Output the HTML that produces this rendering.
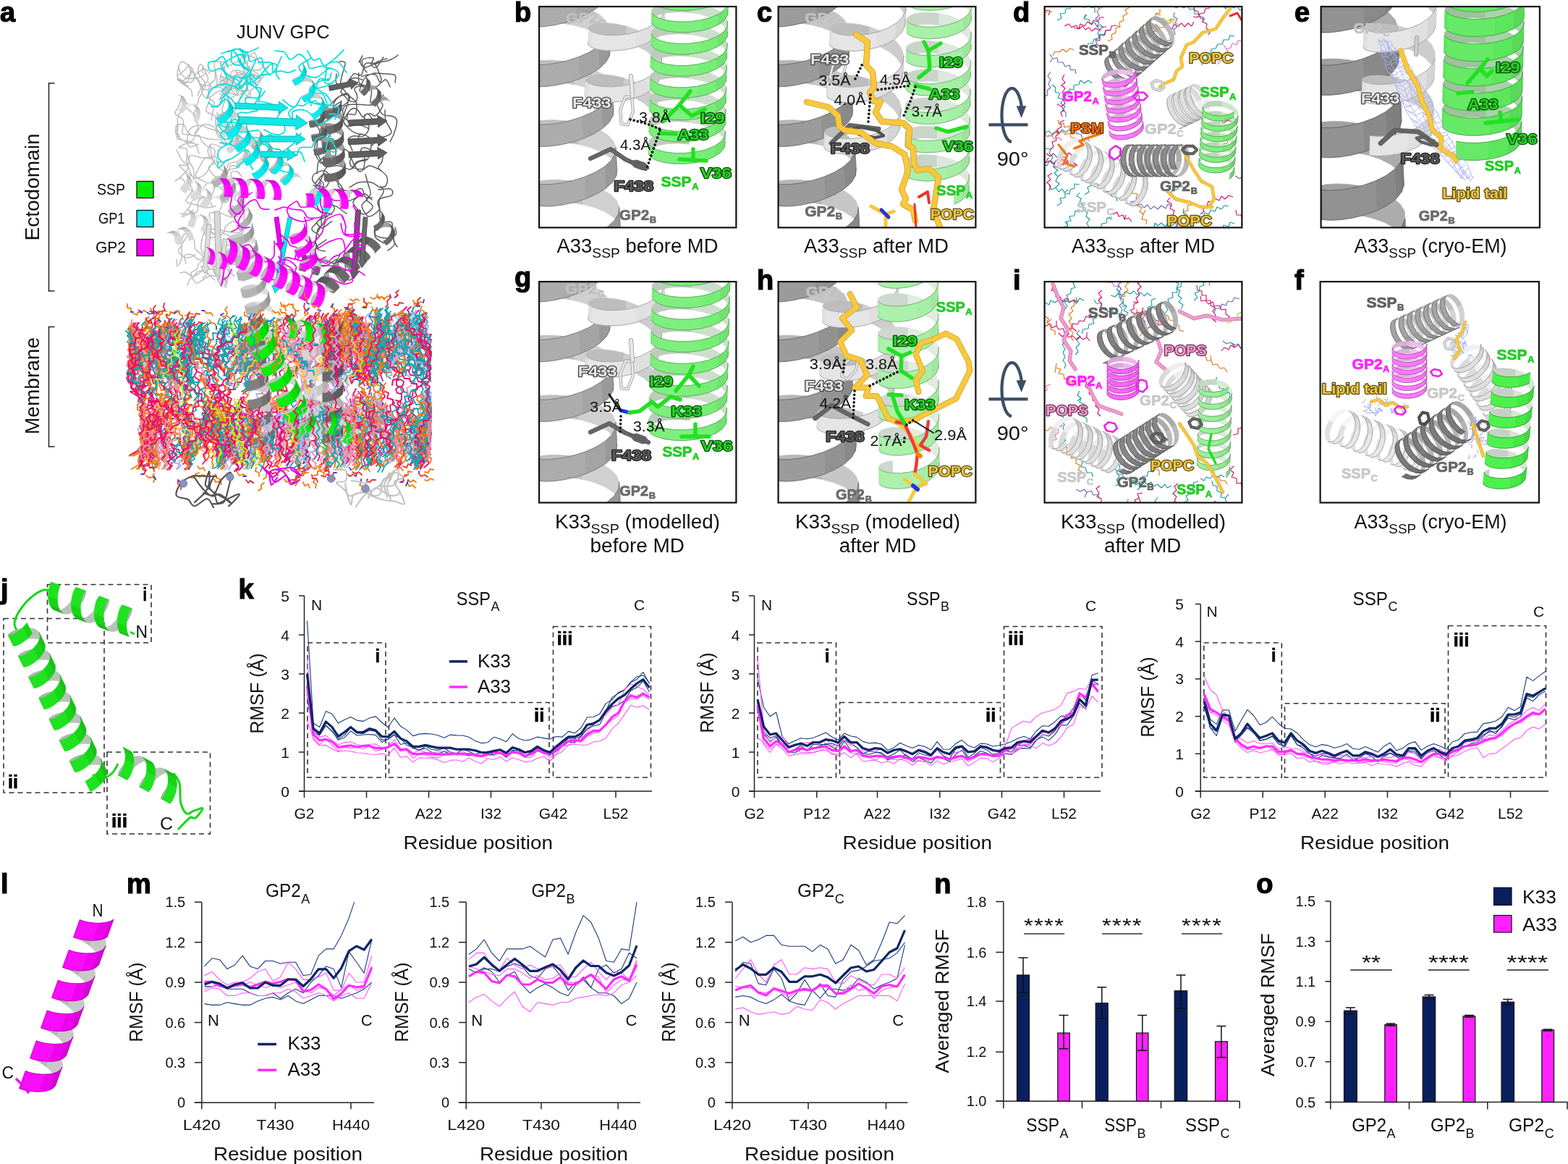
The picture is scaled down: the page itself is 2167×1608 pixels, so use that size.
<!DOCTYPE html>
<html><head><meta charset="utf-8"><title>JUNV GPC figure</title>
<style>html,body{margin:0;padding:0;background:#fff;overflow:hidden}svg{display:block}</style>
</head><body>
<svg width="2167" height="1608" viewBox="0 0 2167 1608" font-family='"Liberation Sans", Arial, sans-serif' fill="#111">
<rect x="0" y="0" width="2167" height="1608" fill="#fff"/>
<defs><clipPath id="cb"><rect x="745" y="9" width="272.5" height="305.5"/></clipPath><clipPath id="cg"><rect x="745" y="389" width="272.5" height="305.5"/></clipPath><clipPath id="cc"><rect x="1075.5" y="9" width="273" height="305.5"/></clipPath><clipPath id="ch"><rect x="1075.5" y="389" width="273" height="305.5"/></clipPath><clipPath id="cd"><rect x="1443.5" y="9" width="273" height="305.5"/></clipPath><clipPath id="ci"><rect x="1443.5" y="389" width="273" height="305.5"/></clipPath><clipPath id="ce"><rect x="1825.5" y="9" width="302.5" height="305.5"/></clipPath><clipPath id="cf"><rect x="1824.5" y="389" width="302.5" height="305.5"/></clipPath></defs>
<text x="327" y="53" font-size="25" textLength="128.5" lengthAdjust="spacingAndGlyphs">JUNV GPC</text>
<line x1="67.5" y1="114.5" x2="67.5" y2="402.5" stroke="#222" stroke-width="1.5"/>
<line x1="66.8" y1="115" x2="75.5" y2="115" stroke="#222" stroke-width="1.5"/>
<line x1="66.8" y1="402" x2="75.5" y2="402" stroke="#222" stroke-width="1.5"/>
<line x1="67.5" y1="451" x2="67.5" y2="617.5" stroke="#222" stroke-width="1.5"/>
<line x1="66.8" y1="451.5" x2="75.5" y2="451.5" stroke="#222" stroke-width="1.5"/>
<line x1="66.8" y1="617" x2="75.5" y2="617" stroke="#222" stroke-width="1.5"/>
<text transform="translate(54 258.5) rotate(-90)" font-size="27" text-anchor="middle" textLength="148" lengthAdjust="spacingAndGlyphs">Ectodomain</text>
<text transform="translate(54 533) rotate(-90)" font-size="27" text-anchor="middle" textLength="134" lengthAdjust="spacingAndGlyphs">Membrane</text>
<text x="134" y="269" font-size="22.5" textLength="39" lengthAdjust="spacingAndGlyphs">SSP</text>
<rect x="189" y="250.5" width="23" height="23" fill="#00ee00" stroke="#111" stroke-width="1.3"/>
<text x="136" y="309" font-size="22.5" textLength="36.5" lengthAdjust="spacingAndGlyphs">GP1</text>
<rect x="189" y="290.5" width="23" height="23" fill="#00f0f0" stroke="#111" stroke-width="1.3"/>
<text x="132" y="349" font-size="22.5" textLength="42" lengthAdjust="spacingAndGlyphs">GP2</text>
<rect x="189" y="330.5" width="23" height="23" fill="#ff00ff" stroke="#111" stroke-width="1.3"/>
<path d="M273 132c1-1 1-4 4-8 2-4 9-10 10-13 2-4-1-6-2-9-1-3-4-9-5-9-1 0 0 7 0 8M333 282c-1-1-8-5-9-8 0-2 7-5 6-6-1-1-8-2-11 0-2 1-2 8-4 10-2 2-8 2-9 2M298 285c-2 0-9 2-14 2-4-1-8-2-12-4-5-1-14-2-15-5-1-4 8-11 9-15 0-4-4-7-3-10 0-2 4-3 5-7 1-3 0-9-1-13-1-4-5-7-6-11-1-3-1-7-2-8M291 137c-1 2-7 12-6 16 1 4 10 4 12 7 2 4 0 12 2 16 1 5 4 6 6 10 3 4 7 11 10 13 2 1 5-1 8-4 2-3 7-10 6-14-2-3-11-7-13-8M272 266c-2-1-8-3-11-5-2-2-3-5-4-7-2-3-4-7-7-8-2 0-8 4-8 4 0-1 5-2 8-6 3-3 10-9 10-13 1-4-5-5-8-9-3-4-7-13-8-15M321 355c-3 0-11-2-15-2-4 0-8 0-10 2-2 2 0 7 0 10-1 2-2 6-4 7-3 1-7-1-10 0-3 1-4 3-7 6-4 2-10 5-12 7-3 3-3 7-4 9M324 382c-1-2-10-8-11-12 0-4 7-8 10-11 3-3 9-5 9-8 1-3-2-9-6-11-4-2-15-1-18-1M284 119c-1 2-5 5-5 8 0 3 4 9 7 9 4 0 10-7 14-9 4-2 6-1 9-3 2-2 5-8 6-10M277 123c1-1 6-5 6-9-1-4-8-9-9-13-1-4 1-12 3-12 1-1 7 8 7 11-1 3-5 6-9 7-5 1-13 2-17 1-5-1-7-5-8-7-2-3-3-7-4-9M323 247c2 1 13 3 13 4 0 1-7 4-11 3-4-2-12-8-13-13-1-4 2-12 5-15 3-3 12-1 15-3 3-3 5-9 6-12 1-4 0-7 0-8M245 172c-1 3-4 9-2 13 2 4 10 9 14 11 4 1 8-1 10-3 2-2 1-5 4-9 2-4 7-11 11-12 4-2 9 1 13 3 4 3 7 11 11 11 4 1 9-8 13-7 4 0 9 9 11 11M314 235c3-1 16-3 17-4 1-1-10-3-12-2-3 2-2 8-4 9-2 1-5-1-8-3-3-2-7-4-9-8-3-3-5-9-6-13-1-4-1-11-1-13M332 134c-1 3-3 12-6 17-2 4-6 9-9 9-3 0-9-3-10-7-1-4 4-12 4-16-1-4-6-7-7-8M270 160c-2-1-8-10-13-10-4 0-9 6-11 10-2 4 0 10 0 15 0 5-3 13-1 16 1 3 5 1 9 3 4 1 12 2 16 5 3 3 4 11 5 13M316 132c0 2-1 9 0 13 1 5 5 8 6 12 2 4 5 10 6 15 0 5-3 9-2 13 2 5 10 10 10 13-1 3-10 6-13 5-3-1-5-7-7-11-2-3-2-8-3-12-1-5-3-12-3-15M285 252c-2-1-12-5-14-8-2-3 1-6 3-10 2-4 6-13 9-15 3-3 7 2 10 0 2-1 5-8 4-11 0-3-7-5-8-6M249 295c2 0 10 1 14 0 4 0 9-1 10-4 2-2-1-9 1-12 1-3 4-6 6-6 3-1 6 2 9 4 2 2 4 7 5 9M310 396c0-2 4-8 2-11-1-2-9-3-13-3-3-1-4-2-8-1-3 1-9 5-13 7-3 1-5 5-7 3-3-2-8-11-7-14 0-3 6-2 8-5 1-2 2-6 2-8M317 170c-1 2-3 12-5 13-3 2-8-1-12-2-4-1-9-3-13-4-3-2-6-4-10-4-5 0-12 2-15 6-3 4-3 13-3 17 0 4 2 6 4 7 3 0 9-3 11-4M300 155c0 2 1 6 1 11 0 5-2 13-2 17 1 4 4 5 6 8 1 2 2 7 5 9 2 1 8-2 9-3M247 148c-1 2-6 6-5 9 1 3 10 5 11 9 2 5-2 15-1 18 1 3 4 1 8 2 4 1 13 2 17 3 5 1 6 2 11 3 4 0 12 1 14 1M304 290c1-1 4-7 3-10-1-3-3-7-7-8-4-1-12 2-16 1-4-1-8-2-8-6 1-3 8-12 11-14 3-2 4 0 8 1 4 2 10 7 14 9 4 2 7 3 8 3M306 204c-2-1-11-6-14-5-3 1-4 6-5 9 0 3 1 5 3 8 1 2 7 6 7 8 0 3-9 4-9 8 1 3 7 11 11 13 3 2 8 0 9 0M274 111c2 2 5 12 9 13 4 1 13-2 16-6 2-3 1-9 0-14 0-4-2-7-2-10-1-3-2-8 1-9 3-1 14 1 16 1M257 364c0-1-3-9-2-11 2-2 6-2 10-1 3 1 8 8 12 7 4 0 6-11 10-12 4-2 10 1 13 5 4 3 4 12 8 14 3 2 8-1 13-1 5 0 14 2 16 0 2-3-3-14-3-16M328 299c-2 0-4 1-9 1-4-1-11-5-16-6-5-1-11-1-13 1-2 1 0 5 0 8-1 3-3 7-2 10 1 4 6 9 7 11M249 377c1 0 5-2 8-1 3 1 6 6 9 6 3 0 5-6 8-7 3-1 6-2 10 0 4 2 10 10 13 12M289 205c-1-2-8-7-10-10-3-3-1-6-4-8-2-1-7 1-10 0-3-2-6-6-8-8-1-3-1-7-4-7-2-1-9 0-10 3 0 3 4 12 5 14M270 247c-2-2-11-8-15-11-3-3-8-6-7-8 0-1 10 2 12 0 3-2-1-12 3-13 3-2 12 3 17 3 6 1 14-3 17-2 4 0 0 7 3 8 3 1 13-2 16-2M267 198c-1 0-6-1-9 0-3 1-11 5-11 6 0 1 9-1 11 2 2 3-1 10 0 15 0 5 2 10 4 15 2 4 3 8 6 10 3 1 8-1 11-2 3-2 6-4 8-8 3-4 7-13 9-15M261 89c-1 1-4 7-7 9-3 3-9 6-9 8 0 2 6 6 9 5 4-1 9-12 12-11 4 1 6 12 10 15 3 3 9 4 12 3 4-1 7-7 9-8M334 362c-1-3-5-13-5-17 0-4 3-4 4-8 0-3-1-9 0-12 0-4 6-7 4-10-1-3-10-9-14-9-4-1-8 4-11 7-2 3-1 7-4 10-4 3-14 5-17 6M267 290c-1 1-4 5-7 6-3 2-9 4-8 3 0-2 7-9 10-13 2-4 2-8 5-10 3-2 9-2 12-3 4 0 8 2 11 0 2-2 5-8 6-12 1-4-3-9-2-12 1-3 7-5 8-6M244 358c0 1 0 10 1 10 1 0 5-7 6-11 1-5 0-10 0-15 0-5 0-13 2-16 1-3 5-4 8-3 3 1 6 6 7 9 2 4 0 8 2 12 3 4 11 9 12 12 1 3-5 6-6 7M283 324c0-1-1-7 2-8 4-1 13 1 18 2 5 0 7 2 12 2 5 1 12 2 16 1 4-1 5-5 6-7 1-3 0-5 0-9 0-5 2-13 0-17-3-3-13-4-16-3-3 0-1 7-2 9M297 97c0 2 1 10 0 13-1 3-5 2-6 6-2 4-4 14-3 18 1 4 7 4 8 7 1 2 0 3-1 8 0 4-3 14-3 17M269 184c1-2 5-5 5-9-1-4-6-12-6-17 0-4 5-8 3-10-1-3-8-3-12-5-3-2-5-10-7-10-2 1-4 12-5 14M264 96c0 2-3 9-2 12 2 2 9-1 11 1 3 1 2 5 3 8 1 3 4 6 4 9 0 3-3 6-5 9-1 3-1 8-3 10-2 2-6 1-9 0-4-1-11-5-13-6M328 237c1 1 6 7 6 7 0 0-4-7-7-7-2-1-7 0-8 2-1 3 4 9 2 12-2 3-12 6-15 8M312 397c1-2 2-10 3-14 0-5 3-8 2-12 0-5-6-10-5-15 1-4 9-10 12-13 2-4 4-6 4-8 0-2-3-4-6-6-4-2-13-7-15-8M296 323c-2-1-9-5-12-4-3 2-4 7-5 12-1 5-2 13 0 17 2 4 8 4 10 6 1 3-2 4-3 8 0 4 1 13 0 17-1 3-5 4-6 5M245 105c0-2 0-6 1-9 1-3 2-10 5-11 3 0 12 6 15 10 2 4 3 12 2 15-1 3-6 4-10 4-4 0-13-5-13-4 0 1 12 7 15 9M321 119c2-1 9-2 12-4 2-3 3-12 5-11 1 1 4 12 3 17-2 4-7 9-11 10-5 1-11-2-15-4-5-1-6-5-10-6-3-1-9 1-11 0-3-1-5-6-6-7M261 321c-1 2-4 8-6 11-2 3-4 5-5 8-2 3-5 6-3 8 1 3 8 8 11 8 4 1 10-3 12-4M337 389c0-2 0-9-1-14 0-5 2-13-1-16-3-4-11-5-15-5-5 0-9 2-13 5-4 3-10 7-11 11-2 3 1 8 2 10M266 133c-1-1 0-6-2-9-1-2-5-3-8-6-4-2-11-8-11-9 0-1 8 7 11 6 3-1 7-10 8-15 0-4-6-12-5-11 1 0 6 12 10 13 4 1 9-6 12-7 4 0 7 5 9 6" fill="none" stroke="#bdbdbd" stroke-width="1.5" stroke-linecap="round" stroke-linejoin="round"/>
<path d="M305 106c2 1 13 3 15 5 2 3-1 6-2 9-2 4-6 12-7 13-1 0 2-9 1-12-1-3-8-4-8-7 0-3 10-7 10-10 1-3-6-5-8-8-1-3-2-10-2-10 1 0 5 7 5 9M336 74c0 2 2 5 3 9 2 4 3 10 5 14 1 4 7 6 6 9-1 3-9 6-12 8-3 3-1 6-5 7-4 2-13 1-17 2-4 1-9 4-7 3 1-1 11-6 14-7M325 98c2 2 7 7 8 10 0 4-2 10-5 11-2 2-9-1-12 0-3 1-2 4-4 7-2 3-9 10-9 11-1 1 5-2 7-5 2-3 6-8 6-11 0-4-5-8-6-9M334 135c1-3 6-10 7-15 0-5 0-13-3-16-4-2-13 0-18 2-4 1-7 7-11 9-3 1-9 1-8 2 1 1 10 1 14 4 5 2 11 11 13 11 1-1-4-12-5-14M331 110c1-2 7-5 8-9 0-4-7-12-7-16 0-4 2-8 6-8 3-1 11 1 15 4 5 3 10 8 10 11 0 3-6 6-10 5-4 0-10-6-13-9-3-3-2-8-5-10-2-2-9-3-11-4M324 105c0 2-1 9 1 13 2 4 11 10 12 10 1 0-6-7-8-10-3-2-4-6-7-6-3 0-9 4-11 5M306 101c0 1-3 7-2 9 2 2 9 4 11 2 3-2 3-12 6-14 4-2 12 0 15 1 3 1 4 6 4 7M304 113c3-1 13-7 17-5 4 2 3 13 7 16 4 3 13 0 16 1 3 2 3 9 1 9-2 0-11-8-13-9M358 89c-1-2-4-15-6-16-3-1-8 7-9 10-2 4-1 9 1 12 2 3 8 3 11 6 2 2 6 8 6 8-1 1-8-5-10-7M317 124c0 2-4 11-3 12 2 1 11-3 14-6 3-3 2-10 5-12 3-3 11 0 15-1 5-1 8-4 11-6 2-2 6-6 6-7-1-1-7 3-8 4M340 137c1-2 4-9 7-12 3-4 9-7 11-10 2-3 3-6 2-8-1-2-6-1-9-3-3-2-6-4-10-8-4-3-9-10-13-11-3-1-6 4-9 5-3 1-7-2-8 0-1 2 0 9 0 11M307 95c1 1 3 5 7 7 3 2 11 5 15 5 3 0 2-5 6-6 3 0 11 3 15 4 4 0 9-1 8 0-1 1-9 6-13 5-5-1-10-10-15-10-4 0-7 10-11 11-4 1-11-5-13-6" fill="none" stroke="#bdbdbd" stroke-width="1.5" stroke-linecap="round" stroke-linejoin="round"/>
<path d="M249.6 262l-.3-.8 .2-1.4 1-1.9 1.5-2.1 2.1-2.2 2.6-2 5.5 4.2-2.5 2-2.1 2.2-1.6 2.1-.9 1.9-.3 1.4 .3 .8zM263.6 272.7l-.3-.9 .2-1.4 1-1.8 1.5-2.2 2.1-2.1 5.6 4.2-2.1 2.1-1.6 2.2-.9 1.8-.3 1.4 .3 .8zM277.6 283.3l-.3-.8 .2-1.4 1-1.9 1.5-2.1 2.1-2.2 2.6-2 5.5 4.2-2.5 2-2.1 2.2-1.6 2.1-.9 1.9-.3 1.4 .3 .8z" fill="#dadada" stroke="#dadada" stroke-width="0.7" stroke-linejoin="round"/>
<path d="M256.7 251.6l2.8-1.6 2.9-1.1 2.8-.5 2.6 .3 2.1 1.1 5.5 4.2-2.1-1.1-2.6-.3-2.8 .5-2.9 1.1-2.8 1.6zM268.1 264.3l2.6-2 2.8-1.7 2.9-1.1 2.8-.4 2.6 .3 2.1 1.1 5.5 4.2-2.1-1.1-2.6-.3-2.8 .4-2.9 1.1-2.8 1.7-2.5 2zM284.7 272.9l2.8-1.6 2.9-1.1 2.8-.4 2.6 .3 2.1 1.1 5.5 4.1-2.1-1-2.6-.3-2.8 .4-2.9 1.1-2.8 1.6z" fill="#eeeeee" stroke="#eeeeee" stroke-width="0.7" stroke-linejoin="round"/>
<path d="M255.9 239.2l1.6 1.7 5.5 4.2-1.6-1.8zM269.9 249.8l1.6 1.8 5.5 4.2-1.6-1.8zM283.9 260.5l1.6 1.8 5.5 4.2-1.6-1.8z" fill="#a5a5a5" stroke="#a5a5a5" stroke-width="0.7" stroke-linejoin="round"/>
<path d="M257.5 240.9l1 2.4 .3 2.8 5.5 4.2-.3-2.8-1-2.4zM271.5 251.6l1 2.4 .3 2.8 5.5 4.2-.3-2.8-1-2.4zM285.5 262.3l1 2.3 .3 2.9 5.5 4.2-.3-2.9-1-2.3z" fill="#b9b9b9" stroke="#b9b9b9" stroke-width="0.7" stroke-linejoin="round"/>
<path d="M258.8 246.1l-.3 3.1-.8 3.2 5.5 4.2 .8-3.2 .3-3.1zM250.4 262.1l-.8-.1 5.5 4.2 .9 .1zM272.8 256.8l-.3 3.1-.8 3.1 5.5 4.2 .8-3.1 .3-3.1zM264.4 272.8l-.8-.1 5.5 4.1 .9 .1zM286.8 267.5l-.3 3.1-.8 3.1 5.5 4.2 .8-3.1 .3-3.1zM278.4 283.4l-.8-.1 5.5 4.2 .9 .1z" fill="#cdcdcd" stroke="#cdcdcd" stroke-width="0.7" stroke-linejoin="round"/>
<path d="M257.7 252.4l-1.3 3-1.5 2.6-1.6 2-1.6 1.4-1.3 .7 5.6 4.2 1.2-.7 1.6-1.4 1.6-2 1.6-2.6 1.2-3zM271.7 263l-1.3 3-1.5 2.6-1.6 2.1-1.6 1.4-1.3 .7 5.6 4.1 1.2-.6 1.6-1.4 1.6-2.1 1.6-2.6 1.2-3zM285.7 273.7l-1.3 3-1.5 2.6-1.6 2.1-1.6 1.4-1.3 .6 5.6 4.2 1.2-.6 1.6-1.4 1.6-2.1 1.6-2.6 1.2-3z" fill="#d9d9d9" stroke="#d9d9d9" stroke-width="0.7" stroke-linejoin="round"/>
<path d="M260.1 311.6l-.3-.6 0-1.3 .5-1.8 1-2.2 1.4-2.3 1.9-2.4 6.4 2.5-1.8 2.4-1.4 2.4-1 2.1-.5 1.9 0 1.2 .3 .6zM278.1 318.6l-.3-.6 0-1.3 .5-1.8 1-2.2 1.4-2.3 1.9-2.4 6.4 2.5-1.8 2.4-1.4 2.4-1 2.1-.5 1.9 0 1.2 .3 .6z" fill="#dadada" stroke="#dadada" stroke-width="0.7" stroke-linejoin="round"/>
<path d="M264.6 301l2.2-2 2.4-1.7 2.5-1 2.4-.3 2.3 .4 6.5 2.5-2.3-.4-2.5 .3-2.5 1-2.4 1.7-2.2 2zM282.6 308l2.2-2 2.4-1.7 2.5-1 2.4-.3 2.3 .4 6.5 2.5-2.3-.4-2.5 .3-2.5 1-2.4 1.7-2.2 2z" fill="#eeeeee" stroke="#eeeeee" stroke-width="0.7" stroke-linejoin="round"/>
<path d="M258.4 289.4l2 1.2 6.4 2.5-1.9-1.2zM276.4 296.4l2 1.2 6.4 2.5-1.9-1.2z" fill="#a5a5a5" stroke="#a5a5a5" stroke-width="0.7" stroke-linejoin="round"/>
<path d="M260.4 290.6l1.6 1.9 1.1 2.5 6.5 2.5-1.2-2.5-1.6-1.9zM278.4 297.6l1.6 1.9 1.1 2.5 6.5 2.5-1.2-2.5-1.6-1.9z" fill="#b9b9b9" stroke="#b9b9b9" stroke-width="0.7" stroke-linejoin="round"/>
<path d="M263.1 295l.7 2.8 .2 3 6.4 2.5-.2-3-.6-2.8zM260.8 311.4l-.7 .2 6.5 2.5 .6-.2zM281.1 302l.7 2.8 .2 3 6.4 2.5-.2-3-.6-2.8zM278.8 318.4l-.7 .2 6.5 2.5 .6-.2z" fill="#cdcdcd" stroke="#cdcdcd" stroke-width="0.7" stroke-linejoin="round"/>
<path d="M264 300.8l-.2 3-.6 2.7-.7 2.3-.9 1.6-.8 1 6.4 2.5 .9-1 .8-1.6 .8-2.3 .5-2.7 .2-3zM282 307.8l-.2 3-.6 2.7-.7 2.3-.9 1.6-.8 1 6.4 2.5 .9-1 .8-1.6 .8-2.3 .5-2.7 .2-3z" fill="#d9d9d9" stroke="#d9d9d9" stroke-width="0.7" stroke-linejoin="round"/>
<path d="M300.3 187.5l.1-.6 .9-.9 1.7-1.3 2.3-1.2 2.8-1.2 3.2-1 4 5.9-3.1 .9-2.9 1.2-2.3 1.3-1.6 1.2-.9 1-.2 .6zM312.9 205.8l.2-.6 .9-.9 1.6-1.2 2.4-1.3 2.8-1.2 4 5.9-2.8 1.2-2.3 1.3-1.7 1.2-.9 .9-.1 .6zM325.6 224.1l.1-.5 1-1 1.6-1.2 2.3-1.3 2.8-1.2 3.2-.9 4.1 5.9-3.2 .9-2.8 1.2-2.3 1.3-1.7 1.2-.9 1-.2 .5z" fill="#dadada" stroke="#dadada" stroke-width="0.7" stroke-linejoin="round"/>
<path d="M311.3 181.3l3.2-.5 3.2-.1 2.9 .6 2.4 1.1 1.7 1.7 4 5.9-1.7-1.7-2.4-1.2-2.8-.5-3.2 0-3.3 .6zM320.8 200.6l3.1-1 3.3-.5 3.2 0 2.8 .5 2.4 1.1 1.8 1.8 4 5.9-1.7-1.8-2.4-1.1-2.9-.6-3.1 .1-3.3 .5-3.2 1zM336.6 218l3.3-.6 3.1 0 2.9 .5 2.4 1.2 1.7 1.7 4.1 5.9-1.8-1.7-2.3-1.2-2.9-.5-3.2 0-3.2 .6z" fill="#eeeeee" stroke="#eeeeee" stroke-width="0.7" stroke-linejoin="round"/>
<path d="M312 165.8l1 2.2 4.1 5.9-1-2.2zM324.7 184.1l1 2.3 4 5.9-1-2.3zM337.4 202.5l1 2.2 4 5.9-1-2.2z" fill="#a5a5a5" stroke="#a5a5a5" stroke-width="0.7" stroke-linejoin="round"/>
<path d="M313 168l.3 2.7-.6 2.8 4.1 5.9 .5-2.9-.2-2.6zM325.7 186.4l.2 2.6-.5 2.9 4.1 5.9 .5-2.9-.3-2.6zM338.4 204.7l.2 2.6-.5 2.9 4 5.9 .5-2.9-.2-2.6z" fill="#b9b9b9" stroke="#b9b9b9" stroke-width="0.7" stroke-linejoin="round"/>
<path d="M312.7 173.5l-1.1 3-1.7 2.9 4.1 5.8 1.7-2.8 1.1-3zM300.8 187.5l-.5 0 4 5.9 .6 0zM325.4 191.9l-1.1 2.9-1.7 2.9 4 5.9 1.7-2.9 1.2-2.9zM313.5 205.9l-.6-.1 4.1 5.9 .6 .1zM338.1 210.2l-1.2 3-1.6 2.8 4 5.9 1.7-2.9 1.1-2.9zM326.2 224.2l-.6-.1 4 5.9 .6 .1z" fill="#cdcdcd" stroke="#cdcdcd" stroke-width="0.7" stroke-linejoin="round"/>
<path d="M309.9 179.4l-2 2.6-2.1 2.2-2 1.7-1.7 1.1-1.3 .5 4.1 5.9 1.2-.5 1.7-1.1 2.1-1.7 2.1-2.2 2-2.7zM322.6 197.7l-2 2.6-2.1 2.2-2.1 1.7-1.7 1.2-1.2 .5 4.1 5.9 1.2-.6 1.7-1.1 2-1.7 2.1-2.2 2-2.6zM335.3 216l-2 2.6-2.2 2.3-2 1.7-1.7 1.1-1.2 .5 4 5.9 1.3-.5 1.7-1.2 2-1.7 2.1-2.2 2-2.6z" fill="#d9d9d9" stroke="#d9d9d9" stroke-width="0.7" stroke-linejoin="round"/>
<path d="M245.5 337.9l-.8-.1-1-.9-.9-1.7-.9-2.2-.7-2.7-.3-2.9 6.6-2.4 .3 3 .6 2.6 .9 2.3 1 1.6 .9 .9 .8 .1z" fill="#dadada" stroke="#dadada" stroke-width="0.7" stroke-linejoin="round"/>
<path d="M240.9 327.4l.2-2.9 .5-2.8 1.1-2.3 1.4-1.8 1.9-1.1 6.5-2.4-1.8 1.1-1.5 1.8-1.1 2.3-.5 2.8-.1 2.9z" fill="#eeeeee" stroke="#eeeeee" stroke-width="0.7" stroke-linejoin="round"/>
<path d="M231.3 321.8l2.2-.4 6.5-2.3-2.2 .3zM246 316.5l2.1-.4 6.5-2.4-2.1 .4z" fill="#a5a5a5" stroke="#a5a5a5" stroke-width="0.7" stroke-linejoin="round"/>
<path d="M233.5 321.4l2.2 .5 2.4 1.1 6.5-2.4-2.3-1.1-2.3-.4zM248.1 316.1l2.3 .4 2.3 1.2 6.5-2.4-2.3-1.1-2.3-.5z" fill="#b9b9b9" stroke="#b9b9b9" stroke-width="0.7" stroke-linejoin="round"/>
<path d="M238.1 323l2.2 1.8 1.9 2.1 6.6-2.3-2-2.2-2.2-1.8zM246 337.3l-.5 .6 6.5-2.4 .5-.6zM252.7 317.7l2.2 1.7 2 2.2 6.5-2.4-2-2.1-2.2-1.8zM260.7 332l-.5 .6 6.5-2.4 .5-.6z" fill="#cdcdcd" stroke="#cdcdcd" stroke-width="0.7" stroke-linejoin="round"/>
<path d="M242.2 326.9l1.7 2.5 1.2 2.4 .8 2.3 .3 1.9-.2 1.3 6.5-2.4 .2-1.3-.3-1.9-.8-2.2-1.2-2.5-1.6-2.4zM256.9 321.6l1.6 2.4 1.3 2.5 .7 2.3 .3 1.9-.1 1.3 6.5-2.4 .1-1.3-.3-1.9-.7-2.3-1.2-2.4-1.7-2.5z" fill="#d9d9d9" stroke="#d9d9d9" stroke-width="0.7" stroke-linejoin="round"/>
<path d="M247.5 152.5l0-.4 .6-1 1-1.3 1.5-1.6 2-1.6 2.3-1.5 5.1 3.3-2.3 1.6-2 1.6-1.5 1.6-1.1 1.3-.5 .9-.1 .4z" fill="#dadada" stroke="#dadada" stroke-width="0.7" stroke-linejoin="round"/>
<path d="M254.9 145.1l2.6-1.3 2.7-.8 2.6-.2 2.5 .4 2.2 1 5 3.3-2.2-1-2.4-.3-2.7 .2-2.6 .8-2.6 1.2z" fill="#eeeeee" stroke="#eeeeee" stroke-width="0.7" stroke-linejoin="round"/>
<path d="M247.5 130.8l1.7 1.6 5.1 3.4-1.8-1.6zM267.5 144.2l1.7 1.6 5.1 3.3-1.8-1.6z" fill="#a5a5a5" stroke="#a5a5a5" stroke-width="0.7" stroke-linejoin="round"/>
<path d="M249.2 132.4l1.3 2.2 .8 2.5 5 3.4-.7-2.6-1.3-2.1zM269.2 145.8l1.3 2.1 .8 2.6 5 3.3-.7-2.5-1.3-2.2z" fill="#b9b9b9" stroke="#b9b9b9" stroke-width="0.7" stroke-linejoin="round"/>
<path d="M251.3 137.1l.3 2.8-.2 2.9 5.1 3.3 .1-2.8-.3-2.8zM247.8 152.3l-.3 .2 5 3.3 .4-.2zM271.3 150.5l.3 2.7-.2 2.9 5.1 3.4 .1-2.9-.3-2.8zM267.8 165.6l-.3 .2 5 3.4 .4-.2z" fill="#cdcdcd" stroke="#cdcdcd" stroke-width="0.7" stroke-linejoin="round"/>
<path d="M251.4 142.8l-.5 2.7-.7 2.4-.9 2.1-.8 1.4-.7 .9 5.1 3.3 .6-.8 .9-1.5 .8-2 .8-2.4 .5-2.8zM271.4 156.1l-.5 2.7-.7 2.5-.9 2-.8 1.5-.7 .8 5.1 3.4 .6-.9 .9-1.4 .8-2.1 .8-2.4 .5-2.7z" fill="#d9d9d9" stroke="#d9d9d9" stroke-width="0.7" stroke-linejoin="round"/>
<path d="M296 292.1 L298.6 372.3 L294.3 372.5 L303 385 L310.9 371.9 L306.6 372.1 L304 291.9Z" fill="#d8d8d8" stroke="#999" stroke-width="0.8" stroke-linejoin="round"/>
<path d="M286 309.7 L280.9 368.2 L277.6 367.9 L283 378 L290.1 369 L286.8 368.7 L292 310.3Z" fill="#dedede" stroke="#999" stroke-width="0.8" stroke-linejoin="round"/>
<path d="M308 329.7 L302.9 385.2 L299.7 384.9 L305 395 L312.1 386 L308.9 385.7 L314 330.3Z" fill="#dedede" stroke="#999" stroke-width="0.8" stroke-linejoin="round"/>
<path d="M316 328.7l.5-1.3 1.8-1.4 3.1-1.4 4.2-1.2 4.9-.7 5.2-.1 2.5 10.5-5.2 .1-4.9 .7-4.2 1.1-3.1 1.4-1.8 1.5-.5 1.3zM321.6 352.3l.5-1.3 1.8-1.4 3.1-1.4 4.2-1.2 4.9-.7 2.5 10.5-4.9 .7-4.2 1.1-3.1 1.4-1.8 1.5-.5 1.3zM327.2 375.9l.5-1.3 1.8-1.4 3.1-1.4 4.2-1.2 4.9-.7 5.2-.1 2.5 10.5-5.2 .1-4.9 .7-4.2 1.1-3.1 1.4-1.8 1.5-.5 1.3zM332.8 399.5l.5-1.3 1.8-1.4 3.1-1.4 4.2-1.2 4.9-.7 5.2-.1 2.5 10.5-5.2 .1-4.9 .7-4.2 1.1-3.1 1.4-1.8 1.5-.5 1.3zM338.4 423.1l.5-1.3 1.8-1.4 3.1-1.4 4.2-1.2 4.9-.7 2.5 10.5-4.9 .7-4.2 1.1-3.1 1.4-1.8 1.5-.5 1.3z" fill="#cccccc" stroke="#cccccc" stroke-width="0.7" stroke-linejoin="round"/>
<path d="M335.7 322.6l5.2 .6 4.8 1.3 3.9 2 2.8 2.6 1.5 3.1 2.5 10.5-1.5-3.2-2.8-2.6-4-2-4.7-1.3-5.2-.5zM336.1 346.3l5.2-.1 5.2 .6 4.8 1.3 3.9 2 2.8 2.6 1.5 3.1 2.5 10.5-1.5-3.2-2.8-2.6-4-2-4.7-1.3-5.2-.5-5.2 .1zM346.9 369.8l5.2 .6 4.8 1.3 3.9 2 2.8 2.6 1.5 3.1 2.5 10.5-1.5-3.2-2.8-2.6-4-2-4.7-1.3-5.2-.5zM352.5 393.4l5.2 .6 4.8 1.3 3.9 2 2.8 2.6 1.5 3.1 2.5 10.5-1.5-3.2-2.8-2.6-4-2-4.7-1.3-5.2-.5zM352.9 417.1l5.2-.1 5.2 .6 4.8 1.3 3.9 2 2.8 2.6 1.5 3.1 2.5 10.5-1.5-3.2-2.8-2.6-4-2-4.7-1.3-5.2-.5-5.2 .1z" fill="#dedede" stroke="#dedede" stroke-width="0.7" stroke-linejoin="round"/>
<path d="M348.3 308.6l0 3.5 2.5 10.4 0-3.4zM353.9 332.2l0 3.5 2.5 10.4 0-3.4zM359.5 355.8l0 3.5 2.5 10.4 0-3.4zM365.1 379.4l0 3.5 2.5 10.4 0-3.4zM370.7 403l0 3.5 2.5 10.4 0-3.4z" fill="#898989" stroke="#898989" stroke-width="0.7" stroke-linejoin="round"/>
<path d="M348.3 312.1l-1.3 3.6-2.6 3.5 2.5 10.5 2.6-3.6 1.3-3.6zM353.9 335.7l-1.3 3.6-2.6 3.5 2.5 10.5 2.6-3.6 1.3-3.6zM359.5 359.3l-1.3 3.6-2.6 3.5 2.5 10.5 2.6-3.6 1.3-3.6zM365.1 382.9l-1.3 3.6-2.6 3.5 2.5 10.5 2.6-3.6 1.3-3.6zM370.7 406.5l-1.3 3.6-2.6 3.5 2.5 10.5 2.6-3.6 1.3-3.6z" fill="#989898" stroke="#989898" stroke-width="0.7" stroke-linejoin="round"/>
<path d="M344.4 319.2l-3.6 3.3-4.4 2.9 2.5 10.4 4.3-2.9 3.7-3.2zM317 329.7l-1-1 2.5 10.5 1 .9zM350 342.8l-3.6 3.3-4.4 2.9 2.5 10.4 4.3-2.9 3.7-3.2zM322.6 353.3l-1-1 2.5 10.5 1 .9zM355.6 366.4l-3.6 3.3-4.4 2.9 2.5 10.4 4.3-2.9 3.7-3.2zM328.2 376.9l-1-1 2.5 10.5 1 .9zM361.2 390l-3.6 3.3-4.4 2.9 2.5 10.4 4.3-2.9 3.7-3.2zM333.8 400.5l-1-1 2.5 10.5 1 .9zM366.8 413.6l-3.6 3.3-4.4 2.9 2.5 10.4 4.3-2.9 3.7-3.2zM339.4 424.1l-1-1 2.5 10.5 1 .9z" fill="#a8a8a8" stroke="#a8a8a8" stroke-width="0.7" stroke-linejoin="round"/>
<path d="M336.4 325.4l-4.8 2.2-4.6 1.6-4.3 .8-3.4 .2-2.3-.5 2.5 10.4 2.3 .5 3.4-.1 4.2-.9 4.7-1.6 4.8-2.2zM342 349l-4.8 2.2-4.6 1.6-4.3 .8-3.4 .2-2.3-.5 2.5 10.4 2.3 .5 3.4-.1 4.2-.9 4.7-1.6 4.8-2.2zM347.6 372.6l-4.8 2.2-4.6 1.6-4.3 .8-3.4 .2-2.3-.5 2.5 10.4 2.3 .5 3.4-.1 4.2-.9 4.7-1.6 4.8-2.2zM353.2 396.2l-4.8 2.2-4.6 1.6-4.3 .8-3.4 .2-2.3-.5 2.5 10.4 2.3 .5 3.4-.1 4.2-.9 4.7-1.6 4.8-2.2zM358.8 419.8l-4.8 2.2-4.6 1.6-4.3 .8-3.4 .2-2.3-.5 2.5 10.4 2.3 .5 3.4-.1 4.2-.9 4.7-1.6 4.8-2.2z" fill="#b4b4b4" stroke="#b4b4b4" stroke-width="0.7" stroke-linejoin="round"/>
<path d="M292.2 250.6l.2-.8 1.1-1.2 2-1.4 2.7-1.4 3.4-1.2 3.7-1 4.5 7.8-3.8 .9-3.3 1.3-2.8 1.4-2 1.4-1.1 1.1-.2 .8zM303.6 270.6l.2-.8 1.1-1.2 2-1.4 2.8-1.4 3.3-1.2 3.8-1 4.4 7.8-3.7 .9-3.4 1.3-2.8 1.4-2 1.4-1.1 1.1-.1 .8zM315.1 290.6l.1-.8 1.1-1.2 2-1.4 2.8-1.4 3.4-1.2 4.4 7.7-3.4 1.3-2.7 1.4-2 1.4-1.1 1.1-.2 .8z" fill="#cccccc" stroke="#cccccc" stroke-width="0.7" stroke-linejoin="round"/>
<path d="M305.3 243.6l3.9-.4 3.7 .1 3.2 .8 2.6 1.5 1.8 2.1 4.4 7.7-1.8-2.1-2.6-1.4-3.2-.8-3.7-.2-3.8 .5zM316.8 263.6l3.8-.4 3.7 .1 3.2 .8 2.6 1.5 1.8 2.1 4.5 7.7-1.8-2.1-2.6-1.4-3.3-.8-3.7-.2-3.8 .5zM324.5 284.6l3.7-1 3.8-.4 3.7 .1 3.3 .8 2.6 1.5 1.8 2.1 4.4 7.7-1.8-2.1-2.6-1.4-3.3-.8-3.6-.2-3.9 .5-3.7 .9z" fill="#dedede" stroke="#dedede" stroke-width="0.7" stroke-linejoin="round"/>
<path d="M309.1 227.7l.9 2.6 4.4 7.7-.9-2.6zM320.5 247.7l.9 2.6 4.4 7.7-.9-2.6zM331.9 267.7l.9 2.6 4.4 7.7-.8-2.6zM343.4 287.7l.8 2.6 4.5 7.7-.9-2.6z" fill="#898989" stroke="#898989" stroke-width="0.7" stroke-linejoin="round"/>
<path d="M310 230.3l-.1 3-1 3.2 4.5 7.7 .9-3.2 .1-3zM321.4 250.3l-.1 3-.9 3.2 4.4 7.7 .9-3.2 .1-3zM332.8 270.3l-.1 3-.9 3.2 4.4 7.7 1-3.2 0-3zM344.2 290.3l0 3-1 3.2 4.4 7.7 1-3.2 .1-3z" fill="#989898" stroke="#989898" stroke-width="0.7" stroke-linejoin="round"/>
<path d="M308.9 236.5l-1.7 3.2-2.3 3.1 4.4 7.7 2.3-3 1.8-3.3zM293 250.8l-.8-.2 4.4 7.7 .8 .3zM320.4 256.5l-1.8 3.2-2.3 3.1 4.4 7.7 2.4-3 1.7-3.3zM304.4 270.8l-.8-.2 4.5 7.7 .7 .3zM331.8 276.5l-1.8 3.2-2.3 3.1 4.4 7.7 2.4-3 1.7-3.3zM315.8 290.8l-.7-.2 4.4 7.7 .8 .3zM343.2 296.5l-1.7 3.2-2.4 3.1 4.5 7.7 2.3-3 1.7-3.3zM327.3 310.8l-.8-.2 4.4 7.7 .8 .3z" fill="#a8a8a8" stroke="#a8a8a8" stroke-width="0.7" stroke-linejoin="round"/>
<path d="M304.9 242.8l-2.7 2.7-2.8 2.3-2.7 1.7-2.2 1-1.5 .3 4.4 7.8 1.6-.4 2.2-1 2.6-1.7 2.8-2.2 2.7-2.8zM316.3 262.8l-2.7 2.7-2.8 2.3-2.6 1.7-2.2 1-1.6 .3 4.4 7.8 1.6-.4 2.2-1 2.6-1.7 2.8-2.2 2.7-2.8zM327.7 282.8l-2.7 2.7-2.8 2.3-2.6 1.7-2.2 1-1.6 .3 4.5 7.8 1.5-.4 2.2-1 2.7-1.7 2.8-2.2 2.6-2.8zM339.1 302.8l-2.6 2.7-2.8 2.3-2.7 1.7-2.2 1-1.5 .3 4.4 7.8 1.6-.4 2.2-1 2.6-1.7 2.8-2.2 2.7-2.8z" fill="#b4b4b4" stroke="#b4b4b4" stroke-width="0.7" stroke-linejoin="round"/>
<path d="M346.8 201.4l.1-.7 .8-1 1.5-1.4 2.2-1.5 2.7-1.4 3.1-1.1 4.8 6.4-3.1 1.2-2.7 1.4-2.2 1.4-1.5 1.4-.8 1.1-.1 .6zM358.8 217.4l.1-.7 .8-1 1.5-1.4 2.2-1.5 2.7-1.4 4.8 6.5-2.7 1.4-2.2 1.4-1.5 1.4-.8 1.1-.1 .6z" fill="#cccccc" stroke="#cccccc" stroke-width="0.7" stroke-linejoin="round"/>
<path d="M357.2 194.3l3.2-.8 3.1-.2 2.8 .3 2.4 1 1.7 1.6 4.8 6.4-1.7-1.6-2.4-.9-2.8-.4-3.1 .3-3.2 .7zM366.1 211.4l3.1-1.1 3.2-.8 3.1-.2 2.8 .3 2.4 1 1.7 1.6 4.8 6.4-1.7-1.6-2.4-.9-2.8-.4-3.1 .3-3.2 .7-3.1 1.2z" fill="#dedede" stroke="#dedede" stroke-width="0.7" stroke-linejoin="round"/>
<path d="M358.4 180.2l1 2.1 4.8 6.4-1-2.1zM370.4 196.2l1 2.1 4.8 6.4-1-2.1zM382.4 212.2l1 2.1 4.8 6.4-1-2.1z" fill="#898989" stroke="#898989" stroke-width="0.7" stroke-linejoin="round"/>
<path d="M359.4 182.3l.3 2.5-.5 2.8 4.9 6.5 .4-2.8-.3-2.6zM371.4 198.3l.3 2.5-.5 2.8 4.9 6.5 .4-2.8-.3-2.6zM383.4 214.3l.3 2.5-.5 2.8 4.9 6.5 .4-2.8-.3-2.6z" fill="#989898" stroke="#989898" stroke-width="0.7" stroke-linejoin="round"/>
<path d="M359.2 187.6l-1.1 3-1.6 2.8 4.8 6.4 1.7-2.8 1.1-2.9zM347.4 201.5l-.6-.1 4.8 6.4 .7 .1zM371.2 203.6l-1.1 3-1.6 2.8 4.8 6.4 1.7-2.8 1.1-2.9zM359.4 217.5l-.6-.1 4.8 6.4 .7 .1zM383.2 219.6l-1.1 3-1.6 2.8 4.8 6.4 1.7-2.8 1.1-2.9zM371.4 233.5l-.6-.1 4.8 6.4 .7 .1z" fill="#a8a8a8" stroke="#a8a8a8" stroke-width="0.7" stroke-linejoin="round"/>
<path d="M356.5 193.4l-2 2.6-2 2.2-2.1 1.7-1.7 1.1-1.3 .5 4.9 6.4 1.2-.4 1.8-1.2 2-1.7 2.1-2.2 1.9-2.6zM368.5 209.4l-2 2.6-2 2.2-2.1 1.7-1.7 1.1-1.3 .5 4.9 6.4 1.2-.4 1.8-1.2 2-1.7 2.1-2.2 1.9-2.6zM380.5 225.4l-2 2.6-2 2.2-2.1 1.7-1.7 1.1-1.3 .5 4.9 6.4 1.2-.4 1.8-1.2 2-1.7 2.1-2.2 1.9-2.6z" fill="#b4b4b4" stroke="#b4b4b4" stroke-width="0.7" stroke-linejoin="round"/>
<path d="M501 268c-2 1-12 7-13 11-1 3 5 8 7 11 3 3 5 7 8 6 4 0 12-7 12-10 1-4-8-8-9-10 0-3 6-4 6-8 1-3-2-9-3-13-2-5-3-12-4-14M530 131c-2 2-8 10-13 13-4 2-8 1-12 1-4 0-7-1-12-1-5 0-14 0-17 3-3 3-3 10-1 14 2 4 10 9 15 11 5 1 12-2 14-3M445 360c2 1 7 1 11 2 3 2 9 2 11 5 3 3 1 9 4 13 2 3 9 7 12 7 3 0 6-5 6-8 0-2-4-6-8-6-4-1-13 2-15 2M546 314c0 1 3 8 1 10-2 3-9 5-14 5-4 0-12-2-14-4-2-3 0-10 3-13 3-2 11-4 15-3 4 1 6 6 8 10 1 4-2 10-1 13 1 4 4 7 5 9M507 100c-1-1-4-5-5-8-1-3-3-8-1-10 3-2 13-3 15-2 2 1-4 7-3 9 0 2 5 6 7 4 3-2 8-11 10-14M524 139c1 1 5 3 5 7-1 3-7 13-10 14-3 2-5-4-8-3-3 0-8 1-8 4 0 3 7 11 7 15 0 5-4 10-8 12-3 2-10-1-14 0-3 1-7 2-7 5 0 3 5 12 6 15M455 177c-1 2-10 10-10 14 0 4 11 7 12 11 0 4-5 10-8 14-2 3-7 4-9 8-2 5-1 13-2 16M527 85c-2 1-10 4-14 5-4 2-7 4-10 3-2-1-5-4-5-7-1-3 3-9 3-9 0 0-4 7-5 9M550 76c-2 2-9 6-14 8-6 1-12 2-18 3-5 1-10-1-13 1-3 3-3 13-6 16-2 2-6-4-10-2-3 2-7 11-11 13-4 2-11 3-13 0-2-2 0-11 0-13M443 180c-1 2-4 9-4 14-1 5-1 11-1 15 1 4 2 7 4 10 2 4 4 10 8 11 4 2 12-2 18-1 5 0 12 6 16 5 4-1 5-8 9-10 4-3 11-3 14-4M434 261c2-2 7-8 9-12 3-5 4-11 6-15 2-3 4-4 6-7 3-4 8-10 9-14 1-4 0-7-3-10-2-3-10-6-12-9-1-3 3-7 2-9-1-3-7-6-8-7M470 242c-1 1-5 8-8 7-4-1-8-12-13-13-4-1-11 2-14 4-3 2-4 6-3 9 1 3 5 6 8 8 3 1 8 3 11 1 3-3 6-13 7-16M465 358c-3 2-10 7-14 9-4 1-10 1-13-1-3-3-2-9-2-13 0-4-1-8 1-12 3-3 12-8 14-10M483 259c2-1 8-6 13-7 5-1 12-1 17 0 5 1 9 6 12 7 4 0 8-1 9-4 2-3 2-9 0-12-2-4-10-8-11-11-1-3 4-5 5-9 1-4 2-13 2-15M449 347c-2-1-9 0-11-4-2-3-2-12-1-17 1-5 5-10 7-14 1-5-1-11 1-13 1-2 7 0 8 0M497 126c0-1 1-5 2-8 2-4 3-9 7-12 3-3 7-4 12-5 5 0 11 1 16 1 5 1 10 0 12 2 2 2 0 8 0 10M514 201c2-2 7-8 10-10 4-2 8-2 10-3 3-2 7-2 7-6 0-3-6-10-8-15-1-5-1-12-1-15M501 110c-2 0-9-4-13-2-4 1-9 7-12 10-2 4-5 6-5 9 1 4 10 8 10 12 1 5-3 10-4 14-1 5-4 9-3 13 2 5 7 11 11 14 4 4 11 5 14 6M531 336c-2-1-10-5-12-8-2-4-2-10-1-13 2-3 4-6 8-7 4-1 12-3 15-1 3 3 1 10 1 15 1 5 4 12 3 16-2 4-8 7-9 8M510 178c-2-1-8-5-13-5-5-1-14 2-17 1-4-1-5-3-5-7 1-4 6-12 9-15 3-3 6-3 9-1 3 1 6 10 9 11 2 1 3-6 6-5 3 1 7 9 10 11 3 1 8 0 9 0M448 150c1-1 5-3 8-5 3-2 6-7 10-10 3-2 10-6 13-6 3 0 5 5 4 8-1 3-6 7-9 9-4 2-7 3-11 4-3 1-7 3-9 4M440 344c-1-2-4-7-4-11 1-3 6-5 5-8-1-2-10-5-10-8-1-3 4-6 7-10 4-4 10-10 12-12M431 344c1-2 3-5 5-10 1-4 2-13 3-17 2-4 5-4 7-7 2-4 6-11 5-14 0-3-5 0-8-3-2-3-7-12-8-16 0-4 3-4 5-8 2-4 7-10 7-14 1-3-5-6-6-8M481 116c3 0 10 0 16 1 5 1 12 4 16 4 5 0 9-2 11-4 2-3 3-5 3-8-1-4-3-8-4-11-1-4-6-8-4-11 2-3 13-5 16-6M472 140c-1 1-7 3-9 6-2 4-2 9-4 13-3 5-11 8-11 12-1 4 9 8 9 11 1 4-5 10-6 12M436 171c1 2 6 8 6 11 1 4-1 5-3 8-1 4-4 9-4 13-1 4-1 6 0 9 2 4 6 11 8 13 3 1 7-3 8-3M508 275c-1 2-8 5-8 9 0 4 6 14 9 15 4 1 13-6 15-9 2-3-3-7-2-11 1-4 8-11 8-14 1-4-3-6-4-8M433 256c2 1 9 0 13 3 3 2 5 6 6 10 0 4-4 9-2 12 2 3 10 2 15 4 4 3 12 9 14 10M511 125c-2-1-9-6-13-6-4 0-8 2-8 4-1 2 3 5 3 7 1 3 1 8-1 10-1 1-7 1-9-1-2-1 0-8-3-8-3-1-11 1-14 5-4 3-6 10-6 14-1 3 3 5 4 7M525 303c0-2 0-9 0-13 0-5-3-12 0-15 3-3 14-3 16-5 3-3 2-7-1-9-3-1-14 1-17 1M514 273c-1 0-7 2-9-1-3-2-2-10-5-11-3-2-7 2-11 2-4 0-9 1-13 0-3-1-6-3-8-5-1-3-1-8 0-12 1-4 5-11 6-13M481 198c2-1 10-3 13-5 3-3 1-8 4-8 3 0 11 3 13 6 3 3 2 7 2 11-1 5-2 14-5 18-2 3-9 1-13 4-4 2-6 7-8 9M539 196c1-2 3-6 5-10 1-4 4-10 4-14 1-4 1-8-3-10-3-3-12-1-16-4-5-3-6-11-8-13-3-3-8 0-9-4-1-3 3-13 1-18-3-4-13-5-16-8-3-4-1-11-1-14M526 235c-3-1-11-6-15-6-5 0-10 8-13 8-4 0-5-4-7-7-3-4-5-10-6-14-2-3-2-6-5-8-4-3-12-2-15-4-4-3-2-10-5-12-4-2-12 3-16 2-4-1-6-6-8-7M501 362c1-2 4-9 4-13-1-3-3-7-7-7-3-1-11 3-14 6-4 3-5 8-7 12-1 5 2 13 0 16-2 3-7 5-10 4-3-1-7-7-7-11 0-3 4-7 6-10 2-3 3-6 4-7M469 85c1 0 7-1 8 2 1 3-3 11-4 16-1 5-3 9-2 13 1 5 5 9 8 13 4 5 11 8 13 12 2 5 1 14-1 17-1 2-8-2-10 0-2 2-2 8 0 10 1 3 6 4 7 5M436 253c2-2 7-11 11-12 4-1 11 3 15 7 5 3 10 9 12 13 2 3-1 6 0 8 1 3 3 8 6 9 4 0 12-5 16-7 4-1 7-4 9-3 3 1 7 7 9 8M459 306c-1 0-5 3-7 5-2 1-5 4-7 4-3-1-8-6-7-8 1-3 10-6 13-8 4-2 6-3 8-5 2-2 4-4 3-7-1-3-6-11-8-13M503 216c-2 0-7-5-10-4-3 1-8 6-9 9-1 4 0 8 3 10 3 2 12 4 15 2 2-2 2-11 2-15-1-3-6-3-6-5-1-3 1-9 5-9 3-1 13 5 15 6M539 120c-1-2-3-9-6-10-2-1-5 5-7 4-3-1-4-8-6-10-3-2-6-2-9-1-4 0-10 2-11 3" fill="none" stroke="#5c5c5c" stroke-width="1.5" stroke-linecap="round" stroke-linejoin="round"/>
<path d="M442.4 151.5l.5-1 1.7-.9 2.8-.6 3.6-.2 4.1 .2 4.3 .7 .7 10.7-4.3-.8-4.2-.2-3.5 .3-2.8 .6-1.7 .9-.6 1zM443.7 173.2l.6-.9 1.7-.9 2.7-.6 3.6-.3 4.1 .2 4.4 .8 .6 10.7-4.3-.8-4.1-.2-3.6 .3-2.8 .6-1.7 .9-.5 .9zM445 195l.6-.9 1.7-.9 2.8-.6 3.6-.3 4.1 .2 4.3 .7 .6 10.7-4.3-.7-4.1-.2-3.6 .3-2.7 .6-1.8 .9-.5 .9zM446.4 216.8l.5-1 1.7-.8 2.8-.6 3.6-.3 4.1 .2 4.3 .7 .7 10.7-4.3-.7-4.2-.2-3.5 .2-2.8 .7-1.7 .8-.6 1z" fill="#959595" stroke="#959595" stroke-width="0.7" stroke-linejoin="round"/>
<path d="M459.4 149.7l4.2 1.3 3.7 1.8 3 2.2 1.9 2.7 .8 2.8 .6 10.7-.8-2.8-1.9-2.7-2.9-2.2-3.7-1.8-4.2-1.3zM460.8 171.5l4.1 1.2 3.8 1.8 2.9 2.3 1.9 2.6 .8 2.9 .7 10.7-.8-2.9-2-2.6-2.9-2.3-3.7-1.8-4.2-1.2zM462.1 193.2l4.2 1.3 3.7 1.8 2.9 2.3 2 2.6 .7 2.9 .7 10.7-.8-2.9-1.9-2.6-3-2.3-3.7-1.8-4.2-1.3zM463.4 215l4.2 1.3 3.7 1.8 3 2.3 1.9 2.6 .8 2.8 .6 10.7-.8-2.8-1.9-2.6-2.9-2.3-3.7-1.8-4.2-1.3z" fill="#a0a0a0" stroke="#a0a0a0" stroke-width="0.7" stroke-linejoin="round"/>
<path d="M471.6 138.7l-.4 3 .7 10.7 .4-3zM473 160.5l-.5 2.9 .7 10.7 .4-2.9zM474.3 182.3l-.4 2.9 .6 10.7 .5-2.9zM475.6 204.1l-.4 2.9 .7 10.7 .4-2.9zM477 225.8l-.5 3 .7 10.7 .4-3z" fill="#4f4f4f" stroke="#4f4f4f" stroke-width="0.7" stroke-linejoin="round"/>
<path d="M471.2 141.7l-1.6 2.8-2.6 2.6 .6 10.7 2.7-2.6 1.6-2.8zM472.5 163.4l-1.6 2.9-2.6 2.6 .7 10.7 2.6-2.6 1.6-2.9zM473.9 185.2l-1.6 2.9-2.7 2.6 .7 10.7 2.6-2.6 1.6-2.9zM475.2 207l-1.6 2.8-2.6 2.6 .6 10.7 2.7-2.6 1.6-2.8zM476.5 228.8l-1.6 2.8-2.6 2.6 .7 10.7 2.6-2.6 1.6-2.8z" fill="#565656" stroke="#565656" stroke-width="0.7" stroke-linejoin="round"/>
<path d="M467 147.1l-3.5 2.3-4 1.7 .7 10.7 4-1.7 3.4-2.3zM443 152.3l-.6-.8 .6 10.7 .7 .8zM468.3 168.9l-3.5 2.2-4 1.8 .7 10.7 4-1.8 3.5-2.2zM444.4 174.1l-.7-.9 .7 10.7 .6 .9zM469.6 190.7l-3.4 2.2-4 1.8 .6 10.7 4-1.8 3.5-2.2zM445.7 195.9l-.7-.9 .7 10.7 .7 .9zM471 212.4l-3.5 2.3-4 1.8 .7 10.7 4-1.8 3.4-2.3zM447 217.7l-.6-.9 .6 10.7 .7 .9zM472.3 234.2l-3.5 2.3-4 1.8 .7 10.6 4-1.7 3.5-2.3zM448.4 239.4l-.7-.8 .7 10.7 .6 .8z" fill="#5c5c5c" stroke="#5c5c5c" stroke-width="0.7" stroke-linejoin="round"/>
<path d="M459.5 151.1l-4.2 1.3-4 .7-3.6 .2-2.9-.3-1.8-.7 .7 10.7 1.8 .7 2.8 .3 3.6-.2 4.1-.7 4.2-1.3zM460.8 172.9l-4.2 1.3-4 .7-3.6 .1-2.8-.2-1.8-.7 .6 10.7 1.8 .6 2.9 .3 3.5-.1 4.1-.7 4.2-1.3zM462.2 194.7l-4.2 1.2-4.1 .7-3.6 .2-2.8-.3-1.8-.6 .7 10.7 1.8 .6 2.8 .3 3.6-.2 4-.7 4.2-1.2zM463.5 216.5l-4.2 1.2-4 .7-3.6 .2-2.9-.3-1.8-.6 .7 10.7 1.8 .6 2.8 .3 3.6-.2 4.1-.7 4.2-1.2zM464.8 238.3l-4.2 1.2-4 .7-3.6 .2-2.8-.3-1.8-.7 .6 10.7 1.8 .7 2.9 .3 3.5-.2 4.1-.7 4.2-1.3z" fill="#696969" stroke="#696969" stroke-width="0.7" stroke-linejoin="round"/>
<path d="M427.1 167.6l.4-.6 1.2-.6 2-.5 2.6-.3 3.1-.1 3.2 .4 1.4 7.9-3.3-.3-3 0-2.6 .3-2 .5-1.2 .6-.4 .6zM430.5 186.9l.3-.6 1.2-.6 2-.5 2.7-.3 3 0 1.4 7.9-3.1 0-2.6 .3-2 .6-1.2 .6-.4 .5zM433.8 206.2l.4-.5 1.2-.6 2-.6 2.6-.3 3 0 3.3 .4 1.3 7.9-3.2-.4-3 0-2.7 .4-2 .5-1.2 .6-.3 .6z" fill="#959595" stroke="#959595" stroke-width="0.7" stroke-linejoin="round"/>
<path d="M439.6 165.9l3.2 .7 2.9 1.2 2.3 1.6 1.7 1.9 .8 2.2 1.4 7.9-.9-2.2-1.6-1.9-2.4-1.6-2.9-1.1-3.1-.8zM439.7 184.9l3.2 .3 3.2 .8 2.9 1.2 2.3 1.5 1.7 2 .8 2.1 1.4 8-.8-2.2-1.7-1.9-2.3-1.6-2.9-1.2-3.2-.8-3.2-.3zM446.3 204.6l3.1 .7 2.9 1.2 2.4 1.6 1.6 1.9 .9 2.2 1.3 7.9-.8-2.2-1.7-1.9-2.3-1.6-2.9-1.2-3.2-.7z" fill="#a0a0a0" stroke="#a0a0a0" stroke-width="0.7" stroke-linejoin="round"/>
<path d="M447.2 154.2l-.1 2.3 1.4 7.9 0-2.3zM450.5 173.5l-.1 2.3 1.4 8 .1-2.4zM453.8 192.8l0 2.4 1.3 7.9 .1-2.3z" fill="#4f4f4f" stroke="#4f4f4f" stroke-width="0.7" stroke-linejoin="round"/>
<path d="M447.1 156.5l-.9 2.4-1.7 2.2 1.4 8 1.7-2.3 .9-2.4zM450.4 175.8l-.9 2.4-1.7 2.3 1.4 7.9 1.7-2.3 .9-2.3zM453.8 195.2l-.9 2.3-1.7 2.3 1.3 7.9 1.7-2.3 .9-2.3z" fill="#565656" stroke="#565656" stroke-width="0.7" stroke-linejoin="round"/>
<path d="M444.5 161.1l-2.3 2.1-2.8 1.8 1.4 7.9 2.8-1.8 2.3-2zM427.7 168l-.6-.4 1.4 7.9 .5 .4zM447.8 180.5l-2.3 2-2.7 1.8 1.3 7.9 2.8-1.7 2.3-2.1zM431 187.3l-.5-.4 1.3 7.9 .6 .4zM451.2 199.8l-2.3 2.1-2.8 1.8 1.4 7.9 2.7-1.8 2.3-2.1zM434.3 206.7l-.5-.5 1.4 8 .5 .4z" fill="#5c5c5c" stroke="#5c5c5c" stroke-width="0.7" stroke-linejoin="round"/>
<path d="M439.4 165l-2.9 1.4-2.9 1-2.5 .6-2.1 .2-1.3-.2 1.3 7.9 1.4 .2 2-.2 2.6-.6 2.9-1 2.9-1.4zM442.8 184.3l-3 1.4-2.8 1-2.6 .6-2.1 .2-1.3-.2 1.4 7.9 1.3 .2 2.1-.2 2.5-.5 2.9-1 2.9-1.5zM446.1 203.7l-2.9 1.4-2.9 1-2.6 .5-2 .2-1.4-.1 1.4 7.9 1.3 .1 2.1-.1 2.6-.6 2.8-1 3-1.4z" fill="#696969" stroke="#696969" stroke-width="0.7" stroke-linejoin="round"/>
<path d="M498 127.1l0-.6 .6-1 1.2-1.4 1.8-1.6 2.4-1.5 2.6-1.4 4.9 4.9-2.6 1.4-2.4 1.5-1.8 1.6-1.2 1.4-.6 1 0 .6zM513 142.1l0-.6 .6-1 1.2-1.4 1.8-1.6 2.4-1.5 2.6-1.4 4.9 4.9-2.6 1.4-2.4 1.5-1.8 1.6-1.2 1.4-.6 1 0 .6z" fill="#959595" stroke="#959595" stroke-width="0.7" stroke-linejoin="round"/>
<path d="M506.6 119.6l2.9-.9 3-.5 2.7 .1 2.5 .8 1.9 1.4 4.9 4.9-1.9-1.4-2.5-.8-2.7-.1-3 .5-2.9 .9zM521.6 134.6l2.9-.9 3-.5 2.7 .1 2.5 .8 1.9 1.4 4.9 4.9-1.9-1.4-2.5-.8-2.7-.1-3 .5-2.9 .9z" fill="#a0a0a0" stroke="#a0a0a0" stroke-width="0.7" stroke-linejoin="round"/>
<path d="M504.6 105.5l1.4 1.9 4.9 4.9-1.4-1.9zM519.6 120.5l1.4 1.9 4.9 4.9-1.4-1.9z" fill="#4f4f4f" stroke="#4f4f4f" stroke-width="0.7" stroke-linejoin="round"/>
<path d="M506 107.4l.8 2.5 .1 2.7 4.9 4.9-.1-2.7-.8-2.5zM521 122.4l.8 2.5 .1 2.7 4.9 4.9-.1-2.7-.8-2.5z" fill="#565656" stroke="#565656" stroke-width="0.7" stroke-linejoin="round"/>
<path d="M506.9 112.6l-.5 3-.9 2.9 4.9 4.9 .9-2.9 .5-3zM498.6 127.1l-.6 0 4.9 4.9 .6 0zM521.9 127.6l-.5 3-.9 2.9 4.9 4.9 .9-2.9 .5-3zM513.6 142.1l-.6 0 4.9 4.9 .6 0z" fill="#5c5c5c" stroke="#5c5c5c" stroke-width="0.7" stroke-linejoin="round"/>
<path d="M505.5 118.5l-1.4 2.6-1.5 2.4-1.6 1.8-1.4 1.2-1 .6 4.9 4.9 1-.6 1.4-1.2 1.6-1.8 1.5-2.4 1.4-2.6zM520.5 133.5l-1.4 2.6-1.5 2.4-1.6 1.8-1.4 1.2-1 .6 4.9 4.9 1-.6 1.4-1.2 1.6-1.8 1.5-2.4 1.4-2.6z" fill="#696969" stroke="#696969" stroke-width="0.7" stroke-linejoin="round"/>
<path d="M482.2 174 L522.4 171.7 L522.7 176 L535 167 L521.8 159.4 L522 163.7 L481.8 166Z" fill="#5e5e5e" stroke="#444" stroke-width="0.8" stroke-linejoin="round"/>
<path d="M482.2 200 L522.4 197.7 L522.7 202 L535 193 L521.8 185.4 L522 189.7 L481.8 192Z" fill="#5e5e5e" stroke="#444" stroke-width="0.8" stroke-linejoin="round"/>
<path d="M482.2 218 L522.4 215.7 L522.7 220 L535 211 L521.8 203.4 L522 207.7 L481.8 210Z" fill="#5e5e5e" stroke="#444" stroke-width="0.8" stroke-linejoin="round"/>
<path d="M455.7 125.4 L484.7 119.6 L485.4 123.3 L495 114 L482.6 109.1 L483.3 112.8 L454.3 118.6Z" fill="#5e5e5e" stroke="#444" stroke-width="0.8" stroke-linejoin="round"/>
<path d="M461 404.9l-1 .2-1.7-.7-2.1-1.5-2.4-2.4-2.4-3-2.1-3.5 7.7-7.5 2.1 3.5 2.4 3 2.4 2.4 2.1 1.6 1.7 .6 1-.2zM475.2 391.1l-1 .2-1.7-.7-2.1-1.5-2.4-2.4-2.4-3-2.1-3.5 7.7-7.4 2.1 3.4 2.4 3.1 2.4 2.3 2.1 1.6 1.7 .7 1-.2zM489.4 377.3l-1 .2-1.7-.6-2.1-1.6-2.4-2.4-2.4-3-2.1-3.5 7.7-7.4 2.1 3.5 2.4 3 2.4 2.3 2.1 1.6 1.7 .7 1-.2zM503.7 363.6l-1.1 .2-1.6-.7-2.2-1.6-2.4-2.3-2.3-3.1-2.2-3.4 7.7-7.5 2.2 3.5 2.3 3 2.4 2.4 2.2 1.5 1.6 .7 1.1-.2z" fill="#959595" stroke="#959595" stroke-width="0.7" stroke-linejoin="round"/>
<path d="M449.3 394l-1.7-3.7-1-3.7-.2-3.5 .7-2.9 1.5-2.3 7.7-7.5-1.5 2.3-.7 3 .2 3.4 1 3.7 1.7 3.7zM463.5 380.2l-1.7-3.7-.9-3.7-.2-3.5 .6-2.9 1.6-2.3 7.7-7.4-1.6 2.2-.6 3 .2 3.4 .9 3.7 1.7 3.8zM477.7 366.4l-1.6-3.7-1-3.7-.2-3.4 .7-3 1.5-2.3 7.7-7.4-1.6 2.3-.6 2.9 .2 3.4 1 3.8 1.6 3.7zM491.9 352.7l-1.6-3.8-1-3.7-.2-3.4 .7-3 1.5-2.2 7.7-7.5-1.5 2.3-.7 2.9 .2 3.5 1 3.7 1.6 3.7z" fill="#a0a0a0" stroke="#a0a0a0" stroke-width="0.7" stroke-linejoin="round"/>
<path d="M434.4 391.7l2.3-1.5 7.7-7.4-2.3 1.4zM448.6 377.9l2.3-1.5 7.7-7.4-2.3 1.4zM462.9 364.1l2.3-1.4 7.7-7.5-2.3 1.5zM477.1 350.3l2.3-1.4 7.7-7.5-2.3 1.5zM491.3 336.6l2.3-1.5 7.7-7.4-2.3 1.4z" fill="#4f4f4f" stroke="#4f4f4f" stroke-width="0.7" stroke-linejoin="round"/>
<path d="M436.7 390.2l3-.6 3.4 .4 7.7-7.5-3.4-.3-3 .6zM450.9 376.4l3-.5 3.5 .3 7.7-7.5-3.5-.3-3 .6zM465.2 362.7l2.9-.6 3.5 .3 7.7-7.5-3.5-.3-2.9 .6zM479.4 348.9l3-.6 3.4 .3 7.7-7.4-3.4-.3-3 .5zM493.6 335.1l3-.6 3.4 .3 7.7-7.4-3.4-.3-3 .6z" fill="#565656" stroke="#565656" stroke-width="0.7" stroke-linejoin="round"/>
<path d="M443.1 390l3.7 1.1 3.7 1.7 7.7-7.4-3.7-1.8-3.7-1.1zM461.2 403.9l-.2 1 7.7-7.5 .2-1zM457.4 376.2l3.6 1.1 3.7 1.7 7.7-7.4-3.7-1.8-3.6-1.1zM475.5 390.1l-.3 1 7.7-7.4 .3-1.1zM471.6 362.4l3.7 1.1 3.6 1.8 7.7-7.5-3.7-1.8-3.6-1.1zM489.7 376.3l-.3 1 7.7-7.4 .3-1zM485.8 348.6l3.7 1.1 3.6 1.8 7.7-7.5-3.6-1.7-3.7-1.1zM503.9 362.5l-.2 1.1 7.7-7.5 .2-1zM500 334.8l3.7 1.1 3.7 1.8 7.7-7.4-3.7-1.8-3.7-1.1zM518.1 348.8l-.2 1 7.7-7.5 .2-1z" fill="#5c5c5c" stroke="#5c5c5c" stroke-width="0.7" stroke-linejoin="round"/>
<path d="M450.5 392.8l3.4 2.3 2.9 2.4 2.3 2.5 1.5 2.2 .6 1.7 7.7-7.5-.6-1.7-1.5-2.2-2.3-2.4-2.9-2.5-3.4-2.2zM464.7 379l3.4 2.3 3 2.5 2.2 2.4 1.5 2.2 .7 1.7 7.7-7.5-.7-1.7-1.5-2.1-2.2-2.5-3-2.5-3.4-2.2zM478.9 365.3l3.4 2.2 3 2.5 2.3 2.4 1.5 2.2 .6 1.7 7.7-7.4-.6-1.7-1.5-2.2-2.3-2.5-3-2.4-3.4-2.3zM493.1 351.5l3.5 2.2 2.9 2.5 2.3 2.5 1.5 2.1 .6 1.7 7.7-7.4-.6-1.7-1.5-2.2-2.3-2.5-2.9-2.4-3.5-2.3zM507.4 337.7l3.4 2.3 2.9 2.4 2.3 2.5 1.5 2.2 .6 1.7 7.7-7.5-.6-1.7-1.5-2.2-2.3-2.4-2.9-2.5-3.4-2.2z" fill="#696969" stroke="#696969" stroke-width="0.7" stroke-linejoin="round"/>
<path d="M491.5 289.8 L486.2 373.6 L482.4 373.4 L489 385 L497 374.3 L493.2 374 L498.5 290.2Z" fill="#5e5e5e" stroke="#444" stroke-width="0.8" stroke-linejoin="round"/>
<path d="M502 299.8 L497.7 360.2 L494.5 360 L500 370 L506.9 360.9 L503.7 360.6 L508 300.2Z" fill="#6a6a6a" stroke="#444" stroke-width="0.8" stroke-linejoin="round"/>
<path d="M413.6 372.9l-.5-.6-.2-1.5 .3-2.3 .8-2.8 1.3-3 1.7-3.1 7.7 2.3-1.7 3-1.3 3.1-.8 2.7-.3 2.3 .2 1.5 .5 .6zM431.1 377.9l-.5-.6-.2-1.5 .3-2.3 .8-2.8 1.3-3 1.7-3.1 7.7 2.3-1.7 3-1.3 3.1-.8 2.7-.3 2.3 .2 1.5 .5 .6z" fill="#959595" stroke="#959595" stroke-width="0.7" stroke-linejoin="round"/>
<path d="M417 359.6l2.1-2.8 2.4-2.3 2.5-1.6 2.5-.7 2.4 .2 7.8 2.2-2.4-.2-2.6 .7-2.5 1.6-2.4 2.4-2.1 2.8zM434.5 364.6l2.1-2.8 2.4-2.3 2.5-1.6 2.5-.7 2.4 .2 7.8 2.2-2.4-.2-2.6 .7-2.5 1.6-2.4 2.4-2.1 2.8z" fill="#a0a0a0" stroke="#a0a0a0" stroke-width="0.7" stroke-linejoin="round"/>
<path d="M411.4 347.4l2.2 1.1 7.7 2.2-2.1-1.1zM428.9 352.4l2.2 1.1 7.7 2.2-2.1-1.1z" fill="#4f4f4f" stroke="#4f4f4f" stroke-width="0.7" stroke-linejoin="round"/>
<path d="M413.6 348.5l1.7 1.9 1.3 2.7 7.7 2.3-1.3-2.7-1.7-2zM431.1 353.5l1.7 1.9 1.3 2.7 7.7 2.3-1.3-2.7-1.7-2z" fill="#565656" stroke="#565656" stroke-width="0.7" stroke-linejoin="round"/>
<path d="M416.6 353.1l.8 3.3 .3 3.5 7.7 2.2-.3-3.5-.8-3.2zM414.4 372.7l-.8 .2 7.7 2.2 .8-.2zM434.1 358.1l.8 3.3 .3 3.5 7.7 2.2-.3-3.5-.8-3.2zM431.9 377.7l-.8 .2 7.7 2.2 .8-.2z" fill="#5c5c5c" stroke="#5c5c5c" stroke-width="0.7" stroke-linejoin="round"/>
<path d="M417.7 359.9l-.1 3.5-.5 3.2-.8 2.8-1 2.1-.9 1.2 7.7 2.2 1-1.2 .9-2.1 .8-2.8 .5-3.2 .1-3.5zM435.2 364.9l-.1 3.5-.5 3.2-.8 2.8-1 2.1-.9 1.2 7.7 2.2 1-1.2 .9-2.1 .8-2.8 .5-3.2 .1-3.5z" fill="#696969" stroke="#696969" stroke-width="0.7" stroke-linejoin="round"/>
<path d="M516.4 312.7l.2-.5 .9-.8 1.5-1.1 2.2-1 2.6-1 3-.6 3.9 5.7-3 .7-2.7 .9-2.1 1.1-1.6 1-.9 .8-.1 .5z" fill="#959595" stroke="#959595" stroke-width="0.7" stroke-linejoin="round"/>
<path d="M526.8 307.7l3.1-.3 3 .2 2.8 .8 2.3 1.3 1.7 1.9 3.9 5.7-1.7-1.8-2.4-1.4-2.7-.7-3-.2-3.1 .2z" fill="#a0a0a0" stroke="#a0a0a0" stroke-width="0.7" stroke-linejoin="round"/>
<path d="M526.4 291.6l1 2.3 3.9 5.7-1.1-2.3zM539.7 311.6l1.1 2.3 3.8 5.7-1-2.3z" fill="#4f4f4f" stroke="#4f4f4f" stroke-width="0.7" stroke-linejoin="round"/>
<path d="M527.4 293.9l.4 2.6-.4 2.9 3.9 5.7 .3-2.8-.3-2.7zM540.8 313.9l.3 2.6-.3 2.9 3.8 5.7 .4-2.8-.4-2.7z" fill="#565656" stroke="#565656" stroke-width="0.7" stroke-linejoin="round"/>
<path d="M527.4 299.4l-.9 2.8-1.5 2.8 3.9 5.8 1.4-2.8 1-2.9zM516.9 312.7l-.5 0 3.9 5.7 .5 .1zM540.8 319.4l-1 2.8-1.4 2.8 3.8 5.8 1.5-2.8 .9-2.9zM530.3 332.7l-.5 0 3.8 5.7 .5 .1z" fill="#5c5c5c" stroke="#5c5c5c" stroke-width="0.7" stroke-linejoin="round"/>
<path d="M525 305l-1.7 2.5-1.9 2.1-1.8 1.6-1.6 1-1.1 .5 3.9 5.8 1.1-.5 1.5-1.1 1.8-1.6 1.9-2.1 1.8-2.4zM538.4 325l-1.8 2.5-1.9 2.1-1.8 1.6-1.5 1-1.1 .5 3.8 5.8 1.1-.5 1.6-1.1 1.8-1.6 1.9-2.1 1.7-2.4z" fill="#696969" stroke="#696969" stroke-width="0.7" stroke-linejoin="round"/>
<path d="M429 81c-2 1-6 3-9 5-2 2-8 4-7 7 0 3 4 8 9 10 4 3 11 4 15 4 4-1 5-3 8-5 3-2 8-7 10-8M315 109c-2-2-5-12-9-14-4-2-12 5-15 3-3-1-4-9-3-11 1-3 7-1 10-3 3-1 8-7 10-6 3 2 6 13 7 15M313 120c-1 1-7 4-6 7 1 3 10 7 13 10 3 3 4 8 7 7 3-1 6-11 9-15 2-3 6-3 6-6 1-4-3-12-3-16 0-4 4-6 4-9-1-2-5-2-7-5-3-3-6-9-7-11M338 83c-1-1-2-8-5-8-4 0-10 4-14 6-5 3-11 6-12 10 0 4 5 10 9 14 4 3 12 4 14 7 3 4 0 11-1 13M288 142c2 1 9 7 12 6 4-1 5-9 8-13 3-4 8-7 11-12 3-5 3-14 5-17 2-2 6 2 9 2 3 0 6-4 10-2 4 2 10 10 12 12M437 139c-2 0-6 2-9 2-3-1-7-8-11-7-3 1-6 12-9 13-3 2-7-1-10-3-2-2-6-5-7-6M346 113c0-3 1-12 0-15-1-4-4-2-7-5-3-2-6-7-8-11-3-4-5-11-9-12-4-2-13 4-16 4M425 70c1 2 5 11 8 13 2 2 6-3 9-2 2 2 4 10 7 12 2 2 6 0 10 2 3 1 10 4 9 8 0 3-7 10-11 13-5 3-10 4-14 5-5 2-12 2-14 2M292 148c2-1 7-1 10-2 4-2 6-9 10-9 3 1 6 10 11 12 4 2 13 2 16-1 3-2-2-10 1-13 3-2 13 2 17 0 5-1 7-7 9-9M408 97c-1 0-6 3-9 3-3 1-6-1-10-2-4 0-10 3-12 1-2-2 2-10-1-12-3-2-15-1-18-1M475 69c-2 2-7 7-11 11-4 3-10 8-14 10-4 2-6 1-10 2-4 1-10 4-12 2-3-1-1-7-4-10-2-3-7-9-11-9-4 0-8 8-12 7-3 0-5-8-8-10-3-2-10-1-13-2M389 78c-1 3-5 12-7 16-3 4-3 7-7 8-4 2-11 0-15 2-4 2-6 7-9 9-3 2-6 1-10 2-4 2-10 6-12 7M357 141c0-2 3-7 2-11 0-3-4-7-7-10-4-3-9-8-12-8-3 1-4 9-6 10-3 1-7-1-11-2-3-1-7-4-12-4-5 0-12 3-17 6-4 3-7 11-8 13M316 72c2-1 9-5 12-4 4 0 7 4 9 8 1 3 2 11-1 13-2 2-12 1-14-1-3-2-3-8-2-12 0-3 0-7 3-8 3-1 11 1 14 3 3 2 2 7 2 9M452 143c-1-2-3-11-6-13-4-2-14-2-17 1-3 2 1 15 1 15 0 1-2-8-2-12 0-5-1-9 1-13 3-3 10-7 14-9 4-2 10-2 11-3M373 104c-1-1-6-6-8-10-2-4-1-12-4-14-4-1-12 6-15 5-3-1-2-8-4-11-3-3-11-7-11-7 0 0 6 6 11 5 4 0 12-5 15-6M349 147c1-1 4-4 6-8 2-4 6-13 6-16-1-3-5-1-8-3-4-2-10-3-11-7-1-3 2-10 5-15 2-5 6-13 7-16M386 109c-1-1-4-4-4-7-1-3 2-10 0-12-1-3-6-2-8-1-3 2-6 6-9 9-3 3-7 10-10 11-3 1-5-5-8-5-3 0-7 2-11 5-3 3-9 9-11 11M460 115c-2 0-9 2-11-1-1-3 2-12 2-16 1-5-1-8 1-9 3-2 11-5 15-3 5 2 10 12 12 14M458 101c-1 2-1 8-4 10-3 1-9-4-12-2-3 2-5 10-4 13 2 4 8 5 12 8 3 3 8 10 8 13 0 2-4 3-8 3-3-1-10-4-13-4" fill="none" stroke="#10dede" stroke-width="1.8" stroke-linecap="round" stroke-linejoin="round"/>
<path d="M456 188c1 1 2 5 4 9 1 3 7 11 5 12-1 2-12 0-14-2-2-3 2-10 3-14 0-3-1-7-1-9M327 231c2-2 9-8 13-11 4-3 7-5 10-8 3-4 5-10 9-13 4-3 10-5 13-7 4-1 8-1 10-2M341 173c0 3 1 14 3 17 2 3 7-1 10 0 3 0 5 3 8 3 3-1 7-6 10-7 3 0 7 3 8 3M309 169c3 0 13-2 17 1 3 3 1 12 3 16 2 4 10 6 10 10 1 3-5 9-8 10-2 1-5-4-9-5-4-2-12-2-15-3M338 177c-2-2-8-11-12-12-3-2-6 3-8 4-2 2-3 6-5 7-3 0-11-5-12-4 0 0 4 6 7 9 4 2 12 2 14 5 1 3-1 10-4 12-3 2-11-1-14-1M366 196c2 2 8 7 11 9 4 2 7 0 10 2 2 1 2 5 6 6 3 2 12 3 16 2 4-2 2-9 6-11 3-2 12 1 16-1 3-1 2-7 5-10 2-2 9-4 11-5M463 165c1-3 7-12 5-16-2-3-12-3-17-4-5-1-8-1-12-1-4-1-9-3-12-3-3 1-5 4-8 5-3 1-5-2-9 0-3 2-11 6-11 10-1 4 6 10 9 12 3 2 6-1 8-2M421 223c-1-2-3-11-6-13-3-2-9 0-14 1-4 1-8 4-11 7-2 2-3 5-3 8 0 3-1 8 2 10 3 2 13 2 15 2M348 188c1 2 3 5 7 8 3 2 10 2 14 6 4 3 6 13 9 14 4 1 9-4 14-7 4-3 10-7 14-11 4-4 8-11 10-14M317 175c-2 2-11 7-12 10-1 2 2 6 5 7 2 1 6 0 10-1 3-2 8-5 8-8 1-3-5-6-6-9-2-3-4-7-2-10 1-3 7-7 11-8 3-2 6 0 10 0 4-1 12-3 15-3M359 140c3 1 12 2 17 4 4 2 12 4 13 7 1 4-7 11-7 14 1 3 8 3 10 6 1 2 3 8 1 11-2 3-7 5-11 4-5 0-14-5-17-7M405 166c0-2-3-9 0-12 2-2 10-3 15-2 4 1 10 6 13 9 4 3 3 10 7 11 3 0 9-4 14-6 4-3 10-7 10-8 0-2-8 0-9 0M307 224c-1-1-5-4-6-7 0-3 0-7 2-10 3-4 12-7 15-10 3-3 2-6 4-8 2-3 4-5 7-6 4-1 8-1 13-1 5-1 13-2 15-2M301 223c0 2-1 9 1 9 2 0 7-7 10-10 3-2 5-1 8-3 4-2 11-8 15-10 4-2 7-3 9 0 2 2 1 12 1 16 1 4 4 8 4 9" fill="none" stroke="#10dede" stroke-width="1.8" stroke-linecap="round" stroke-linejoin="round"/>
<path d="M298.7 163l0-1 1.1-1.4 2-1.6 2.9-1.8 3.5-1.6 3.9-1.3 5.3 8.3-3.9 1.3-3.5 1.6-2.9 1.7-2 1.7-1.1 1.4 0 .9zM310.9 182.1l.1-1 1-1.4 2.1-1.6 2.8-1.8 3.5-1.6 3.9-1.3 5.3 8.3-3.9 1.3-3.5 1.6-2.8 1.7-2.1 1.7-1 1.4-.1 .9zM323.1 201.2l.1-.9 1.1-1.4 2-1.7 2.8-1.8 3.5-1.6 4-1.3 5.3 8.3-4 1.3-3.5 1.6-2.8 1.8-2 1.6-1.1 1.4-.1 1zM335.3 220.3l.1-.9 1.1-1.4 2-1.7 2.9-1.8 3.5-1.6 3.9-1.3 5.3 8.3-3.9 1.3-3.5 1.6-2.9 1.8-2 1.6-1.1 1.4-.1 1z" fill="#bdbdbd" stroke="#bdbdbd" stroke-width="0.7" stroke-linejoin="round"/>
<path d="M312.1 154.3l4.1-.8 3.9-.1 3.5 .6 2.8 1.4 2 2 5.3 8.3-2-2.1-2.9-1.3-3.4-.6-3.9 .1-4.1 .8zM324.3 173.4l4.1-.8 3.9-.1 3.5 .6 2.8 1.4 2 2 5.3 8.3-2-2-2.8-1.4-3.5-.6-3.9 .1-4.1 .8zM336.6 192.5l4-.7 3.9-.2 3.5 .6 2.8 1.4 2 2.1 5.3 8.2-2-2-2.8-1.4-3.5-.6-3.9 .1-4 .8zM348.8 211.6l4-.7 3.9-.2 3.5 .7 2.8 1.3 2 2.1 5.3 8.2-2-2-2.8-1.4-3.5-.6-3.9 .1-4 .8z" fill="#cdcdcd" stroke="#cdcdcd" stroke-width="0.7" stroke-linejoin="round"/>
<path d="M316.1 138.3l1.1 2.7 5.3 8.3-1.1-2.7zM328.4 157.4l1 2.7 5.3 8.3-1-2.7zM340.6 176.5l1 2.7 5.3 8.3-1-2.7zM352.8 195.7l1 2.6 5.3 8.3-1-2.7zM365 214.8l1.1 2.6 5.3 8.3-1.1-2.7z" fill="#0bb1b3" stroke="#0bb1b3" stroke-width="0.7" stroke-linejoin="round"/>
<path d="M317.2 141l0 3.1-.9 3.4 5.3 8.3 .9-3.4 0-3.1zM329.4 160.1l0 3.1-.9 3.5 5.3 8.2 .9-3.4 0-3.1zM341.6 179.2l.1 3.1-.9 3.5 5.2 8.2 1-3.4-.1-3.1zM353.8 198.3l.1 3.2-.9 3.4 5.3 8.2 .9-3.4-.1-3.1zM366.1 217.4l0 3.2-.9 3.4 5.3 8.3 .9-3.5 0-3.1z" fill="#07c7ca" stroke="#07c7ca" stroke-width="0.7" stroke-linejoin="round"/>
<path d="M316.3 147.5l-1.7 3.5-2.4 3.4 5.3 8.3 2.4-3.4 1.7-3.5zM299.5 163.3l-.8-.3 5.3 8.2 .8 .4zM328.5 166.7l-1.7 3.4-2.4 3.4 5.3 8.3 2.4-3.4 1.7-3.5zM311.8 182.4l-.9-.3 5.3 8.2 .9 .4zM340.8 185.8l-1.8 3.5-2.4 3.3 5.3 8.3 2.4-3.4 1.7-3.5zM324 201.5l-.9-.3 5.3 8.3 .9 .3zM353 204.9l-1.8 3.5-2.4 3.3 5.3 8.3 2.4-3.4 1.8-3.5zM336.2 220.6l-.9-.3 5.3 8.3 .9 .3zM365.2 224l-1.7 3.5-2.4 3.3 5.3 8.3 2.3-3.3 1.8-3.5zM348.4 239.7l-.8-.3 5.3 8.3 .8 .3z" fill="#02dde0" stroke="#02dde0" stroke-width="0.7" stroke-linejoin="round"/>
<path d="M312.2 154.4l-2.8 3-3 2.5-2.8 1.9-2.3 1.1-1.8 .4 5.3 8.3 1.8-.4 2.3-1.2 2.8-1.8 3-2.5 2.8-3zM324.4 173.5l-2.8 3-2.9 2.5-2.8 1.9-2.4 1.1-1.7 .4 5.3 8.3 1.7-.4 2.4-1.2 2.7-1.8 3-2.5 2.8-3zM336.6 192.6l-2.8 3-2.9 2.5-2.8 1.9-2.4 1.1-1.7 .4 5.3 8.3 1.7-.4 2.4-1.1 2.8-1.9 2.9-2.5 2.8-3zM348.8 211.7l-2.8 3-2.9 2.5-2.8 1.9-2.4 1.1-1.7 .4 5.3 8.3 1.7-.4 2.4-1.1 2.8-1.9 2.9-2.5 2.8-3zM361.1 230.8l-2.8 3-3 2.5-2.8 1.9-2.3 1.1-1.8 .4 5.3 8.3 1.7-.4 2.4-1.1 2.8-1.9 2.9-2.5 2.9-3z" fill="#0fe9ec" stroke="#0fe9ec" stroke-width="0.7" stroke-linejoin="round"/>
<path d="M404 111l.2-.7 1.1-1 1.9-1.1 2.6-1.2 3.3-.9 3.5-.6 3.8 6.8-3.6 .6-3.2 1-2.6 1.1-2 1.2-1 .9-.2 .7zM416.8 134.2l.2-.7 1.1-1 1.9-1.1 2.6-1.2 3.3-.9 3.7 6.8-3.2 1-2.6 1.1-2 1.2-1 .9-.2 .7z" fill="#bdbdbd" stroke="#bdbdbd" stroke-width="0.7" stroke-linejoin="round"/>
<path d="M416.6 105.5l3.7-.1 3.6 .5 3.1 1.1 2.6 1.7 1.8 2.3 3.8 6.8-1.8-2.3-2.6-1.7-3.2-1.1-3.5-.5-3.7 .1zM425.9 129.3l3.5-.6 3.7-.1 3.6 .5 3.1 1.1 2.6 1.7 1.8 2.3 3.8 6.8-1.8-2.3-2.6-1.7-3.2-1.1-3.5-.5-3.7 .1-3.6 .6z" fill="#cdcdcd" stroke="#cdcdcd" stroke-width="0.7" stroke-linejoin="round"/>
<path d="M418.6 87.8l1 2.8 3.8 6.8-1-2.8zM431.4 111l1 2.8 3.8 6.8-1-2.8zM444.2 134.2l1 2.8 3.8 6.8-1-2.8z" fill="#0bb1b3" stroke="#0bb1b3" stroke-width="0.7" stroke-linejoin="round"/>
<path d="M419.6 90.6l.1 3.1-.8 3.2 3.8 6.8 .8-3.2-.1-3.1zM432.4 113.8l.1 3.1-.8 3.2 3.8 6.8 .8-3.2-.1-3.1zM445.2 137l.1 3.1-.8 3.2 3.8 6.8 .8-3.2-.1-3.1z" fill="#07c7ca" stroke="#07c7ca" stroke-width="0.7" stroke-linejoin="round"/>
<path d="M418.9 96.9l-1.5 3.3-2 3 3.8 6.9 2-3.1 1.5-3.3zM404.7 111.2l-.7-.2 3.8 6.8 .6 .2zM431.7 120.1l-1.5 3.3-2 3 3.8 6.9 2-3.1 1.5-3.3zM417.5 134.4l-.7-.2 3.8 6.8 .6 .2zM444.5 143.3l-1.5 3.3-2 3 3.8 6.9 2-3.1 1.5-3.3zM430.3 157.6l-.7-.2 3.8 6.8 .6 .2z" fill="#02dde0" stroke="#02dde0" stroke-width="0.7" stroke-linejoin="round"/>
<path d="M415.4 103.2l-2.4 2.7-2.5 2.3-2.4 1.6-2 1-1.4 .4 3.7 6.8 1.4-.4 2-1 2.4-1.6 2.5-2.2 2.5-2.7zM428.2 126.4l-2.4 2.7-2.5 2.3-2.4 1.6-2 1-1.4 .4 3.7 6.8 1.4-.4 2-1 2.4-1.6 2.5-2.2 2.5-2.7zM441 149.6l-2.4 2.7-2.5 2.3-2.4 1.6-2 1-1.4 .4 3.7 6.8 1.4-.4 2-1 2.4-1.6 2.5-2.2 2.5-2.7z" fill="#0fe9ec" stroke="#0fe9ec" stroke-width="0.7" stroke-linejoin="round"/>
<path d="M373.6 234.8l-.2-.8 .6-1.5 1.4-1.8 2.1-1.9 2.7-1.9 3.2-1.7 5.3 5.7-3.2 1.7-2.7 1.9-2.1 1.9-1.4 1.8-.6 1.5 .2 .8zM387.6 249.8l-.2-.8 .6-1.5 1.4-1.8 2.1-1.9 2.7-1.9 3.2-1.7 5.3 5.7-3.2 1.7-2.7 1.9-2.1 1.9-1.4 1.8-.6 1.5 .2 .8z" fill="#bdbdbd" stroke="#bdbdbd" stroke-width="0.7" stroke-linejoin="round"/>
<path d="M383.4 225.2l3.3-1.2 3.4-.6 3.1 .1 2.8 .9 2.1 1.6 5.3 5.7-2.1-1.6-2.7-.9-3.2-.1-3.4 .6-3.3 1.2zM397.4 240.2l3.3-1.2 3.4-.6 3.1 .1 2.8 .9 2.1 1.6 5.3 5.7-2.1-1.6-2.7-.9-3.2-.1-3.4 .6-3.3 1.2z" fill="#cdcdcd" stroke="#cdcdcd" stroke-width="0.7" stroke-linejoin="round"/>
<path d="M384.1 211l1.4 2.2 5.4 5.7-1.5-2.2zM398.1 226l1.4 2.2 5.4 5.7-1.5-2.2z" fill="#0bb1b3" stroke="#0bb1b3" stroke-width="0.7" stroke-linejoin="round"/>
<path d="M385.5 213.2l.7 2.8-.1 3.1 5.3 5.7 .1-3.1-.6-2.8zM399.5 228.2l.7 2.8-.1 3.1 5.3 5.7 .1-3.1-.6-2.8z" fill="#07c7ca" stroke="#07c7ca" stroke-width="0.7" stroke-linejoin="round"/>
<path d="M386.1 219.1l-.8 3.4-1.5 3.2 5.3 5.7 1.5-3.2 .8-3.4zM374.4 235.1l-.8-.3 5.3 5.7 .9 .3zM400.1 234.1l-.8 3.4-1.5 3.2 5.3 5.7 1.5-3.2 .8-3.4zM388.4 250.1l-.8-.3 5.3 5.7 .9 .3z" fill="#02dde0" stroke="#02dde0" stroke-width="0.7" stroke-linejoin="round"/>
<path d="M383.8 225.7l-1.8 3-2.1 2.6-2.1 2-1.9 1.2-1.5 .6 5.4 5.7 1.4-.6 1.9-1.2 2.1-2 2.1-2.6 1.8-3zM397.8 240.7l-1.8 3-2.1 2.6-2.1 2-1.9 1.2-1.5 .6 5.4 5.7 1.4-.6 1.9-1.2 2.1-2 2.1-2.6 1.8-3z" fill="#0fe9ec" stroke="#0fe9ec" stroke-width="0.7" stroke-linejoin="round"/>
<path d="M324.8 150 L385 152.5 L384.9 156.8 L398 149 L385.6 140.2 L385.4 144.5 L325.2 142Z" fill="#12e6e6" stroke="#0aa" stroke-width="0.8" stroke-linejoin="round"/>
<path d="M329.8 171 L408.8 174.3 L408.6 179.7 L425 170 L409.5 158.9 L409.2 164.3 L330.2 161Z" fill="#12e6e6" stroke="#0aa" stroke-width="0.8" stroke-linejoin="round"/>
<path d="M360 196 L409.2 196 L409.2 200.3 L422 192 L409.2 183.7 L409.2 188 L360 188Z" fill="#12e6e6" stroke="#0aa" stroke-width="0.8" stroke-linejoin="round"/>
<path d="M359.9 217 L397.1 217.7 L397 222.1 L410 214 L397.4 205.4 L397.3 209.7 L360.1 209Z" fill="#12e6e6" stroke="#0aa" stroke-width="0.8" stroke-linejoin="round"/>
<path d="M398.1 299.4 L378.9 395 L375.8 394.4 L380 405 L388 396.8 L384.8 396.2 L403.9 300.6Z" fill="#12e6e6" stroke="#0aa" stroke-width="0.8" stroke-linejoin="round"/>
<path d="M430.1 279.9l-.4-.8 .2-1.5 .8-1.9 1.3-2.3 1.9-2.3 2.4-2.2 6.6 4.2-2.4 2.2-1.9 2.3-1.4 2.3-.7 1.9-.2 1.5 .4 .7z" fill="#bdbdbd" stroke="#bdbdbd" stroke-width="0.7" stroke-linejoin="round"/>
<path d="M436.3 268.9l2.6-1.9 2.8-1.3 2.8-.7 2.6 .1 2.2 .9 6.6 4.1-2.3-.8-2.5-.1-2.8 .6-2.8 1.4-2.6 1.9z" fill="#cdcdcd" stroke="#cdcdcd" stroke-width="0.7" stroke-linejoin="round"/>
<path d="M434.6 256.6l1.8 1.7 6.5 4.1-1.7-1.6zM449.3 266l1.7 1.6 6.6 4.2-1.7-1.7z" fill="#0bb1b3" stroke="#0bb1b3" stroke-width="0.7" stroke-linejoin="round"/>
<path d="M436.4 258.3l1.1 2.2 .6 2.8 6.6 4.2-.6-2.8-1.2-2.3zM451 267.6l1.2 2.3 .6 2.8 6.5 4.2-.5-2.8-1.2-2.3z" fill="#07c7ca" stroke="#07c7ca" stroke-width="0.7" stroke-linejoin="round"/>
<path d="M438.1 263.3l0 3.1-.6 3.2 6.6 4.2 .5-3.2 .1-3.1zM431 279.9l-.9 0 6.6 4.1 .9 .1zM452.8 272.7l-.1 3.1-.6 3.2 6.6 4.1 .6-3.1 0-3.1zM445.7 289.2l-.9 0 6.6 4.2 .9 0z" fill="#02dde0" stroke="#02dde0" stroke-width="0.7" stroke-linejoin="round"/>
<path d="M437.5 269.6l-1 3.1-1.4 2.7-1.4 2.2-1.4 1.5-1.3 .8 6.6 4.2 1.2-.8 1.5-1.5 1.4-2.2 1.3-2.7 1.1-3.1zM452.1 279l-1 3-1.3 2.8-1.4 2.1-1.5 1.6-1.2 .7 6.6 4.2 1.2-.8 1.4-1.5 1.5-2.2 1.3-2.7 1-3.1z" fill="#0fe9ec" stroke="#0fe9ec" stroke-width="0.7" stroke-linejoin="round"/>
<path d="M443 252c0 2-3 7-1 11 2 3 9 7 12 9 3 2 4 4 8 5 3 0 9 0 12-1 4-1 8-4 9-5M319 252c1 2 2 11 2 15 0 4-1 5-1 9-1 3-3 9-1 12 2 3 7 9 11 8 3-1 6-10 10-13 4-4 9-8 13-7 3 1 5 10 8 12 4 2 9 1 11 1M333 254c1 2 6 5 5 8 0 4-9 11-9 15 0 5 8 9 8 14 0 4-6 9-7 13-2 4 1 8 0 10-2 3-8 5-10 6M379 333c0 1 1 4 0 8 0 4 1 11-1 14-3 4-10 8-14 6-4-1-8-9-11-13-4-4-6-9-9-10-3-1-7 2-10 3-4 0-8-1-9-1M443 275c0 1 0 5 0 8 1 3 3 7 3 9 0 3 0 6-3 8-3 1-12 2-17 1-4-2-4-8-8-10-3-2-10-1-14-2-4-1-8-3-12-3-4 1-10 4-12 4M438 374c1-1 1-6 5-7 3-1 10 0 14 0 5 0 9 1 13 2 4 2 8 4 12 5 5 1 10 0 14 1 3 1 6 4 8 5M385 341c1 2 4 7 4 11 0 4-2 9-2 13 0 5 1 9 1 12 0 3-1 7-4 9-3 1-11 0-13 0M432 377c-1 2-2 6-4 9-2 3-6 9-9 10-3 1-6-5-10-6-4 0-11 4-12 4 0-1 7-3 8-7 1-4 1-11-1-15-3-4-11-6-14-9-3-3-4-8-5-9M439 356c2 2 8 8 12 8 3-1 7-7 10-9 3-2 6-2 8-3 2-2 4-3 7-6 3-3 7-9 10-13 4-4 11-7 11-10 1-3-5-4-6-6-1-3-1-8-1-9M471 309c1 2 1 12 5 15 3 3 12 3 15 2 3-2 3-7 3-10 0-3-1-5-1-8 0-3 2-6 2-10-1-4-6-12-7-14M390 383c-1-2-9-10-10-14 0-4 3-6 6-8 2-2 7-3 11-2 4 1 10 6 12 9 2 3-2 5-1 9 0 4 4 12 4 14M495 358c-2 0-9 0-12-1-3 0-7-1-8-3-1-2 3-6 2-10-1-4-1-13-5-14-3-2-12 2-17 4-5 2-10 6-14 8-4 1-6 2-8 4-1 2 1 8-2 9-4 1-14-1-17-2M439 375c-2-1-10-4-12-9-1-4 4-14 2-17-2-3-8-3-11-2-3 2-4 10-7 11-4 2-13-4-16-2-3 1 0 7-3 9-3 2-12 3-14 4M384 321c2 2 10 8 13 11 3 2 2 5 4 7 3 2 8 1 10 4 1 4-4 11-3 14 2 3 6 3 10 3 3 0 8-2 12-3 4 0 9 2 12 1 3 0 6-2 8-3M421 300c0 2 3 9 3 14 0 5-4 11-3 15 2 3 6 8 10 7 4-1 10-9 13-13 3-4 3-10 4-13 2-4 2-6 5-8 4-2 13-6 17-6 3 1 4 7 5 8M345 314c-2 0-8 2-11 0-3-2-10-10-10-14 1-4 9-6 11-10 2-5 0-12 2-16 3-4 9-6 11-8M432 303c-2 0-10 3-15 3-5-1-12-3-16-6-3-3-5-9-4-12 2-4 10-9 13-10 3 0 2 7 6 8 3 1 12-1 17 0 4 1 6 5 10 6 4 2 13 3 15 4M491 338c2 0 14 0 14 2-1 1-13 4-16 9-2 4 0 12 0 17-1 4-4 6-4 10 0 4 4 10 2 13-2 2-9 4-14 3-5-1-13-7-16-8M473 298c1 2 4 10 5 15 0 4-2 8-1 10 1 2 4 1 8 1 4 0 16-2 17-1 1 1-8 5-10 8-2 3-2 7-1 9 1 2 6 3 8 4M320 372c-1 2-3 8-5 10-2 2-5 3-7 5-1 2-2 9-2 8 0-2 2-12 3-17 1-5 0-10 2-13 2-4 7-4 9-5" fill="none" stroke="#f000f0" stroke-width="1.7" stroke-linecap="round" stroke-linejoin="round"/>
<path d="M309.1 271.2l-.6-.3-.5-1.3-.1-2.2 .2-3 .7-3.4 1.1-3.6 9.8 .6-1.1 3.6-.7 3.4-.2 3 .1 2.2 .5 1.4 .6 .3zM331.9 272.7l-.6-.3-.4-1.4-.2-2.2 .2-2.9 .7-3.5 1.2-3.6 9.8 .6-1.2 3.6-.6 3.5-.3 2.9 .2 2.3 .4 1.3 .6 .3zM354.8 274.1l-.6-.3-.5-1.3-.1-2.3 .2-2.9 .7-3.4 1.1-3.7 9.8 .6-1.1 3.7-.7 3.4-.2 3 .1 2.2 .5 1.3 .6 .3zM377.6 275.5l-.6-.3-.4-1.3 9.8 .6 .4 1.3 .6 .3z" fill="#bdbdbd" stroke="#bdbdbd" stroke-width="0.7" stroke-linejoin="round"/>
<path d="M309.9 257.4l1.6-3.5 2.1-3.2 2.4-2.4 2.6-1.7 2.7-.6 9.8 .6-2.7 .7-2.6 1.6-2.4 2.4-2.1 3.2-1.6 3.5zM332.8 258.8l1.6-3.5 2-3.1 2.4-2.5 2.6-1.6 2.7-.6 9.8 .6-2.7 .6-2.6 1.6-2.4 2.5-2 3.1-1.6 3.5zM355.6 260.2l1.6-3.5 2.1-3.1 2.4-2.5 2.6-1.6 2.7-.6 9.8 .6-2.7 .6-2.6 1.6-2.4 2.5-2 3.1-1.7 3.5z" fill="#cdcdcd" stroke="#cdcdcd" stroke-width="0.7" stroke-linejoin="round"/>
<path d="M303.6 246.5l2.2 2.3 9.8 .7-2.2-2.4zM324 246.5l2.5 1.4 2.2 2.4 9.8 .6-2.2-2.4-2.5-1.4zM346.8 247.9l2.5 1.4 2.3 2.4 9.8 .6-2.3-2.3-2.5-1.5zM369.7 249.3l2.5 1.5 2.2 2.3 9.8 .6-2.2-2.3-2.5-1.5z" fill="#da07da" stroke="#da07da" stroke-width="0.7" stroke-linejoin="round"/>
<path d="M305.8 248.8l1.9 3.1 1.4 3.6 9.8 .6-1.4-3.6-1.9-3zM309.7 270.5l-.6 .7 9.8 .7 .6-.8zM328.7 250.3l1.8 3.1 1.4 3.5 9.9 .6-1.4-3.5-1.9-3.1zM332.5 271.9l-.6 .8 9.8 .6 .7-.8zM351.6 251.7l1.8 3.1 1.4 3.5 9.8 .7-1.4-3.6-1.8-3.1zM355.4 273.4l-.6 .7 9.8 .6 .6-.7zM374.4 253.1l1.9 3.1 1.4 3.6 9.8 .6-1.4-3.6-1.9-3.1zM378.3 274.8l-.7 .7 9.8 .6 .7-.7z" fill="#f302f3" stroke="#f302f3" stroke-width="0.7" stroke-linejoin="round"/>
<path d="M309.1 255.5l.9 3.7 .5 3.7 0 3.3-.3 2.6-.5 1.7 9.8 .6 .5-1.7 .3-2.6 0-3.3-.5-3.6-.9-3.8zM331.9 256.9l1 3.8 .4 3.6 .1 3.3-.3 2.6-.6 1.7 9.9 .6 .5-1.7 .3-2.6-.1-3.3-.4-3.6-.9-3.8zM354.8 258.3l.9 3.8 .5 3.7 0 3.2-.3 2.6-.5 1.8 9.8 .6 .5-1.8 .3-2.6 0-3.2-.5-3.7-.9-3.7zM377.7 259.8l.9 3.7 .5 3.7 0 3.2-.3 2.6-.5 1.8 9.8 .6 .5-1.7 .3-2.6 0-3.3-.5-3.7-.9-3.7z" fill="#ff0fff" stroke="#ff0fff" stroke-width="0.7" stroke-linejoin="round"/>
<path d="M321.3 246l2.7 .5 9.8 .6-2.7-.5zM344.1 247.5l2.7 .4 9.8 .6-2.7-.4zM367 248.9l2.7 .4 9.8 .6-2.7-.4z" fill="#c20bc2" stroke="#c20bc2" stroke-width="0.7" stroke-linejoin="round"/>
<path d="M423.4 285.1l-.5-.8-.3-1.7 0-2.6 .5-3.2 .8-3.6 9.8 .6-.8 3.5-.5 3.2 0 2.6 .3 1.8 .6 .7zM446.8 286.4l-.5-.8-.4-1.7 .1-2.6 .4-3.2 .9-3.5 9.8 .5-.9 3.6-.4 3.2-.1 2.6 .4 1.7 .5 .8zM470.1 287.7l-.5-.7-.3-1.8 0-2.6 .4-3.2 .9-3.5 9.8 .5-.9 3.6-.4 3.2 0 2.6 .3 1.7 .5 .8z" fill="#bdbdbd" stroke="#bdbdbd" stroke-width="0.7" stroke-linejoin="round"/>
<path d="M423.9 273.2l1.4-3.6 1.8-3.4 2.2-2.9 2.5-2.1 2.7-1.2 2.8-.1 9.8 .5-2.8 .2-2.7 1.2-2.5 2.1-2.2 2.9-1.8 3.4-1.4 3.6zM447.3 274.6l1.3-3.7 1.9-3.4 2.2-2.8 2.5-2.1 2.7-1.2 2.7-.2 9.8 .6-2.7 .1-2.7 1.2-2.5 2.1-2.2 2.9-1.9 3.4-1.3 3.6zM470.6 275.9l1.4-3.6 1.8-3.4 2.2-2.9 2.5-2.1 2.7-1.2 2.7-.2 9.8 .6-2.7 .2-2.7 1.1-2.5 2.2-2.2 2.8-1.8 3.4-1.4 3.6z" fill="#cdcdcd" stroke="#cdcdcd" stroke-width="0.7" stroke-linejoin="round"/>
<path d="M422.8 267.3l1.2 3.7 9.8 .6-1.2-3.7zM424.1 284.8l-.7 .3 9.9 .5 .6-.2zM442.3 262.6l2.1 2.7 1.7 3.4 1.3 3.6 9.8 .6-1.3-3.7-1.6-3.3-2.1-2.7zM447.4 286.1l-.6 .3 9.8 .6 .6-.3zM465.7 264l2.1 2.7 1.7 3.3 1.2 3.7 9.8 .5-1.2-3.6-1.7-3.4-2.1-2.7zM470.7 287.5l-.6 .2 9.8 .6 .6-.3zM489 265.3l2.1 2.7 1.7 3.3 9.8 .6-1.7-3.3-2.1-2.7z" fill="#f302f3" stroke="#f302f3" stroke-width="0.7" stroke-linejoin="round"/>
<path d="M424 271l.8 3.8 .3 3.5-.1 3-.4 2.2-.5 1.3 9.8 .6 .5-1.3 .4-2.3 .1-3-.3-3.5-.8-3.7zM447.4 272.3l.7 3.8 .3 3.5-.1 3-.3 2.2-.6 1.3 9.8 .6 .6-1.3 .3-2.3 .1-2.9-.3-3.6-.7-3.7zM470.7 273.7l.8 3.7 .3 3.5-.1 3-.4 2.3-.6 1.3 9.8 .5 .6-1.3 .4-2.2 .1-3-.3-3.5-.8-3.8z" fill="#ff0fff" stroke="#ff0fff" stroke-width="0.7" stroke-linejoin="round"/>
<path d="M437.3 259.9l2.6 .9 9.8 .5-2.6-.9zM460.6 261.2l2.6 .9 9.9 .6-2.7-.9zM483.9 262.5l2.7 .9 9.8 .6-2.7-.9z" fill="#c20bc2" stroke="#c20bc2" stroke-width="0.7" stroke-linejoin="round"/>
<path d="M439.9 260.8l2.4 1.8 9.9 .6-2.5-1.9zM463.2 262.1l2.5 1.9 9.8 .5-2.4-1.8zM486.6 263.4l2.4 1.9 9.8 .6-2.4-1.9z" fill="#da07da" stroke="#da07da" stroke-width="0.7" stroke-linejoin="round"/>
<path d="M399.8 327.4l.2-.9 1.2-1.1 2.1-1.2 2.9-1.2 3.4-.9 3.8-.6 3.7 9.2-3.8 .5-3.5 .9-2.9 1.2-2.1 1.2-1.2 1.2-.2 .9zM407.1 345.8l.2-.9 1.2-1.2 2.1-1.2 2.9-1.2 3.5-.9 3.6 9.1-3.4 1-2.9 1.1-2.1 1.3-1.2 1.1-.2 .9zM414.4 364.1l.2-.9 1.2-1.1 2.2-1.3 2.9-1.1 3.4-.9 3.8-.6 3.6 9.1-3.7 .6-3.5 .9-2.9 1.2-2.1 1.2-1.2 1.1-.2 .9z" fill="#bdbdbd" stroke="#bdbdbd" stroke-width="0.7" stroke-linejoin="round"/>
<path d="M413.4 321.5l3.8 0 3.6 .5 3 1.1 2.3 1.7 1.5 2.1 3.6 9.2-1.4-2.2-2.3-1.7-3.1-1.1-3.5-.5-3.8 .1zM417 340.4l3.7-.5 3.8-.1 3.6 .5 3.1 1.1 2.3 1.7 1.4 2.2 3.7 9.1-1.5-2.2-2.3-1.6-3-1.1-3.6-.6-3.8 .1-3.8 .5zM428.1 358.2l3.8 0 3.5 .5 3.1 1.1 2.3 1.6 1.4 2.2 3.7 9.1-1.4-2.1-2.4-1.7-3-1.1-3.6-.5-3.8 0z" fill="#cdcdcd" stroke="#cdcdcd" stroke-width="0.7" stroke-linejoin="round"/>
<path d="M420.2 308.6l.5 2.6 3.7 9.1-.5-2.6zM427.6 326.9l.4 2.6 3.7 9.1-.5-2.5zM434.9 345.3l.5 2.5 3.6 9.2-.4-2.6z" fill="#c20bc2" stroke="#c20bc2" stroke-width="0.7" stroke-linejoin="round"/>
<path d="M420.7 311.2l-.5 2.8-1.5 2.9 3.7 9.1 1.4-2.9 .6-2.8zM428 329.5l-.5 2.8-1.4 2.9 3.6 9.1 1.5-2.9 .5-2.8zM435.4 347.8l-.6 2.8-1.4 2.9 3.6 9.2 1.5-2.9 .5-2.8z" fill="#da07da" stroke="#da07da" stroke-width="0.7" stroke-linejoin="round"/>
<path d="M418.7 316.9l-2.2 2.8-2.8 2.6 3.7 9.1 2.7-2.6 2.3-2.8zM400.5 327.9l-.7-.5 3.6 9.2 .8 .5zM426.1 335.2l-2.3 2.8-2.8 2.6 3.7 9.1 2.8-2.5 2.2-2.9zM407.9 346.3l-.8-.5 3.7 9.1 .7 .5zM433.4 353.5l-2.2 2.9-2.8 2.6 3.6 9.1 2.8-2.6 2.2-2.8zM415.2 364.6l-.8-.5 3.7 9.1 .8 .5z" fill="#f302f3" stroke="#f302f3" stroke-width="0.7" stroke-linejoin="round"/>
<path d="M413.7 322.3l-3.1 2.2-3.1 1.7-2.9 1.2-2.4 .5-1.7 0 3.7 9.2 1.6 0 2.4-.6 2.9-1.2 3.2-1.7 3.1-2.2zM421 340.6l-3.1 2.2-3.1 1.8-2.9 1.1-2.4 .6-1.6 0 3.6 9.1 1.7 0 2.4-.6 2.9-1.1 3.1-1.7 3.1-2.3zM428.4 359l-3.1 2.2-3.2 1.7-2.9 1.1-2.3 .6-1.7 0 3.7 9.1 1.6 0 2.4-.5 2.9-1.2 3.1-1.7 3.1-2.2z" fill="#ff0fff" stroke="#ff0fff" stroke-width="0.7" stroke-linejoin="round"/>
<path d="M309.2 360.3l-.7-1 0-1.9 .8-2.8 1.4-3.3 2.1-3.5 2.7-3.5 9.6 4.8-2.7 3.4-2.1 3.5-1.4 3.3-.8 2.8 0 2 .7 1zM326.4 368.8l-.6-1 0-1.9 .7-2.8 1.4-3.3 2.2-3.5 2.6-3.5 9.6 4.8-2.6 3.4-2.1 3.5-1.5 3.3-.7 2.8 0 2 .7 1zM343.7 377.3l-.7-1 0-1.9 .8-2.8 1.4-3.3 2.1-3.5 2.7-3.5 9.6 4.8-2.7 3.4-2.1 3.5-1.4 3.3-.8 2.8 0 2 .7 1zM360.9 385.8l-.6-1 0-1.9 .7-2.8 1.4-3.3 2.2-3.5 2.6-3.5 9.6 4.8-2.6 3.4-2.1 3.5-1.5 3.3-.7 2.8 0 2 .7 1zM378.2 394.3l-.7-1 0-1.9 .8-2.8 1.4-3.3 2.1-3.5 2.7-3.5 9.6 4.8-2.7 3.4-2.1 3.5-1.4 3.3-.8 2.8 0 2 .7 1zM395.4 402.8l-.6-1 0-1.9 .7-2.8 1.4-3.3 2.2-3.5 9.6 4.7-2.1 3.5-1.5 3.3-.7 2.8 0 2 .7 1zM412.7 411.3l-.7-1 0-1.9 .8-2.8 1.4-3.3 2.1-3.5 2.7-3.5 9.6 4.8-2.7 3.4-2.1 3.5-1.4 3.3-.8 2.8 0 2 .7 1zM429.9 419.8l-.6-1 0-1.9 .7-2.8 1.4-3.3 2.2-3.5 9.6 4.7-2.1 3.5-1.5 3.3-.7 2.8 0 2 .7 1z" fill="#bdbdbd" stroke="#bdbdbd" stroke-width="0.7" stroke-linejoin="round"/>
<path d="M315.5 344.3l3.1-3 3.3-2.4 3.3-1.5 3.1-.4 2.8 .7 9.6 4.7-2.8-.7-3.1 .5-3.3 1.4-3.3 2.4-3.1 3.1zM332.7 352.8l3.1-3 3.3-2.4 3.3-1.5 3.2-.4 2.7 .7 9.6 4.7-2.7-.7-3.2 .5-3.3 1.4-3.3 2.4-3.1 3.1zM350 361.3l3.1-3 3.3-2.4 3.3-1.5 3.1-.4 2.8 .7 9.6 4.7-2.8-.7-3.1 .5-3.3 1.4-3.3 2.4-3.1 3.1zM367.2 369.8l3.1-3 3.3-2.4 3.3-1.5 3.2-.4 2.7 .7 9.6 4.7-2.7-.7-3.2 .5-3.3 1.4-3.3 2.4-3.1 3.1zM384.5 378.3l3.1-3 3.3-2.4 3.3-1.5 3.1-.4 2.8 .7 9.6 4.7-2.8-.7-3.1 .5-3.3 1.4-3.3 2.4-3.1 3.1zM399.1 390.3l2.6-3.5 3.1-3 3.3-2.4 3.3-1.5 3.2-.4 2.7 .7 9.6 4.7-2.7-.7-3.2 .5-3.3 1.4-3.3 2.4-3.1 3.1-2.6 3.4zM419 395.3l3.1-3 3.3-2.4 3.3-1.5 3.1-.4 2.8 .7 9.6 4.7-2.8-.7-3.1 .5-3.3 1.4-3.3 2.4-3.1 3.1zM433.6 407.3l2.6-3.5 3.1-3 3.3-2.4 3.3-1.5 3.2-.4 2.7 .7 9.6 4.7-2.7-.7-3.2 .5-3.3 1.4-3.3 2.4-3.1 3.1-2.6 3.4z" fill="#cdcdcd" stroke="#cdcdcd" stroke-width="0.7" stroke-linejoin="round"/>
<path d="M313.8 329.2l2.2 1.7 9.7 4.8-2.3-1.8zM331.1 337.7l2.2 1.7 9.6 4.8-2.2-1.8zM348.3 346.2l2.2 1.7 9.7 4.8-2.3-1.8zM365.6 354.7l2.2 1.7 9.6 4.8-2.2-1.8zM382.8 363.2l2.2 1.7 9.7 4.8-2.3-1.8zM400.1 371.7l2.2 1.7 9.6 4.8-2.2-1.8zM417.3 380.2l2.2 1.7 9.7 4.8-2.3-1.8zM434.6 388.7l2.2 1.7 9.6 4.8-2.2-1.8z" fill="#c20bc2" stroke="#c20bc2" stroke-width="0.7" stroke-linejoin="round"/>
<path d="M316 330.9l1.6 2.8 .9 3.5 9.6 4.8-.9-3.6-1.5-2.7zM333.3 339.4l1.6 2.8 .8 3.5 9.6 4.8-.8-3.6-1.6-2.7zM350.5 347.9l1.6 2.8 .9 3.5 9.6 4.8-.9-3.6-1.5-2.7zM367.8 356.4l1.6 2.8 .8 3.5 9.6 4.8-.8-3.6-1.6-2.7zM385 364.9l1.6 2.8 .9 3.5 9.6 4.8-.9-3.6-1.5-2.7zM402.3 373.4l1.6 2.8 .8 3.5 9.6 4.8-.8-3.6-1.6-2.7zM419.5 381.9l1.6 2.8 .9 3.5 9.6 4.8-.9-3.6-1.5-2.7zM436.8 390.4l1.6 2.8 .8 3.5 9.6 4.8-.8-3.6-1.6-2.7z" fill="#da07da" stroke="#da07da" stroke-width="0.7" stroke-linejoin="round"/>
<path d="M318.5 337.2l.1 4.1-.5 4.3 9.6 4.7 .5-4.3-.1-4zM310.4 360.2l-1.2 .1 9.6 4.8 1.2-.1zM335.7 345.7l.1 4.1-.5 4.3 9.6 4.7 .6-4.3-.2-4zM327.6 368.7l-1.2 .1 9.7 4.8 1.1-.1zM353 354.2l.1 4.1-.5 4.3 9.6 4.7 .5-4.3-.1-4zM344.9 377.2l-1.2 .1 9.6 4.8 1.2-.1zM370.2 362.7l.1 4.1-.5 4.3 9.6 4.7 .6-4.3-.2-4zM362.1 385.7l-1.2 .1 9.7 4.8 1.1-.1zM387.5 371.2l.1 4.1-.5 4.3 9.6 4.7 .5-4.3-.1-4zM379.4 394.2l-1.2 .1 9.6 4.8 1.2-.1zM404.7 379.7l.1 4.1-.5 4.3 9.6 4.7 .6-4.3-.2-4zM396.6 402.7l-1.2 .1 9.7 4.8 1.1-.1zM422 388.2l.1 4.1-.5 4.3 9.6 4.7 .5-4.3-.1-4zM413.9 411.2l-1.2 .1 9.6 4.8 1.2-.1zM439.2 396.7l.1 4.1-.5 4.3 9.6 4.7 .6-4.3-.2-4zM431.1 419.7l-1.2 .1 9.7 4.8 1.1-.1z" fill="#f302f3" stroke="#f302f3" stroke-width="0.7" stroke-linejoin="round"/>
<path d="M318.1 345.6l-1.2 4.2-1.5 3.8-1.7 3.2-1.8 2.2-1.5 1.2 9.6 4.8 1.6-1.2 1.7-2.3 1.7-3.1 1.6-3.8 1.1-4.3zM335.3 354.1l-1.1 4.2-1.5 3.8-1.7 3.2-1.8 2.2-1.6 1.2 9.6 4.8 1.6-1.2 1.8-2.3 1.7-3.1 1.5-3.8 1.1-4.3zM352.6 362.6l-1.2 4.2-1.5 3.8-1.7 3.2-1.8 2.2-1.5 1.2 9.6 4.8 1.6-1.2 1.7-2.3 1.7-3.1 1.6-3.8 1.1-4.3zM369.8 371.1l-1.1 4.2-1.5 3.8-1.7 3.2-1.8 2.2-1.6 1.2 9.6 4.8 1.6-1.2 1.8-2.3 1.7-3.1 1.5-3.8 1.1-4.3zM387.1 379.6l-1.2 4.2-1.5 3.8-1.7 3.2-1.8 2.2-1.5 1.2 9.6 4.8 1.6-1.2 1.7-2.3 1.7-3.1 1.6-3.8 1.1-4.3zM404.3 388.1l-1.1 4.2-1.5 3.8-1.7 3.2-1.8 2.2-1.6 1.2 9.6 4.8 1.6-1.2 1.8-2.3 1.7-3.1 1.5-3.8 1.1-4.3zM421.6 396.6l-1.2 4.2-1.5 3.8-1.7 3.2-1.8 2.2-1.5 1.2 9.6 4.8 1.6-1.2 1.7-2.3 1.7-3.1 1.6-3.8 1.1-4.3zM438.8 405.1l-1.1 4.2-1.5 3.8-1.7 3.2-1.8 2.2-1.6 1.2 9.6 4.8 1.6-1.2 1.8-2.3 1.7-3.1 1.5-3.8 1.1-4.3z" fill="#ff0fff" stroke="#ff0fff" stroke-width="0.7" stroke-linejoin="round"/>
<path d="M379 300.4 L383.8 335.9 L380.5 336.3 L388 345 L392.9 334.7 L389.7 335.1 L385 299.6Z" fill="#ee00ee" stroke="#a0a" stroke-width="0.8" stroke-linejoin="round"/>
<path d="M286.4 363.3l-.4-.6 0-1.2 .4-1.9 1-2.2 1.4-2.4 1.8-2.3 6.4 2.6-1.8 2.3-1.4 2.4-.9 2.2-.5 1.8 0 1.3 .4 .6z" fill="#bdbdbd" stroke="#bdbdbd" stroke-width="0.7" stroke-linejoin="round"/>
<path d="M290.6 352.7l2.1-2.1 2.4-1.6 2.4-1 2.4-.4 2.3 .5 6.4 2.6-2.2-.5-2.4 .3-2.5 1.1-2.3 1.6-2.2 2.1z" fill="#cdcdcd" stroke="#cdcdcd" stroke-width="0.7" stroke-linejoin="round"/>
<path d="M285.5 341.4l1.9 1.2 6.4 2.6-1.9-1.2zM302.2 348.1l1.9 1.2 6.4 2.6-1.9-1.2z" fill="#c20bc2" stroke="#c20bc2" stroke-width="0.7" stroke-linejoin="round"/>
<path d="M287.4 342.6l1.5 1.9 1.1 2.4 6.4 2.6-1-2.4-1.6-1.9zM304.1 349.3l1.5 1.9 1.1 2.4 6.4 2.6-1.1-2.4-1.5-1.9z" fill="#da07da" stroke="#da07da" stroke-width="0.7" stroke-linejoin="round"/>
<path d="M290 346.9l.6 2.9 .1 2.9 6.4 2.6-.1-3-.6-2.8zM287.1 363.2l-.7 .1 6.4 2.6 .7-.2zM306.7 353.6l.5 2.8 .2 3 6.4 2.6-.1-3-.6-2.8zM303.8 369.8l-.7 .2 6.4 2.6 .7-.2z" fill="#f302f3" stroke="#f302f3" stroke-width="0.7" stroke-linejoin="round"/>
<path d="M290.7 352.7l-.3 3-.6 2.7-.9 2.2-.9 1.7-.9 .9 6.4 2.5 .9-.9 1-1.6 .8-2.2 .6-2.7 .3-3zM307.4 359.4l-.3 3-.7 2.6-.8 2.3-.9 1.6-.9 .9 6.4 2.6 .9-.9 .9-1.6 .9-2.3 .6-2.7 .3-2.9z" fill="#ff0fff" stroke="#ff0fff" stroke-width="0.7" stroke-linejoin="round"/>
<path d="M508 642l7-6-6-4 2-7-5-5 6-5-4-4 4-6-5-6 0-8-6-2 0-7-8-4 3-8-6-2 0-9-3-6 5-3-4-5 4-8M512 642l6-4-3-7 5-4-1-6 6-2 3-7 7-3 0-7 7-2 1-9 5-4-1-8 7-5-5-6 3-6-3-5 6-5 0-7M349 458l-6 6 1 8-5 6 5 6-5 5 1 6-6 0-1 7-8-1-2 7-8 2 3 9-6 4M351 458l-4 5 5 6-5 4 2 7-1 6 4 7-1 7 4 6-3 8 5 7-2 7M347 643l5-4-5-6 5-5 0-7 6-1 2-7 7 2 1-8 8-1-1-8 7-5-3-7 5-4-4-7 6-2 1-8 7-1 1-8 8-1M416 450l-4 8 7 5-4 6 5 7-2 7 3 6-6 2 3 8-3 7 6 6-2 6 5 4-4 7 7 5-5 5 5 6-3 6 3 7-5 8M476 631l6-6-3-8 7-4-4-6 5-7-3-7 6-5-3-9 7-4-6-7 3-6-6-3-1-8M571 635l4-8-4-7 5-5-5-8 6-5-2-7 8-2 0-6 6-3 1-8 6 0 0-8 0-1-3-7 0 0 0-6 2-2-2-8 1-3M566 635l3-8-8-4 3-8-7-2 4-7-5-6 5-6-2-8 4-6-4-5 4-7-2-6 7-5-4-7 6-3 1-9M199 462l-4 4 4 6-1 6 5 5-1 8 6 1 2 8 9 1 2 9 6-1 1 8 9 1 3 8 7 1 2 6 7 1-1 9 8 4M264 440l-5 6 5 4-2 7 7 3 0 7 7 3 0 9 6 1 1 8 7 2 0 6 6 2 2 7 8 3 3 6M259 440l-6 7 4 7-3 8 4 4-4 7 4 8-4 8 3 7-6 5 2 8-6 4 5 5M251 632l3-6-3-8 4-7-2-6 5-6-6-5 3-6-5-6 5-6-6-4 1-8-7-2 1-7-8-4 2-6-5-5 5-6-5-6 4-7M257 632l4-5-5-6 9-3 0-8 8-1 1-7 6-1 2-6 6-1 1-7 8-1-1-7 6 1 2-8 7-2 1-7M562 424l-6 6 2 6-4 7 2 7-8 0 0 8-6 4 1 7-6 4 1 6-6 5 1 6-6 5 2 8-8 2M568 424l-5 4 4 6-5 5 3 7-6 3-1 7-8 1 0 8-8 0 0 6-8 2-2 7-6-1M209 463l-5 5 2 9-4 8 6 5-3 5 3 7-6 3 4 5-6 6 3 6-5 4 2 6-7 1-1 7-7 0 7 9-1 6M275 453l-7 4 0 8-5 4 4 6-4 5 3 6-6 4 5 5-1 7 7 2 1 9 7 3-2 7 7 3 2 7 8 0 3 6M279 453l-5 6 6 6-2 6 7 3-3 7 7 4 0 6 7 0 1 7 7-1-1 8 7 5 0 8 7 3-2 8 6 1M222 460l-5 6 5 6-6 6 3 9-6 2-2 7-5 4 5 7-6 5 3 6-3 6 4 7-4 8 6 6-2 7 5 4-2 7M224 460l-3 6 5 5-3 6 7 4-1 8 8 2-1 6 8 1-1 8 8-1 0 9 8 1 1 8 5 5-5 6M313 637l5-6-5-4 5-6-1-7 4-5-2-8 8-3 0-8 8-2-2-7 8-3-1-7 8 1M313 637l4-6-5-5 7-6 0-7 6-1 1-6 9-1 1-9 8 2 2-8 8-2-1-7M474 433l-7 6 5 5-3 7 6 1 0 8 8-1 3 6 7 1-3 7 5 7-3 6 6 4-2 8 6 5-4 6 4 4-5 6 7 6-6 6M467 433l-6 3 1 8-7 1 0 7-7 1-2 7-7 1-1 7-7 1-3 7-7 1 1 7-7 1 1 8-7 1 0 6M466 428l-5 5 5 5-7 6 6 5-6 6 5 6-5 6 5 6-6 4 2 7-5 5 5 3-2 8 7 4M565 444l-4 5 6 6-3 8 6 1-2 6 3 6-6 4 5 6-6 5 3 5-4 7 5 4-3 6M347 447l-5 7 4 6-6 2-2 9-7 0-1 6-6 1-1 8-7 0-1 6-7 0 1 8-7 5 4 6M346 447l-3 7 3 7-6 2 2 8-8 4 1 6-9 2 1 6-8 4-3 7-6 4M354 449l-3 7 4 7-4 7 4 7-5 3 1 8-9 1-1 8-8 2 1 6-6 3-2 8-8 0-1 7-7 2-4 8-6-1-4 8-6 1M351 449l-3 6 6 5 0 9 6 4-4 6 4 8-6 3 4 6-6 4 3 5-6 5 2 6-5 4-1 6-5 4 3 8-7 6M227 646l2-6-6-6 5-6-4-6 2-7-5-4 4-6-1-6 7-3-2-7 8-3-1-7 8-2 2-8 8-4 3-6 8 0M226 646l3-6-3-7 4-7-3-7 5-6-1-8 7-5-4-5 4-5-7-6 0-7-7-5 0-7-7 0 0-7-8-3M448 448l-4 6 5 6-4 6 7 5-4 5 5 6-6 7 5 7-4 7 7 2 1 8 6-1 0 7 7 4-4 5 2 7M441 448l-3 7 3 5-8 4 3 8-6 3-1 7-8 3 4 7-6 5-1 8-8 0-1 7-8 1-1 9M451 446l-3 8 4 7-4 7 6 2-4 7 6 5-1 7 6 7-1 6 3 5-3 7 2 8-3 8 4 6-2 6 6 5-5 5 2 8M455 446l-7 6 6 7-5 7 5 7-3 5 6 4-2 6 7 2-3 8 7 4-3 6 4 6-6 7 7 5-1 7 8 0 1 7M322 628l4-8-6-4 4-5-4-5 3-6-4-6 5-6-5-5 4-5-6-5 2-8-7-5-1-8-6-3 0-9-7-1-2-8-8 0-3-8M329 628l4-6-7-4 6-6-4-6 6-6-3-5 4-4-2-8 5-4-4-7 7-1 2-6 8-1 4-7 8-1 1-6M475 448l-3 6 7 6-5 6 5 6-2 8 8 3 3 6 6 1 1 8 6 1-1 8 7 3-3 9 5 5-2 6 5 7-2 8M474 448l-4 7 4 6-4 5 6 5 0 9 6 0 3 6 7 1 0 8 6 3-1 8 6 4-1 7 4 5-5 4 3 7M573 643l3-8-4-5 5-6-5-5 4-9-6-3 4-7-8-4 4-8-6-4 6-4-5-6 5-4M576 643l2-6-7-3 0-6-6-4-1-7-6-4 5-6-4-6 2-6-7-3-1-7-8 0 1-7M215 440l-2 7 2 5-4 8 8 2-3 7 6 6-5 5 4 5-2 6 7 4-1 8 6 3 0 7 6 0 3 8M220 440l-5 6 0 7-7 5 2 6-5 5 2 6-4 5 2 7-7 1-2 7-6-1-2 6-7 0-3 6 1 1M253 629l7-6-3-5 8-3 0-6 7-1-1-9 6-3-2-8 5-4 1-8 8-2 2-8 6-4 3-8 8-1 2-7 7-1 1-7 7 0M256 629l5-6-5-6 6-5-2-6 6-5-6-5 3-7-5-3 2-8-4-6 1-6-4-6 3-8-7-2 0-8-8-4 1-9M292 633l4-5-2-6 7-3 2-6 8 0 2-7 7-1 1-8 6-1 4-8 7 1 2-7 6-1 2-6 8 0 2-7M303 642l4-4 0-7 5-5-2-6 1-7-4-6 2-6-5-5 4-6-5-4-1-9-6-2 3-9-4-5 4-8-7-3 4-8-4-6 6-5M307 642l4-5-5-5 5-6-3-5 1-6-5-5 1-7-8-1-3-6-7-2-2-7-7 1-2-9-7 0-2-7-9-2M524 437l-5 6 4 5-6 4 0 6-5 3 0 8-9-1 0 7-9-2-1 6-8 2-2 7-8 0 1 8-6 3 6 7-4 6 2 5M474 626l4-7-9-3 0-6-6-2-2-8-8-1-2-7-8 0 0-8-8-4 4-7-5-5 2-8-7-5 3-5-6-4 2-7M551 645l4-5-2-7 5-3 0-8 5-3 0-7 7 0 1-8 6 0 2-9 7-1 0-7 6-1 0-6 2 0M546 645l7-5-5-7 1-7-9-1 2-6-6-2 4-8-2-7 6-2 0-9 8 1 0-7 6-3M372 647l4-7-5-4 5-6-8-4 1-7-5-5 0-7-7-2-2-8-6-1-2-6-6 1 1-9-5-4 2-7-7-3 4-6-8-4M366 647l5-5-3-8 5-5-3-6 4-6-3-6 5-4-6-5 2-8-5-5 1-7-3-6 6-3 1-8 8-2-2-6 6-2M569 640l6-6-3-7 5-3-2-8 6-2 0-7 9-1 1-6 3 2 1-7-1-2-2-7 3-3-2-6 0-3 1-6 1 1 0-8-1-3M523 630l4-5-6-5 1-7-7-6 4-5-7-4 5-5-1-8 6-2 0-6 6-3-3-6 5-3-2-6M526 630l5-6-2-7 7-5-2-8 4-6-6-7 4-7-7-6 4-5-5-4 4-7M185 446l-5 6 3 7-5 4 2 6 1 6 5 3 0 6 7 5 1 7 7 0 1 8 8-1 0 7 8 3 0 8 8 2M192 446l-5 7 6 7-5 4 2 7-3 6 6 5-6 3 1 8-5 4 5 3-4 7 4 4-5 6 5 5M399 635l5-7-5-5 6-6-2-6 5-2 2-7 7 0 0-7 6-4-3-8 7-5-5-4 3-7-6-4 3-5-6-5 3-5-6-6 4-5M396 635l2-6-4-5 4-7-3-7 6-4-1-9 7-1-3-6 8-3-4-8 6-4-4-6 6-4-5-5 4-6-3-5M213 464l-6 5 5 7-5 3 2 9-5 4 4 4-6 4 5 6-4 8 4 6-9 3 2 7-4 4M302 458l-2 8 6 3 0 6 6-1 2 8 8 1-2 6 7 3-3 7 7 4-1 7 6 4-3 8M410 454l-7 4-1 9-7-2-2 6-7 1 0 7-8 1-3 5-6-1-4 8-7 2-3 6-8-1-2 6-7 1M404 454l-4 5 4 8-6 4-1 7-8 2-4 8-7 2 0 7-8 4 1 6-7 2 0 9-7 4 2 8M212 461l-5 7 4 4-3 8 3 5-4 8 5 6-7 4 0 7-7 4 1 7-6 1 2 8-6 4-1 6-8 1 13 8 2 6 7 4M214 461l-5 5 4 8-3 6 7 5-1 8 5 6-7 4 5 5-3 9 6 2-2 8 8 2-2 8 9 1 3 7 7 0 1 7 8-1M310 631l4-7-7-4 5-5-2-7 6-1-2-8 6-2-2-8 6-3-2-6 7-2-2-8 6-6M311 631l3-8-8-2 0-7-4-7 2-8-7-2 0-9-6 1 2-6-8-3 3-6-8-4M185 452l-5 5 7 4-2 7 6 4-4 5 4 4-2 6 4 4-3 8 6 3-4 6 8 4-1 7M191 452l-4 5 6 6-8 5 4 7-7 5 5 6-5 7 4 6-5 5 6 6M385 641l2-8-7-3 3-7-6-3-2-7-8-4-4-7-8-4 2-8-7-4 4-6-6-4 0-6-8-3 1-7-6-3-2-8M380 641l4-5-4-8 5-7-3-6 7-5-7-6 2-7-6-5 5-5-2-8 5-3-4-7 5-5-4-5M228 443l-1 9 7 4-1 9 7 2-1 8 7 0 4 7 7-1 2 7 8 3-1 7 7 4-4 5 3 6-4 7 7 5-2 8 4 6-5 6M216 457l-7 3 2 9-8 4 1 8-8 4 0 7-5 4 0 8-6 1-2 7-6 0 6 4-3 9 6 2M219 457l-2 6 3 5-2 7 7 0 0 8 5 6-3 6 8 3-3 6 7 1 1 8 7-2M204 465l-4 8 4 4-3 5 6 5-5 3 5 7-3 6 7 5-7 6 4 5-5 7 2 6-8 3M198 465l-6 4 4 8-6 3 4 5-7 3 3 8-7 5 2 6-8 5 3 6-5 4 3 7M237 640l5-3-4-7 1-7-7-1-3-8-6-2 3-7-6-6 2-6-6-4 3-8-5-2 3-8-6-3 0-9-6-6 4-7-6-6 6-4M529 445l-4 7 7 4-2 9 8 4-4 5 5 6-1 8 8 4-5 7 5 4-4 7 6 4-4 7M524 445l-4 4 3 5-5 2 5 6-2 6 6 5-1 8 6 2-2 8 7 3 0 9 7 2M241 441l-4 6 7 5-1 8 5 2-1 7 7 3-3 6 3 6-4 7 6 6-6 6 6 7-6 5 5 6-4 7 6 5-4 7 4 5-2 6M234 441l-3 8 8 2 2 6 7 2-1 8 6 0 1 8 7 0 1 8 8-1 2 6 7 0 3 6 6 1 1 6 7 3M495 440l-6 4 0 6-6 1-2 7-8-1 0 6-8 1-1 6-8 0 1 8-5 3 0 8-6 0-2 5M488 440l-4 6 7 3-1 9 7 2 0 7 7 2-2 9 7 4-3 7 5 7-3 5 3 6-6 2M432 437l-3 7 6 5-5 4 2 7-6 6 4 6-6 4-2 5-7 0-1 8-7 2 0 7-7 3M435 437l-5 7 5 4-2 8 3 6-6 3 0 9-6 1 2 7-8 2-3 6-7 2-1 8-7 0M365 639l4-7-3-5 7-2 0-8 8-3 1-8 6-1-1-8 6-2-1-9 6-6-3-7 3-8-5-4M360 639l3-6-4-8 2-7-6-4 4-8-3-8 4-4 0-7 8 1-1-7 5-3-2-8M580 646l5-5-2-6 7-6-5-5 8-3-4-8 6-2-1-8 1-1 0-8-2 0 0-7 2 1-2-8 2 0-2-7 2 1M586 646l7-6-4-8 6-4-2-6 1-4-3-6 4-2 0-8 1-2-1-6 0 1 0-7-1-4-2-8 3-1-2-6 3-3M186 448l-5 7 4 6-5 5 4 5-4 7 4 7-3 7 4 8-6 5 2 6-5 4 7 6-3 8 9 2-2 7 8 0 1 6 8-1M498 446l-5 8 8 2-3 7 6 2 2 8 8 3-4 6 2 7-6 3 1 7-6 2 4 6-4 5 5 6-5 5M493 446l-3 6 6 6-6 6 3 8-4 4 3 8-7 4 2 6-4 4 1 8-8 2-2 8-7 0-3 8M319 636l5-5-6-6 4-6-2-8 4-6-5-6 1-6-6-6 6-5-3-7 7 0 0-8 6-2 0-9 6 0 1-8M371 456l-5 4 3 7-6 5 3 7-6 6 3 8-7 2 2 9-7 1 1 8-8 0-2 7-6 0-3 8-8 0-2 8M366 456l-4 6 7 5-6 6 6 5-4 8 5 6-6 6 6 4 0 6 8 1-1 6 5 5-2 6 6 4M579 641l3-7-4-6 7-5-2-7 8-3-3-6 7-1 1-7-1-1-2-7 1-3-3-7 4-2-1-8 1-3-2-7M573 641l5-6-5-7 4-6-5-6 3-7-4-8 7-2-4-6 5-4-6-6 2-7-5-5 2-7M260 648l3-7-8-2 1-7-7-4-2-7-8-1-3-6-8-1-1-8-5-4 1-7-6-4 5-5-4-4 3-9-3-5M204 459l-4 6 5 6-5 4 3 6-7 5-2 6-7-1 1 8-7 2-1 8-1 7 6 5-2 8 8 1-3 6 6 1 1 8 7 4-3 6M198 459l-5 4 4 6-6 5 4 7-3 8 7 4-6 6 2 7-6 2 2 8-7 3 4 5-8 4 1 7 0 1 6 5 8 6 5 3M327 651l3-6-6-6 5-6 1-8 7 0 0-9 5-3-1-7 8-1 0-8 7-2 2-5 8 0 1-6 8 0 3-7 8-3 2-6M324 651l6-6-4-7 6-3-5-6 1-8-4-5 1-6-8-3 0-8-7-4-3-7-6 1-2-6-5-2 5-7-3-6 5-7M379 444l-4 5 4 6-6 2 4 6-6 7 1 8-6 3 3 8-8 2 0 8-5 5 5 7-4 5 6 5M320 641l5-5-1-6 7-3 2-9 8-2-2-8 6-7 0-7 8-1 2-6 7 0 4-7 6-3 3-7 8-1-1-8M322 641l5-8-7-5 2-5-6-6 1-6-6-2 5-6-5-5 6-4-5-5 5-5-3-7 2-8M255 648l6-4-5-6 5-6 0-6 8-1-1-6 8-2 2-8 8 0 3-6 7 1 2-5 6-1 1-8 7-4-3-7 5-4-2-7 4-5M261 648l4-7-6-5 1-6-6-4 1-7-6-5 0-9-7 0-1-8-7 1 1-7-7-6 4-6-7-6-1-7-5-4 3-6-6-6M244 446l-4 7 7 2 0 8 7-2 1 9 8 1 2 6 7-1 3 8 6 3-1 6 7 3 0 7 8 0-1 8 5 4-4 6 5 6M250 446l-5 5 3 7-5 5 5 4-1 6 9 3 0 8 7-1 0 6 6 0 1 7 6 0 2 6 7 0 3 8M419 629l7-5-4-5 6-3 0-7 9 0 0-9 5-5-1-8 5-4-2-6 8-3-4-6 7-3-4-7 2-6-3-6 5-7M414 629l4-7-6-2 3-8-7-4-2-8-8-1 1-8-7 1-1-7-7-4 4-7-6-4 1-9-8-2-3-8M204 644l4-7-4-5 5-5-7-3 3-5-2-7 4-5-5-6 5-4-4-6 7-5 1-8 8-2 0-8M201 644l5-6-4-6 2-8-4-5 6-5-5-5 2-5-7-4 0-6-3-5 4-4M301 629l4-7-6-5 1-8-6-2-1-6-8-1-1-7-7-1-4-7-6 0-3-7-9 2-1-6-7-1 0-8M305 629l4-5-5-7 6-5-2-7 5-7-2-6 4-5-4-7 6-6-5-5 5-4-7-4M303 630l5-5-2-6 7-2-2-6 7-1 2-6 7-2-2-8 7-4 0-9 7 0 2-8 8 2 3-7 8-3 1-7 7-2-4-6 6-7M586 445l-4 6 6 3 1 8 7 0-3 7 3 0-2 7 1-1-1 8-1 2-3 6 5 3-1 9 1 1-2 7 2 6-5 4 5 5M586 445l-7 6 2 6-3 4 4 8-7 3 0 9-5 3-1 7-6 3 3 7-6 4-1 9-7 1-2 8-7 2-1 7M441 433l-5 5 0 6-7 3 5 7-6 5 1 8-8 4 5 6-6 5 1 9-6 4 3 8-5 4-2 7-9 0-3 6-7 1-1 6M447 433l-3 6 2 6-5 4 4 6-5 6 4 4-6 5 8 5 1 9 5 2-1 7 7 3 0 7 7-1 1 8 7 3M584 625l3-5-6-2 2-7-8-2 1-8-6-2-3-6-7 0-2-8-6-3 2-6-6-7 2-6-7-4 0-7-8-2 2-7-6-3M580 625l5-7-6-3-2-6-7-2 4-8-7-2 3-6-7-5 2-8-4-6 5-6 0-6 5-3-3-6 8-4-3-8 6-5M252 463l-5 5 3 6-6 3 1 7-5 4 1 7-9 1-1 7-7 1-3 7-6 0-1 7-8 2-3 7-7 0M487 637l4-4-5-5 2-6-4-7 3-6-3-5 5-4-3-6 5-6 0-8 7 1 1-7 8 0-1-8M390 448l-6 6 1 8-7 0-4 7-7 0-3 6-8-2-2 6-8 1-2 8-8-1 0 9-8 0-1 8-8-1M394 448l-3 5 4 8-5 5 2 8-5 5 6 6-3 5 4 6-5 5 4 7-7 6 2 7M528 441l-4 6 5 5-4 5 6 5 1 9 7 1-2 8 6 6-2 8 7 2 0 6 7 1 1 9 8-1 3 7 8 1 3 8 9 2 2 7M535 441l-4 5 6 5 1 6 6 1 3 6 7 3-1 9 8 2 1 7 7 0 1 8 7-1 1 6 8 1 3 6 6 1M516 636l3-7-6-5 3-6-7-6 4-5-4-7 6-5-2-8 4-7-8-4 3-7-6-5 1-7-8-4 5-7-5-5M452 444l-4 6 3 5-6 5 1 7-7 2 0 8-7 1-2 9-5 3-1 8-6 2-2 8-9-2 2 7-8 0-3 7-9 0-3 8M455 444l-3 5 5 7-2 8 5 3-2 8 8 0-1 7 6 3 1 7 6 1 1 8 8 1 0 9 7 2-2 6 7 2M506 447l-6 5 6 5-3 5 8 4-3 7 5 5-1 6 7 4-2 9 8 0 1 7 7-2 1 7 9-1 3 5 7 1M512 447l-4 6 2 6-7 3 1 8-7 3 2 7-5 5 3 5-7 3 5 6-4 7 6 6-3 7 5 5M496 633l5-8-5-6 5-7-4-7 7-4-1-8 7-5 1-7 8-3-1-6 8-3-2-6 6-5-4-4 6-6-4-8 3-5-6-6M305 640l4-6-3-6 6-4-3-8 7-2 1-9 8 2 0-9 6-2-3-5 5-4-6-8 6-4-4-8 5-6-4-7 5-5M310 640l6-6-3-7 6-6-2-8 7-2 1-8 8 0 1-6 8-2 3-7 8-1 2-7 8-3 0-7 6-1 2-7 7-1M236 450l-6 7 2 7-6 4 1 7-6 3 3 8-8 3 3 6-5 6 6 4-3 5 6 5-4 6 6 4-2 7 5 4M240 450l-5 4 1 7-5 6 2 6-8 1 0 8-7 1 0 7-7 3 0 7-7 1-1 7-7 2M223 451l-4 6 3 6-1 9 7 5 3 7 7 1 1 9 8 3-4 7 5 4-1 6 5 2 0 7M222 451l-1 7 7 3 2 7 8 0 2 7 7 0-2 7 9 1-2 7 5 3-4 8 4 7M539 434l-5 6 5 7-7 4 3 5-6 7 4 6-2 6 4 4-4 8 2 5-6 4-1 7-5 4 5 8M489 450l-2 8 7 5-5 4 5 6-8 4 4 8-5 3 2 9-8 1 1 8-8 1-1 7-8-1 0 6-8 2 1 6-7 2 2 6-8 2M483 450l-4 5 2 6-4 6 6 3 2 8 9-2 2 8 7 0-2 8 7 0-1 7 6 2 1 6 7 3-4 7 5 4 0 7M579 429l-6 5 4 7-4 8 5 5-3 8 8 3-4 7 4 7-6 6 7 5-4 4 2 7-6 6 0 7-6 0M430 436l-3 7 6 4-3 8 8 3 1 7 8 2 3 5 8 0 0 9 8 0-2 7 9-1 1 8 9 1 1 8 7 0 2 8 8 1M429 436l-6 6 0 6-7 3 0 8-6 4 3 5-4 6 4 5-1 7 6 1 0 9 7 3-3 8 5 5-2 7 5 7-2 7 5 5M210 629l4-8-5-5 4-6-7-7 2-7-5-3 1-8-6 1 2-8-7-3 7-5-3-7 7-1 2-9 9 1M419 640l3-7-5-5 2-7-4-6 6-5 0-7 6-6-2-7 8-4-3-8 3-8-4-4 5-6-3-6 5-5M420 640l4-7-7-3 1-6-6-6 2-7-4-5 5-5-1-9 4-5-2-7 6-3 1-6 6 0M253 641l7-5-4-5 4-4-1-9 6-5-4-7 4-6-3-8 6-6-6-5-1-7-6-5 5-7M258 641l5-5 1-7 7 0 1-8 6-2-2-8 8-4 1-8 8-3 0-7 7-5 1-7 6-2M429 437l-6 6 4 6-3 5 1 9-7 3 1 6-4 5 4 5-4 6 2 6-6 6 4 7-8 4-1 8-8 2 3 5-7 5 3 9-8 0M480 447l-4 6 2 7-8 2-2 6-7 0-4 6-8-1 2 6-7 4 2 7-6 3 2 8-5 5 6 5-4 8M482 447l-4 5 7 5-2 8 6 6-3 7 5 5-1 7 7 5 0 7 7 4 3 6 6 2-3 7 6 5-3 5M513 643l7-5-4-5 5-6-5-2 0-7-6 1-1-8-7-4 1-8-6-1 1-7-8-1-1-7-8-2M507 643l7-4 0-8 7-6-3-6 5-5-6-6 4-5-6-8 6-5 1-8 5-4 0-7 6-3 2-8M561 441l-4 5 2 7-4 6 5 5-2 7 7 1-2 9 8 3-2 7 7-1 0 7 8-1 2 8 8 4M567 441l-3 6 2 8-6 3-2 6-8 0-3 8-7-2-2 8-9 1 0 8-6 1M180 629l14-5 2-6 8-4 0-8 7-2 3-8 8-2 2-8 9-1 3-7 6 0 2-9 6 0 1-8 6-2-1-7 8-4M179 629l12-7 5-7 6-4-5-7 2-6-4-6 3-8-4-4 4-4-2-6 6-3 3-7 8 0 2-7 8 0 1-8 6 1M577 640l5-4 0-9 8-2-2-6 5-5-4-4 2-7-8-2-1-7-7-3-1-8-9 0-2-8-6-3 1-7-6-3 2-7-7-2M579 640l7-4-3-5 2-7-4-7 6-7-5-5 4-7-7-6 6-5-1-8 8-1-2-8 6-1 0-6-3-3-2-8 2-5-3-5M402 436l-6 5 5 5-4 5 5 7-8 4 0 8-6-1-1 8-8-2-2 6-8 0-4 8-7 1-1 8-8 2-1 8-8-1M398 436l-6 6 0 7-6 2 2 7-6 5 0 9-8 1 1 8-7 2-1 6-6 2 0 7-7 6 4 6-5 4M181 449l-4 6 7 6-5 5 5 7-6 4 3 8-3 6 5 5 0 7 9 1 3 8 8 1-1 8 8 1 2 8M185 449l-2 7 5 7-3 5 5 4-6 7 8 4-2 8 4 5-4 7 6 3-3 6 7 3-1 6M537 447l-4 5 4 6-6 3 0 6-8 4 5 5-5 6 3 6-2 7 5 7-5 6 5 5-3 5 3 8M537 447l-4 4 0 9-5 5 4 8-8 3 1 8-8 4 2 6-5 5 3 6-5 5 3 6-7 1-3 8M581 648l4-7-2-6 7-3 1-9 4-2-1-6 0 0 1-7-1-4-3-8 2-5-4-6 6-5 1-6-3-3-4-7 6-4M576 648l6-6-5-7 4-7-3-6 5-7-3-8 5-4 2-7 7-4-5-6 4-3-3-8 5-5-3-7 1-4-4-5M393 547l-5 2-4-4 0-5 6-2 4 3-1 6M393 558l-5 1-4-5 2-5 6-1 3 5-2 5M311 540l-5 2-4-4 1-5 5-2 4 4-1 5M309 550l-5 2-4-4 1-5 5-2 4 4-1 5M312 558l-4 4-5-2-2-5 5-4 5 2 1 5M309 570l-5 2-4-4 1-5 5-2 4 4-1 5M580 498l-6 1-3-5 2-5 6 0 3 4-2 5M586 508l-5 1-4-4 1-5 6-2 4 4-2 6M583 517l-5 2-4-4 1-5 5-2 5 4-2 5M555 467l-3 4-6 0-2-5 3-4 5 0 3 5M559 478l-5 4-5-2-1-5 4-4 5 2 2 5M559 488l-4 4-5-2-1-5 4-4 5 2 1 5M557 532l-5 3-4-3 0-6 5-2 5 3-1 5M558 540l-4 4-5-1-2-5 4-4 5 1 2 5M499 557l-5 2-5-3 1-5 4-2 5 3 0 5M493 566l-4 3-6-2 0-5 4-3 5 2 1 5M495 577l-5 3-4-3 0-6 4-2 5 2 0 6" fill="none" stroke="#e8106e" stroke-width="1.9" stroke-linejoin="round" stroke-linecap="round"/>
<path d="M397 453l-5 7 5 5 0 6 7 4-1 6 8 3 1 8 7 4 1 7 7 2 1 6 7 1 2 8 8 0 3 8 6 3 1 8 6-1 2 6M467 448l-5 6 6 3-1 7 5 3 0 9 4 4-1 7 8 4-1 6 7 3-4 6 5 4-4 8M462 448l-3 6 6 6-5 6 0 7-7 1 2 6-8 1-2 8-9 0 0 9-7 4-1 8M484 634l2-5-6-4 4-6-4-8 4-7-6-7 2-7-4-6 2-7-7-3 3-9-6-3 1-9-5-3 4-6-6-4 5-4-7-5 3-7M478 634l5-6-4-7 4-8-4-5 6-6-2-8 3-7-8-5 5-5-3-5 5-7-6-4 3-6-4-6 4-5-4-7 4-6-5-5 5-5M567 633l3-5-7-1-1-6-8 0-1-8-8 0-3-6-6 0-1-8-7-2-1-8-5-4 5-6-4-7 4-8-4-7 4-6-5-6 2-8M560 633l6-6-3-8 3-6-2-6 7-1 0-9 7-2 2-9 8-1 2-7 3-1-1-6 2-5-4-5 4-6-3-6 5-6-4-6M354 434l-6 4 3 6-7 4 0 6-9 2 2 8-7 6 3 6-5 6 3 8-3 5 5 7-3 7M347 434l-2 6 4 6-4 6 7 4 0 7 9 1-4 6 3 5-6 5 3 8M363 453l-5 8 4 7-9 2 4 5-6 3 4 6-6 2 1 8-7 4 2 8-6 4 4 5-3 6 6 6-2 6 2 7-4 5M369 453l-3 6 7 5-2 8 6 3-5 7 3 5-5 6 4 6-6 4 4 6-6 4 3 6-3 6 6 5-4 8M571 627l5-5 0-8 5-7-4-5 3-7-6-3 4-5-3-7 6-2 0-6 8 0-3-8 8-4-2-6 4-6-5-7 3-5M566 627l3-6-4-6 5-6 0-7 7-5-5-7 7-3-1-9 4-5-1-7 7-3-2-7 4-7-6-5 5-6M481 639l4-5-1-7 5-4 0-7 7 0 0-7 6-2-1-7 7 1-1-9 8-2 3-5 7-1 4-8 6-1 1-8M353 452l-5 5 6 5-1 8 4 6-3 7 4 5-4 5 4 6-6 6 1 7-6 1 5 6-5 5 2 7M350 452l-5 6 7 5-5 5 4 7-6 3 2 8-8 0-2 9-6 0-1 9-9 2 0 8-6 2M488 426l-2 7 7 2-2 7 5 3-3 7 6 3-1 6 7 5-2 6 5 5-4 6 5 4-3 5M488 426l-3 6 5 7-4 6 5 5 0 8 7 3 1 7 9 1-2 9 7 1 1 7 8 1 1 7M244 648l4-7-9-2 1-8-7-3 0-7-8 0-2-8-8-2 0-9-7 1 1-8-6-4 2-8-7 0M245 648l5-4-3-7 8-4-2-7 6-3-3-9 4-5-3-5 7-4-4-6 7-5M316 448l-7 4 3 7-4 5 5 5-4 5 0 7-6 3 0 9-8 1 2 7-6 3 4 7-7 4 6 5-5 6 2 8M182 451l-4 6 8 4 1 6 7 3-1 8 7 3 2 7 8 2-1 8 6 6 0 9 7 0 1 7 9 0 1 9 7 0M181 451l0 5 7 5-3 7 3 5-3 7 6 6-2 7 7 2 2 9 7-1 4 6 8 4-3 6M433 438l-4 6 5 7-5 4 4 7-6 5 3 7-8 5 3 6-5 5 5 8-2 8 4 7-5 3 3 6-5 5 1 8-6 3 2 6M417 450l-3 6 5 6-4 5 1 6-3 6 6 2-4 8 4 5-1 9 7 1-1 7 6 2 0 8 7 3-3 8 6 5-2 7 7 4-3 6M357 626l5-5-5-7 3-7-4-5 4-6-5-6 2-8-7-4 5-5-5-5 4-7-4-7 7-3-3-7 9 0-1-7M351 626l3-8-3-6 6-5 0-7 7-2 2-8 6 0 1-6 7-2 2-7 6-2 1-7 6-1 1-8M351 640l4-6-7-5 5-7-6-4 0-9-7 0 1-8-8 1 1-6-8-4-1-7-7-1 0-7-9 0-1-8-8 0-3-7M345 640l6-4-5-7 5-5-1-8 7-1 2-6 8-1 2-7 6-2-1-6 9 1 2-6 6-3 2-6 9 0 2-8M479 646l5-6-5-8 6-5-3-8 6-2 1-8 7-3 0-7 6 0 3-7 8 1 3-6 7 0 0-6 8 0 1-8M476 646l2-6-6-5 2-6-7-4 1-6-8-2-2-6-6-1 0-7-9-3 0-6-6 0 1-7-8-2M217 640l3-8-8-2 4-8-6-5 0-8-8 1-1-7-8-1-2-9 1-2 6-3-1-7 5-4-4-7 3-6-8-3M215 640l6-4-5-4 6-7-5-4 6-5-4-8 5-7-8-5 5-4-4-6 3-8-6-4 2-6-8-4M534 445l-4 6 5 4-4 7 2 6-5 5 4 5-2 8 6 4-1 8 6-1 2 6 6 0 4 7 9 1-1 6 6 4-1 6 8 0M530 445l-6 4 2 7-7 1 0 8-7 5 5 7-7 3-1 7-7 1-2 6-6 2 2 7-8 3 1 8-6 4M482 428l-4 7 4 6-8 4 4 8-6 5 3 5-6 4 2 8-6 3 7 5-6 4 2 7-8 2 4 7-7 2 4 5-6 6M487 428l-6 5 4 7-5 5 1 6-6 4 6 7-4 6 4 6-5 6 4 5-5 5 1 6-7 5 2 6-7 5M368 626l6-6-4-7 8-2 0-6 6-2-3-8 7-6-3-9 7-4-4-6 5-7-2-7 7-3-1-6 8-1-2-7 5-5-4-6M367 626l5-7-7-5 2-6-6-3 1-7-7-5 3-8-7 0-3-6-6 0 1-8-7-1-2-6-7-2-2-6M429 449l-3 6 5 5-2 6 4 7-1 8 6 1 3 7 8 1 2 7 7 0 3 7 9 1-1 7 7 4-1 8 5 7M427 449l-5 7 3 8-5 7 6 7-5 5 3 8-5 6 6 6-4 5 5 5-6 6 4 5-7 5 3 6-7 2 3 8M313 455l-3 6 2 6-4 7 6 4-4 8 6 3 0 7 5 4-2 6 6 6-3 7 3 5-8 5 5 5M315 455l-3 7 7 5-1 8 6 3 1 8 8 0 1 7 7-1 3 8 8 1 1 7 7 1 0 8" fill="none" stroke="#aeb2ec" stroke-width="1.9" stroke-linejoin="round" stroke-linecap="round"/>
<path d="M477 446l-3 7 7 5-5 7 9 2-2 7 6 3-5 7 2 6-5 5 2 5-6 4 2 7-7 2 0 7-7 3 4 7-6 5M259 439l-4 5 4 7-6 5-2 9-7 2 2 7-8-1-2 6-8-1-4 8-9 0 1 9-6 2 2 6-7 5 0 6-6 7 3 8M252 439l-4 6 5 6-6 3-1 7-5 3 2 6-4 5 5 5 0 7 6 4-1 8 6 6-2 8 5 3 1 7 8 0 1 6M541 630l6-5-5-5 2-8-5-7 5-4-2-7 6-5-2-8 8-3-2-7 7-3-2-6 6-2M360 651l3-6-6-4 3-7-7-2 0-7-7-4 1-8-5-3 3-6-4-5 3-5-6-5 2-8-5-4M481 430l-5 5 4 8-6 5-2 8-8-1-2 7-6 0-2 8-6 3-1 8-5 5 4 5-3 7 7 3 0 7 7 0 3 8 8 0M487 430l-3 6 6 4 0 8 8 0 3 7 8 0 0 7 6 3-2 6 5 7-4 5 4 7-5 6 5 5-7 6 3 6-5 4 6 7M489 429l-4 6 5 5-2 9 4 5 2 6 7 3 2 7 6 1 4 7 6 1-2 8 8 2-1 8 7 5-4 8 7 2 0 7 6 4M483 429l-5 6 1 6-7 4 1 8-5 4 5 6-5 6 1 9-5 4-1 7-7 3 2 6-2 6 7 4-2 6 7 3-2 7 7-1M265 447l-5 6 4 7-7 4 3 8-5 5 7 5-5 5 3 6-3 8 5 6-3 7 5 3-4 7 4 7-7 5 1 7M265 447l-5 5 3 8-3 6 0 6-7 4 4 6-3 6 6 5-2 8 4 6-2 8 5 6-1 7M239 458l-7 3 1 7-7 3-3 6-6 1-3 5-7-1-3 7-8-2-2 8-7 2-2 6-8-1 1 7-3 7 7 3 0 8M235 458l-2 8 3 8-2 8 6 5-5 7 1 9-5 6 5 6-7 4 4 7-6 6 4 6-1 8 8 4 1 7M207 631l5-3-6-5 4-6-7-3 2-7-7-5 5-7-6-6 4-6-6-7 3-8-3-6 2-5-5-2 7-5M488 427l-2 6 6 3-3 6 5 7-5 6 7 5-5 6 5 6-4 6 8 4-4 8 2 7-5 7 4 7-8 4M314 447l-8 4 4 5-5 5 6 4-3 9 5 6-5 4 3 6-4 6 6 5-2 6 5 3-4 7 4 7-4 5 6 4M576 436l-6 4 1 6-6 3-2 7-7 1-3 8-7-1-4 8-8-2-2 8-6 1-1 8-9-1-3 6-7 1-1 7-8-1M577 436l-5 3 0 7-8 0 0 7-9 2 0 6-7 2 2 6-6 5 4 7-3 6 4 7-3 7 6 6 0 8M557 437l-7 5 2 7-8 3 2 7-8 2 0 9-9-1 0 8-7 2-2 6-6 0-1 8-7 0-4 8-7 0-1 8-9-1-2 6-6 1M560 437l-3 6 3 6-7 4 5 7-5 7 7 5-2 7 7 3 1 7 7 2-1 7 7 1 2 9 6 1-3 7 6 1-4 6M265 630l5-7-6-5 3-7-7-4 1-8-4-4 6-6-4-5 6-5-1-9 7-3-2-9 6-4-2-8M264 630l6-6-1-7 8-1-1-7 7 0 1-9 7 1-1-9 7-3 5-7 7-3 1-8 6 0 3-6M455 442l-6 5 1 7-6 3 2 8-7 3-1 8-7-1 0 7-7 2 1 6-7 3 1 6-7 3 2 7-5 6 2 7M457 442l-4 6 3 6-5 5 1 8-7 1 2 7-8 3-1 7-8 2-1 8-8 4 0 7-9 1-3 7-8 0M265 441l-3 5 2 6-5 6 1 8-7 2 1 8-7 2 1 8-7 3 3 7-5 7 4 7-8 2-1 8-8-2M263 441l-5 5 5 7-4 6 5 7-2 7 5 4 0 7 5 6-4 8 4 6-7 5 0 8-6 6 3 8-5 4M501 439l-5 5 5 5-5 4-1 6-8 1-3 7-8 0-3 8-6-1 1 8-6 3-2 5-8 1-2 6-6 2 2 7-6 5 6 6-1 7M565 433l-5 5 4 6-4 6 7 6-2 6 6 2 1 7 7 1-3 8 5 3-1 9 6 0 1 7 7 1 0 7 2 2-3 7 2 5 0 6M561 433l-2 7 7 1 1 7 7 0 2 7 7 0 4 7 7 2-2 8 2 3-3 5 3 9-3 5 4 5-5 4 0 8-5 5 0 6M263 458l-4 5 5 6-6 6 4 6-4 7 3 5-7 6 3 6-6 6 5 6-3 8 3 8-3 5 4 8-4 5 3 8-6 2 0 9-6 0M256 458l-3 7 6 6-4 8 7 2-3 8 5 4-6 6 4 5-5 4 6 4-3 7 7 2-2 8 6 3-3 8 5 7-5 6M407 646l6-4-4-8 4-5-3-8 4-5-3-7 5-4-4-8 5-5-5-5 1-6-6-2 2-5M413 646l3-6-4-4 4-6-4-4 7-5-4-8 4-6-7-4 0-6-6-4M537 424l-3 5 4 6-6 5 1 6-8 2 4 7-4 5 5 5-5 5 1 7-5 2 0 7-7 5 3 6-5 7 2 7-5 4 4 5-2 5M537 424l-5 4 3 6-4 6 4 8-6 2 1 7-5 6 2 6-4 6 3 8-7 2 2 6-4 6 3 4-3 8 4 7-5 4 2 8M291 446l-5 4 3 7-7 2 2 8-9 1-1 8-7-2-2 8-7 0 1 7-9 1-3 6-7 0-3 7-7 0M287 446l-4 6 5 6-7 4-1 9-9-1 1 7-7 1-2 8-7 0-2 8-8 2 2 8-5 3M333 438l-4 5 4 5-4 6 0 8-7 2-1 7-9 1-3 7-6 3-3 6-8 1 0 6-5 5 1 7M327 438l-4 8 4 7-7 3 4 7-5 7 3 7-6 3 3 8-7 2 4 8-4 7 7 6-6 6M361 638l5-5-4-7 6-4-4-6 6-5 0-6 8-3-2-8 8-1 3-7 8-2 3-6 6-2 2-9M365 638l5-7-6-5 1-8-8-1-2-7-7-2 0-6-6-5 3-7-3-7 5-4-4-5 3-6-4-5M282 451l-4 5 5 6-5 5 3 6-5 6-1 6-7 0 0 7-7 2-2 8-6-1-3 6-8-2M276 451l-4 8 5 7-2 6 4 7-7 4 2 6-7 5 0 8-5 7 0 6-5 5M569 433l-4 6 4 5-1 6 6 5-5 5 6 5-2 8 7 4-4 8 6 2-3 7 6 3 2 8M566 433l-5 4 3 7-7 4 3 7-3 4 2 7-3 6 5 4-5 6 5 6-3 5 4 5M460 440l-7 6 4 6-6 7 2 6-8 2 3 8-7 5 1 9-7 5 2 9-5 5 1 6-5 5 4 5-4 4 4 6M521 425l-3 6 4 6-4 8 2 8-3 8 4 7-6 5-1 9-7 2-2 9-9 1-1 8-6 3 4 8-6 4M575 626l4-5-4-5 6-5-2-8 6-3-1-8 6-6-5-5 6-5-6-6 4-6-3-9 9-4-4-7 2-6-5-3 2-8-8 0M578 626l7-5-4-6 7-5 1-6 6-2-2-8 3 0-2-6 1 0 1-8-2-1 2-7-1-2-2-8 0-2M314 443l-2 8 9 3 2 6 9 2-2 6 7 2 0 6 7-1 0 7 8 1 1 8 7 0 2 9 6 2 1 6 8 2M311 443l-5 6 6 6-4 7 2 6-7 4 4 7-7 2 2 6-7 6 3 7-3 6 7 6-1 7 7 6M441 436l-2 6 4 7-6 6 4 6-2 6 7 3-1 8 5 5-2 6 6 3-6 7 4 8-5 5 8 3 0 7 5 4M442 436l-5 6 7 5-4 9 7 1 1 9 7 3-2 6 7 4 0 9 8 4 0 8 7 4-3 6 6 7M573 647l5-5-6-6 5-3 1-7 7-4 1-6 8-1 1-8-1-1 1-8 0-3 0-8-2-3-2-7 4-3M573 647l5-5-2-7 7-3-2-8 7-3-1-9 5-3-3-7 7-3-3-9 1-2-1-6 3-5-3-6 1-5M498 439l-7 5 5 4-5 4 6 4-1 7 6 0 2 7 8 1 3 8 8 3 0 8 6 5 0 8 8-1 1 7 8 1M499 439l-6 4 2 6-8 4 3 6-7 6 5 4-3 8 8 0 1 9 5 3-1 8 6 5-4 8M334 453l-3 7 5 4-3 6 7 5-3 7 6 6-6 5 3 6-7 4 3 6-5 6 4 5-8 5 3 6-5 6M524 434l-5 6 6 4-4 7 2 7-5 4 3 7-8 3 5 5-6 6 6 6 0 8 7 1 3 7 9 1 0 7M528 434l-4 7 8 3-2 7 8 0 1 6 7 0-2 8 8 3 2 9 8 2 2 6 8 1M261 646l5-5-4-5 3-6-8-2 1-7-5-5 6-3-4-7 3-5-6-5 5-6-6-2 0-8-6-2 2-7-4-7 4-5-7-6 6-6M309 640l3-6-2-7 6-5-4-7 7-5-3-8 4-5-7-4 1-7-5-6 4-5-7-6 4-6-4-6M303 640l4-7-5-4 3-7-4-6 5-7-5-4 0-6-7-4 4-7-5-5 2-9M300 643l6-4-3-6 6-5-3-6 2-7-6-5-1-8-7 0-2-6-8 0-3-7-9 1-1-6-9 0-2-6-7 1 0-8M367 447l-6 6 3 7-5 8 5 5-2 8 5 5-1 6 6 3-1 6 6 6-3 6 8 2 0 7M370 447l-4 6 4 7-3 8 6 2 0 7 6 5-2 7 4 5-3 7 5 5-4 6 3 6M576 639l7-6-5-6 5-6-6-4 0-9-6-2 5-7-4-6 5-5-4-9 6-6-2-8 7-2-4-8 6-5-4-6 3-7-4-5M578 639l4-6-5-7 4-6-4-6 5-6-2-6 8-3 0-9 7 0-1-7 1-1 0-6 0-4-3-9 4 0-3-7 2 0-1-6M572 424l-3 6 6 4-3 6 5 5-3 6 5 6-4 6 5 7-6 6 6 4-1 7 6 5-3 5 5 5-2 6M420 646l5-4-2-8 5-6-5-5 3-7-7-6 7-5-3-7 7-3 0-7 8-3-3-7 8-3-3-8 6-6-5-5 5-7-5-6 2-7M419 646l6-5-5-6 5-5-4-5 3-6-6-2 3-6-7-3 0-7-6-5 2-7-7-6 6-4-6-7 5-2-4-5 5-6M280 447l-3 8 3 7-8 2-2 6-9 2 2 6-8 3 2 7-4 6 3 6-5 7 6 6 0 7 6 4-2 8 6 5-5 5 3 7M278 447l-4 6 7 4-4 6 5 4-1 6 6 2 0 7 7 4-6 7 5 5-3 6 3 6-7 5 3 8-6 5 0 8-8 3 0 9M574 629l4-5-6-3 1-9-7-5 0-7-7 0 0-7-8 0-2-6-7 0-1-6-8 1-4-7-7 2-2-6-6-2 4-7M451 646l5-6-4-7 7-4-4-8 5-5-1-7 6-6 0-8 6-5-3-8 8-5-3-7 8-2 2-7 6 1 3-8 8 2 0-8M456 646l4-6-8-2 1-9-7-3 2-7-7-4 5-6-7-6 3-7-5-6 7-5-3-8 7-5 0-8 9-1 2-7 8 1M238 440l-5 4 3 6-6 2-2 8-6-1-3 7-6 2 3 6-4 4 4 7-5 3 6 7-6 4 6 5-6 7 5 7-5 4 5 4-4 4M236 440l-2 7 5 7-4 5 2 6-6 4 6 6-2 6 7 4-2 8 7 2-1 6 6 4-1 8 8 1 1 8 7 0 0 6 9 0M505 646l4-7-3-5 3-6-4-6 6-5-2-7 4-4-2-6 6-4-1-8 7 1 1-7 8 0 3-6 9 2-2-9 6-3-2-6M508 646l4-8-5-5 1-6-7-4 1-7-8-1 2-7-7-2-2-7-7-1-1-9-7 0-1-9-8 0-3-8-6 1M505 449l-3 7 5 7-2 7 4 6-5 7 4 6-5 5 2 7-7 5-2 8-7 0-1 7-9 0-2 6M528 652l3-7-6-3 0-7-8 0 1-7-7-1 0-8-7-1 2-7-5-3 2-9-6-5 4-7-8-4 0-8-8 0-3-7-6-3M522 652l4-6-5-7 5-8-3-5 5-6-5-4-1-8-6-1 0-6-7-4 4-5-5-8 6-4-4-8 7-5M508 641l5-7-6-3 1-6-8-1-1-7-5-2-2-8-8-1 1-6-7-4-1-6-7 1-1-9-5-3M509 641l4-4-4-7 7-2-2-6 7-4-4-7 5-5-2-7 8-3-4-8 4-4-7-5 7-5-3-8M322 436l-5 7 4 5-5 6 1 7-8 1-3 7-7 0 0 6-4 5 6 5-1 6 9 0-2 8 7 1M325 436l-7 4 1 8-7 0-2 7-6-1-1 7-9-1 1 9-7 1 0 7-6 5M557 435l-4 5 1 7-5 6 0 7-8 2 4 7-4 5 6 4-2 7 7 2 0 9 7 1 3 7 8-1 4 7 9 2-1 8M560 435l-3 7 6 7-1 8 7 4-5 7 5 7-4 7 8 3-3 6 6 5-2 9 5 5-6 6 2 6-5 5 6 5M536 637l4-6-1-7 8-4-2-8 7-3-3-7 8-4-6-7 7-5-3-8 6-5-4-8 5-3-2-6 7-2M541 637l5-5-5-5 5-3 1-9 6-1 0-6 7-3-2-6 7-2 2-8 7-2 1-8 6-2 3-7M304 440l-3 7 7 3-3 7 5 4-2 8 5 2 4 8 6 2 1 8 7 0 0 8 7 1 2 7 6 3M494 441l-3 8 2 6-5 4 1 8-6 3-1 7-7 2-3 6-8 1-1 9-8 2 1 8-8 1 1 7M496 441l-4 8 6 3-1 7 9 0-1 9 7 1 3 7 6 2 3 7 7 0 2 8 6 2 3 7 6 1M459 445l-7 5 4 8-7 2-2 8-6 3 2 8-6 3-1 6-7 2 3 7-5 7 3 7-4 7M455 445l-2 9 7 4-4 8 5 6-2 7 6 4-3 7 7 4-1 9 7 3M492 649l4-6-5-5 5-6-3-7 7-4-6-4 4-6-5-5 5-6-4-4 4-6-4-6 4-5-1-7 6-4-1-7 5-4-5-4M497 649l4-6-2-7 2-8-7-3 5-7-2-8 6-3-2-9 7-5-4-5 5-3-3-6 6-7-5-4 3-5-3-7 7-4-1-9M526 645l2-8-7-4 4-6-6-3-3-7-8-1-1-7-7-1-2-8-7-4-1-9-7-1-3-5-7-2M495 634l4-6-5-7 6-5-3-7 8-4 0-7 8-3-1-7 7-4-3-6 4-6-5-6 1-8-3-6 5-5M493 634l5-5-3-6 5-4-4-5 5-5-5-6 4-5-3-8 5-4-4-8 8-2 0-8 6-4 0-8M268 440l-4 6 6 6-5 8 5 6-4 7 6 4-4 6 8 4-1 7 5 4 1 9 7 3-3 8 8 1 2 8 7 5M485 442l-5 8 6 3 3 8 7 0 2 8 5 1 0 8 7 0 2 7 6 0 0 8 8 2 1 8 8-2 1 9 5 4M590 433l-3 5 4 7-4 5 3 6-5 3 5 7-5 3 3 6-3 6 4 6-6 7 1 8-7 1M585 433l-6 4 5 7-5 5 2 7-5 5 6 5-6 3 2 8-8 1-1 7M228 643l3-6-4-4 5-6-4-5 4-7-5-6 3-7-6-6 5-6-4-7 6-4-6-7 1-7-4-5 6-4-2-6 7-1-1-7M514 429l-4 8 5 7-2 7 5 6-4 7 5 5-2 6 8 3 0 6 7 0 3 8 8 0 3 7 7 2 3 6 6 4-2 8M569 637l4-7-6-5 1-8-7-3-2-7-6-5 4-5-5-4-1-8-8 1 0-7-7 1-1-6-6-1-2-7-6-4-1-7M562 637l6-5 0-9 8-2-2-6 7-4-4-5 5-5-4-6 3-7-2-7 8-3-5-6 5-6-3-7 2-7-7-5M579 441l-5 5 5 4-5 7 3 6-5 3 6 5-3 5 7 1-2 7 5 7-6 5 4 6-5 6 4 5-2 6M584 441l-4 5 4 5-7 3 1 7-5 6 3 7-5 4 4 6-6 5 2 6-7 5 7 6-1 8 4 4M279 446l-6 6 4 7-6 4 3 8-7 1 2 7-7 5-2 7-7-1-2 7-8 0-2 7-7 1 0 6M283 446l-6 4 3 5-6 5 5 4-3 6 5 6-3 7 6 3-5 8 8 3 2 9 8 0M581 430l-3 7 3 7-4 6 4 6-4 7 7 5-2 9 7 2 1 6 6 1-1 8-1 3-2 7 4 4-6 5 1 9-9 2 4 8M211 647l5-4-6-5 1-6-6 0-1-7-7 1-2-8-4 2 6-4 0-6 7-4-2-8 6-3 2-8M214 647l5-6-5-6 1-6-5-6 2-7-3-6 7-5-3-7 6-5-1-8 7-3-3-7 3-6-6-5M435 445l-3 7 4 4-5 4 1 9-6 3 3 6-7 4 5 6-5 7 2 7-5 6 4 6-4 7 5 6-2 7 4 7-1 8 7 1M387 441l-6 6 2 7-6 4 5 5-1 7 9 0 3 8 8 4 1 7 9 1 2 7 6-1 2 8 5 3-1 8 7 4-4 8 6 5M206 443l-3 8 7 4 0 8 8 0 2 7 6 1 0 8 7 3-2 7 6 6-2 7 6 4-4 6 8 2 0 8 6-1 3 5M202 443l-6 6 2 6-7 0-3 7-6 2 0 6-6 2 5 6-4 5 6 6-3 5 6 3-3 9 4 5-5 5 1 6-5 4M312 439l-5 3 1 7-4 6 5 5-3 8 5 6-4 8 6 6-8 2 3 7-7 5-1 6-7-2-3 7-7-1-2 6M468 441l-2 7 6 5-3 6 6 5-6 3 4 7-5 2-1 7-7 3 5 6-6 3 2 7-6 3-1 8M589 637l3-6-3-7 3-7-5-6 3-7-5-6 5-6-4-7 5-3-4-5 4-8-7-3-2-8-7 1-4-8-6-3-3-6-6-1-3-6M588 637l2-6-6-6 3-6-3-5 5-7-3-6 7-5-1-7 2-5-3-9 3-5-5-4 3-8-5-6 4-4-4-7 7-4M339 631l3-7-8-3 3-5-5-6 0-7-8-2-3-8-7 1-2-8-8-1-2-8-8-3 1-8-7 0-3-7-5-3-1-7M335 631l3-6-7-5 2-8-7-4 3-6-7-3 3-6-8-3 4-8-4-7 7-3 0-9 6 1-1-7M526 426l-5 6 6 5-4 6 5 5-5 6 6 5-5 7 6 5-6 8 3 7-7 3-2 7-6 0-2 7M529 426l-5 5 3 6-6 4 3 6-8 2 4 6-4 4-1 8-8 3 1 8-6 6 4 5-6 4 0 7M495 438l-5 5 6 4 1 7 6 1 0 9 8-1 3 7 7 2 2 7 9-1 0 8 7 0-1 9M558 625l4-7-8-4 0-8-9 1-3-7-7-4-2-8-5-3 0-8-7-1-3-8-7 0-3-7-8-3 2-6M552 625l4-5-5-4 0-7-6-6 7-5-5-6 4-7-8-3 1-7-5-1-2-6-8-1-2-8M482 477l-5 2-5-4 1-5 5-2 5 3-1 6M481 484l-3 4-5 0-3-5 3-4 6 0 2 5M545 459l-4 2-5-3 0-5 5-3 5 3-1 6M543 469l-5 2-5-3 1-5 5-3 4 3 0 6M548 480l-6 1-3-5 2-5 6 0 3 4-2 5M546 490l-6 1-3-4 1-6 6-1 3 5-1 5M247 612l-4 4-5-2-1-6 4-3 6 2 0 5M253 622l-3 4-6-2-1-5 3-4 6 1 1 6M245 632l-4 4-5-2-2-5 4-4 6 2 1 5" fill="none" stroke="#18a5ad" stroke-width="1.9" stroke-linejoin="round" stroke-linecap="round"/>
<path d="M353 643l7-5-4-8 8-4-2-6 5-4-5-5 2-9-8-3 0-8-7-2 0-8-8 0-3-5-8-1-1-8-8 1-2-6-9-2-2-8M441 440l-7 5 4 7-6 1-1 8-8 4 2 8-8 4 3 6-7 2 3 8-6 4 4 6-6 3-1 8-8 3 1 7M447 440l-6 4 5 8-5 6 6 6-6 5 5 6-3 8 5 4 0 9 7 4-2 7 8 4 0 8 5 3 0 6M443 626l4-5-5-6 0-7-8-1 0-8-8-1-2-7-6-3 0-7-8-3-3-7-9 1-3-8-8-1-4-8-8-3M447 626l4-5-3-5 6-2-2-6 7-2 0-7 7 0 0-8 7 0-2-6 5-4 0-8 6-5M372 449l-4 7 4 6-6 5 4 7-5 5 2 7-6 2 2 9-8 2 1 6-5 4 4 5-6 5 4 7-5 4 0 9M370 449l-4 8 7 4-4 7 7 5-4 6 1 7-7 1-1 8-8-2-1 8-7 1-4 8-7 2 1 6-6 3M387 644l3-7-5-4 6-4 0-7 6-5-5-6 5-7-2-7 6-5-3-7 1-6-5-8 5-5-4-8 5-5-3-6 2-6M382 644l4-6-4-5 6-4-1-8 7 1 1-8 8-3-3-7 5-4-2-7 3-7-2-7 6-3-1-7 6-2-4-8 2-7M266 631l4-6-1-8 7-1 2-8 8-2-1-8 5-5 0-8 7-2 2-8 9 0 3-7 7 1 0-7 7-4-1-7M270 631l4-6-4-7 2-7-7-1-1-8-8-1-2-8-9 0-2-8-8-1 1-8-5-4 3-7-7-3 3-8-7-1M398 629l5-4-3-8 6-1 0-8 7 0 2-6 8 0 2-6 9-2 1-7 8-1 0-8 8-4 0-8 7 2 2-8M400 629l5-4-6-7 7-4-1-8 3-5-7-4 3-8-6-4 3-7-8-4 1-6-9-1-3-8-8 2-1-9-8 0M418 633l5-4-3-7 5-5-5-6 6-3-5-7 4-5-2-8 8-2-3-5 7-6-3-8 2-7-8-4 3-6-5-5 1-7-6-4M414 633l4-5-4-3 5-5-4-6 6-3 0-6 8-1-1-9 7-1-3-6 5-5-3-8 6-2-5-6 5-7-1-6 6-4M298 641l4-6-6-4 0-6-6 0 0-8-7 0-2-7-8-1 0-6-8 0 0-7-7-3 3-8-5-6M299 641l6-6-5-4 4-5-5-7 4-8-3-6 7-6-3-7 6-4-2-8 6-2-1-8 8 0M470 649l5-7-2-8 8-5-3-6 6-4-4-5 7-6-2-8 5-2-2-6 5-6-3-8 7-5-1-8 3-6-4-6 4-5M464 649l6-4-2-8 7-3-1-8 7-3 0-9 8-2-3-6 6-5-1-7 5-4-4-6 8-4-2-9 4-6-6-6 5-6M420 439l-6 4 0 9-7 2 2 7-6 4-1 7-8 5 2 6-6 6 3 6-2 6 5 4-2 7" fill="none" stroke="#ffcc33" stroke-width="1.9" stroke-linejoin="round" stroke-linecap="round"/>
<path d="M462 646l2-8-5-7 6-6-3-8 5-7-5-7 6-4-4-8 6-5-3-7 7 0 1-8 8 1-1-7 8 1 0-6 7-1M204 453l-6 6 3 6-4 7 7 4-1 7 7 1 1 8 8 1-1 7 4 4-3 7 3 8-4 6 3 6M210 453l-3 6 4 8-3 7 5 4-4 7 7 5-1 8 6 6-6 4 4 6-5 5M263 456l-5 4 5 6-6 6 7 5-2 6 7 3 2 8 8 1 0 7 6 2 3 9 8-2-1 9 7 5-3 5 2 8M265 456l-4 5 6 6-3 7 4 8-6 6 0 8-5 5-1 8-7-1-2 7-7 2 1 8-8-1M190 464l-4 5 3 5-3 6 6 2 0 9 8-1-1 6 7 6-4 8 5 4-1 6 7 1 1 9 6 2 3 7 6 0-1 8 7 1M497 437l-5 4 6 5-2 6 7 5-4 5 6 5-1 6 6 2 4 7 7 2-2 7 7 3-2 9 6 2M228 463l-3 8 4 7-4 7 5 6 0 7 6 5-4 7 7 3 0 8 7 4-4 6 6 4-6 6 2 8-5 3 1 8-4 6 3 7-7 4M480 442l-5 6 5 4-3 6 4 5-2 6 4 6-6 5 0 9-6 2-2 7-9 2-2 7-8 1-2 9-8-1 0 7-6 2M487 442l-7 5 2 6-7 5 2 7-6 3 0 9-9 3-1 6-8 3 3 5-6 4 4 5-3 7 8 3-1 7M446 649l6-7-5-5 5-5-4-6 7-4-2-7 5-4-2-7 5-6-5-6 4-5-4-5 5-4-2-6 4-5-4-4M449 649l4-8-6-6 7-6-2-7 6-3 0-6 7-2 1-8 9-1 2-8 8 0-1-7 9 1M368 635l6-3-5-7 4-8-7-4 2-6-9 0 0-6-7-3 2-6-5-5 4-6-7-4 4-6-7-4M540 636l4-6-6-3 1-7-4-5 4-6-6-5 3-7-7-4 3-6-5-4 3-7-5-6 3-5-3-5 3-6-1-9 5-3-4-6 5-7M537 636l5-6-6-3 3-7-6-6 3-5-7-5 1-6-6-3 2-5-5-3 0-6-6-4 0-6-6-4 3-9-7-3 3-7-6-5-2-7M495 646l3-6-4-5 7-5-5-6 3-8-8-4 5-8-5-4 4-7-6-3 1-6-5-5 2-8-6-4-2-8M491 646l6-6-5-8 4-7-3-5 4-8-2-5 7-4-5-6 7-4-1-7 5-6-3-9 8-4M284 449l-3 6 7 3-2 7 6 5-4 8 6 1 0 9 5 3 0 8 6 3 2 7 8-1 1 8 8 2 0 7M554 430l-4 5 5 6-7 5 4 7-2 7 6 2 0 7 7 0 0 8 7 3 3 6 7 1 2 6 9-1M557 430l-4 5 7 5-2 6 6 4-1 7 5 3 1 8 8 3 0 9 9 0 2 6 6-1 0 8 2-1M539 627l3-5-4-6 4-5 0-6 7-2 1-8 8 0 0-6 7-2 4-7 8 0 2-8 8 0 3-8 5 0 1-7-2 0M537 627l5-6-5-7 3-7-5-4-1-8-8-3-1-7-6-3 3-7-6-3-1-7-6-2-1-6-9 0 0-7-7-3M189 648l4-5 1-4 6-2-3-7 5-6-5-6 5-6-6-5 5-5-6-5 7-6-6-5 3-9-6-2 6-4-3-9 5-5M191 648l6-6-5-6 7-4-1-6 6-5-4-7 5-5-5-6 4-7-4-7 2-6-4-6 3-5-3-7 8-1M264 626l4-4-3-6 7-4-3-8 8-4 0-7 5-6-1-6 7-6-3-8 7-3-1-9 5-7-6-4 3-7-9-1-1-8-6-2 0-7M268 626l5-6-4-7 4-7-4-7 4-6-5-3 0-6-7-5 3-6-5-5 3-8-6-5 7-5-5-7 6-4-2-9M214 646l4-7-5-5 4-5-3-7 4-8-8-4 4-4-6-5 7-6-5-4 7-6-2-8 7-1-1-9 5-6-2-7 5-6-6-5M216 646l5-7-4-8 3-6-5-3 0-8-7-5 3-9-5-4 1-7-7-4 3-6-8-4 3-6-8-3 0-7 4-3 8-5 0-7M553 633l4-4-5-4 4-5-2-6 3-8-7-2 2-6-5-6 3-6-7-4-1-9-7-2 0-6-9-3 0-7-9 0-3-7-8 2-1-8M229 446l-5 4 4 6-7 3 3 8-9 1 0 9-6 5 0 8-6-1 1 6-8 2-1 7-8 2-2 7-4-1 7 4-3 8 6 4M229 446l-4 5 8 3-1 6 7-1 0 8 8-1-1 7 8 0 1 7 7-1 2 8 6 5-3 9 7-1-1 9M202 635l5-6-4-5 6-5-7-5 3-5-4-6 4-4-2-7 5-4-4-6 4-7-2-6 7-1 3-7 7 0 1-6 6-1M204 635l3-8-7-5 2-8-5-6 4-6-5-5 5-7-7-5 4-6-6-6 3-6-1-5 5-3-1-7 7-2M208 446l-7 4 0 7-7-1 2 9-8 1-1 6-9-1 1 7-2 6 4 3-5 6 5 4 0 6 8 1 1 7 8 0 2 8M203 446l-2 6 6 3-4 7 8 2 1 6 7 2-4 7 6 5-3 6 3 6-5 7 7 3 1 8 6-1M555 641l6-6-1-9 7-1 2-6 9-1 2-6 6-3-3-7 8-3-1-6 3-2 2-7-1-2 1-6-1-3 2-7M549 641l4-6-7-3-2-9-7-1-3-6-7 0-2-7-8-3 0-8-6-1 0-7-7-1 2-6M591 437l-6 5 0 7-7 1-1 8-9 0-3 6-7-1-1 6-6 1-1 7-7 5 1 6-8 3-2 9-8 2-1 6-8 2M361 637l4-5-4-5 5-3-6-6 5-5-4-5 4-5-5-8 3-7-4-7 5-5-4-5 5-7-6-7M362 637l6-5-7-5 4-6-8-2-3-8-7-2 0-8-7-4 4-7-6-5 0-7-8-1M191 635l4-7-1-1 7-5 0-7 8-1 0-9 9-2-3-7 7-5-4-5 5-4-5-7 6-4-4-5 5-7M198 635l4-7-6-3 4-5-5-4 6-4 0-6 7-5 1-9 7 1 1-8 7-3 2-7 8-2M184 630l8-4 0-6 5-6-4-7 7-6-5-7 7-5-1-7 7-1 1-7 6 0 2-7 7-1 1-6 9-1 0-6M179 630l14-6 1-7 6-4-6-6 5-3-2-6 7-4 0-6 7-4 1-8 8-3-1-8 7-1 0-9 9 1 0-6M562 435l-3 7 3 6-5 7 2 7-6 3-3 6-9 1-2 6-7 3-1 9-9-1-1 7-8 1-1 7-9 2M588 639l4-5-7-3-1-6-7-1-1-7-7-3 1-6-8-1 2-7-6-2 1-8-5-5 0-7-5-5M595 639l1-6-7-5 3-9-6-4 0-6-7-3 2-6-6-4 3-8-8-4 3-6-6-5 1-7-7-2M189 463l-6 4 3 6-2 8 6 3-1 9 7 2-3 7 7 5-1 8 6 4-2 7 5 3 0 7 7 0 2 9 5 2-2 6 6 6M185 463l-4 6 4 8-4 6 3 6-5 6 7 5-3 5 8 5 1 8 8 2-2 7 7 1 3 7 9 1-1 8 7 1 1 8M307 648l4-4-4-6 3-6-7-5 3-5-7-5 2-5-5-4 5-6-3-7 6-6-4-5 6-7-6-7 3-5-5-5 6-7-6-4M305 648l4-5-6-7 4-5-4-6 7-5-2-8 4-5-3-7 5-6-4-5 5-5-3-5 5-4-4-6 6-7-4-5M187 449l-4 5 7 5-2 8 8 4-2 8 6 2 3 8 9 0 3 8 8-1 3 8 6 1 3 7 7 2 1 7M182 449l0 5 6 3 0 9 7 2 0 8 8 1 1 8 8-1 1 6 6 1 3 8 8 3 1 7 6 1M226 447l-3 6 5 6-4 6 3 9-5 5 5 6-4 6 4 6-4 7 7 4-3 8 9 0-3 7 8 1M503 630l5-4-5-5 3-8-9-3-3-7-7-1-1-7-7 1-2-7-7-1-1-7-8-4 0-8-6-3-3-7-7 0M337 643l5-5-6-4 4-7-5-3 4-5-6-6 5-6-1-9 9 1 1-6 8-4-1-6 6-2M344 643l6-7-7-4 0-7-7-3 3-6-5-4 4-7-6-5 6-4-3-8 7-2 1-8M514 642l3-8-5-7 4-4-3-8 6-6-2-8 5-4-5-6 4-6-7-4 3-7-6-5 1-8-5-5 4-8-7-2-1-9-7-3 1-8M515 642l4-6-5-6 5-3-2-7 4-6-8-5 4-6-4-7 2-6-6-5 7-5-2-6 7-1 1-8 9-2 2-6M410 626l5-5-5-5 5-5-6-6 6-4-2-8 9 1 2-6 8-2-1-9 7-4-1-8 9-3-1-8 8-3 0-9M406 626l4-5-4-7 3-6-3-4 2-6-7-6 3-8-7-4 1-8-7-3 3-7-5-4 5-7-4-7 2-8M320 641l4-7-6-6 5-4-4-6 2-8-6-4 2-8-7-5 5-6-7-3-1-7-7-3 2-7-9-3 1-6-6-2 0-8-5-4M325 641l4-4-5-8 4-5-3-7 5-7-6-3 2-6-6-4 0-7-7-2 0-7-8-2-3-6-7 1-1-6-8 0-3-6-6 0M298 630l3-8-6-5 0-7-7-3 1-7-7-5 3-6-5-7 5-3-1-9 4-7-4-6 4-6-6-6 3-9-4-7 1-7-6-3M414 573l-2 4-6 0-3-5 3-4 6 0 2 5M405 583l-3 5-6-1-2-5 3-4 6 0 2 5M407 593l-3 5-6-1-2-5 4-5 5 1 2 5M438 558l-3 4-6-1-2-5 4-4 5 1 2 5M435 571l-6 1-3-4 2-6 6 0 3 4-2 5M439 577l-3 5-5-1-3-5 4-4 5 0 2 5M440 588l-3 4-6-1-2-5 4-4 5 1 2 5M586 591l-4 3-5-2-1-6 5-3 5 2 0 6M592 602l-5 2-4-3 1-6 5-2 4 4-1 5M519 529l-4 3-6-2-1-5 5-3 5 1 1 6M526 539l-4 3-5-2-1-6 5-3 5 3 0 5M526 550l-5 2-4-3 0-5 5-3 5 4-1 5M522 561l-6 1-4-4 2-5 5-1 4 3-1 6M585 555l-5 1-4-4 2-5 5-2 4 4-2 6M590 563l-4 3-5-2-1-5 4-4 5 2 1 6M388 554l-5 4-5-2-1-5 4-4 5 2 2 5M381 564l-4 4-5-1-2-5 4-5 5 1 2 6M500 487l-6 1-3-4 2-5 5-1 4 4-2 5M506 494l-3 4-6-1-1-5 3-4 6 1 1 5M501 506l-6 2-4-3 1-6 5-2 5 4-1 5M500 515l-4 3-5-1-2-6 4-4 6 2 1 6M547 605l-6 0-3-5 3-5 5 0 3 5-2 5M554 613l-4 3-5-3 0-6 5-2 4 2 0 6M558 620l-3 5-6 0-2-5 3-5 5 0 3 5M555 635l-6 0-3-4 2-5 6-1 3 5-2 5M559 499l-6 2-4-4 1-5 6-2 4 3-1 6M558 509l-5 1-4-4 2-5 5-1 4 4-2 5M556 519l-5 2-4-4 1-5 5-2 4 3-1 6" fill="none" stroke="#f07a12" stroke-width="1.9" stroke-linejoin="round" stroke-linecap="round"/>
<path d="M360 632l5-5-2-6 8-1-3-7 7-6-2-7 8-3 0-9 7-1 2-8 6 0 3-7 8 2-1-9 7-4-4-6M364 632l3-8-3-7 3-5-5-4 5-5-1-8 8-4-6-6 7-4-4-7 4-8-8-3 1-7-6-5 4-5-5-4M377 638l5-4-1-9 7-3-3-6 7-1-1-8 6-5-3-6 4-4-3-7 2-6-6-4 5-6-3-6 6-4-4-6 5-5-3-6M404 451l-3 7 4 6-6 6 2 6-4 5 3 8-5 5 5 5-3 8 7 1 0 6 5 4-5 5 4 8-2 7 8 3M403 451l-4 4 2 7-7 4 0 6-8 2 4 8-4 6 5 3-5 8 8 5-5 4 4 6 0 7 4 4-6 5M591 634l3-6-1-7 2-4-1-7-1-6-3-6 3-6-2-8 4-4-2-6 2-5-5-6 2-6-7-2 2-6-7-1M589 634l5-6-4-8 5-6-3-8 3-4-2-6 2-1 1-7-3 0 1-8 0 1 1-7 1 0-3-5 2 0M548 637l5-5-6-6 3-7-4-5 4-6-5-4 5-6-3-5 5-4-4-5 2-7-8-1-1-7-7 1-3-8-7 0-2-7-8 0-1-8M543 637l4-4-3-6 6-4-2-8 7-5-2-6 6-4-5-5 2-6-4-5 5-6-3-7 4-6-5-6 8-3-2-7 5-6-2-7 6-3M507 447l-4 7 7 3-3 7 7 6-1 8 6 0 2 7 8 2 2 7 6 1 1 8 7 1 3 9M510 447l-5 6 5 6-6 4 3 8-6 4 1 6-4 6 3 5-2 6 5 3 0 8 9-1 2 8M430 444l-5 5 2 7-4 7 4 7-3 7 7 3-3 7 5 5-6 3 4 5-3 7 6 5-1 6 2 6-5 4M428 444l-5 4 4 5-4 5 5 7-1 6 5 7-5 7 7 3 0 6 5 7-4 4 2 8-6 5 3 7M461 638l6-4-7-5 5-7-6-5 4-7-5-3 4-7-5-7 7-5-4-7 3-6-4-3 1-7-6-1 2-8-8-4-3-8-8-1M457 638l6-7-5-6 3-6-5-5 1-6-6-5 5-8-6-6 2-6-6-6 1-8-7-5 1-6-8-2 1-6-5-7 5-6-2-6M380 633l5-4-4-5 6-4-1-7 6-2 2-8 6 0 1-6 8-1 1-8 8 0 0-6 7-5 1-6 7-5-3-8 6-6M380 633l6-5-4-7 6-7-5-7 3-8-7-2 1-7-6-2 2-8-5-6 4-6-4-5 8-3-2-7 7 1M451 434l-4 6 1 6-8 1 2 8-8 3 1 8-6 4 2 7-6 3-3 6-7 2 3 7-5 6 5 5-2 8 6 2 0 7M440 648l5-5-2-8 5-7-8-3-1-8-8-3-2-6-9-1-1-6-9-1-2-7-6-4 5-7-4-5 5-7-5-4M434 648l3-8-6-4 5-5-5-6 6-4-5-4 5-7-1-8 8-3-1-6 9-3-2-7 5-3M409 449l-4 5 4 7-4 6 5 5-4 5 2 6-4 7 5 5-1 7 5 6-3 7 6 3 1 9 7 4M482 643l3-5-5-3 5-7-4-7 4-5-5-7 4-4-3-7 4-6-5-3 2-7-5-5 5-6-5-7 1-7-7-1M487 643l3-5-6-4 3-8-5-5 0-8-8-4 1-7-6-5-2-8-6-3 2-6-3-8 7-2-4-7 5-7-6-3M554 627l3-7-6-3-1-7-7 0-2-7-9-1-1-6-8-1 1-7-8-1 0-6-7-1-3-6-5-3-1-6-6 1-3-8M548 627l3-6-4-8 1-6-6-4 0-9-8 0-2-8-8 0-1-7-6-2 2-8-7 0-1-8-7-4 2-9-8-2M473 432l-6 4 2 8-6 6 4 8-4 6 5 6-2 7 6 0 3 6 7-1 2 7 8 0-2 7 6 3 0 7 6 7-2 6M468 432l-4 7 4 6-7 3-1 6-7-1-3 5-6 1 0 9-6 0-2 6-9-1-1 7-8 3-2 6M244 441l-6 7 2 6-6 2 3 7-6 1 0 7-4 4 4 7-4 7 8 4-3 6 7 4-3 8 2 6-6 5 3 7-5 6M249 441l-3 8 4 7-2 8 8 3-3 9 6 3-2 8 8 2 0 9 7 3-1 8 8-1 1 7 5 5-2 6 6 6M470 442l-2 8 6 5-2 7 7 0 1 7 8 1 3 8 7 3-4 7 5 5-5 7 6 6-4 6 6 3M474 442l-5 7 7 6-3 7 6 2-2 6 6 4-1 7 6 3-1 8 7 1-1 8 6 5M210 639l4-4-1-7 6-5-3-8 6-5-6-3 1-7-6-4-1-6-7-4 2-8-7-6 2-7-3-3 7-4M215 639l6-5-3-8 5-4-4-6 0-7-8-3-1-8-6 0-1-7-8-1 0-6 0-3 6-5-4-5M182 442l-1 6 6 4-2 7 3 5-5 4 2 9-3 5 2 6-8 4 4 6-5 7 5 4-1 6M408 460l-4 5-5-1-2-5 3-5 6 1 2 5M414 472l-4 3-5-2-1-6 5-3 5 3 0 5M411 482l-5 3-4-3 0-5 4-3 5 3 0 5M414 493l-5 2-4-4 1-5 5-2 5 4-2 5M579 616l-5 2-4-4 1-6 5-1 4 3-1 6M580 625l-5 3-4-4 0-5 5-2 5 3-1 5M336 484l-4 4-5-1-2-6 4-4 5 2 2 5M346 496l-5 2-4-4 1-5 5-2 4 4-1 5M338 507l-6 1-3-5 2-5 6 0 3 4-2 5M344 517l-6 1-3-5 2-5 6 0 3 4-2 5M452 538l-4 3-5-2-1-6 5-3 5 2 0 6M455 548l-4 3-5-3 0-5 4-3 5 3 0 5M448 559l-5 2-4-3 0-6 5-2 5 3-1 6M450 569l-6 2-4-4 1-5 5-2 5 4-1 5" fill="none" stroke="#f08aa8" stroke-width="1.9" stroke-linejoin="round" stroke-linecap="round"/>
<path d="M283 631l3-7-4-7 3-7-4-6 7-6-3-6 5-6-2-6 3-6-2-5 4-6-6-7 3-7M281 631l4-6-8-4-2-7-8-4 5-5-2-7 6-7-5-5 2-8-8-4 1-6M224 648l7-6-4-5 6-7-6-6 4-4-6-4 4-5-1-8 5-5-4-6 4-6-4-6 1-9-8-3-2-8-7 0M219 648l3-8-4-6 6-4-1-7 8-4-1-7 7-1-3-9 8-3-4-7 8-4-3-8 4-7-5-4 3-9-5-4M187 447l-4 5 7 3-1 8 6 3-3 9 7 4-1 6 4 7-4 6 5 5-4 6 4 6-3 7M183 447l-5 4 5 4-6 4 3 7-3 5 6 5-2 7 5 4-2 6 5 5M192 631l4-7-3-6 6-3-3-8 7-5-4-6 5-5-5-7 7-2-1-9 6-2 1-7 8 1-3-8 8-2-1-8 7-4M192 631l3-7-3-5 5-6-3-5 5-3 1-9 6-1-1-7 7-2 0-8 9 1 1-9 5-3-1-7 6-2M193 454l-5 6 4 7-3 7 5 4-1 6 8 2 1 7 7 0 3 6 9 0 1 9 7 2 2 8 8 2-2 6 8 4-1 8M193 454l-5 6 4 8-6 4 3 5-4 6 8 3-1 6 7 4-3 6 2 7-6 4 1 8-5 5 4 6-4 6 6 6" fill="none" stroke="#f7a07c" stroke-width="1.9" stroke-linejoin="round" stroke-linecap="round"/>
<path d="M299 631l6-6-5-4 3-5-6-5 6-6-4-8 7-2 2-7 8-1-1-7 7-4 1-9 6-4-2-7M301 631l6-5-4-6 2-8-4-7 3-7-5-7 8-4-3-7 8-4-5-6 6-5M338 648l4-7-7-4 2-8-7-2 3-6-6-5 2-7-7-3 2-8-9-1 3-9-7-4 0-7-7 0-2-6-7-2-1-7-8-2-3-8M342 648l7-6-3-7 7 1-1-7 7-3-4-5 1-7-4-8 2-7-7-3-1-6-7 1-1-8-7-2-1-8-7 1-4-8M318 445l-3 5 7 3 1 7 7 4 2 9 8 4-6 6 6 7-3 6 3 6-1 6 6 5-2 5M324 445l-4 5 3 6-2 8 7 2-3 5 5 8-5 4 3 5-6 6 5 4-4 6 5 4" fill="none" stroke="#c2ee22" stroke-width="1.9" stroke-linejoin="round" stroke-linecap="round"/>
<path d="M329.9 448.4l.6-.4 1.9-.3 2.9-.3 3.9 0 4.4 .3 4.7 .6 1.5 13.2-4.6-.7-4.5-.2-3.8 0-3 .3-1.9 .3-.6 .3zM333 474.5l.6-.3 1.8-.4 3-.2 3.9 0 4.4 .2 1.5 13.2-4.4-.3-3.8 .1-3 .2-1.9 .4-.6 .3zM336 500.7l.6-.4 1.9-.3 3-.3 3.8 0 4.5 .3 1.5 13.1-4.4-.2-3.9 0-2.9 .3-1.9 .3-.6 .3zM339.1 526.8l.6-.3 1.9-.3 3-.3 3.8 0 4.4 .2 1.6 13.2-4.4-.3-3.9 .1-3 .2-1.8 .4-.6 .3zM342.2 553l.6-.3 1.9-.4 2.9-.2 3.9-.1 4.4 .3 1.6 13.2-4.5-.3-3.8 0-3 .3-1.9 .3-.6 .3zM345.3 579.1l.6-.3 1.8-.3 3-.3 3.9 0 4.4 .2 1.5 13.2-4.4-.3-3.8 .1-3 .2-1.9 .4-.6 .3z" fill="#b8b8b8" stroke="#b8b8b8" stroke-width="0.7" stroke-linejoin="round"/>
<path d="M348.3 448.3l4.5 1.1 4 1.5 3.3 2 2.1 2.3 1 2.5 1.5 13.2-.9-2.6-2.2-2.3-3.2-1.9-4.1-1.5-4.5-1.1zM346.7 473.8l4.6 .7 4.6 1.1 4 1.5 3.2 1.9 2.2 2.3 1 2.6 1.5 13.1-.9-2.5-2.2-2.3-3.2-1.9-4.1-1.6-4.5-1-4.7-.7zM349.8 500l4.6 .6 4.6 1.1 4 1.5 3.2 2 2.2 2.3 .9 2.5 1.6 13.2-1-2.6-2.1-2.3-3.3-1.9-4-1.5-4.5-1.1-4.7-.7zM352.8 526.1l4.7 .7 4.5 1.1 4.1 1.5 3.2 1.9 2.2 2.3 .9 2.6 1.6 13.1-1-2.5-2.2-2.3-3.2-1.9-4-1.6-4.5-1-4.7-.7zM355.9 552.3l4.7 .6 4.5 1.1 4 1.5 3.3 2 2.1 2.3 1 2.5 1.5 13.2-.9-2.6-2.2-2.2-3.2-2-4-1.5-4.6-1.1-4.6-.6zM359 578.4l4.7 .7 4.5 1.1 4 1.5 3.3 1.9 2.1 2.3 1 2.6 1.5 13.1-.9-2.5-2.2-2.3-3.2-1.9-4.1-1.5-4.5-1.1-4.7-.7z" fill="#c8c8c8" stroke="#c8c8c8" stroke-width="0.7" stroke-linejoin="round"/>
<path d="M360.1 431.5l-.3 2.7 1.5 13.2 .4-2.7zM363.2 457.7l-.3 2.7 1.5 13.2 .3-2.7zM366.3 483.9l-.4 2.6 1.6 13.2 .3-2.7zM369.3 510l-.3 2.7 1.6 13.2 .3-2.7zM372.4 536.2l-.3 2.7 1.5 13.1 .4-2.7zM375.5 562.3l-.3 2.7 1.5 13.2 .3-2.7zM378.6 588.5l-.4 2.7 1.6 13.1 .3-2.7z" fill="#616161" stroke="#616161" stroke-width="0.7" stroke-linejoin="round"/>
<path d="M359.8 434.2l-1.6 2.8-2.7 2.6 1.6 13.2 2.6-2.7 1.6-2.7zM362.9 460.4l-1.6 2.7-2.7 2.7 1.5 13.1 2.7-2.6 1.6-2.7zM365.9 486.5l-1.6 2.8-2.6 2.6 1.5 13.2 2.7-2.7 1.6-2.7zM369 512.7l-1.6 2.7-2.7 2.7 1.6 13.1 2.7-2.6 1.6-2.7zM372.1 538.9l-1.6 2.7-2.7 2.6 1.6 13.2 2.7-2.6 1.5-2.8zM375.2 565l-1.6 2.7-2.7 2.7 1.5 13.1 2.7-2.6 1.6-2.7zM378.2 591.2l-1.5 2.7-2.7 2.6 1.5 13.2 2.7-2.6 1.6-2.8z" fill="#6a6a6a" stroke="#6a6a6a" stroke-width="0.7" stroke-linejoin="round"/>
<path d="M355.5 439.6l-3.6 2.4-4.1 2.1 1.5 13.2 4.2-2.1 3.6-2.4zM330.5 448.5l-.6-.1 1.5 13.1 .7 .2zM358.6 465.8l-3.6 2.4-4.1 2.1 1.5 13.2 4.2-2.2 3.5-2.4zM333.6 474.7l-.6-.2 1.5 13.2 .7 .2zM361.7 491.9l-3.6 2.4-4.2 2.1 1.6 13.2 4.1-2.1 3.6-2.4zM336.7 500.8l-.7-.1 1.6 13.1 .6 .2zM364.7 518.1l-3.5 2.4-4.2 2.1 1.6 13.2 4.1-2.1 3.6-2.5zM339.8 527l-.7-.2 1.6 13.2 .6 .2zM367.8 544.2l-3.6 2.4-4.1 2.1 1.5 13.2 4.2-2.1 3.6-2.4zM342.9 553.1l-.7-.1 1.5 13.1 .7 .2zM370.9 570.4l-3.6 2.4-4.1 2.1 1.5 13.2 4.2-2.1 3.5-2.5zM345.9 579.3l-.6-.2 1.5 13.2 .7 .2zM374 596.5l-3.6 2.4-4.2 2.1 1.6 13.2 4.1-2.1 3.6-2.4zM349 605.5l-.7-.2 1.6 13.2 .7 .1z" fill="#747474" stroke="#747474" stroke-width="0.7" stroke-linejoin="round"/>
<path d="M347.8 444.1l-4.4 1.7-4.3 1.3-3.7 .9-3 .4-1.9 .1 1.6 13.2 1.9-.1 2.9-.4 3.8-.9 4.2-1.3 4.4-1.7zM350.9 470.3l-4.4 1.7-4.3 1.3-3.7 .8-3 .5-1.9 .1 1.6 13.2 1.9-.1 2.9-.5 3.8-.8 4.2-1.3 4.4-1.7zM353.9 496.4l-4.4 1.8-4.2 1.2-3.8 .9-2.9 .4-1.9 .1 1.5 13.2 1.9-.1 3-.4 3.8-.9 4.2-1.3 4.4-1.7zM357 522.6l-4.4 1.7-4.2 1.3-3.8 .9-2.9 .4-1.9 .1 1.5 13.2 1.9-.1 3-.5 3.7-.8 4.3-1.3 4.4-1.7zM360.1 548.7l-4.4 1.8-4.2 1.3-3.8 .8-3 .4-1.8 .1 1.5 13.2 1.9-.1 2.9-.4 3.8-.9 4.3-1.3 4.3-1.7zM363.2 574.9l-4.4 1.7-4.3 1.3-3.7 .9-3 .4-1.9 .1 1.6 13.2 1.9-.1 2.9-.5 3.8-.8 4.2-1.3 4.4-1.7zM366.2 601l-4.3 1.8-4.3 1.3-3.7 .8-3 .5-1.9 .1 1.6 13.1 1.9-.1 2.9-.4 3.8-.9 4.2-1.3 4.4-1.7z" fill="#808080" stroke="#808080" stroke-width="0.7" stroke-linejoin="round"/>
<path d="M415.4 457.6l.6-.1 1.8-.2 2.8 0 3.6 .3 4.2 .6 4.3 .9 .8 13.3-4.3-1-4.1-.6-3.7-.2-2.8 0-1.7 .1-.6 .2zM417.1 484.3l.6-.2 1.8-.1 2.8 0 3.6 .3 4.1 .5 .9 13.3-4.2-.6-3.6-.3-2.8 0-1.8 .2-.6 .2zM418.8 511l.6-.2 1.7-.1 2.9 0 3.6 .2 4.1 .6 4.3 .9 .9 13.3-4.4-1-4.1-.5-3.6-.3-2.8 0-1.8 .1-.6 .2zM420.4 537.6l.6-.1 1.8-.2 2.8 0 3.6 .3 4.2 .6 4.3 .9 .8 13.3-4.3-1-4.1-.6-3.7-.2-2.8 0-1.7 .1-.6 .2zM422.1 564.3l.6-.2 1.8-.1 2.8 0 3.6 .3 4.1 .5 4.4 1 .8 13.2-4.3-.9-4.2-.6-3.6-.3-2.8 0-1.8 .2-.6 .2zM423.8 591l.6-.2 1.7-.1 2.9 0 3.6 .2 4.1 .6 .8 13.2-4.1-.5-3.6-.3-2.8 0-1.8 .1-.6 .2z" fill="#d7d7d7" stroke="#d7d7d7" stroke-width="0.7" stroke-linejoin="round"/>
<path d="M432.7 459.1l4.2 1.4 3.7 1.7 2.9 2 2 2.4 .7 2.5 .9 13.3-.8-2.6-1.9-2.3-3-2.1-3.7-1.7-4.2-1.3zM430 484.8l4.4 1 4.2 1.3 3.7 1.7 2.9 2.1 1.9 2.4 .8 2.5 .8 13.2-.7-2.5-2-2.3-2.9-2.1-3.7-1.7-4.2-1.4-4.3-.9zM436 512.4l4.2 1.4 3.7 1.7 3 2.1 1.9 2.3 .8 2.5 .8 13.3-.8-2.5-1.9-2.4-2.9-2.1-3.7-1.7-4.2-1.3zM437.7 539.1l4.2 1.4 3.7 1.7 2.9 2 2 2.4 .7 2.5 .9 13.3-.8-2.6-1.9-2.3-3-2.1-3.7-1.7-4.2-1.3zM439.4 565.8l4.2 1.3 3.7 1.7 2.9 2.1 1.9 2.4 .8 2.5 .8 13.2-.7-2.5-2-2.3-2.9-2.1-3.7-1.7-4.2-1.4zM436.7 591.5l4.3 .9 4.2 1.4 3.7 1.7 3 2.1 1.9 2.3 .8 2.5 .8 13.3-.8-2.5-1.9-2.4-2.9-2.1-3.7-1.7-4.2-1.3-4.4-1z" fill="#ebebeb" stroke="#ebebeb" stroke-width="0.7" stroke-linejoin="round"/>
<path d="M444.6 442.4l-.5 2.6 .8 13.3 .5-2.6zM446.2 469.1l-.4 2.6 .8 13.2 .5-2.5zM447.9 495.8l-.5 2.6 .9 13.2 .4-2.6zM449.6 522.4l-.5 2.6 .8 13.3 .5-2.6zM451.2 549.1l-.4 2.6 .8 13.2 .5-2.5zM452.9 575.8l-.5 2.6 .9 13.2 .4-2.6z" fill="#a2a2a2" stroke="#a2a2a2" stroke-width="0.7" stroke-linejoin="round"/>
<path d="M444.1 445l-1.6 2.6-2.7 2.4 .9 13.3 2.6-2.5 1.6-2.5zM445.8 471.7l-1.6 2.6-2.7 2.4 .8 13.2 2.7-2.4 1.6-2.6zM447.4 498.4l-1.6 2.5-2.6 2.5 .8 13.2 2.7-2.4 1.6-2.6zM449.1 525l-1.6 2.6-2.7 2.4 .9 13.3 2.6-2.5 1.6-2.5zM450.8 551.7l-1.6 2.6-2.7 2.4 .8 13.2 2.7-2.4 1.6-2.6zM452.4 578.4l-1.6 2.5-2.6 2.5 .8 13.2 2.7-2.4 1.6-2.6z" fill="#b5b5b5" stroke="#b5b5b5" stroke-width="0.7" stroke-linejoin="round"/>
<path d="M439.8 450l-3.4 2.2-4 1.9 .8 13.2 4-1.9 3.5-2.1zM416.1 457.7l-.7-.1 .9 13.3 .6 .1zM441.5 476.7l-3.5 2.2-3.9 1.8 .8 13.3 4-1.9 3.4-2.2zM417.7 484.4l-.6-.1 .8 13.3 .7 .1zM443.2 503.4l-3.5 2.1-4 1.9 .9 13.2 3.9-1.8 3.5-2.2zM419.4 511.1l-.6-.1 .8 13.2 .6 .1zM444.8 530l-3.4 2.2-4 1.9 .8 13.2 4-1.9 3.5-2.1zM421.1 537.7l-.7-.1 .9 13.3 .6 .1zM446.5 556.7l-3.5 2.2-3.9 1.8 .8 13.3 4-1.9 3.4-2.2zM422.7 564.4l-.6-.1 .8 13.3 .7 .1zM448.2 583.4l-3.5 2.1-4 1.9 .9 13.2 3.9-1.8 3.5-2.2zM424.4 591.1l-.6-.1 .8 13.2 .6 .1z" fill="#c9c9c9" stroke="#c9c9c9" stroke-width="0.7" stroke-linejoin="round"/>
<path d="M432.4 454.1l-4.2 1.4-4 1.1-3.6 .7-2.8 .4-1.7 0 .8 13.3 1.8-.1 2.7-.4 3.6-.6 4-1.1 4.2-1.5zM434.1 480.7l-4.2 1.5-4.1 1.1-3.5 .7-2.8 .3-1.8 .1 .9 13.3 1.7-.1 2.8-.4 3.6-.7 4-1.1 4.2-1.4zM435.7 507.4l-4.2 1.5-4 1-3.6 .7-2.7 .4-1.8 .1 .8 13.2 1.8-.1 2.8-.3 3.5-.7 4.1-1.1 4.2-1.5zM437.4 534.1l-4.2 1.4-4 1.1-3.6 .7-2.8 .4-1.7 0 .8 13.3 1.8-.1 2.7-.4 3.6-.6 4-1.1 4.2-1.5zM439.1 560.7l-4.2 1.5-4.1 1.1-3.5 .7-2.8 .3-1.8 .1 .9 13.3 1.7-.1 2.8-.4 3.6-.7 4-1.1 4.2-1.4zM440.7 587.4l-4.2 1.5-4 1-3.6 .7-2.7 .4-1.8 .1 .8 13.2 1.8-.1 2.8-.3 3.5-.7 4.1-1.1 4.2-1.5z" fill="#d5d5d5" stroke="#d5d5d5" stroke-width="0.7" stroke-linejoin="round"/>
<path d="M446 458l.6 0 1.6 .2 2.6 .3 3.4 .6 3.8 .9 4 1.3 0 12.3-4-1.3-3.8-.9-3.4-.6-2.6-.3-1.6-.1-.6-.1zM446 486.3l.6 .1 1.6 .1 2.6 .3 3.4 .6 3.8 .9 0 12.4-3.8-1-3.4-.6-2.6-.3-1.6-.1-.6 0zM446 514.7l.6 0 1.6 .1 2.6 .4 3.4 .6 3.8 .9 4 1.3 0 12.3-4-1.3-3.8-.9-3.4-.6-2.6-.4-1.6-.1-.6 0zM446 543l.6 0 1.6 .2 2.6 .3 3.4 .6 3.8 .9 4 1.3 0 12.3-4-1.3-3.8-.9-3.4-.6-2.6-.3-1.6-.1-.6-.1zM446 571.3l.6 .1 1.6 .1 2.6 .3 3.4 .6 3.8 .9 4 1.3 0 12.4-4-1.3-3.8-1-3.4-.6-2.6-.3-1.6-.1-.6 0zM446 599.7l.6 0 1.6 .1 2.6 .4 3.4 .6 3.8 .9 0 12.3-3.8-.9-3.4-.6-2.6-.4-1.6-.1-.6 0z" fill="#a7a7a7" stroke="#a7a7a7" stroke-width="0.7" stroke-linejoin="round"/>
<path d="M462 461.3l3.8 1.6 3.4 2 2.6 2.3 1.6 2.4 .6 2.6 0 12.3-.6-2.6-1.6-2.4-2.6-2.3-3.4-1.9-3.8-1.7zM458 488.3l4 1.3 3.8 1.7 3.4 2 2.6 2.2 1.6 2.5 .6 2.5 0 12.3-.6-2.5-1.6-2.5-2.6-2.2-3.4-2-3.8-1.6-4-1.3zM462 518l3.8 1.6 3.4 2 2.6 2.2 1.6 2.5 .6 2.5 0 12.4-.6-2.6-1.6-2.4-2.6-2.3-3.4-2-3.8-1.6zM462 546.3l3.8 1.6 3.4 2 2.6 2.3 1.6 2.4 .6 2.6 0 12.3-.6-2.6-1.6-2.4-2.6-2.3-3.4-1.9-3.8-1.7zM462 574.6l3.8 1.7 3.4 2 2.6 2.2 1.6 2.5 .6 2.5 0 12.3-.6-2.5-1.6-2.5-2.6-2.2-3.4-2-3.8-1.6zM458 601.7l4 1.3 3.8 1.6 3.4 2 2.6 2.2 1.6 2.5 .6 2.5 0 12.4-.6-2.6-1.6-2.4-2.6-2.3-3.4-2-3.8-1.6-4-1.3z" fill="#b4b4b4" stroke="#b4b4b4" stroke-width="0.7" stroke-linejoin="round"/>
<path d="M474 443.8l-.6 2.6 0 12.3 .6-2.5zM474 472.2l-.6 2.5 0 12.3 .6-2.5zM474 500.5l-.6 2.6 0 12.3 .6-2.6zM474 528.8l-.6 2.6 0 12.3 .6-2.5zM474 557.2l-.6 2.5 0 12.3 .6-2.5zM474 585.5l-.6 2.6 0 12.3 .6-2.6z" fill="#4f4f4f" stroke="#4f4f4f" stroke-width="0.7" stroke-linejoin="round"/>
<path d="M473.4 446.4l-1.6 2.4-2.6 2.3 0 12.3 2.6-2.2 1.6-2.5zM473.4 474.7l-1.6 2.5-2.6 2.2 0 12.3 2.6-2.2 1.6-2.5zM473.4 503.1l-1.6 2.4-2.6 2.3 0 12.3 2.6-2.3 1.6-2.4zM473.4 531.4l-1.6 2.4-2.6 2.3 0 12.3 2.6-2.2 1.6-2.5zM473.4 559.7l-1.6 2.5-2.6 2.2 0 12.3 2.6-2.2 1.6-2.5zM473.4 588.1l-1.6 2.4-2.6 2.3 0 12.3 2.6-2.3 1.6-2.4z" fill="#565656" stroke="#565656" stroke-width="0.7" stroke-linejoin="round"/>
<path d="M469.2 451.1l-3.4 2-3.8 1.6 0 12.3 3.8-1.6 3.4-2zM446.6 458l-.6 0 0 12.3 .6 0zM469.2 479.4l-3.4 2-3.8 1.6 0 12.4 3.8-1.7 3.4-2zM446.6 486.3l-.6 0 0 12.4 .6-.1zM469.2 507.8l-3.4 1.9-3.8 1.7 0 12.3 3.8-1.6 3.4-2zM446.6 514.6l-.6 .1 0 12.3 .6 0zM469.2 536.1l-3.4 2-3.8 1.6 0 12.3 3.8-1.6 3.4-2zM446.6 543l-.6 0 0 12.3 .6 0zM469.2 564.4l-3.4 2-3.8 1.6 0 12.4 3.8-1.7 3.4-2zM446.6 571.3l-.6 0 0 12.4 .6-.1zM469.2 592.8l-3.4 1.9-3.8 1.7 0 12.3 3.8-1.6 3.4-2zM446.6 599.6l-.6 .1 0 12.3 .6 0z" fill="#5c5c5c" stroke="#5c5c5c" stroke-width="0.7" stroke-linejoin="round"/>
<path d="M462 454.7l-4 1.3-3.8 .9-3.4 .6-2.6 .4-1.6 .1 0 12.3 1.6-.1 2.6-.4 3.4-.6 3.8-.9 4-1.3zM462 483l-4 1.3-3.8 1-3.4 .6-2.6 .3-1.6 .1 0 12.3 1.6-.1 2.6-.3 3.4-.6 3.8-.9 4-1.3zM462 511.4l-4 1.3-3.8 .9-3.4 .6-2.6 .3-1.6 .1 0 12.4 1.6-.2 2.6-.3 3.4-.6 3.8-.9 4-1.3zM462 539.7l-4 1.3-3.8 .9-3.4 .6-2.6 .4-1.6 .1 0 12.3 1.6-.1 2.6-.4 3.4-.6 3.8-.9 4-1.3zM462 568l-4 1.3-3.8 1-3.4 .6-2.6 .3-1.6 .1 0 12.3 1.6-.1 2.6-.3 3.4-.6 3.8-.9 4-1.3zM462 596.4l-4 1.3-3.8 .9-3.4 .6-2.6 .3-1.6 .1 0 12.4 1.6-.2 2.6-.3 3.4-.6 3.8-.9 4-1.3z" fill="#696969" stroke="#696969" stroke-width="0.7" stroke-linejoin="round"/>
<path d="M337 648l6-5-3-5 5-4 0-9 7-2-2-7 7-1 1-7 6-2 1-6 6-4-2-7 7-4-2-8 8 1 3-7 9 2 1-6M343 648l3-5-5-3-2-7-8-2 3-7-5-7 3-8-3-5 1-8-3-5 6-3 0-7 8-1 2-7 7-2M396 643l5-6-5-4 3-8-8-3 2-6-4-6 3-5-4-6 7-4-3-5 4-8-3-8 4-4-1-9 6-5 0-7 7-2M395 643l5-6-4-7 9-3-1-7 6-1 2-7 9-2 2-8 6-3 1-6 8-2-1-7 7-1 2-7 7-2 2-6M576 429l-4 6 2 6-3 7 6 3 0 8 8 2-2 7 7 4 0 6 4 5-1 6 0 1-2 7 2 3M575 429l-6 7 1 8-6 5 2 7-7 0 1 8-5 3 1 9-6 2 1 6-6 4 5 4-4 5M520 637l5-6-5-7 3-7-6-3 3-5-5-5 2-7-6-3 1-8-7-4 1-8-7-2 3-8M533 640l4-5-4-6 6-6-4-5 3-7-8-3-3-9-7 0-2-6-6 0-4-7-7 2-4-8-8-2 1-8-7-1-3-5-7 1 1-8M539 640l3-7-5-7 4-8-5-4 4-5-7-4 2-7-5-7 7-5-5-5 4-6-5-3 2-7-7-3 1-7-6-1-2-7M229 631l3-7-4-8 4-5-5-5 6-6-3-8 6-2-1-8 7-3-2-8 5-6-5-7 8-3 1-7 6-7-3-8 9-1M477 434l-2 6 5 7-6 5 4 8-7 2 3 8-6 3 1 8-8 3 4 8-6 3 4 6-4 8 3 5-5 6 7 5-3 7 3 7-6 4M481 434l-4 4 5 7-6 4 3 5-4 6 4 7-4 5 4 7-4 8 5 4-4 5 2 8-3 5 5 3-2 7 8 0 0 8M423 647l4-4-4-6 6-5-2-7 8-2-2-8 8-3 0-8 7-4 3-6 7-1 2-6 7-1-1-7 9-2M422 647l2-8-5-4 3-6-5-7 5-5-6-7 2-6-7-4-3-7-8 0 0-7-6-2 0-6-5-4M416 636l7-7-3-8 6-2-3-5 6-6-5-4 6-6-4-6 5-6-4-5 6-3-2-6 8-4-5-7 4-7-6-2 1-8M415 636l6-6-4-7 5-6-4-6 6-5-2-8 6-4 0-6 6-3 1-7 6-1 2-7 8-1 0-8M316 649l4-7-2-9 6-2-3-8 7-2 1-7 6 1-1-8 6 0 2-7 8 0 2-7 7 1 0-6 6-7-2-6 3-7M310 649l5-4-3-6 5-7-5-6 3-7-6-6 4-4 0-7 6-1 2-7 8-2 3-8 9 1 0-6 7-3 0-6M546 432l-6 6 4 5-5 4 5 5-2 6 7 3 1 8 9 3-2 7 8 3 1 7 7 4 1 7 9 1 2 6 6 3 0 6 3 2M551 432l-5 5 5 5-5 6 5 7-5 6 7 6-3 6 7 5-5 5 4 7-7 2-2 6-6 2 3 6-6 5 4 7-8 3M592 439l-6 3 5 7-7 5 1 8-6 1-1 7-6 0-1 8-9 0 2 8-8-1-4 7-8 3 0 7-6 3M590 439l-5 6 7 5-2 9 3 4-3 6 5 7-3 6 4 6-4 5 2 6-4 5 5 6" fill="none" stroke="#aeb2ec" stroke-width="1.9" stroke-linejoin="round" stroke-linecap="round"/>
<path d="M185 449l-6 4 5 6-3 6 5 3-2 7 4 8-4 6 6 4-1 6 7 2 1 8 6 3-2 9 7 4-3 7 7 5M183 449l-4 6 5 8-5 5 5 8-4 5 8 4-5 6 2 6-5 3 1 6-2 6 7 5-2 8 6 5-1 8M533 440l-4 7 6 6-4 5 4 8-8 3 2 6-6 3 3 6-7 5 4 7-3 8 6 6-6 7M539 440l-5 4 5 7-7 4 2 7-9 0-3 7-7-1 0 8-6 2-2 8-7 3M284 636l5-5-1-8 5-3 2-7 7-1-3-8 8-3-5-7 4-8-5-4 5-5-3-8 8-4-1-7 7-4-4-6 3-8-6-5 6-7M286 636l3-7-3-5 1-7-6-5 0-9-6-3-3-8-8 0-1-8-7-1 0-7-9-2-4-7-6-1 1-8-6-4 4-6M468 438l-5 4 4 5-6 5 1 8-7 2 1 6-2 9 2 7-6 5 4 5-7 3-1 8-7 1M462 438l-6 7 4 5-4 6 4 6-6 6 6 5-2 7 7 1 1 8 8-2 1 9 6 0-1 6M182 648l10-6-1-6 8-2-1-8 8-3-3-9 6-5-4-6 3-7-5-3 5-5-4-6 4-7-6-5M351 627l2-6-5-6 2-9-7-5 5-5-5-7 5-6-5-6 2-8-5-4 3-6-6-6 6-7-7-5 6-7M257 649l5-6-5-5 5-5-1-6 9-1 2-8 8 1 2-7 8-2-3-6 7-2 2-8 8-1-1-7 7-5-3-5 2-7-7-6M256 649l5-7-3-6 6-3 1-7 7 1 3-8 8-1 2-8 8-1 2-7 6-4-3-5 1-9-6-7 5-5-5-4 4-8-5-6M484 429l-5 7 5 8-3 6 7 4 0 8 8 0-3 8 7 0-1 6 9 4 2 6 6 4-1 7 4 5-3 7 7 2M478 429l-3 5 3 7-3 6 3 7-6 5 5 5-1 6 7 3 1 7 7 1 0 6 7 3-2 8 8 2-1 6M256 638l5-6-6-3 4-7-6-4 1-6-7-4 3-8-8-2 1-6-8-3 2-8-5-6 4-5-5-4 2-7M251 638l3-5-4-5 7-6-2-9 6-2-2-8 7-3 0-8 6 1 3-9 8 1 0-7 7-3 0-7M209 640l2-7-7-2 2-8-6-3 0-6-6-2 7-4-2-8 9-3 0-7 7 0 4-8 7 1 2-7 8 2 1-8 6-2M215 640l5-5-5-4 1-7-7 0-1-7-7 1 0-8-6-1-2-8 3 1 7-3-4-7 7-4-2-6M206 629l5-6-2-7 6-3 0-6 9-1 1-7 7 1-1-8 6 0 0-6 8-3-1-7 7-2 2-8 6 1 2-6 9-1 1-9M209 629l5-5-5-5 0-8-7 0-2-7-4 0 5-4 1-6 7-1 1-7 8-2 2-5 7-2 2-5 6-1 2-6 8-4 0-8M503 446l-7 4 0 8-5 2 2 7-2 6 6 4-5 6 5 7 0 7 7 0 2 7 6-1 4 8 7 0 1 7M510 446l-3 7 7 4-5 5 1 7-5 5 6 6-3 8 6 2 1 9 7 1 2 7 6-1 1 9 7 0M485 428l-2 6 7 2-1 9 7-1 2 8 8 1 2 9 6 3-1 7 7 5-2 8 8 2 2 7 6-1M484 428l-6 6 3 6-5 4 2 8-6 4 1 8-7 4 6 4-3 8 6 1 3 8M338 446l-3 6 8 3-5 5 3 9-5 4 1 8-5 4 2 5-6 3 0 7-6 0 2 7-6 4 3 6-2 7M292 561l-5 3-5-3 0-5 5-3 5 3 0 5M294 570l-4 4-5-2-2-5 5-4 5 2 1 5M294 580l-4 4-5-1-2-6 4-4 5 1 2 6M290 593l-5 1-4-4 2-5 5-2 4 4-2 6M509 502l-3 5-6 0-2-5 3-5 5 0 3 5M501 514l-4 4-5-3-1-5 5-3 5 2 0 5M510 524l-5 3-5-2-1-5 5-3 5 2 1 5" fill="none" stroke="#f07a12" stroke-width="1.9" stroke-linejoin="round" stroke-linecap="round"/>
<path d="M181 455l-2 8 4 5 0 7 6 5-3 7 7 4-2 8 6 5-4 6 5 7-7 4 1 8-8 0M550 444l-6 6 5 7-5 5 2 7-6 3-3 6-7-1 1 8-7 3 1 8-5 5 2 7-6 5 6 5-3 8 7 3 0 9M223 461l-5 6 2 6-7 2 0 7-6 2-1 6-7 1 1 8-5 3-3 7-6 0-4 6-3 0 6 5 1 7 8 3-1 8M218 461l-3 5 4 4-1 8 7 4-3 7 5 5 0 7 7 2 1 7 6 5-3 7 6 0 2 8 9 0 3 8M261 637l5-6-5-7 6-5-3-8 7-2 1-6 7-5-2-7 5-7-4-5 6-2-5-5 7-3-4-7 4-5-6-4 4-7-5-7M264 637l5-3-3-7 5-4 1-8 7-3-4-7 8-4-2-6 5-8-6-5 6-6-1-9 8-4-1-6 6-2-1-9 6-5M341 647l2-8-5-2-2-5-8 0 1-7-7-2-1-9-5-3-1-6-7-1-1-7-7 0 0-7-7 0 0-6-7-6 4-5M347 647l4-7-5-4 6-7-7-5 2-7-7-5 3-6-6-6 1-6-8 0-1-7-8-1 0-6-9-2 1-6M580 436l-3 8 3 5-3 6 8 3-2 7 9 1-1 7 5 6-3 6 3 4-5 3 4 7-5 6 2 6M577 436l-6 6 3 5-5 6 4 4-5 3 0 9-8 3 3 8-6 1 2 6-8 3M572 648l4-6-7-5 1-6-5-4 4-7-3-7 4-5-4-7 6-4-2-8 7 0 0-8 7 0 3-7 6 0 2-6-1-3-3-6M573 648l5-5-2-6 4-5-5-6 7-3-5-5 3-7-4-5 0-8-7-5 2-7-6-5 6-7-3-7 8-3M407 651l7-5-6-7 4-8-7-4 6-5-6-4 2-8-6-5 2-6-2-8 6-3 3-8 7 0 1-8 7-3M531 644l6-5-5-6 2-6-5-4 4-7-4-5 2-6-6-4 3-8-8 1-3-6-8 1-1-7-7 0-3-7-9 1M378 439l-2 7 4 6-5 4 4 5-4 4 0 6-7 4-2 7-7 0-1 7-8 2 0 7-9 2 1 6-4 5 4 5-4 8 7 5-4 6M380 439l-5 4 1 7-7 1-2 6-6 1-2 6-7 0-3 8-8 3 2 8-8 2-1 6-8 4 2 6-5 3-1 7-7 2 1 6-7 0M180 457l-4 7 6 7-1 7 8 3-3 6 6 4-3 6 5 6-8 4-1 9-5-1 6 6-2 6 6 1-1 7 7 0-1 7 8-1M174 457l4 4 4 4-2 8 7 4 0 9 9-1 1 7 8-1 3 7 9 1-1 7 6 5-4 7 3 6-6 4 2 6-5 8 5 5M566 446l-5 7 5 5-7 4 3 8-8 1 2 7-7 1-1 8-7 1 1 7-7 1 1 8-7 5 3 6M570 446l-6 6 1 6-6 6 3 5-4 7 5 3-1 9 7 5-6 5 2 6-6 3-2 9-6-1 0 7M236 450l-7 5 3 6-3 6 3 6-6 6 4 7-3 6 6 5-4 7 3 6-5 3 3 6-6 3 0 7-8 0-1 8-8 2-1 7M243 450l-4 7 4 7-5 3 4 6-6 5 3 8-4 6 7 4-2 6 3 8-7 2 3 5-7 5 5 6-3 8 5 6-4 8 3 5M535 631l5-6-2-6 6-4-3-6 4-7-3-6 7-5-1-7 7-4-1-6 6-6-3-8 4-5-2-7 7-1 2-7 7 0 2-6M529 631l6-6-1-9 6-4-3-8 6-6-4-5 4-7-7-3-1-8-7 0-2-6-8 0-2-5-8-1-4-8M430 442l-3 8 3 7-6 3 3 6-9 2-1 7-8 1-3 8-8 0 0 6-7 1-2 7-7-1-1 6-9 1-1 7-6-1-4 8-8-1M540 430l-5 6 3 6-4 6 4 7-2 6 6 2 1 8 7 1 3 7 7 1-1 8 6 2 2 6 6 2 0 9 4 6-3 7 8 3M295 647l8-4-4-7 2-6-3-8 6-5-3-6 5-6-3-6 7-3 1-7 7 1 1-8 7-1M301 647l6-5-3-8 5-5-2-7 3-6-5-5 3-7-5-6 4-7-5-3 0-9-7-1-3-7M370 442l-6 5 5 5-3 7 6 6-6 4 0 8-8 2-1 6-7 1-2 8-6 1 1 9-5 5 7 4-4 6 3 7-7 4 4 7-7 4M375 442l-2 5 6 6-1 7 7 4 1 7 9 0 1 6 6 3 2 6 6 0 2 9 6-1 0 7 7 2 0 9 8 0 1 6M397 644l3-6-4-5 8-4 2-7 8 0-2-8 8-3 0-8 6 0-1-8 6-3-2-8 7-3 0-6 7 1-1-7 7 0 4-8M401 644l4-5-7-3-1-7-7-2-3-7-8-1-2-7-8 0-3-6-6-3-3-7-8-1 1-8-6-1-3-8-9 1-2-6-8-1M333 440l-7 4 4 6-2 8 3 5-2 8 5 4-4 7 5 4-3 6 4 6-5 5 2 8-8 3M334 440l-3 7 3 5-7 5 3 6-8 2-1 7-7 1 3 7-7 3 5 8-7 2 3 7M535 437l-3 6 3 6-4 6 3 6-5 4 3 8-8 5 3 8-7 1 2 8-5 4 1 8-4 6 5 7-7 4 2 9-7 4M539 437l-4 7 2 6-6 1 1 9-7 5 4 5-4 5 0 7-7 5 0 9-7-1-1 7-8-1-2 8-6 2 0 7-7 4M269 461l-3 7 5 6-2 8 2 6-7 2 0 7-8 3 6 6-4 6 4 6-4 7 2 7-6 2-1 8M272 461l-5 5-1 8-6 2-3 8-7 3 0 6-6 2-3 7-8-2-2 8-6 2 3 5-6 4 3 5M485 450l-4 8 6 6-5 3 5 7-7 4 5 4-3 8 5 4-2 7 7 5-3 7 6 3-3 8 6 2-1 6M372 628l6-4-3-5 3-8-5-7 6-5 0-8 8-1-1-6 6 0 0-8 8 0 0-8 6-4-4-7 7-4-2-7 5-5-1-6M223 457l-3 4-5-1-3-5 4-4 5 1 2 5M216 469l-5 3-4-3 0-6 5-2 4 2 0 6M218 480l-5 1-5-3 1-6 6-1 4 3-1 6M520 500l-6 1-4-3 2-6 5-1 4 3-1 6M522 510l-5 1-4-4 2-5 5-1 4 3-2 6" fill="none" stroke="#18a5ad" stroke-width="1.9" stroke-linejoin="round" stroke-linecap="round"/>
<path d="M209 637l4-7-5-5 2-7-7-3 1-8-7 0 0-7-5-1 6-4 0-6 8-4-4-7 6-6-4-5 7-6-4-6 6-4-4-6 2-6M205 637l4-6-5-5 5-5-1-7 7-2 4-7 8 0 1-6 7-2 3-8 9-3 3-7 6 1 2-6 8-2 1-9 8-2-2-7 7 0M508 631l7-5-3-6 6-5 2-7 8-3-2-8 7-3 0-7 7 0 0-7 9 1 2-6 8-2M505 631l4-7-5-7 4-7-4-5 1-7-8-4-1-8-7-4 1-6-9-2M313 453l-4 5 1 6-5 6 2 6-7 3 4 6-7 3 6 6-6 5 4 6-6 3 1 8-7 4 1 6-3 6 5 6M193 638l5-4-2-6 8-2-3-7 6-3-4-6 6-5-5-5 1-8-7-4 2-6-6-6 3-6-4-7 5-5-4-8 7-4-5-8 6-5M473 640l3-8-7-4 4-7-6-4 0-9-9 1 1-8-7-4 3-5-4-6 2-8-2-7 4-6-7-4M479 640l3-6-5-4 6-6-2-6 5-4-3-7 7-3-2-9 7-2 0-7 7 1M315 632l3-6-7-5 1-6-9-1-1-6-7-2 1-6-5-6 4-7-3-5 6-3-6-5 4-5-3-6 6-7-2-6 7-1-2-9M309 632l5-4-5-6 7-4-5-6 5-5-3-6 4-6-4-5 4-7-5-5 3-8-6-3-2-8-5-4 6-7M202 452l-7 6-2 9-6 0 0 8-7 0-1 8 0 6 5 5-3 6 5 5-3 6 4 5-3 8M197 452l-3 8 7 3-3 7 8 5-3 5 7 4 1 6 7 0 3 8 8 2 1 7 8 3M526 447l-5 4 2 7-5 4 1 8-6 3 1 6-4 5 0 7-7 4 4 7-3 6 6 3-1 7 6 4 0 6 7 1M527 447l-3 7 6 6-6 6 0 7-5 5 5 7-5 5 3 6-8 3-2 7-8 1-1 9-7 0-1 8-6 0-3 6M234 649l4-6-6-3 4-6-6-5 1-9-6-5 3-8-6-2 0-8-6-3 1-6-7-1 4-7-3-7 4-7-7-2M231 649l5-6-5-5 7-5-5-5 2-8-6-1 0-7-6-3 2-7-4-6 2-6-6-5 3-5-4-8 5-7M578 625l5-6-6-4 2-8-5-5 7-4-2-7 7-3-1-7 7 0 3-6-1-2-4-8 3-7-5-5 4-5-2-8 4-6-7-5M212 463l-5 5 5 6-2 6 5 4-1 9 7 3 2 9 7 1 4 7 7 2 0 9 7 1 1 6 9 1 2 7 9-1 2 5 8 1-1 9M537 625l5-8-7-4-2-8-8 0 2-8-8-1 0-7-8-2 2-7-7-3 0-7-5-6 3-6-7-3 2-9-4-5M536 625l5-5-5-5 4-6-6-3 5-7-7-3 3-7-4-7 5-6-3-6 7-2-1-8 6-3-3-5M589 432l-5 4 3 8-8 3 3 5-4 5 5 5-4 7 7 5-3 7 8 2-3 7 4 5-2 8 5 3-2 7 1 1 0 8-1 3-3 7M587 432l-4 5 5 4-6 6 4 7-5 6 6 3 0 9 7 4 0 7 2 3-1 7-1 4-4 6 5 7-5 4-1 8-5 3-1 8-7 2M554 440l-5 6 1 7-4 5 1 7-6 5 3 8-8 4 2 7-4 7 6 4-1 7 9 1 1 6 6 1 4 8 7 0 3 7 7 0 1 8M284 626l4-6-6-4 3-7-6-4-1-6-7-1-3-5-8-1-3-7-9-1-3-7-6-3 0-7-7-1-3-6-7 1-2-6-7 0M283 626l5-6-6-4 2-6-8-4 2-6-8-3-2-7-8-2-4-7-8 0-3-8-7-1-2-8-9-2 2-8M490 428l-6 5 4 8-4 6 3 6-5 6 5 5-6 6 2 7-6 1-1 7-9 1-1 9-8 2M195 644l3-8-5-4 4-7-2-7 6-6-4-6 7-3-2-8 8-3 0-7 6-3 2-6 8-1 1-8 6-5-3-5 4-6M193 644l3-7-3-7 7-6-1-8 7-1 0-6 8-2 1-8 6-3-2-6 4-5-2-6 7-1 2-6M266 450l-4 5 4 6-6 5 6 6-4 7 4 8-5 6 2 8-6 5 3 6-4 7 5 6-8 4 5 7-5 6M263 450l-2 7 3 8-6 3 3 7-7 2 3 8-5 4 2 6-8 3 0 9-7-1-2 8-7 1M300 630l3-6-5-7 5-5-5-4 6-6-4-6 5-5 0-8 8 1 2-6 7 1 2-8 9-2-2-7 8 1M299 630l3-6-6-4 3-7-9-3 3-6-6-4 2-9-5-2 3-6-6-5 3-7-4-7 4-5M564 435l-4 5 6 6 0 7 7 2-1 8 8-1 3 8 6 1 0 8 5 3 0 8 2-2-1 7 0 2M560 435l-3 7 5 5-1 9 7 0 2 7 6-1 1 9 5 2 2 6 8 1 2 7-1-1 2 8 0 1M502 438l-2 5 4 8-6 2 2 7-8 4-1 6-6 3 2 6-6 2 5 7-5 7 5 5 0 8 6 2 2 8 6 3M500 438l-4 5 3 5-6 6 4 5-1 6 6 5-5 8 2 7-6 3 2 7-5 7 5 7-5 4-1 8-6 0 2 7M280 641l4-5-3-8 5-5-1-7 5-8-6-4 2-6-7-3-2-6-8 1-1-8-7 0-1-9-7-1 0-6-6-2-1-8-7-4M238 633l5-4-3-6 1-7-7-4 1-7-6-1 1-7-3-5 4-5-5-7 6-4-1-6 9-2-4-8 7-4-4-6 6-6-3-5M244 633l8-5 1-7 7-2 1-9 9-1 1-7 5-3 0-6 8-2 0-8 7-2-4-8 5-5-5-6 5-6-5-4M221 459l-2 6 8 5-4 6 0 7-5 3 0 7-6 0 0 6-7 4 3 9-6 4 3 8-6 2-3 8-7-1M216 459l-7 6 2 6-7 3-4 8-7 1-3 6-8 0 1 7-6 3 1 8 1 2 6 3 0 8M425 649l5-5-4-6 3-5-7-5 3-5-7-4 4-7-3-7 4-6-5-6 1-6-6-2-2-6-6-2 3-7-6-2M394 639l4-5-4-6 5-3 1-7 8-4-2-6 6-4-4-5 3-7-5-4 2-6-7-5 1-9-8-2 3-8-6-4M389 639l6-4 0-7 7-3 0-8 6-3-1-6 6-3-5-5 7-6-6-5 3-7-7-5 4-8M353 439l-6 4 3 8-8 0-3 8-7 0-3 7-6 0-3 7-8-1-4 6-8 1 1 8-6 5 5 6M330 649l5-4-2-7 6-4-3-5 8-4-3-7 6-5-4-7 7-4-2-9 7-4-3-6 7-4-4-6 7-4M331 649l4-5 0-8 5-4-3-7 5-6-3-8 7-4 1-9 6-1-1-9 7-1-2-7 6-5-6-5 2-8M191 446l-3 6 7 6-2 6 4 5-3 6 3 7-5 5 2 8-6 4 0 7-6 1 1 8-7 2 2 6-1 3 6 3-1 7 6 2 4 8M188 446l-4 5 6 4-6 7 4 6-3 7 2 7-7 2 0 7 1 1 6 3-1 9 9 1 3 9 9 1 2 6 8 0 2 6M337 633l3-5-3-5 2-8-5-5 5-5-5-7 3-7-6-5 6-5-6-4 2-7-6-1-4-7-6-3 3-8-7-4 6-5-4-7M342 633l3-6-7-4 3-6-7-1-1-8-7-4 3-7-5-4 1-8-6-5 3-8-6-3 3-8-5-4 1-7M492 631l3-5-4-5 4-6-4-5 3-6-6-3 0-7-7-4 3-7-7-3 2-7-9 0 0-7-7-3 2-7-4-8M496 631l4-6-6-4 2-8-6-5 4-7-4-5 5-6-1-6 7-1 2-6 7 0 0-8 8-2-1-9M217 578l-3 4-6 0-2-5 3-5 5 1 3 5M214 590l-5 3-5-2 0-6 4-3 5 2 1 6M244 466l-5 2-4-4 1-6 5-1 4 4-1 5M243 473l-4 4-5-1-2-5 4-4 5 1 2 5" fill="none" stroke="#e8106e" stroke-width="1.9" stroke-linejoin="round" stroke-linecap="round"/>
<path d="M345 447l-3 5 3 6-6 6 5 7-4 6 5 5-2 5 8 4-2 6 7 3-1 6 7 3 0 7 5 5-1 7 5 6M403 638l3-8-6-3 2-6-6-5-1-8-8-2 0-8-8-5 4-8-6-1 2-7-4-7 4-6-5-5 4-6-4-6 2-8M404 638l5-3-4-6 5-5-4-6 6-5 1-7 7-3 1-8 8-1-2-7 6-3-4-6 5-5-5-6 3-6-6-6 4-5M509 434l-4 5 1 7-6 6 3 8-6 5 0 7-8 0-3 7-8 1 4 7-6 6 7 5-5 7 2 6M448 649l3-5-4-6 5-5-1-8 5-5-3-6 5-4-2-8 4-6 0-9 9 0 1-8 8-4-1-8 6 1 0-8 5-5-1-9M449 649l4-5-4-5 7-5-3-6 5-6 0-8 6-2 0-7 7-2-2-8 4-5-4-8 6-4-5-5 5-4-2-8M424 450l-1 6 3 7-3 6 6 4-4 7 6 3-3 6 5 7-7 4 2 6-4 5 0 7-5 4 4 8-6 3 3 6-9 3 1 7M472 641l7-5-1-8 7-5 0-8 8 1 4-6 6-1 3-7 7-1 1-6 8-3 0-7 7-4-6-6 5-5-6-3 3-7-6-2M473 641l6-7-5-5 6-5-3-6 4-5-3-7 5-5-3-7 5-4-5-7 8-5-5-6 5-5-1-7 5-4-2-8 6-5M208 602l-4 4-5-1-2-5 3-4 6 0 2 6M205 615l-6 1-3-4 2-5 6-1 3 4-2 5M209 623l-5 3-5-2-1-5 5-4 5 2 1 6M204 634l-5 2-4-3 0-5 5-3 5 3-1 6M243 531l-4 4-5-2-1-5 4-4 5 2 1 5M248 540l-4 5-5-1-2-5 3-4 6 0 2 5" fill="none" stroke="#f08aa8" stroke-width="1.9" stroke-linejoin="round" stroke-linecap="round"/>
<path d="M224 648l6-5-4-7 5-6-4-7 6-4 2-9 8-2 0-8 7 1-3-8 7-4-5-6 5-7-5-5M227 648l5-6-4-7 5-3-5-7 7-3-4-6 5-7-6-6 5-7-7-6 1-9-6-5 0-7-7-5" fill="none" stroke="#f7a07c" stroke-width="1.9" stroke-linejoin="round" stroke-linecap="round"/>
<path d="M333 639l7-5-1-6 3-6-6-4 0-8-8 0 0-7-7-4 2-8-5-6 0-8-7 0-3-7-6 1-2-6-8 0 0-8M328 639l7-5-3-6 6-4-5-5 1-7-7-5 5-5-2-6 2-8-6-2 3-7-1-7 6-6-4-5 2-6-5-4M245 458l-3 5 3 8-4 6 3 6-2 7 7 5-2 6 5 4-4 6 7 4-4 8 4 6-7 6 6 6-3 6 2 8-7 3M251 458l-4 6 2 6-9 2 5 7-7 5 4 6-6 3 2 8-6 4 1 8-6 3-2 8-7 0 1 8" fill="none" stroke="#c2ee22" stroke-width="1.9" stroke-linejoin="round" stroke-linecap="round"/>
<path d="M377 444l-2 7 5 4 0 7 6 4-1 6 5 4-1 6 5 2 1 7 6 1 3 8 8 3 2 8 7 4-4 6 7 5-3 7 8 3-2 8M384 444l-4 7 5 6-6 3 1 6-7 2 2 7-8 2 1 9-6 4-2 8-9 0-2 7-6 2-2 8-7 0-1 8-7 3 2 9M473 432l-2 7 6 3 0 8 6 3 0 8 4 5-1 6 5 4-2 7 6 5 1 7 6 4-4 5 1 8-7 0-3 7-8 2-1 8M479 432l-7 4 1 6-6 3 0 9-5 5 1 6-8 0 0 6-5 5 3 8-5 3 1 6-8 3 3 6-7 6 4 7-6 4 4 6M345 443l-2 6 6 2 1 8 7 3 2 8 8-1 2 8 8 0-1 8 8 1 0 8 8 3 0 9 7 3 1 7 7 0 3 6" fill="none" stroke="#ffcc33" stroke-width="1.9" stroke-linejoin="round" stroke-linecap="round"/>
<path d="M338.4 465.1l.2-1.3 1.5-1.7 2.8-2 3.8-2 4.6-1.7 5.1-1.4 5.7 11.4-5.1 1.3-4.6 1.8-3.8 2-2.8 2-1.5 1.7-.2 1.2zM349.1 486.5l.2-1.2 1.5-1.8 2.8-2 3.8-1.9 4.6-1.8 5.1-1.3 5.7 11.3-5.1 1.3-4.6 1.8-3.8 2-2.8 2-1.5 1.7-.2 1.3zM359.8 507.9l.2-1.2 1.5-1.7 2.8-2 3.8-2 4.6-1.8 5.7 11.4-4.6 1.7-3.8 2-2.8 2-1.5 1.7-.2 1.3zM370.6 529.4l.1-1.3 1.6-1.7 2.7-2 3.8-2 4.7-1.8 5-1.3 5.7 11.4-5.1 1.3-4.6 1.8-3.8 2-2.8 1.9-1.5 1.8-.2 1.2zM381.3 550.8l.2-1.3 1.5-1.7 2.7-2 3.9-2 4.6-1.7 5-1.3 5.7 11.3-5 1.3-4.7 1.8-3.8 2-2.7 2-1.6 1.7-.1 1.3zM392 572.2l.2-1.2 1.5-1.8 2.8-1.9 3.8-2 4.6-1.8 5.7 11.4-4.6 1.7-3.9 2-2.7 2-1.5 1.7-.2 1.3zM402.7 593.7l.2-1.3 1.5-1.7 2.8-2 3.8-2 4.6-1.8 5.1-1.3 5.7 11.4-5.1 1.3-4.6 1.8-3.9 2-2.7 1.9-1.5 1.8-.2 1.2z" fill="#b8c6b8" stroke="#b8c6b8" stroke-width="0.7" stroke-linejoin="round"/>
<path d="M356.4 455l5.1-.6 4.9 0 4.2 1 3.3 1.7 2.1 2.6 5.7 11.4-2.1-2.6-3.3-1.8-4.2-.9-4.9-.1-5.1 .7zM367.1 476.5l5.2-.7 4.8 .1 4.2 .9 3.3 1.8 2.1 2.5 5.7 11.4-2.1-2.6-3.3-1.7-4.2-1-4.9-.1-5.1 .7zM372.7 499.2l5.1-1.3 5.2-.7 4.8 .1 4.2 .9 3.3 1.8 2.1 2.6 5.7 11.3-2.1-2.5-3.3-1.8-4.2-.9-4.9-.1-5.1 .7-5.1 1.3zM388.5 519.3l5.2-.7 4.8 .1 4.3 1 3.2 1.7 2.1 2.6 5.7 11.3-2.1-2.5-3.3-1.8-4.2-.9-4.8-.1-5.2 .7zM399.2 540.8l5.2-.7 4.9 .1 4.2 .9 3.2 1.8 2.1 2.5 5.7 11.4-2.1-2.6-3.2-1.8-4.3-.9-4.8-.1-5.2 .7zM404.9 563.5l5.1-1.3 5.1-.7 4.9 .1 4.2 .9 3.3 1.8 2 2.5 5.7 11.4-2.1-2.5-3.2-1.8-4.2-1-4.9 0-5.2 .6-5 1.4zM420.7 583.6l5.1-.7 4.9 .1 4.2 .9 3.3 1.8 2.1 2.6 5.6 11.3-2.1-2.5-3.2-1.8-4.2-.9-4.9-.1-5.1 .7z" fill="#c8d7c8" stroke="#c8d7c8" stroke-width="0.7" stroke-linejoin="round"/>
<path d="M365.3 438.3l.7 3.2 5.7 11.3-.8-3.2zM376 459.7l.8 3.2 5.6 11.4-.7-3.2zM386.7 481.1l.8 3.2 5.7 11.4-.8-3.2zM397.4 502.6l.8 3.2 5.7 11.3-.8-3.2zM408.1 524l.8 3.2 5.7 11.4-.8-3.3zM418.8 545.4l.8 3.2 5.7 11.4-.8-3.2zM429.5 566.8l.8 3.2 5.7 11.4-.8-3.2z" fill="#0bb30b" stroke="#0bb30b" stroke-width="0.7" stroke-linejoin="round"/>
<path d="M366 441.5l-.5 3.6-1.8 4 5.7 11.3 1.8-3.9 .5-3.7zM376.8 462.9l-.6 3.7-1.8 3.9 5.7 11.4 1.8-4 .5-3.6zM387.5 484.3l-.6 3.7-1.8 3.9 5.7 11.4 1.8-3.9 .6-3.7zM398.2 505.8l-.6 3.6-1.7 4 5.6 11.3 1.8-3.9 .6-3.7zM408.9 527.2l-.5 3.7-1.8 3.9 5.7 11.4 1.7-4 .6-3.6zM419.6 548.6l-.5 3.7-1.8 3.9 5.7 11.4 1.8-3.9 .5-3.7zM430.3 570l-.5 3.7-1.8 4 5.7 11.3 1.8-3.9 .5-3.7z" fill="#07ca07" stroke="#07ca07" stroke-width="0.7" stroke-linejoin="round"/>
<path d="M363.7 449.1l-2.8 3.9-3.7 3.7 5.7 11.4 3.7-3.7 2.8-4zM339.5 465.7l-1.1-.6 5.7 11.3 1.1 .7zM374.4 470.5l-2.8 3.9-3.7 3.8 5.7 11.3 3.7-3.7 2.8-3.9zM350.2 487.1l-1.1-.6 5.7 11.4 1.1 .6zM385.1 491.9l-2.8 4-3.6 3.7 5.6 11.4 3.7-3.8 2.8-3.9zM361 508.5l-1.2-.6 5.7 11.4 1.1 .6zM395.9 513.4l-2.9 3.9-3.6 3.7 5.7 11.4 3.6-3.7 2.8-4zM371.7 530l-1.1-.6 5.6 11.3 1.2 .6zM406.6 534.8l-2.9 3.9-3.6 3.7 5.7 11.4 3.6-3.7 2.9-3.9zM382.4 551.4l-1.1-.6 5.7 11.4 1.1 .6zM417.3 556.2l-2.9 4-3.6 3.7 5.7 11.3 3.6-3.7 2.9-3.9zM393.1 572.8l-1.1-.6 5.7 11.4 1.1 .6zM428 577.7l-2.8 3.9-3.7 3.7 5.7 11.4 3.6-3.7 2.9-4zM403.8 594.3l-1.1-.6 5.7 11.3 1.1 .6z" fill="#02e002" stroke="#02e002" stroke-width="0.7" stroke-linejoin="round"/>
<path d="M357.2 456.7l-4.1 3.3-4.1 2.6-3.9 1.9-3.3 1-2.3 .2 5.7 11.4 2.3-.2 3.2-1 3.9-1.9 4.2-2.6 4.1-3.3zM367.9 478.2l-4 3.2-4.2 2.7-3.9 1.8-3.3 1-2.3 .2 5.7 11.4 2.3-.2 3.3-1 3.9-1.9 4.1-2.6 4.1-3.3zM378.7 499.6l-4.1 3.3-4.2 2.6-3.9 1.8-3.2 1.1-2.3 .1 5.6 11.4 2.3-.2 3.3-1 3.9-1.8 4.1-2.7 4.1-3.2zM389.4 521l-4.1 3.3-4.2 2.6-3.9 1.9-3.2 1-2.3 .2 5.7 11.3 2.3-.1 3.2-1.1 3.9-1.8 4.2-2.6 4.1-3.3zM400.1 542.4l-4.1 3.3-4.2 2.6-3.9 1.9-3.2 1-2.3 .2 5.7 11.4 2.3-.2 3.2-1 3.9-1.9 4.2-2.6 4.1-3.3zM410.8 563.9l-4.1 3.2-4.2 2.7-3.9 1.8-3.2 1.1-2.3 .1 5.7 11.4 2.3-.2 3.2-1 3.9-1.9 4.2-2.6 4.1-3.3zM421.5 585.3l-4.1 3.3-4.2 2.6-3.8 1.9-3.3 1-2.3 .2 5.7 11.3 2.3-.2 3.2-1 3.9-1.8 4.2-2.7 4.1-3.2z" fill="#0fec0f" stroke="#0fec0f" stroke-width="0.7" stroke-linejoin="round"/>
<path d="M398.8 465.9l-.5-.6-.2-1.6 .2-2.4 .7-3.1 1.1-3.4 1.7-3.4 9.7 1.7-1.7 3.5-1.2 3.4-.6 3-.2 2.4 .2 1.6 .5 .7zM420.8 469.9l-.5-.6-.2-1.6 .2-2.4 .7-3.1 1.1-3.4 9.7 1.8-1.2 3.4-.6 3-.2 2.4 .2 1.6 .5 .7z" fill="#b8c6b8" stroke="#b8c6b8" stroke-width="0.7" stroke-linejoin="round"/>
<path d="M401.8 451.4l2.1-3.3 2.4-2.7 2.7-2 2.8-1 2.7-.1 9.7 1.8-2.8 0-2.7 1.1-2.7 2-2.4 2.7-2.1 3.2zM422.1 458.8l1.7-3.4 2.1-3.3 2.4-2.7 2.7-2 2.8-1 2.7-.1 9.7 1.8-2.8 0-2.7 1.1-2.7 2-2.4 2.7-2.1 3.2-1.7 3.5z" fill="#c8d7c8" stroke="#c8d7c8" stroke-width="0.7" stroke-linejoin="round"/>
<path d="M392.5 438.3l2.5 1 9.7 1.8-2.5-1zM414.5 442.3l2.5 1 9.7 1.8-2.5-1zM436.5 446.3l2.5 1 9.7 1.8-2.5-1z" fill="#0bb30b" stroke="#0bb30b" stroke-width="0.7" stroke-linejoin="round"/>
<path d="M395 439.3l2.2 2 1.8 2.8 9.7 1.7-1.8-2.8-2.2-1.9zM417 443.3l2.2 2 1.8 2.8 9.7 1.7-1.8-2.8-2.2-1.9zM439 447.3l2.2 2 1.8 2.8 9.7 1.7-1.8-2.8-2.2-1.9z" fill="#07ca07" stroke="#07ca07" stroke-width="0.7" stroke-linejoin="round"/>
<path d="M399 444.1l1.4 3.4 .8 3.7 9.7 1.8-.9-3.8-1.3-3.4zM399.6 465.5l-.8 .4 9.7 1.8 .7-.4zM421 448.1l1.4 3.4 .8 3.7 9.7 1.8-.9-3.8-1.3-3.4zM421.6 469.5l-.8 .4 9.7 1.8 .7-.4zM443 452.1l1.4 3.4 .8 3.7 9.7 1.8-.9-3.8-1.3-3.4zM443.6 473.5l-.8 .4 9.7 1.8 .7-.4z" fill="#02e002" stroke="#02e002" stroke-width="0.7" stroke-linejoin="round"/>
<path d="M401.2 451.2l.3 3.9-.1 3.6-.4 3-.7 2.4-.7 1.4 9.6 1.8 .8-1.5 .7-2.3 .4-3.1 .1-3.6-.3-3.8zM423.2 455.2l.3 3.9-.1 3.6-.4 3-.7 2.4-.7 1.4 9.6 1.8 .8-1.5 .7-2.3 .4-3.1 .1-3.6-.3-3.8zM445.2 459.2l.3 3.9-.1 3.6-.4 3-.7 2.4-.7 1.4 9.6 1.8 .8-1.5 .7-2.3 .4-3.1 .1-3.6-.3-3.8z" fill="#0fec0f" stroke="#0fec0f" stroke-width="0.7" stroke-linejoin="round"/>
<path d="M451.6 596.9l-.2-.7 .5-1.5 1.1-2.2 1.8-2.6 2.3-2.7 2.9-2.6 8.4 5-2.8 2.6-2.4 2.8-1.8 2.5-1.1 2.2-.4 1.5 .2 .7zM472.6 609.4l-.2-.7 .5-1.5 1.1-2.2 1.8-2.6 2.3-2.7 2.9-2.6 8.4 5-2.8 2.6-2.4 2.8-1.8 2.5-1.1 2.2-.4 1.5 .2 .7z" fill="#b8c6b8" stroke="#b8c6b8" stroke-width="0.7" stroke-linejoin="round"/>
<path d="M460 584.6l3.2-2.2 3.3-1.7 3.2-.9 3.1 .1 2.6 .9 8.5 5-2.7-.9-3 0-3.3 .8-3.3 1.7-3.2 2.2zM481 597.1l3.2-2.2 3.3-1.7 3.2-.9 3.1 .1 2.6 .9 8.5 5-2.7-.9-3 0-3.3 .8-3.3 1.7-3.2 2.2z" fill="#c8d7c8" stroke="#c8d7c8" stroke-width="0.7" stroke-linejoin="round"/>
<path d="M454.4 568.3l2.1 1.9 8.5 5-2.1-1.9zM475.4 580.8l2.1 1.9 8.5 5-2.1-1.9z" fill="#0bb30b" stroke="#0bb30b" stroke-width="0.7" stroke-linejoin="round"/>
<path d="M456.5 570.2l1.5 2.6 .8 3.3 8.4 5.1-.8-3.3-1.4-2.7zM477.5 582.7l1.5 2.6 .8 3.3 8.4 5.1-.8-3.3-1.4-2.7z" fill="#07ca07" stroke="#07ca07" stroke-width="0.7" stroke-linejoin="round"/>
<path d="M458.8 576.1l.1 3.7-.4 3.9 8.4 5 .5-3.8-.2-3.7zM452.4 596.7l-.8 .2 8.5 5 .7-.1zM479.8 588.6l.1 3.7-.4 3.9 8.4 5 .5-3.8-.2-3.7zM473.4 609.2l-.8 .2 8.5 5 .7-.1z" fill="#02e002" stroke="#02e002" stroke-width="0.7" stroke-linejoin="round"/>
<path d="M458.5 583.7l-1 3.7-1.2 3.4-1.4 2.8-1.4 2-1.1 1.1 8.4 5.1 1.1-1.2 1.4-2 1.4-2.7 1.3-3.4 .9-3.8zM479.5 596.2l-1 3.7-1.2 3.4-1.4 2.8-1.4 2-1.1 1.1 8.4 5.1 1.1-1.2 1.4-2 1.4-2.7 1.3-3.4 .9-3.8z" fill="#0fec0f" stroke="#0fec0f" stroke-width="0.7" stroke-linejoin="round"/>
<path d="M461 433l-4 6 5 6-3 7 6 4-3 7 5 5-4 7 6 4-1 7 5 5-4 6 6 4-5 6 6 5M471 439l-3 6 3 7-4 6 2 7-4 6 4 6-3 7 3 7-3 6 2 7-6 5 4 7-3 7 4 6M499 647l6-5-3-7 4-6-2-7 5-5-3-7 6-5-4-6 6-4-2-8 5-5-3-7 4-7M460 435l-5 5 5 6-6 5 4 7-5 5 5 5-5 6 5 5-5 6 3 7-5 5 3 6-6 4M402 627l5-6-3-7 6-5-4-6 6-5-3-7 5-6-6-5 3-7-5-5 5-6M396 643l5-6-4-7 4-7-5-4 1-8-5-6 2-7-6-4M451 434l-4 6 4 6-5 6 6 4-1 8 5 5-4 6 6 5-1 7M454 432l-4 7 4 6-3 6 2 7-5 6 4 7-4 6 3 7-4 6 6 5-4 7 4 6M439 637l3-7-5-6 2-7-4-6 2-7-5-6 2-7-6-5 3-6-4-7 5-6-4-6 6-4M463 452l-3 7 5 6-4 6 4 7-5 6 5 5-4 6 5 5-3 7 4 6-2 7 3 7-3 6M437 431l-3 7 3 6-5 6 4 6-4 7 2 7-6 5 4 6-5 5M384 639l4-6-3-7 4-6-4-6 5-7-4-6 7-4-5-6 6-5M385 625l4-6-4-6 6-5-4-6 3-7-5-6 0-7-6-5M361 631l4-6-5-5 5-6-6-5 0-7-7-3 3-7-5-5 2-7-6-4 4-7-6-5M392 639l3-7-6-5 3-7-5-6 1-7-5-5 0-8-6-4 2-7" fill="none" stroke="#e8106e" stroke-width="1.9" stroke-linejoin="round"/><path d="M477 432l-5 5 5 6-3 7 4 7-5 5 4 7-6 5 6 5M480 435l-4 7 5 6-4 6 2 8-5 5 4 6-5 5 2 7-4 7 5 6-5 6M362 647l3-6-3-7 1-7-5-6 4-7-5-5 4-6-6-5 5-6-5-5 3-7-5-6M385 439l-4 7 5 6-5 6 5 6-6 5 5 6-5 6 4 7-4 6 3 7-6 5 3 7-3 7M356 435l-6 5 5 6-3 7 4 6-2 7 3 7-3 7 5 5-5 6 6 4-4 6 4 6-5 6M451 638l3-7-4-6 4-7-6-5 4-6-5-5 2-8-4-6 4-6M483 450l-2 7 4 6-4 7 4 6-4 6 2 7-4 6 4 6M500 631l5-6-4-6 2-7-5-6 5-6-4-6 6-4-4-7 4-7-6-5M489 628l6-5-5-6 5-5-6-5 3-7-5-5 4-6-2-7 4-6-6-5 5-6" fill="none" stroke="#f07a12" stroke-width="1.9" stroke-linejoin="round"/><path d="M416 626l5-6-6-5 3-7-5-6 3-7-3-7 4-6-4-6 6-4-2-7 7-3 0-7 6-5M467 448l-3 7 5 5-6 5 3 7-4 6 6 6-5 5 5 6-5 6 6 5M369 626l4-7-4-6 4-7-5-5 2-7-5-6 2-7-6-3M474 645l3-7-4-6 6-5-5-7 6-5-1-8 7-3-2-7 6-4-1-8 5-5-2-7 5-5-3-7M410 639l4-6-3-7 5-6-2-7 6-4-3-7 6-5-3-7 5-5-1-8 6-3-1-7 4-6" fill="none" stroke="#aeb2ec" stroke-width="1.9" stroke-linejoin="round"/><path d="M406 630l5-5-5-6 3-7-5-5 3-7-5-5 2-7-5-5 1-8-6-4" fill="none" stroke="#ffcc33" stroke-width="1.9" stroke-linejoin="round"/><path d="M348 433l-3 6 5 7-5 6 5 6-4 6 6 5-2 8 6 4-2 8 5 5-2 7M470 645l5-6-5-6 4-6-6-5 4-7-4-6 5-6-4-5 3-7-5-5 3-7-4-6 6-6M450 647l3-7-5-6 6-5-5-6 3-6-6-5 3-7-4-7 3-7-4-5 5-6-4-6 2-8-5-5M434 635l4-6-1-7 5-6-5-6 4-6-4-7 5-5-4-7 5-5-3-8M461 640l3-6-5-6 4-6-4-6 4-6-2-7 6-5-5-6 5-6-2-7 7-3-2-8M465 647l4-6-4-5 2-7-5-5 2-7-6-6 5-5-2-7 3-7" fill="none" stroke="#18a5ad" stroke-width="1.9" stroke-linejoin="round"/><path d="M391 438l-4 6 5 6-4 6 4 6-5 6 5 5-4 7 4 6-5 6 2 7-6 5M487 636l5-6-5-6 4-6-4-6 5-6-5-6 4-7-6-4 1-8M409 446l-5 6 6 5-3 7 2 7-5 6 2 7-5 6 5 6M447 450l-5 6 3 7-3 6 1 8-5 5 2 7-6 5 3 7" fill="none" stroke="#f08aa8" stroke-width="1.9" stroke-linejoin="round"/>
<path d="M247 429l1 5 4 2 1 5 M444 441l5-1 1-5 4-1 M395 429l-1-5-5-1-1-5 M275 653l-5 2-1 5-5 0 M585 418l-4-1-4 3-5 0 M587 663l4 1 4-3 4 2 M282 429l4 4 5-1 3 4 M412 645l1 5 5 2 1 5 M340 658l-4-3-5 2-3-4 M405 439l4-4-1-5 5-1 M511 651l-3-4-4 2-3-4 M219 442l-3 5 4 3-1 5 M587 652l5 1 2-5 5 1 M218 433l-3-3-5 0-2-4 M496 440l0 5 5 0 1 5 M235 445l-5 1 0 5-5 1 M426 653l-5-1-2 5-5 0 M413 657l-4 2 1 5-5 2 M531 414l-3-4-5 1-2-4 M344 442l-1-5-5-1 0-5 M427 426l-4 3 3 4-5 3 M559 433l-5-1-4 3-5-1 M414 647l1-5-4-2 1-5 M538 654l-2 4 4 4-3 4 M387 649l4 2 4-3 4 3 M211 431l4 2 4-3 5 0 M465 439l4-3-1-5 4-3 M580 423l-2-4-5 0-2-4 M213 435l0 5 5 0 1 4 M583 423l-2 5 5 2 0 5 M202 640l5-1 1-4 5 0 M460 420l-3 4 5 2 0 5 M207 647l4-3-1-5 4-2 M513 419l-4-1-3 5-5 1 M434 657l5-1 0-5 5-1 M313 436l1-4-3-4 3-4 M485 649l5-2 0-5 4-3 M540 411l-4-2-4 3-5-2 M229 452l5 0 2-5 5 0 M525 430l-4-3-5 2-2-5 M385 650l1-4-4-3 3-5 M305 435l4 3 4-2 4 3 M408 433l0-5-3-3 0-5 M431 421l3 4 4-3 3 4 M563 667l3 5 4-2 4 4 M559 656l5 0 0-5 5 1 M586 640l-5 1-1 5-5 1 M283 650l-2-4-5 2-3-4 M241 433l-5-1-2 4-5-1 M305 666l-1-4-5-2-1-5 M196 432l-5-1-2 4-5-2 M204 432l-5-3-4 2-4-3 M410 656l4 2 3-4 5 0 M391 421l5 2 3-3 5 1 M181 431l0-5-5-1 0-5 M365 667l-4 3 0 5-4 3 M496 415l-4-2-4 3-4-3 M267 434l-5-1-2 4-4-1 M206 438l-5 3 1 5-3 3 M564 663l3 3 4-3 4 3 M515 438l4-2-1-5 4-3 M444 645l-5-1-3 4-5-2 M419 666l2 5 5-2 2 5 M413 659l-4 4 2 4-3 4 M293 647l2-4-2-4 1-5 M358 658l0-5-5-2 1-5 M424 418l1-5-4-3 0-5 M525 413l-4-3-4 3-5-2 M377 429l3 3 5-1 2 4 M299 451l-2-4-5-1-3-4 M435 662l-2 4 4 3-1 5 M521 438l-4 4 4 3-3 5 M219 434l5 0 1-5 5 1 M248 432l-4-3-4 3-5-1 M212 666l2-4-3-4 2-4 M525 642l5 0 1-5 5-2 M352 434l5 0 2-5 5 0 M215 662l-4-3-5 1-4-3 M397 436l-3-4-5 0-2-5 M463 435l1 5 5 1 2 5 M369 445l-4-1-4 3-4-2 M296 662l2 4 5-1 3 4 M197 454l5 1 3-4 5 1 M499 666l-2 4 4 2-1 5 M221 436l-3 4 4 4-3 3 M284 657l-5-1-3 3-5-2 M447 658l1-5-5-2-1-5 M373 652l-5 2 0 5-4 3 M482 442l4 3 4-2 4 3 M418 648l5 1 3-4 5 0 M235 454l4 3 4-3 5 3 M482 427l5-2-1-5 5-2 M443 429l-4 4 3 4-4 3 M404 667l-4-3-4 2-3-4 M408 444l-3 4 2 5-5 2 M557 650l-3-4-5 1-1-5 M564 435l-3 4 4 3-3 5" fill="none" stroke="#f07a12" stroke-width="1.8" stroke-linecap="round"/>
<path d="M585 418l1-4 M282 429l-3 0 M209 433l4 0 M449 651l2-4 M412 645l2-3 M340 658l-4 0 M405 439l1 4 M219 442l3 2 M218 433l-3-2 M344 442l1-4 M579 654l0-3 M427 426l-3 3 M211 431l-4-1 M580 423l-4 0 M460 420l-1 4 M485 649l-2-3 M200 642l-3 1 M540 411l-1-4 M229 452l4 1 M385 650l-3-1 M506 425l-4 0 M305 435l4-2 M492 658l1-4 M563 667l-2 4 M586 640l0-4 M506 665l2-3 M241 433l3-2 M305 666l0-3 M546 411l3-3 M196 432l-3-3 M204 432l3 2 M181 431l3 0 M350 667l-3-2 M564 663l-1 4 M515 438l-4-1 M553 666l4 0 M413 659l-4-1 M199 655l-4 0 M208 441l4-1 M424 418l3 2 M299 451l0 4 M267 448l2-3 M521 438l-4 1 M399 437l2 3 M246 663l3 3 M352 434l-2 3 M461 653l4 0 M215 662l-2-4 M397 436l3 2 M463 435l4 1 M369 445l4-2 M234 446l0-4 M499 666l0-4 M422 650l-4 1 M482 427l-4 0 M443 429l-4-1 M404 667l4-1 M568 643l0-4 M257 442l2-3" fill="none" stroke="#2846ff" stroke-width="1.8" stroke-linecap="round"/>
<path d="M557 419l-5-1-2 4-5-1 M442 642l5-2 1-5 5-1 M539 412l-4 4 1 5-3 3 M209 433l4-2-1-5 3-4 M449 651l5-1-1-5 4-2 M373 651l4 4 4-3 3 5 M579 654l3 4 5-2 4 3 M431 656l1 5 5 0 2 5 M213 651l-1-5-5 0-1-5 M520 644l3-4-3-4 1-5 M476 425l5 0 1-5 5 0 M500 656l-4-4-5 2-4-2 M200 642l-1 4 3 4-3 4 M421 419l-1 5 2 4-1 5 M506 425l1-5-4-3 0-5 M492 658l-4-3-4 3-4-3 M264 438l5 0 2-5 5 1 M506 665l5 1 3-3 5 0 M210 447l-1-4-5 1-2-5 M546 411l4-3-3-4 4-3 M221 431l-4 2-2 5-4 1 M407 437l-4-3-3 4-5-2 M350 667l-4-3-3 3-3-4 M553 666l5-2-1-5 5-2 M199 655l2-4-4-3 1-5 M208 441l-2 4 5 3-1 5 M267 448l5 1 3-4 5 1 M403 663l5 0 2-5 5 2 M399 437l-4 4 2 4-5 2 M246 663l0 5 4 3 0 5 M546 436l-5 1 0 5-5 1 M361 445l3-3-3-4 3-4 M461 653l-1 5 3 3-3 4 M456 658l-4-3-3 4-5-2 M224 431l4-3-2-4 1-5 M234 446l0-5-4-3 1-4 M384 645l-4-2-4 2-4-3 M454 657l1-5-4-3 0-5 M422 650l-3-4-5 2-2-5 M581 411l-4 4 1 5-4 3 M568 643l-4-2-2 5-5-2 M493 436l-4-3-3 4-5 0 M257 442l4-3-2-4 3-4" fill="none" stroke="#e83030" stroke-width="1.8" stroke-linecap="round"/>
<path d="M316 699c3-2 15-14 15-16-1-2-13 5-18 7-5 2-9 6-12 5-3-2-3-11-6-15-3-4-10-6-11-10-1-5 5-19 5-19 1 0 1 15-1 20-1 6-3 7-6 11-4 4-11 10-13 12M294 696c3 0 12 1 15-2 4-4 5-14 7-21 2-7 5-19 3-20-2-2-10 6-14 11-3 5-6 17-10 20-4 2-12-3-14-3M296 657c-1 3-8 13-6 18 2 5 13 9 18 12 5 4 13 9 12 9 0-1-11-11-16-13-4-2-8 4-12 2-5-2-12-10-16-15-4-5-7-11-9-13M299 658c-2 0-9 0-14 0-6 0-14-2-20 0-6 2-12 6-16 11-3 4-7 12-5 16 2 3 11 3 16 5 4 3 4 9 9 9 4 0 13-10 17-10 5 0 7 10 9 12" fill="none" stroke="#555" stroke-width="2.2" stroke-linecap="round" stroke-linejoin="round"/>
<path d="M486 664c3 1 15 1 20 5 4 3 5 13 9 15 3 2 9 1 11-3 3-3 0-12 3-17 3-4 13-11 14-10 1 2-8 12-8 18-1 6 4 15 5 18M461 649c3 0 14-1 17 1 2 3 2 11 0 14-2 3-13 0-13 3 0 2 10 7 13 12 3 5 5 17 7 18 2 1 0-10 4-14 4-3 14-1 17-4 3-4 0-12 0-15M552 678c1 3 8 15 7 18-1 2-8-2-12-3-5-1-9-1-15-2-5-1-11-3-16-5-5-2-9-6-14-6-6-1-16 7-20 5-4-2-4-14-5-17M525 672c3 0 17 1 21-3 4-4 6-19 4-20-2-2-11 6-15 10-5 4-8 10-13 14-5 4-12 5-17 10-5 4-11 14-13 17M535 687c0-3-5-13-4-18 2-6 10-14 15-16 4-1 11 5 11 7 0 2-11 2-12 6-1 3 9 12 7 15-1 3-9 5-14 3-6-1-14-11-19-10-4 1-9 12-10 14" fill="none" stroke="#c4c4c4" stroke-width="2.2" stroke-linecap="round" stroke-linejoin="round"/>
<path d="M414 663c-2 1-9 7-12 6-3-1-3-11-7-12-3 0-11 9-15 9-4-1-4-9-7-12-3-3-11-9-10-9 0 1 10 13 14 14 5 0 8-10 12-9 4 1 10 12 12 14M402 648c2 2 13 9 14 9 0 0-8-9-12-11-4-1-7 1-12 1-5 1-15 1-18 4-3 4 0 17 1 19 2 1 7-9 8-10" fill="none" stroke="#e000e0" stroke-width="2.2" stroke-linecap="round" stroke-linejoin="round"/>
<circle cx="253.5" cy="668" r="5.2" fill="#8a93c0" stroke="#6a72a0" stroke-width="0.8"/>
<circle cx="318" cy="659" r="5.2" fill="#8a93c0" stroke="#6a72a0" stroke-width="0.8"/>
<circle cx="457.5" cy="661" r="5.2" fill="#8a93c0" stroke="#6a72a0" stroke-width="0.8"/>
<circle cx="505" cy="675" r="5.2" fill="#8a93c0" stroke="#6a72a0" stroke-width="0.8"/>
<g clip-path="url(#cb)">
<path d="M727.7 5.3l.9-1.7 5.4-1.6 9.4-1.2 12.7-.2 15 1 16.1 2.4 1.8 30-16.1-2.4-15-1-12.8 .3-9.4 1.1-5.4 1.7-.9 1.7zM732.4 87.9l1.1-1.7 5.6-1.7 9.6-1.1 12.8-.2 15.1 1.1 16.1 2.4 1.7 30.1-16.1-2.5-15-1-12.9 .2-9.6 1.1-5.6 1.6-1.1 1.7zM737.1 170.4l1.3-1.7 5.8-1.6 9.7-1.1 13-.2 15.2 1.1 16.1 2.6 1.7 30-16.1-2.5-15.1-1.1-13 .1-9.8 1.1-5.7 1.6-1.3 1.8zM741.9 253l1.5-1.8 5.9-1.6 9.9-1 13.1-.1 15.2 1.1 16.2 2.7 1.7 30-16.1-2.6-15.2-1.2-13.1 .1-9.9 1.1-6 1.6-1.5 1.7zM746.6 335.5l1.7-1.7 6.2-1.6 10-1 1.8 30-10.1 1-6.1 1.6-1.7 1.7z" fill="#bfbfbf" stroke="#bfbfbf" stroke-width="0.7" stroke-linejoin="round"/>
<path d="M787.2 4l15.9 4 14.4 5.5 11.7 6.9 8.2 8.1 4 8.9 1.7 30-3.9-8.9-8.2-8-11.8-6.9-14.4-5.6-15.8-4zM792.7 86.7l15.8 4.1 14.3 5.6 11.7 7 8 8.1 3.7 8.9 1.8 30-3.8-8.9-8-8.1-11.6-7-14.3-5.6-15.9-4zM798.2 169.5l15.8 4.1 14.2 5.7 11.5 7 7.8 8.2 3.6 8.9 1.7 30-3.6-8.9-7.8-8.1-11.5-7.1-14.2-5.6-15.8-4.2zM803.7 252.3l15.7 4.1 14.1 5.8 11.4 7.1 7.6 8.1 3.4 9 1.7 30-3.3-8.9-7.7-8.2-11.3-7.1-14.1-5.7-15.8-4.2z" fill="#d0d0d0" stroke="#d0d0d0" stroke-width="0.7" stroke-linejoin="round"/>
<path d="M836.1 -36.4l-4.8 9.2-8.9 8.6 1.7 30.1 8.9-8.7 4.9-9.2zM840.8 46.6l-5 9.2-9.1 8.6 1.7 30.1 9.1-8.7 5-9.2zM845.5 129.6l-5.3 9.2-9.2 8.6 1.7 30 9.3-8.6 5.2-9.2zM850.1 212.6l-5.4 9.2-9.4 8.6 1.7 30 9.4-8.6 5.4-9.1zM854.7 295.6l-5.6 9.2-9.5 8.5 1.7 30.1 9.6-8.6 5.6-9.1z" fill="#999999" stroke="#999999" stroke-width="0.7" stroke-linejoin="round"/>
<path d="M822.4 -18.6l-12.3 7.8-14.5 6.6 1.7 30.1 14.6-6.6 12.2-7.8zM731.3 6.7l-3.6-1.4 1.7 30.1 3.6 1.3zM826.7 64.4l-12.4 7.8-14.6 6.5 1.8 30 14.6-6.5 12.3-7.7zM735.8 89.2l-3.4-1.3 1.7 30 3.5 1.4zM831 147.4l-12.5 7.7-14.7 6.4 1.8 30.1 14.7-6.5 12.4-7.7zM740.4 171.8l-3.3-1.4 1.8 30.1 3.2 1.3zM835.3 230.4l-12.6 7.6-14.7 6.4 1.7 30.1 14.7-6.5 12.6-7.6zM744.9 254.4l-3-1.4 1.7 30 3 1.4zM839.6 313.3l-12.7 7.6-14.8 6.4 1.7 30 14.8-6.3 12.7-7.6zM749.5 336.9l-2.9-1.4 1.8 30 2.8 1.5z" fill="#a4a4a4" stroke="#a4a4a4" stroke-width="0.7" stroke-linejoin="round"/>
<path d="M795.6 -4.2l-15.6 5.2-15.5 3.5-14 2.1-11.4 .6-7.8-.5 1.7 30 7.9 .5 11.3-.6 14-2 15.5-3.6 15.6-5.1zM799.7 78.7l-15.6 5.1-15.5 3.5-13.9 1.9-11.2 .6-7.7-.6 1.8 30.1 7.6 .5 11.3-.5 13.9-2 15.4-3.5 15.7-5.1zM803.8 161.5l-15.6 5-15.4 3.5-13.8 1.9-11.2 .5-7.4-.6 1.7 30 7.5 .6 11.1-.5 13.8-1.9 15.4-3.4 15.7-5zM808 244.4l-15.7 4.9-15.4 3.4-13.7 1.8-11 .5-7.3-.6 1.7 30 7.4 .6 10.9-.4 13.8-1.8 15.3-3.4 15.7-4.9zM812.1 327.3l-15.7 4.8-15.3 3.3-13.7 1.8-10.8 .4-7.1-.7 1.7 30.1 7.1 .6 10.9-.4 13.6-1.7 15.3-3.3 15.7-4.9z" fill="#acacac" stroke="#acacac" stroke-width="0.7" stroke-linejoin="round"/>
<path d="M841.4 37.4l-.6 9.2 1.7 30 .6-9.2zM846.2 120.4l-.7 9.2 1.7 30 .8-9.2zM851.1 203.4l-1 9.2 1.7 30.1 1-9.3zM855.9 286.4l-1.2 9.2 1.8 30.1 1.1-9.3z" fill="#8f8f8f" stroke="#8f8f8f" stroke-width="0.7" stroke-linejoin="round"/>
<path d="M836.1 -36.4l-4.8 9.2-8.9 8.6-12.3 7.8-14.5 6.6-15.6 5.2-15.5 3.5-14 2.1-11.4 .6-7.8-.5-3.6-1.4M837.9 -6.4l-4.9 9.2-8.9 8.7-12.2 7.8-14.6 6.6-15.6 5.1-15.5 3.6-14 2-11.3 .6-7.9-.5-3.6-1.3M841.4 37.4l-.6 9.2-5 9.2-9.1 8.6-12.4 7.8-14.6 6.5-15.6 5.1-15.5 3.5-13.9 1.9-11.2 .6-7.7-.6-3.4-1.3M843.1 67.4l-.6 9.2-5 9.2-9.1 8.7-12.3 7.7-14.6 6.5-15.7 5.1-15.4 3.5-13.9 2-11.3 .5-7.6-.5-3.5-1.4M846.2 120.4l-.7 9.2-5.3 9.2-9.2 8.6-12.5 7.7-14.7 6.4-15.6 5-15.4 3.5-13.8 1.9-11.2 .5-7.4-.6-3.3-1.4M848 150.4l-.8 9.2-5.2 9.2-9.3 8.6-12.4 7.7-14.7 6.5-15.7 5-15.4 3.4-13.8 1.9-11.1 .5-7.5-.6-3.2-1.3M851.1 203.4l-1 9.2-5.4 9.2-9.4 8.6-12.6 7.6-14.7 6.4-15.7 4.9-15.4 3.4-13.7 1.8-11 .5-7.3-.6-3-1.4M852.8 233.4l-1 9.3-5.4 9.1-9.4 8.6-12.6 7.6-14.7 6.5-15.7 4.9-15.3 3.4-13.8 1.8-10.9 .4-7.4-.6-3-1.4M855.9 286.4l-1.2 9.2-5.6 9.2-9.5 8.5-12.7 7.6-14.8 6.4-15.7 4.8-15.3 3.3-13.7 1.8-10.8 .4-7.1-.7-2.9-1.4M857.6 316.4l-1.1 9.3-5.6 9.1-9.6 8.6-12.7 7.6-14.8 6.3-15.7 4.9-15.3 3.3-13.6 1.7-10.9 .4-7.1-.6-2.8-1.5" fill="none" stroke="#6a6a6a" stroke-width="0.9" stroke-opacity="0.8"/>
<path d="M818.7 -34.1l4.1-2.9 7.8-1.9 11.1-.6 13.3 1.2 14.5 3.2-1.4 21.3-14.5-3.1-13.3-1.2-11.1 .5-7.8 2-4.1 2.9zM814.3 36.8l4.3-2.8 8.2-1.9 11.2-.4 13.5 1.4 14.5 3.2-1.4 21.4-14.5-3.2-13.4-1.4-11.3 .4-8.2 1.8-4.3 2.9zM809.3 111.2l.5-3.4 4.7-2.9 8.4-1.7 11.5-.3 13.6 1.5 14.5 3.4-1.4 21.4-14.5-3.4-13.6-1.5-11.5 .3-8.4 1.7-4.7 2.8-.5 3.4z" fill="#bdbdbd" stroke="#bdbdbd" stroke-width="0.7" stroke-linejoin="round"/>
<path d="M869.5 -35.1l14.5 5 13.2 6.8 10.8 8.2 7.7 9.4 3.7 9.9-.4 9.9-1.4 21.4 .5-9.9-3.8-9.9-7.7-9.4-10.8-8.2-13.2-6.8-14.5-5.1zM866 36.3l14.4 5.2 13.1 6.9 10.6 8.4 7.4 9.4 3.4 9.9-1.3 21.4-3.5-9.9-7.4-9.4-10.6-8.4-13.1-6.9-14.4-5.2zM862.5 107.8l14.4 5.3 12.9 7.1 10.4 8.4 7.1 9.5 3.1 9.9-1.4 21.4-3.1-9.9-7.1-9.5-10.4-8.5-12.9-7-14.4-5.3z" fill="#cdcdcd" stroke="#cdcdcd" stroke-width="0.7" stroke-linejoin="round"/>
<path d="M831.4 -24.4l-8.2-2.8-1.4 21.4 8.2 2.8zM880.5 44l-14.9 3.4-14.8 1.3-13.6-.3-11.2-1.8-7.9-2.9-1.4 21.4 7.9 2.9 11.2 1.8 13.6 .3 14.8-1.4 15-3.3zM874.8 115.5l-15 3.2-14.7 1.2-13.4-.4-11-2-7.7-2.9-1.3 21.4 7.6 2.9 11 1.9 13.4 .5 14.8-1.2 14.9-3.2z" fill="#e5e5e5" stroke="#e5e5e5" stroke-width="0.7" stroke-linejoin="round"/>
<path d="M823.2 -27.2l-4.3-3.4-.2-3.5-1.4 21.4 .2 3.5 4.3 3.4zM906 31.9l-11.6 6.9-13.9 5.2-1.3 21.4 13.8-5.2 11.6-6.9zM818.1 43.7l-4-3.4 .2-3.5-1.4 21.4-.2 3.5 4 3.4zM900.5 103.6l-11.7 6.9-14 5-1.4 21.4 14-5.1 11.8-6.8zM813 114.6l-3.7-3.4-1.4 21.3 3.8 3.5z" fill="#e0e0e0" stroke="#e0e0e0" stroke-width="0.7" stroke-linejoin="round"/>
<path d="M919 14.1l-4.6 9.4-8.4 8.4-1.4 21.4 8.4-8.4 4.6-9.4zM914.2 86l-4.9 9.3-8.8 8.3-1.3 21.4 8.7-8.3 4.9-9.3z" fill="#d5d5d5" stroke="#d5d5d5" stroke-width="0.7" stroke-linejoin="round"/>
<path d="M914.9 76.1l-.7 9.9-1.4 21.4 .8-9.9z" fill="#cacaca" stroke="#cacaca" stroke-width="0.7" stroke-linejoin="round"/>
<path d="M831.4 -24.4l-8.2-2.8-4.3-3.4-.2-3.5M830 -3l-8.2-2.8-4.3-3.4-.2-3.5M919 14.1l-4.6 9.4-8.4 8.4-11.6 6.9-13.9 5.2-14.9 3.4-14.8 1.3-13.6-.3-11.2-1.8-7.9-2.9-4-3.4 .2-3.5M917.6 35.5l-4.6 9.4-8.4 8.4-11.6 6.9-13.8 5.2-15 3.3-14.8 1.4-13.6-.3-11.2-1.8-7.9-2.9-4-3.4 .2-3.5M914.9 76.1l-.7 9.9-4.9 9.3-8.8 8.3-11.7 6.9-14 5-15 3.2-14.7 1.2-13.4-.4-11-2-7.7-2.9-3.7-3.4M913.6 97.5l-.8 9.9-4.9 9.3-8.7 8.3-11.8 6.8-14 5.1-14.9 3.2-14.8 1.2-13.4-.5-11-1.9-7.6-2.9-3.8-3.5" fill="none" stroke="#909090" stroke-width="0.9" stroke-opacity="0.8"/>
<path d="M901.4 -12.9l.2-4.6 4.4-4.4 8.3-3.5 11.5-2.3 13.7-.8 15 .9-.3 14.6-15-.8-13.8 .8-11.5 2.3-8.3 3.5-4.4 4.3-.1 4.7zM900.7 17.3l.3-4.7 4.5-4.3 8.4-3.5 11.5-2.3 13.9-.7 14.9 .9-.3 14.7-14.9-1-13.9 .8-11.6 2.3-8.3 3.5-4.6 4.3-.2 4.6zM900 47.4l.4-4.6 4.6-4.3 8.5-3.5 11.6-2.2 13.9-.8 15 1-.4 14.7-14.9-1-13.9 .7-11.7 2.3-8.4 3.4-4.6 4.3-.4 4.7zM899.3 77.5l.5-4.6 4.7-4.3 8.6-3.4 11.7-2.2 13.9-.7 15 1-.3 14.7-15-1-13.9 .7-11.7 2.2-8.6 3.4-4.7 4.3-.5 4.6zM898.6 107.7l.6-4.7 4.8-4.2 8.7-3.4 11.8-2.2 14-.6 14.9 1-.3 14.7-15-1.1-13.9 .7-11.8 2.1-8.7 3.4-4.8 4.3-.6 4.6zM897.9 137.8l.7-4.6 5-4.3 8.7-3.3 11.9-2.2 14-.6 15 1.1-.3 14.7-15-1.1-14 .6-11.9 2.1-8.8 3.4-4.9 4.2-.7 4.7zM897.2 168l.8-4.7 5.1-4.2 8.8-3.3 12-2.1 14-.6 15 1.2-.3 14.6-15-1.1-14.1 .5-11.9 2.1-8.8 3.4-5.1 4.2-.8 4.6zM896.5 198.1l1-4.6 5.1-4.2 8.9-3.4 12.1-2 14-.5 15.1 1.2-.4 14.6-15-1.2-14.1 .6-12 2-8.9 3.3-5.2 4.2-.9 4.7z" fill="#bdccbd" stroke="#bdccbd" stroke-width="0.7" stroke-linejoin="round"/>
<path d="M954.5 -27.6l14.9 2.6 13.6 4.2 11.2 5.6 8 6.6 4 7.3-.3 14.7-4-7.3-8-6.6-11.2-5.6-13.6-4.3-14.9-2.6zM954.2 2.7l14.9 2.6 13.6 4.3 11.1 5.6 7.9 6.7 3.9 7.3-.3 14.6-3.9-7.2-7.9-6.7-11.2-5.7-13.5-4.2-14.9-2.6zM954 33l14.8 2.7 13.5 4.3 11.1 5.6 7.8 6.7 3.8 7.3-.4 14.7-3.7-7.3-7.8-6.7-11.1-5.7-13.5-4.3-14.9-2.6zM953.7 63.3l14.8 2.7 13.5 4.4 11 5.7 7.7 6.7 3.6 7.3-.3 14.7-3.7-7.3-7.6-6.8-11-5.7-13.5-4.3-14.8-2.7zM953.4 93.6l14.9 2.8 13.4 4.4 10.9 5.7 7.6 6.7 3.5 7.4-.3 14.6-3.6-7.3-7.5-6.7-10.9-5.8-13.5-4.3-14.8-2.8zM953.2 123.9l14.8 2.9 13.3 4.4 10.9 5.7 7.4 6.8 3.5 7.3-.3 14.7-3.5-7.3-7.4-6.8-10.9-5.8-13.3-4.4-14.8-2.8zM952.9 154.3l14.8 2.8 13.3 4.5 10.8 5.8 7.3 6.7 3.4 7.4-.3 14.6-3.4-7.3-7.3-6.8-10.8-5.8-13.3-4.4-14.8-2.9z" fill="#cddecd" stroke="#cddecd" stroke-width="0.7" stroke-linejoin="round"/>
<path d="M982.4 -5.9l-13.8 3.6-.3 14.7 13.8-3.6zM905.5 -8.4l-4.1-4.5-.3 14.7 4.1 4.5zM993 19.5l-11.6 5-13.9 3.5-.3 14.7 13.9-3.5 11.6-5.1zM904.7 21.8l-4-4.5-.3 14.6 4 4.6zM992.1 49.9l-11.7 5-13.9 3.5-.3 14.6 13.9-3.5 11.7-5zM903.9 51.9l-3.9-4.5-.3 14.7 3.9 4.5zM991.2 80.3l-11.8 5-14 3.4-.3 14.7 14-3.5 11.7-5zM903.1 82.1l-3.8-4.6-.3 14.7 3.8 4.6zM990.2 110.7l-11.8 4.9-14 3.4-.3 14.7 14-3.4 11.8-4.9zM902.3 112.2l-3.7-4.5-.3 14.6 3.7 4.6zM989.3 141.1l-11.9 4.9-14 3.4-.4 14.6 14.1-3.3 11.9-4.9zM901.5 142.4l-3.6-4.6-.3 14.7 3.6 4.5zM988.4 171.5l-12 4.9-14.1 3.3-.3 14.7 14.1-3.4 11.9-4.8zM900.7 172.5l-3.5-4.5-.3 14.6 3.4 4.6zM987.4 201.9l-12 4.8-14.1 3.3-.4 14.7 14.2-3.3 12-4.8zM899.9 202.7l-3.4-4.6-.3 14.7 3.3 4.5z" fill="#76ee76" stroke="#76ee76" stroke-width="0.7" stroke-linejoin="round"/>
<path d="M968.6 -2.3l-15 1.9-15 .2-13.7-1.4-11.3-2.9-8.1-3.9-.3 14.7 8.1 3.9 11.3 2.8 13.7 1.5 15-.2 15-1.9zM967.5 28l-15 1.9-14.9 .1-13.7-1.4-11.2-2.9-8-3.9-.3 14.7 8 3.9 11.2 2.8 13.7 1.5 14.9-.1 15-1.9zM966.5 58.4l-15 1.8-15 .1-13.6-1.5-11.1-2.9-7.9-4-.3 14.7 7.8 3.9 11.2 2.9 13.6 1.6 14.9-.1 15.1-1.9zM965.4 88.7l-15 1.8-14.9 0-13.5-1.5-11.1-3-7.8-3.9-.3 14.7 7.7 3.9 11.1 2.9 13.6 1.6 14.9-.1 15-1.7zM964.4 119l-15 1.8-14.9 0-13.5-1.6-11.1-3-7.6-4-.3 14.7 7.6 4 11.1 2.9 13.5 1.6 14.8 0 15.1-1.7zM963.4 149.4l-15.1 1.7-14.9-.1-13.4-1.6-11-3-7.5-4-.3 14.6 7.5 4 11 3 13.4 1.7 14.9 0 15-1.7zM962.3 179.7l-15.1 1.6-14.8 0-13.4-1.7-10.9-3-7.4-4.1-.4 14.7 7.5 4 10.9 3 13.4 1.7 14.8 .1 15.1-1.6zM961.3 210l-15.1 1.6-14.8-.1-13.4-1.7-10.8-3.1-7.3-4-.4 14.6 7.4 4.1 10.8 3 13.3 1.8 14.9 .1 15-1.6z" fill="#7eef7e" stroke="#7eef7e" stroke-width="0.7" stroke-linejoin="round"/>
<path d="M1006.2 -1.3l-.3 7.4-.3 14.7 .3-7.4zM1005.6 29.2l-.4 7.4-.3 14.7 .4-7.5zM1005 59.6l-.5 7.4-.4 14.7 .5-7.4zM1004.3 90.1l-.6 7.4-.3 14.7 .6-7.4zM1003.7 120.6l-.7 7.4-.3 14.6 .7-7.4zM1003.1 151l-.8 7.4-.3 14.7 .8-7.4zM1002.5 181.5l-1 7.4-.3 14.6 1-7.4z" fill="#6dd66d" stroke="#6dd66d" stroke-width="0.7" stroke-linejoin="round"/>
<path d="M1005.9 6.1l-4.5 7.1-8.4 6.3-.3 14.6 8.4-6.2 4.5-7.1zM1005.2 36.6l-4.6 7-8.5 6.3-.3 14.6 8.5-6.2 4.6-7zM1004.5 67l-4.8 7.1-8.5 6.2-.4 14.6 8.6-6.2 4.7-7zM1003.7 97.5l-4.8 7-8.7 6.2-.3 14.7 8.7-6.2 4.8-7zM1003 128l-4.9 7-8.8 6.1-.3 14.7 8.7-6.2 5-7zM1002.3 158.4l-5.1 7-8.8 6.1-.4 14.7 8.9-6.1 5.1-7zM1001.5 188.9l-5.1 6.9-9 6.1-.3 14.7 9-6.1 5.1-7z" fill="#71e271" stroke="#71e271" stroke-width="0.7" stroke-linejoin="round"/>
<path d="M982.4 -5.9l-13.8 3.6-15 1.9-15 .2-13.7-1.4-11.3-2.9-8.1-3.9-4.1-4.5M982.1 8.8l-13.8 3.6-15 1.9-15 .2-13.7-1.5-11.3-2.8-8.1-3.9-4.1-4.5M1006.2 -1.3l-.3 7.4-4.5 7.1-8.4 6.3-11.6 5-13.9 3.5-15 1.9-14.9 .1-13.7-1.4-11.2-2.9-8-3.9-4-4.5M1005.9 13.4l-.3 7.4-4.5 7.1-8.4 6.2-11.6 5.1-13.9 3.5-15 1.9-14.9 .1-13.7-1.5-11.2-2.8-8-3.9-4-4.6M1005.6 29.2l-.4 7.4-4.6 7-8.5 6.3-11.7 5-13.9 3.5-15 1.8-15 .1-13.6-1.5-11.1-2.9-7.9-4-3.9-4.5M1005.3 43.8l-.4 7.5-4.6 7-8.5 6.2-11.7 5-13.9 3.5-15.1 1.9-14.9 .1-13.6-1.6-11.2-2.9-7.8-3.9-3.9-4.5M1005 59.6l-.5 7.4-4.8 7.1-8.5 6.2-11.8 5-14 3.4-15 1.8-14.9 0-13.5-1.5-11.1-3-7.8-3.9-3.8-4.6M1004.6 74.3l-.5 7.4-4.7 7-8.6 6.2-11.7 5-14 3.5-15 1.7-14.9 .1-13.6-1.6-11.1-2.9-7.7-3.9-3.8-4.6M1004.3 90.1l-.6 7.4-4.8 7-8.7 6.2-11.8 4.9-14 3.4-15 1.8-14.9 0-13.5-1.6-11.1-3-7.6-4-3.7-4.5M1004 104.8l-.6 7.4-4.8 7-8.7 6.2-11.8 4.9-14 3.4-15.1 1.7-14.8 0-13.5-1.6-11.1-2.9-7.6-4-3.7-4.6M1003.7 120.6l-.7 7.4-4.9 7-8.8 6.1-11.9 4.9-14 3.4-15.1 1.7-14.9-.1-13.4-1.6-11-3-7.5-4-3.6-4.6M1003.4 135.2l-.7 7.4-5 7-8.7 6.2-11.9 4.9-14.1 3.3-15 1.7-14.9 0-13.4-1.7-11-3-7.5-4-3.6-4.5M1003.1 151l-.8 7.4-5.1 7-8.8 6.1-12 4.9-14.1 3.3-15.1 1.6-14.8 0-13.4-1.7-10.9-3-7.4-4.1-3.5-4.5M1002.8 165.7l-.8 7.4-5.1 7-8.9 6.1-11.9 4.8-14.1 3.4-15.1 1.6-14.8-.1-13.4-1.7-10.9-3-7.5-4-3.4-4.6M1002.5 181.5l-1 7.4-5.1 6.9-9 6.1-12 4.8-14.1 3.3-15.1 1.6-14.8-.1-13.4-1.7-10.8-3.1-7.3-4-3.4-4.6M1002.2 196.1l-1 7.4-5.1 7-9 6.1-12 4.8-14.2 3.3-15 1.6-14.9-.1-13.3-1.8-10.8-3-7.4-4.1-3.3-4.5" fill="none" stroke="#4a964a" stroke-width="0.9" stroke-opacity="0.8"/>
<polyline points="874.9,154.3 867.6,172.5 858.7,171.2 857.1,151.7 864.4,133.5 873.3,134.8 874.9,154.3" fill="none" stroke="#9a9a9a" stroke-width="4.2" stroke-linecap="round" stroke-linejoin="round"/><polyline points="874.9,154.3 867.6,172.5 858.7,171.2 857.1,151.7 864.4,133.5 873.3,134.8 874.9,154.3" fill="none" stroke="#e8e8e8" stroke-width="2.6" stroke-linecap="round" stroke-linejoin="round"/>
<polyline points="874,133 872,105" fill="none" stroke="#9a9a9a" stroke-width="6.1" stroke-linecap="round" stroke-linejoin="round"/><polyline points="874,133 872,105" fill="none" stroke="#e8e8e8" stroke-width="4.5" stroke-linecap="round" stroke-linejoin="round"/>
<polyline points="816,219 844,206 864,220 892,233" fill="none" stroke="#555" stroke-width="6.1" stroke-linecap="round" stroke-linejoin="round"/><polyline points="816,219 844,206 864,220 892,233" fill="none" stroke="#666" stroke-width="4.5" stroke-linecap="round" stroke-linejoin="round"/>
<polyline points="895.3,232.1 888.4,233.3 877.2,229.2 872.7,223.9 879.6,222.7 890.8,226.8 895.3,232.1" fill="none" stroke="#555" stroke-width="4.1" stroke-linecap="round" stroke-linejoin="round"/><polyline points="895.3,232.1 888.4,233.3 877.2,229.2 872.7,223.9 879.6,222.7 890.8,226.8 895.3,232.1" fill="none" stroke="#666" stroke-width="2.5" stroke-linecap="round" stroke-linejoin="round"/>
<polyline points="916,168 939,145 956,160 974,151" fill="none" stroke="#22e022" stroke-width="5.5" stroke-linecap="round" stroke-linejoin="round"/>
<polyline points="939,145 954,126" fill="none" stroke="#22e022" stroke-width="5.5" stroke-linecap="round" stroke-linejoin="round"/>
<polyline points="912,184 934,185" fill="none" stroke="#22e022" stroke-width="5.5" stroke-linecap="round" stroke-linejoin="round"/>
<polyline points="939,220 976,222" fill="none" stroke="#22e022" stroke-width="5.5" stroke-linecap="round" stroke-linejoin="round"/>
<polyline points="958,221 958,206" fill="none" stroke="#22e022" stroke-width="5.5" stroke-linecap="round" stroke-linejoin="round"/>
<polyline points="871,165 894,171 912,178" fill="none" stroke="#111" stroke-width="3.6" stroke-dasharray="0.1 5.2" stroke-linecap="round"/>
<polyline points="912,180 904,203 894,232" fill="none" stroke="#111" stroke-width="3.6" stroke-dasharray="0.1 5.2" stroke-linecap="round"/>
</g>
<rect x="745.1" y="9.1" width="272.3" height="305.3" fill="none" stroke="#111" stroke-width="2.2"/>
<text x="782.3" y="32" font-size="19.5" font-weight="bold" fill="#c0c0c0" stroke="#c0c0c0" stroke-width="0.7" stroke-linejoin="round" textLength="44" lengthAdjust="spacingAndGlyphs">GP2</text><text x="826.8" y="36" font-size="13" font-weight="bold" fill="#c0c0c0" stroke="#c0c0c0" stroke-width="0.7" stroke-linejoin="round">C</text>
<text x="791" y="148.8" font-size="19.5" font-weight="bold" fill="#e6e6e6" stroke="#444" stroke-width="2.4" paint-order="stroke" stroke-linejoin="round" textLength="53.6" lengthAdjust="spacingAndGlyphs">F433</text>
<text x="882.9" y="169" font-size="20.5" textLength="44" lengthAdjust="spacingAndGlyphs">3.8Å</text>
<text x="968" y="169.9" font-size="19.5" font-weight="bold" fill="#22d622" stroke="#0a4a0a" stroke-width="2.4" paint-order="stroke" stroke-linejoin="round" textLength="33.7" lengthAdjust="spacingAndGlyphs">I29</text>
<text x="936.5" y="192.9" font-size="19.5" font-weight="bold" fill="#22d622" stroke="#0a4a0a" stroke-width="2.4" paint-order="stroke" stroke-linejoin="round" textLength="42.7" lengthAdjust="spacingAndGlyphs">A33</text>
<text x="857" y="207" font-size="20.5" textLength="42" lengthAdjust="spacingAndGlyphs">4.3Å</text>
<text x="968" y="245.5" font-size="19.5" font-weight="bold" fill="#22d622" stroke="#0a4a0a" stroke-width="2.4" paint-order="stroke" stroke-linejoin="round" textLength="43" lengthAdjust="spacingAndGlyphs">V36</text>
<text x="848.4" y="263.7" font-size="19.5" font-weight="bold" fill="#5a5a5a" stroke="#222" stroke-width="2.4" paint-order="stroke" stroke-linejoin="round" textLength="54.6" lengthAdjust="spacingAndGlyphs">F438</text>
<text x="913.5" y="258" font-size="19.5" font-weight="bold" fill="#22cc22" stroke="#22cc22" stroke-width="0.7" stroke-linejoin="round" textLength="42.2" lengthAdjust="spacingAndGlyphs">SSP</text><text x="956.2" y="262" font-size="13" font-weight="bold" fill="#22cc22" stroke="#22cc22" stroke-width="0.7" stroke-linejoin="round">A</text>
<text x="856" y="304" font-size="19.5" font-weight="bold" fill="#6b6b6b" stroke="#6b6b6b" stroke-width="0.7" stroke-linejoin="round" textLength="41.3" lengthAdjust="spacingAndGlyphs">GP2</text><text x="897.8" y="308" font-size="13" font-weight="bold" fill="#6b6b6b" stroke="#6b6b6b" stroke-width="0.7" stroke-linejoin="round">B</text>
<g clip-path="url(#cc)">
<path d="M1058.2 5.3l.9-1.7 5.4-1.6 9.4-1.2 12.7-.2 15 1 16.1 2.4 1.8 30-16.1-2.4-15-1-12.8 .3-9.4 1.1-5.4 1.7-.9 1.7zM1062.9 87.9l1.1-1.7 5.6-1.7 9.6-1.1 12.8-.2 15.1 1.1 16.1 2.4 1.7 30.1-16.1-2.5-15-1-12.9 .2-9.6 1.1-5.6 1.6-1.1 1.7zM1067.6 170.4l1.3-1.7 5.8-1.6 9.7-1.1 13-.2 15.2 1.1 16.1 2.6 1.7 30-16.1-2.5-15.1-1.1-13 .1-9.8 1.1-5.7 1.6-1.3 1.8zM1072.4 253l1.5-1.8 5.9-1.6 9.9-1 13.1-.1 15.2 1.1 16.2 2.7 1.7 30-16.1-2.6-15.2-1.2-13.1 .1-9.9 1.1-6 1.6-1.5 1.7zM1077.1 335.5l1.7-1.7 6.2-1.6 10-1 1.8 30-10.1 1-6.1 1.6-1.7 1.7z" fill="#b7b7b7" stroke="#b7b7b7" stroke-width="0.7" stroke-linejoin="round"/>
<path d="M1117.7 4l15.9 4 14.4 5.5 11.7 6.9 8.2 8.1 4 8.9 1.7 30-3.9-8.9-8.2-8-11.8-6.9-14.4-5.6-15.8-4zM1123.2 86.7l15.8 4.1 14.3 5.6 11.7 7 8 8.1 3.7 8.9 1.8 30-3.8-8.9-8-8.1-11.6-7-14.3-5.6-15.9-4zM1128.7 169.5l15.8 4.1 14.2 5.7 11.5 7 7.8 8.2 3.6 8.9 1.7 30-3.6-8.9-7.8-8.1-11.5-7.1-14.2-5.6-15.8-4.2zM1134.2 252.3l15.7 4.1 14.1 5.8 11.4 7.1 7.6 8.1 3.4 9 1.7 30-3.3-8.9-7.7-8.2-11.3-7.1-14.1-5.7-15.8-4.2z" fill="#c6c6c6" stroke="#c6c6c6" stroke-width="0.7" stroke-linejoin="round"/>
<path d="M1166.6 -36.4l-4.8 9.2-8.9 8.6 1.7 30.1 8.9-8.7 4.9-9.2zM1171.3 46.6l-5 9.2-9.1 8.6 1.7 30.1 9.1-8.7 5-9.2zM1176 129.6l-5.3 9.2-9.2 8.6 1.7 30 9.3-8.6 5.2-9.2zM1180.6 212.6l-5.4 9.2-9.4 8.6 1.7 30 9.4-8.6 5.4-9.1zM1185.2 295.6l-5.6 9.2-9.5 8.5 1.7 30.1 9.6-8.6 5.6-9.1z" fill="#898989" stroke="#898989" stroke-width="0.7" stroke-linejoin="round"/>
<path d="M1152.9 -18.6l-12.3 7.8-14.5 6.6 1.7 30.1 14.6-6.6 12.2-7.8zM1061.8 6.7l-3.6-1.4 1.7 30.1 3.6 1.3zM1157.2 64.4l-12.4 7.8-14.6 6.5 1.8 30 14.6-6.5 12.3-7.7zM1066.3 89.2l-3.4-1.3 1.7 30 3.5 1.4zM1161.5 147.4l-12.5 7.7-14.7 6.4 1.8 30.1 14.7-6.5 12.4-7.7zM1070.9 171.8l-3.3-1.4 1.8 30.1 3.2 1.3zM1165.8 230.4l-12.6 7.6-14.7 6.4 1.7 30.1 14.7-6.5 12.6-7.6zM1075.4 254.4l-3-1.4 1.7 30 3 1.4zM1170.1 313.3l-12.7 7.6-14.8 6.4 1.7 30 14.8-6.3 12.7-7.6zM1080 336.9l-2.9-1.4 1.8 30 2.8 1.5z" fill="#929292" stroke="#929292" stroke-width="0.7" stroke-linejoin="round"/>
<path d="M1126.1 -4.2l-15.6 5.2-15.5 3.5-14 2.1-11.4 .6-7.8-.5 1.7 30 7.9 .5 11.3-.6 14-2 15.5-3.6 15.6-5.1zM1130.2 78.7l-15.6 5.1-15.5 3.5-13.9 1.9-11.2 .6-7.7-.6 1.8 30.1 7.6 .5 11.3-.5 13.9-2 15.4-3.5 15.7-5.1zM1134.3 161.5l-15.6 5-15.4 3.5-13.8 1.9-11.2 .5-7.4-.6 1.7 30 7.5 .6 11.1-.5 13.8-1.9 15.4-3.4 15.7-5zM1138.5 244.4l-15.7 4.9-15.4 3.4-13.7 1.8-11 .5-7.3-.6 1.7 30 7.4 .6 10.9-.4 13.8-1.8 15.3-3.4 15.7-4.9zM1142.6 327.3l-15.7 4.8-15.3 3.3-13.7 1.8-10.8 .4-7.1-.7 1.7 30.1 7.1 .6 10.9-.4 13.6-1.7 15.3-3.3 15.7-4.9z" fill="#9b9b9b" stroke="#9b9b9b" stroke-width="0.7" stroke-linejoin="round"/>
<path d="M1171.9 37.4l-.6 9.2 1.7 30 .6-9.2zM1176.7 120.4l-.7 9.2 1.7 30 .8-9.2zM1181.6 203.4l-1 9.2 1.7 30.1 1-9.3zM1186.4 286.4l-1.2 9.2 1.8 30.1 1.1-9.3z" fill="#808080" stroke="#808080" stroke-width="0.7" stroke-linejoin="round"/>
<path d="M1166.6 -36.4l-4.8 9.2-8.9 8.6-12.3 7.8-14.5 6.6-15.6 5.2-15.5 3.5-14 2.1-11.4 .6-7.8-.5-3.6-1.4M1168.4 -6.4l-4.9 9.2-8.9 8.7-12.2 7.8-14.6 6.6-15.6 5.1-15.5 3.6-14 2-11.3 .6-7.9-.5-3.6-1.3M1171.9 37.4l-.6 9.2-5 9.2-9.1 8.6-12.4 7.8-14.6 6.5-15.6 5.1-15.5 3.5-13.9 1.9-11.2 .6-7.7-.6-3.4-1.3M1173.6 67.4l-.6 9.2-5 9.2-9.1 8.7-12.3 7.7-14.6 6.5-15.7 5.1-15.4 3.5-13.9 2-11.3 .5-7.6-.5-3.5-1.4M1176.7 120.4l-.7 9.2-5.3 9.2-9.2 8.6-12.5 7.7-14.7 6.4-15.6 5-15.4 3.5-13.8 1.9-11.2 .5-7.4-.6-3.3-1.4M1178.5 150.4l-.8 9.2-5.2 9.2-9.3 8.6-12.4 7.7-14.7 6.5-15.7 5-15.4 3.4-13.8 1.9-11.1 .5-7.5-.6-3.2-1.3M1181.6 203.4l-1 9.2-5.4 9.2-9.4 8.6-12.6 7.6-14.7 6.4-15.7 4.9-15.4 3.4-13.7 1.8-11 .5-7.3-.6-3-1.4M1183.3 233.4l-1 9.3-5.4 9.1-9.4 8.6-12.6 7.6-14.7 6.5-15.7 4.9-15.3 3.4-13.8 1.8-10.9 .4-7.4-.6-3-1.4M1186.4 286.4l-1.2 9.2-5.6 9.2-9.5 8.5-12.7 7.6-14.8 6.4-15.7 4.8-15.3 3.3-13.7 1.8-10.8 .4-7.1-.7-2.9-1.4M1188.1 316.4l-1.1 9.3-5.6 9.1-9.6 8.6-12.7 7.6-14.8 6.3-15.7 4.9-15.3 3.3-13.6 1.7-10.9 .4-7.1-.6-2.8-1.5" fill="none" stroke="#5e5e5e" stroke-width="0.9" stroke-opacity="0.8"/>
<path d="M1151.1 -33.4l4.1-3 8-2 11.2-.7 13.4 1.1 14.7 3-1.1 21.4-14.6-3-13.5-1.1-11.2 .7-8 2-4 3zM1147.3 40.6l.6-3.4 4.9-2.8 8.6-1.9 11.7-.3 13.7 1.4 14.7 3.4-1.1 21.4-14.7-3.4-13.7-1.4-11.7 .3-8.6 1.9-4.8 2.8-.7 3.4zM1143.5 111.2l1.4-3.3 5.5-2.8 9.3-1.5 12.1-.1 14 1.8 14.8 3.7-1.1 21.4-14.8-3.7-14-1.8-12.1 .1-9.3 1.6-5.5 2.7-1.4 3.3zM1139.8 181.8l2.2-3.3 6.2-2.5 9.9-1.3 12.5 .2-1.1 21.4-12.5-.2-9.9 1.3-6.2 2.5-2.2 3.3z" fill="#bdbdbd" stroke="#bdbdbd" stroke-width="0.7" stroke-linejoin="round"/>
<path d="M1202.5 -35l14.5 4.9 13.3 6.8 10.9 8.2 7.6 9.3 3.7 9.9-1.1 21.4-3.7-9.9-7.6-9.3-10.9-8.2-13.3-6.8-14.5-4.9zM1201.5 37l14.4 5.2 12.9 7.1 10.4 8.4 6.9 9.5 3 9.9-1.1 21.4-3-9.9-6.9-9.5-10.3-8.4-13-7-14.4-5.3zM1200.6 109l14.2 5.6 12.5 7.3 9.8 8.7 6.2 9.6 2.2 10-1.1 21.4-2.1-10-6.3-9.6-9.8-8.7-12.5-7.3-14.2-5.6z" fill="#cdcdcd" stroke="#cdcdcd" stroke-width="0.7" stroke-linejoin="round"/>
<path d="M1163.9 -23.9l-8.2-2.7-1.1 21.4 8.3 2.7zM1212.8 44.3l-15 3.3-14.8 1.5-13.5-.4-11-1.8-7.6-2.8-1.1 21.4 7.6 2.8 11 1.8 13.5 .4 14.8-1.5 15-3.3zM1206.4 116.2l-15 3-14.7 1.1-13-.6-10.4-2-7-3-1.1 21.4 7 3 10.4 2 13 .6 14.7-1.1 15.1-3zM1200.1 188.1l-15.1 2.7-14.4 .8-12.7-1-9.8-2.2-6.2-3.1-1.1 21.4 6.2 3.1 9.8 2.2 12.7 1 14.4-.8 15.1-2.6z" fill="#e5e5e5" stroke="#e5e5e5" stroke-width="0.7" stroke-linejoin="round"/>
<path d="M1155.7 -26.6l-4.4-3.3-.2-3.5-1 21.4 .1 3.5 4.4 3.3zM1238.5 32l-11.8 7-13.9 5.3-1.1 21.4 13.9-5.3 11.8-7zM1150.9 44.1l-3.6-3.5-1.1 21.4 3.6 3.5zM1232.9 104.6l-12.2 6.7-14.3 4.9-1 21.4 14.2-4.9 12.2-6.7zM1146.3 114.7l-2.8-3.5-1.1 21.4 2.8 3.5zM1227.2 177.2l-12.6 6.4-14.5 4.5-1.1 21.5 14.5-4.6 12.7-6.4zM1141.9 185.3l-2.1-3.5-1.1 21.4 2.1 3.5z" fill="#e0e0e0" stroke="#e0e0e0" stroke-width="0.7" stroke-linejoin="round"/>
<path d="M1252.5 4.1l-.6 10-1.1 21.4 .6-10zM1249.1 77.1l-1.4 10-1.1 21.4 1.4-10zM1245.5 150.2l-2.1 9.8-1.1 21.4 2.1-9.8z" fill="#cacaca" stroke="#cacaca" stroke-width="0.7" stroke-linejoin="round"/>
<path d="M1251.9 14.1l-4.8 9.4-8.6 8.5-1.1 21.4 8.6-8.5 4.8-9.4zM1247.7 87.1l-5.5 9.3-9.3 8.2-1.1 21.4 9.3-8.2 5.5-9.3zM1243.4 160l-6.3 9.2-9.9 8-1 21.4 9.8-8 6.3-9.2z" fill="#d5d5d5" stroke="#d5d5d5" stroke-width="0.7" stroke-linejoin="round"/>
<path d="M1163.9 -23.9l-8.2-2.7-4.4-3.3-.2-3.5M1162.9 -2.5l-8.3-2.7-4.4-3.3-.1-3.5M1252.5 4.1l-.6 10-4.8 9.4-8.6 8.5-11.8 7-13.9 5.3-15 3.3-14.8 1.5-13.5-.4-11-1.8-7.6-2.8-3.6-3.5M1251.4 25.5l-.6 10-4.8 9.4-8.6 8.5-11.8 7-13.9 5.3-15 3.3-14.8 1.5-13.5-.4-11-1.8-7.6-2.8-3.6-3.5M1249.1 77.1l-1.4 10-5.5 9.3-9.3 8.2-12.2 6.7-14.3 4.9-15 3-14.7 1.1-13-.6-10.4-2-7-3-2.8-3.5M1248 98.5l-1.4 10-5.5 9.3-9.3 8.2-12.2 6.7-14.2 4.9-15.1 3-14.7 1.1-13-.6-10.4-2-7-3-2.8-3.5M1245.5 150.2l-2.1 9.8-6.3 9.2-9.9 8-12.6 6.4-14.5 4.5-15.1 2.7-14.4 .8-12.7-1-9.8-2.2-6.2-3.1-2.1-3.5M1244.4 171.6l-2.1 9.8-6.3 9.2-9.8 8-12.7 6.4-14.5 4.6-15.1 2.6-14.4 .8-12.7-1-9.8-2.2-6.2-3.1-2.1-3.5" fill="none" stroke="#909090" stroke-width="0.9" stroke-opacity="0.8"/>
<path d="M1253.9 -10.6l0-3.6 3.7-3.3 6.9-2.7 9.8-1.6 11.6-.3 12.7 1.2-.3 16.4-12.6-1.2-11.7 .3-9.7 1.5-7 2.7-3.6 3.3-.1 3.6zM1253.3 28.7l0-3.6 3.7-3.4 7-2.6 9.7-1.6 11.6-.3 12.7 1.2-.2 16.4-12.7-1.2-11.7 .2-9.7 1.6-6.9 2.7-3.7 3.3-.1 3.6zM1252.7 67.9l.1-3.6 3.6-3.3 7-2.6 9.7-1.6 11.7-.3 12.6 1.2-.2 16.4-12.7-1.3-11.6 .3-9.7 1.6-7 2.7-3.7 3.3 0 3.6zM1252.1 107.2l.1-3.6 3.7-3.3 6.9-2.6 9.7-1.6 11.7-.3 12.7 1.2-.3 16.3-12.6-1.2-11.7 .3-9.7 1.6-7 2.6-3.6 3.4-.1 3.6zM1251.6 146.5l0-3.6 3.7-3.3 7-2.6 9.7-1.6 11.6-.3 12.7 1.2-.2 16.3-12.7-1.2-11.7 .3-9.7 1.6-6.9 2.6-3.7 3.4-.1 3.5zM1251 185.8l.1-3.6 3.6-3.3 7-2.7 9.7-1.6 11.7-.2 12.6 1.2-.2 16.3-12.7-1.2-11.6 .3-9.7 1.6-7 2.6-3.7 3.3 0 3.6zM1250.4 225.1l.1-3.6 3.6-3.3 7-2.7 9.7-1.6 11.7-.2 12.6 1.2-.2 16.3-12.7-1.2-11.6 .3-9.7 1.6-7 2.6-3.7 3.3 0 3.6z" fill="#cad5ca" stroke="#cad5ca" stroke-width="0.7" stroke-linejoin="round"/>
<path d="M1298.6 -20.9l12.6 2.8 11.6 4.2 9.6 5.4 6.8 6.4 3.5 7-.2 16.4-3.5-7-6.8-6.4-9.6-5.5-11.6-4.2-12.7-2.7zM1298 18.4l12.6 2.8 11.6 4.2 9.6 5.4 6.9 6.4 3.5 7-.3 16.4-3.5-7-6.8-6.5-9.6-5.4-11.6-4.2-12.6-2.7zM1297.4 57.7l12.7 2.8 11.6 4.2 9.6 5.4 6.8 6.4 3.5 7-.3 16.3-3.5-7-6.8-6.4-9.6-5.4-11.6-4.2-12.6-2.7zM1296.9 97l12.6 2.7 11.6 4.2 9.6 5.5 6.8 6.4 3.5 7-.2 16.3-3.5-7-6.9-6.4-9.6-5.4-11.5-4.2-12.7-2.8zM1296.3 136.3l12.6 2.7 11.6 4.2 9.6 5.5 6.8 6.4 3.5 7-.2 16.3-3.5-7-6.8-6.4-9.6-5.4-11.6-4.2-12.6-2.8zM1295.7 175.6l12.7 2.7 11.5 4.2 9.6 5.5 6.9 6.4 3.5 7-.3 16.3-3.5-7-6.8-6.4-9.6-5.5-11.6-4.2-12.6-2.7zM1295.1 214.9l12.7 2.7 11.6 4.2 9.6 5.4 6.8 6.5 3.5 7-.2 16.3-3.5-7-6.9-6.4-9.6-5.5-11.6-4.2-12.6-2.7z" fill="#dce8dc" stroke="#dce8dc" stroke-width="0.7" stroke-linejoin="round"/>
<path d="M1322.7 -8.9l-11.7 3.8-.2 16.4 11.7-3.9zM1257.4 -7.2l-3.5-3.4-.3 16.3 3.6 3.4zM1331.9 25.2l-9.8 5.2-11.7 3.8-.2 16.4 11.7-3.9 9.7-5.2zM1256.8 32.1l-3.5-3.4-.3 16.3 3.6 3.4zM1331.3 64.5l-9.7 5.2-11.8 3.8-.2 16.3 11.7-3.8 9.8-5.2zM1256.3 71.4l-3.6-3.5-.2 16.4 3.5 3.4zM1330.7 103.8l-9.7 5.1-11.7 3.9-.3 16.3 11.7-3.8 9.8-5.2zM1255.7 110.7l-3.6-3.5-.2 16.4 3.6 3.4zM1330.2 143.1l-9.8 5.1-11.7 3.9-.2 16.3 11.7-3.8 9.7-5.2zM1255.1 149.9l-3.5-3.4-.3 16.3 3.6 3.5zM1329.6 182.4l-9.8 5.1-11.7 3.9-.2 16.3 11.7-3.8 9.8-5.2zM1254.6 189.2l-3.6-3.4-.2 16.3 3.5 3.5zM1329 221.6l-9.7 5.2-11.7 3.9-.3 16.3 11.7-3.9 9.8-5.1zM1254 228.5l-3.6-3.4-.2 16.3 3.5 3.4zM1328.5 260.9l-9.8 5.2-.2 16.3 9.7-5.1z" fill="#a4efa4" stroke="#a4efa4" stroke-width="0.7" stroke-linejoin="round"/>
<path d="M1311 -5.1l-12.7 2.4-12.7 .8-11.7-.6-9.6-1.9-6.9-2.8-.2 16.3 6.9 2.9 9.6 1.8 11.6 .7 12.7-.9 12.8-2.3zM1310.4 34.2l-12.7 2.4-12.7 .8-11.6-.6-9.7-1.9-6.9-2.8-.2 16.3 6.9 2.9 9.6 1.8 11.7 .7 12.7-.9 12.7-2.3zM1309.8 73.5l-12.7 2.4-12.7 .8-11.6-.6-9.7-1.9-6.8-2.8-.3 16.3 6.9 2.8 9.7 1.9 11.6 .6 12.7-.8 12.7-2.4zM1309.3 112.8l-12.7 2.4-12.7 .8-11.7-.6-9.6-1.9-6.9-2.8-.2 16.3 6.8 2.8 9.7 1.9 11.6 .6 12.7-.8 12.7-2.4zM1308.7 152.1l-12.7 2.3-12.7 .9-11.6-.6-9.7-1.9-6.9-2.9-.2 16.4 6.9 2.8 9.6 1.9 11.7 .6 12.7-.8 12.7-2.4zM1308.1 191.4l-12.7 2.3-12.7 .9-11.6-.7-9.7-1.8-6.8-2.9-.3 16.4 6.9 2.8 9.6 1.9 11.7 .6 12.7-.8 12.7-2.4zM1307.6 230.7l-12.8 2.3-12.6 .9-11.7-.7-9.6-1.8-6.9-2.9-.3 16.3 6.9 2.9 9.7 1.9 11.6 .6 12.7-.8 12.7-2.4z" fill="#a9f1a9" stroke="#a9f1a9" stroke-width="0.7" stroke-linejoin="round"/>
<path d="M1342.7 4.9l-.1 7.2-.2 16.3 .1-7.1zM1342.2 44.2l-.2 7.2-.2 16.3 .1-7.1zM1341.6 83.5l-.1 7.2-.3 16.3 .1-7.2zM1341 122.8l-.1 7.2-.2 16.3 .1-7.2zM1340.4 162.1l-.1 7.1-.2 16.4 .1-7.2zM1339.9 201.4l-.1 7.1-.3 16.4 .1-7.2zM1339.3 240.7l-.1 7.1-.2 16.4 .1-7.2z" fill="#98db98" stroke="#98db98" stroke-width="0.7" stroke-linejoin="round"/>
<path d="M1342.6 12.1l-3.7 6.9-7 6.2-.3 16.3 7.1-6.2 3.7-6.9zM1342 51.4l-3.7 6.9-7 6.2-.2 16.3 7-6.2 3.7-6.9zM1341.5 90.7l-3.7 6.9-7.1 6.2-.2 16.3 7-6.2 3.7-6.9zM1340.9 130l-3.7 6.9-7 6.2-.3 16.3 7.1-6.2 3.7-6.9zM1340.3 169.2l-3.7 6.9-7 6.3-.2 16.3 7-6.2 3.7-6.9zM1339.8 208.5l-3.8 6.9-7 6.2-.2 16.4 7-6.2 3.7-6.9zM1339.2 247.8l-3.7 6.9-7 6.2-.3 16.4 7-6.3 3.8-6.8z" fill="#9ee59e" stroke="#9ee59e" stroke-width="0.7" stroke-linejoin="round"/>
<path d="M1322.7 -8.9l-11.7 3.8-12.7 2.4-12.7 .8-11.7-.6-9.6-1.9-6.9-2.8-3.5-3.4M1322.5 7.4l-11.7 3.9-12.8 2.3-12.7 .9-11.6-.7-9.6-1.8-6.9-2.9-3.6-3.4M1342.7 4.9l-.1 7.2-3.7 6.9-7 6.2-9.8 5.2-11.7 3.8-12.7 2.4-12.7 .8-11.6-.6-9.7-1.9-6.9-2.8-3.5-3.4M1342.5 21.3l-.1 7.1-3.7 6.9-7.1 6.2-9.7 5.2-11.7 3.9-12.7 2.3-12.7 .9-11.7-.7-9.6-1.8-6.9-2.9-3.6-3.4M1342.2 44.2l-.2 7.2-3.7 6.9-7 6.2-9.7 5.2-11.8 3.8-12.7 2.4-12.7 .8-11.6-.6-9.7-1.9-6.8-2.8-3.6-3.5M1341.9 60.6l-.1 7.1-3.7 6.9-7 6.2-9.8 5.2-11.7 3.8-12.7 2.4-12.7 .8-11.6-.6-9.7-1.9-6.9-2.8-3.5-3.4M1341.6 83.5l-.1 7.2-3.7 6.9-7.1 6.2-9.7 5.1-11.7 3.9-12.7 2.4-12.7 .8-11.7-.6-9.6-1.9-6.9-2.8-3.6-3.5M1341.3 99.8l-.1 7.2-3.7 6.9-7 6.2-9.8 5.2-11.7 3.8-12.7 2.4-12.7 .8-11.6-.6-9.7-1.9-6.8-2.8-3.6-3.4M1341 122.8l-.1 7.2-3.7 6.9-7 6.2-9.8 5.1-11.7 3.9-12.7 2.3-12.7 .9-11.6-.6-9.7-1.9-6.9-2.9-3.5-3.4M1340.8 139.1l-.1 7.2-3.7 6.9-7.1 6.2-9.7 5.2-11.7 3.8-12.7 2.4-12.7 .8-11.7-.6-9.6-1.9-6.9-2.8-3.6-3.5M1340.4 162.1l-.1 7.1-3.7 6.9-7 6.3-9.8 5.1-11.7 3.9-12.7 2.3-12.7 .9-11.6-.7-9.7-1.8-6.8-2.9-3.6-3.4M1340.2 178.4l-.1 7.2-3.7 6.9-7 6.2-9.8 5.2-11.7 3.8-12.7 2.4-12.7 .8-11.7-.6-9.6-1.9-6.9-2.8-3.5-3.5M1339.9 201.4l-.1 7.1-3.8 6.9-7 6.2-9.7 5.2-11.7 3.9-12.8 2.3-12.6 .9-11.7-.7-9.6-1.8-6.9-2.9-3.6-3.4M1339.6 217.7l-.1 7.2-3.7 6.9-7 6.2-9.8 5.1-11.7 3.9-12.7 2.4-12.7 .8-11.6-.6-9.7-1.9-6.9-2.9-3.5-3.4M1339.3 240.7l-.1 7.1-3.7 6.9-7 6.2-9.8 5.2M1339.1 257l-.1 7.2-3.8 6.8-7 6.3-9.7 5.1" fill="none" stroke="#689768" stroke-width="0.9" stroke-opacity="0.8"/>
<polyline points="1166.4,100.3 1155,111.8 1147.1,107.5 1150.6,91.7 1162,80.2 1169.9,84.5 1166.4,100.3" fill="none" stroke="#999" stroke-width="4" stroke-linecap="round" stroke-linejoin="round"/><polyline points="1166.4,100.3 1155,111.8 1147.1,107.5 1150.6,91.7 1162,80.2 1169.9,84.5 1166.4,100.3" fill="none" stroke="#e8e8e8" stroke-width="2.4" stroke-linecap="round" stroke-linejoin="round"/>
<polyline points="1148.5,198 1174.5,173 1214.5,178" fill="none" stroke="#555" stroke-width="6.1" stroke-linecap="round" stroke-linejoin="round"/><polyline points="1148.5,198 1174.5,173 1214.5,178" fill="none" stroke="#666" stroke-width="4.5" stroke-linecap="round" stroke-linejoin="round"/>
<polyline points="1221.1,187.4 1209.2,190.3 1187.7,185.9 1177.9,178.6 1189.8,175.7 1211.3,180.1 1221.1,187.4" fill="none" stroke="#444" stroke-width="4.2" stroke-linecap="round" stroke-linejoin="round"/><polyline points="1221.1,187.4 1209.2,190.3 1187.7,185.9 1177.9,178.6 1189.8,175.7 1211.3,180.1 1221.1,187.4" fill="none" stroke="#555" stroke-width="2.6" stroke-linecap="round" stroke-linejoin="round"/>
<polyline points="1183,48 1199,58 1197,90 1206,100 1208,120 1202,128 1207,140 1217,140 1210,155 1219,168 1248,170 1257,178 1255,200 1262,205 1263,225 1268,235 1284,233 1297,245 1293,272 1290,290 1300,316" fill="none" stroke="#c89a20" stroke-width="8.4" stroke-linecap="round" stroke-linejoin="round"/><polyline points="1183,48 1199,58 1197,90 1206,100 1208,120 1202,128 1207,140 1217,140 1210,155 1219,168 1248,170 1257,178 1255,200 1262,205 1263,225 1268,235 1284,233 1297,245 1293,272 1290,290 1300,316" fill="none" stroke="#f8c83c" stroke-width="7" stroke-linecap="round" stroke-linejoin="round"/>
<polyline points="1115,141 1145,148 1158,160 1160,175 1168,180 1190,183 1210,198 1232,202 1250,213 1255,235 1252,245 1246,262 1252,275 1248,282 1262,290 1265,305" fill="none" stroke="#c89a20" stroke-width="8.4" stroke-linecap="round" stroke-linejoin="round"/><polyline points="1115,141 1145,148 1158,160 1160,175 1168,180 1190,183 1210,198 1232,202 1250,213 1255,235 1252,245 1246,262 1252,275 1248,282 1262,290 1265,305" fill="none" stroke="#f8c83c" stroke-width="7" stroke-linecap="round" stroke-linejoin="round"/>
<polyline points="1264,282 1266,316" fill="none" stroke="#ee3030" stroke-width="3" stroke-linecap="round" stroke-linejoin="round"/>
<polyline points="1270,272 1282,265 1284,280" fill="none" stroke="#ee3030" stroke-width="4" stroke-linecap="round" stroke-linejoin="round"/>
<polyline points="1204,285 1224,296 1235,292" fill="none" stroke="#f8c83c" stroke-width="5" stroke-linecap="round" stroke-linejoin="round"/>
<polyline points="1224,296 1224,316" fill="none" stroke="#f8c83c" stroke-width="5" stroke-linecap="round" stroke-linejoin="round"/>
<polyline points="1218,290 1228,300" fill="none" stroke="#2233ee" stroke-width="5" stroke-linecap="round" stroke-linejoin="round"/>
<polyline points="1277,58 1283,70 1300,60 1283,70 1285,95 1270,107" fill="none" stroke="#22e022" stroke-width="5.5" stroke-linecap="round" stroke-linejoin="round"/>
<polyline points="1265,118 1285,123" fill="none" stroke="#22e022" stroke-width="5.5" stroke-linecap="round" stroke-linejoin="round"/>
<polyline points="1294,177 1310,182 1336,175" fill="none" stroke="#22e022" stroke-width="5.5" stroke-linecap="round" stroke-linejoin="round"/>
<polyline points="1182,109 1192,88" fill="none" stroke="#111" stroke-width="3.6" stroke-dasharray="0.1 5.2" stroke-linecap="round"/>
<polyline points="1213,124 1260,118" fill="none" stroke="#111" stroke-width="3.6" stroke-dasharray="0.1 5.2" stroke-linecap="round"/>
<polyline points="1203,131 1200,168" fill="none" stroke="#111" stroke-width="3.6" stroke-dasharray="0.1 5.2" stroke-linecap="round"/>
<polyline points="1265,120 1258,140 1249,160" fill="none" stroke="#111" stroke-width="3.6" stroke-dasharray="0.1 5.2" stroke-linecap="round"/>
</g>
<rect x="1075.6" y="9.1" width="272.8" height="305.3" fill="none" stroke="#111" stroke-width="2.2"/>
<text x="1112.3" y="32" font-size="19.5" font-weight="bold" fill="#c0c0c0" stroke="#c0c0c0" stroke-width="0.7" stroke-linejoin="round" textLength="44" lengthAdjust="spacingAndGlyphs">GP2</text><text x="1156.8" y="36" font-size="13" font-weight="bold" fill="#c0c0c0" stroke="#c0c0c0" stroke-width="0.7" stroke-linejoin="round">C</text>
<text x="1120" y="89.4" font-size="19.5" font-weight="bold" fill="#e6e6e6" stroke="#444" stroke-width="2.4" paint-order="stroke" stroke-linejoin="round" textLength="53.6" lengthAdjust="spacingAndGlyphs">F433</text>
<text x="1131.5" y="118" font-size="20.5" textLength="44" lengthAdjust="spacingAndGlyphs">3.5Å</text>
<text x="1215.8" y="117.2" font-size="20.5" textLength="43" lengthAdjust="spacingAndGlyphs">4.5Å</text>
<text x="1298" y="93.2" font-size="19.5" font-weight="bold" fill="#22d622" stroke="#0a4a0a" stroke-width="2.4" paint-order="stroke" stroke-linejoin="round" textLength="32.7" lengthAdjust="spacingAndGlyphs">I29</text>
<text x="1283.8" y="137.3" font-size="19.5" font-weight="bold" fill="#22d622" stroke="#0a4a0a" stroke-width="2.4" paint-order="stroke" stroke-linejoin="round" textLength="42.7" lengthAdjust="spacingAndGlyphs">A33</text>
<text x="1152.5" y="145" font-size="20.5" textLength="44" lengthAdjust="spacingAndGlyphs">4.0Å</text>
<text x="1259.8" y="161.3" font-size="20.5" textLength="42" lengthAdjust="spacingAndGlyphs">3.7Å</text>
<text x="1147.8" y="212" font-size="19.5" font-weight="bold" fill="#5a5a5a" stroke="#222" stroke-width="2.4" paint-order="stroke" stroke-linejoin="round" textLength="54" lengthAdjust="spacingAndGlyphs">F438</text>
<text x="1303" y="209" font-size="19.5" font-weight="bold" fill="#22d622" stroke="#0a4a0a" stroke-width="2.4" paint-order="stroke" stroke-linejoin="round" textLength="42" lengthAdjust="spacingAndGlyphs">V36</text>
<text x="1294.3" y="269.5" font-size="19.5" font-weight="bold" fill="#22cc22" stroke="#22cc22" stroke-width="0.7" stroke-linejoin="round" textLength="40" lengthAdjust="spacingAndGlyphs">SSP</text><text x="1334.8" y="273.5" font-size="13" font-weight="bold" fill="#22cc22" stroke="#22cc22" stroke-width="0.7" stroke-linejoin="round">A</text>
<text x="1285.7" y="303" font-size="19.5" font-weight="bold" fill="#ecc640" stroke="#5a4a10" stroke-width="2.4" paint-order="stroke" stroke-linejoin="round" textLength="60.3" lengthAdjust="spacingAndGlyphs">POPC</text>
<text x="1112.3" y="299.2" font-size="19.5" font-weight="bold" fill="#6b6b6b" stroke="#6b6b6b" stroke-width="0.7" stroke-linejoin="round" textLength="42" lengthAdjust="spacingAndGlyphs">GP2</text><text x="1154.8" y="303.2" font-size="13" font-weight="bold" fill="#6b6b6b" stroke="#6b6b6b" stroke-width="0.7" stroke-linejoin="round">B</text>
<g clip-path="url(#cd)">
<path d="M1441 122l-2-6-6 2-3-6-6 0 0-7-7 0M1698 285l-6-1-4 5-6-3-3 6-6-2-2 6-6-2-2 6-6-2-5 4M1652 302l2 7M1560 55l4 6 6-4 2 6 6 1 0 7 6 3-2 6 6 2M1459 259l5-5-5-4 3-6-5-5 5-4-6-4 2-6-6-2 3-6-5-5 2-6-7-1M1462 244l5-4M1499 269l6-4-2-6 5-3-2-6 6-2-1-6 6-3-3-6 7-2-4-6M1461 28l6-3-2-6 7-1 1-6 6 0 2-6 6 1 4-6 6 1 0-7 6-1-2-6M1612 265l6 3 2-6 7 0 3-6 6 3M1636 259l4 5M1442 176l2 7 6-2 4 5 4-4 6 2 4-5 5 4 5-4 4 5M1492 266l-4 5 6 3-2 6 5 4 0 6 6 3-2 6 5 4-4 5 3 6-6 2 2 6M1499 316l-7-1M1456 224l-6-1-3 6-6-3-4 6-5-5-4 5M1706 50l-6-1-2 6-7 0-2 6-6 0-3 6-6 1-1 7-6 0 1 7-7 1 0 7M1500 20l-2 6 7 1 2 6 6-2 3 6 5-3 4 5M1498 26l4-6M1492 293l-6-2-1 7-7 1 2 6-6 1 2 6-7 2-1 6M1476 312l-4-6M1636 288l-1 6 6 3-1 7 5 3-4 5 6 4-4 5 4 6-5 4 2 6M1641 312l-6-3M1537 300l-7 1-1 7-6 1-2 6-6 2 2 6-5 4M1530 301l7 2M1706 309l-6-2-2 6-7-2-2 6-7-1-3 5-6-1-2 7-6-2-1 7-6 2M1673 320l-6-4M1628 313l-4-5-5 4-4-4-5 5-5-5-5 4-4-4M1596 308l-1 7M1534 41l-6 1-1 6-7-1-2 6-6 1-2 6-6 0-2 6-6-3-4 5M1473 162l0-7-5-3 4-5-6-4 3-6-7-2 3-6-7-2 1-6-5-4M1471 132l6-2 1-7 6 1 0-6 7-1 2-6 6 4 5-4 5 4M1513 18l0-7-6-1 1-6-6-4 1-6-7-1 1-7-7 1M1544 278l-2-6-6-1-2-6-7-1-1-6-7 2-2-6-7 0-2-6-7 1M1461 284l6-4-2-6 7-1 0-6 6 1 1-6 6-2 0-6 7 1M1622 6l3 5 6-3 5 3 5-3 3 5 7-1 0 7 7 1 1 6 6 0M1665 26l-4 5M1689 8l5 4 5-5 6 4 5-3 3 6 7-2 1 6 7-1 2 6 6-2M1705 11l2-7M1450 256l3 6 6-3 4 6 5-4 3 5 5-4" fill="none" stroke="#1a9aa2" stroke-width="1.15" stroke-linejoin="round"/><path d="M1564 306l-4-5-6 2-2-6-6 2-2-6-6 3M1554 303l2-6M1482 215l-5-4-3 6-6 0-2 7-6-3-4 6-5-5-6 3M1445 225l4-7M1529 314l1 6 7 1-1 6 6 2-1 6 5 4-3 6M1708 290l1 7 6 0 2 6 7 0 0 7 6-1M1717 303l-1 7M1649 23l6 1 3-5 6-1 2-6 6-1 2-6 6-1 1-7 7-1-2-6 5-3M1614 36l6 4 2-6 6 2 5-4 4 5 5-5 5 4 3-6M1443 259l1-6-6-3 2-6-7-1 0-7-6 1-4-5M1484 38l7 2 2-7 6 3 4-6 6 4 2-6 6 2 3-6 6 0M1489 229l-5-4-6 3-4-5-5 5-6-3-1 6-7-1M1471 103l-3 6 4 5-5 4 5 4-4 6 5 4-4 5 3 6-5 4 4 5-5 3 2 6M1467 147l-6-3M1719 67l-3 6 4 4-2 7 4 4-2 6 6 3-1 6 6 3-1 6 6 3-1 7 7 0M1451 207l5-4-2-7 6-2-1-6 5-4-3-5 6-4-2-6 6-3M1464 184l-5-4M1670 48l3-5-6-4 1-6-6-3 1-6-6-1-1-7-6-2 1-6M1514 56l6 0 0-7 6 0 2-7 7 0 1-6 6-1M1449 21l2-6-7-1 0-7-6-2 0-6-6 0-3-6M1529 37l-6 0-3 5-6-3-5 4-4-5-5 3-4-5-5 4-4-5-6 3-4-5-6 3M1659 296l5-4-2-6 6-1 2-7 6 2 3-6 6 3 3-6 5 4 5-5 6 2M1711 167l-6-4-3 5-6-2-5 4-4-5-6 1-4-6M1677 160l-4 6M1454 239l-6 4 4 5-5 4 5 5-2 6M1617 273l-4 5 6 4-2 6 6 3-2 6 6 4-5 4 6 4-4 6 5 4M1446 212l5 4 5-4 4 5 6-2 2 6 7 0 3 6 5-4 4 6" fill="none" stroke="#d0106a" stroke-width="1.15" stroke-linejoin="round"/><path d="M1468 194l-5-4-6 2-4-5-6 2-3-6-7 2-4-5-6 2-1-7-7 1M1717 57l-6-1-2 6-6-2-2 6-6 2 3 6-6 4 1 6-7 0-3 5M1695 68l-4-6" fill="none" stroke="#e070b0" stroke-width="1.15" stroke-linejoin="round"/><path d="M1623 17l-1 6 5 3-3 6 3 5-5 4 2 6-6 3-1 6-6 0-3 6M1707 243l6 4 5-4 5 3 5-4 6 3 5-4 5 4 4-5M1452 99l-4 6 4 5-3 6 3 5-5 4 1 6-6 3 0 6-6 0 0 6-7 0M1442 134l-5-5M1487 178l0 6 7 2 2 6 6-2 4 5M1620 285l-6-3-3 6-6-4-5 5-5-4-5 4-4-6-5 4-4-5-7 2-3-6-6 1M1520 11l-4 5 3 5-5 5 5 5-3 5 4 5-3 5 3 6-6 3 2 6-7 2 2 6M1516 61l5 4M1451 75l4 6 6-1 1 6 7 0 3 6 6-2 2 7 6-1 1 6M1455 81l-4 5" fill="none" stroke="#6a6ab8" stroke-width="1.15" stroke-linejoin="round"/><path d="M1624 28l-6-2-1 6-7 0-1 6-7 0-1 6-7-1-3 5M1602 38l-5-5M1647 283l-6 1 1 7-6 1 1 7-6 1-1 7M1568 44l7 1 3-6 6 0 1-7 6 0 0-6 6-1 0-6 6-1 0-6M1597 19l7 2M1498 11l5-4-2-6 4-5-6-4 4-6-4-5 4-5-3-5M1499 -19l6-2M1448 187l6 1 4-5 5 2 5-4 4 5 7-2 1 6 6 1M1584 310l1-6-7-1 2-7-5-4 3-5-6-3 3-6-5-4 2-6-7-1 0-7M1580 296l3-6M1706 180l-5 4 3 6-7 2-1 6-6 1M1697 192l-5-4M1489 186l-4-6-6 1-1-7-7 2-1-6-6 2-2-6M1479 181l2-7M1561 10l-6 4 3 5-6 3 1 6-6 3 1 6-6 2 0 6-6 3 1 6-6 3M1548 37l-6-2M1516 11l7 0 3-5 6 2 4-5 6 2M1454 17l-6-3-5 5-5-4-5 5-4-5-6 4-4-4-6 3-5-4-6 4-4-6-4 5M1484 69l-6-2-4 5-5-4-5 4-6-1-3 6" fill="none" stroke="#e07418" stroke-width="1.15" stroke-linejoin="round"/><path d="M1598 25l5 4 5-4 5 5 5-4 3 6 6 0 3 6" fill="none" stroke="#a6cc22" stroke-width="1.15" stroke-linejoin="round"/>
<path d="M1590.6 25.5l3.1-2.4 4.3-.5 5.3 1.5 5.5 3.4 5.2 5-5.1 4.5-5.2-5-5.5-3.4-5.3-1.5-4.3 .5-3.1 2.4zM1581 33.9l3.1-2.4 4.4-.5 5.2 1.5 5.5 3.4 5.2 5-5.1 4.5-5.2-5-5.5-3.4-5.2-1.5-4.4 .5-3.1 2.4zM1571.5 42.3l3-2.4 4.4-.4 5.2 1.5 5.5 3.4 5.3 4.9-5.1 4.5-5.3-5-5.5-3.3-5.2-1.6-4.4 .5-3 2.4zM1561.9 50.8l3-2.4 4.4-.5 5.2 1.5 5.6 3.4 5.2 5-5.1 4.5-5.2-5-5.6-3.4-5.2-1.5-4.4 .5-3 2.4zM1552.3 59.2l3.1-2.4 4.3-.5 5.3 1.5 5.5 3.4 5.2 5-5.1 4.5-5.2-5-5.5-3.4-5.3-1.5-4.3 .5-3.1 2.4zM1542.8 67.6l3-2.4 4.4-.5 5.2 1.5 5.5 3.4 5.3 5-5.1 4.5-5.3-5-5.5-3.4-5.2-1.5-4.4 .5-3.1 2.4zM1533.2 76l3-2.3 4.4-.5 5.2 1.5 5.6 3.4 5.2 5-5.1 4.5-5.2-5-5.6-3.4-5.2-1.5-4.4 .5-3 2.3z" fill="#ababab" stroke="#ababab" stroke-width="0.7" stroke-linejoin="round"/>
<path d="M1614 32.5l4.4 6.1 3.1 6.8 1.3 6.7-.4 6-2.3 4.9-5.2 4.5 2.4-4.9 .4-6-1.3-6.7-3.1-6.8-4.4-6.1zM1604.4 40.9l4.4 6.2 3.1 6.7 1.4 6.7-.5 6-2.3 4.9-5.1 4.5 2.3-4.9 .5-6-1.4-6.7-3.1-6.7-4.4-6.2zM1594.9 49.3l4.4 6.2 3 6.7 1.4 6.7-.5 6.1-2.3 4.8-5.1 4.5 2.3-4.8 .5-6.1-1.4-6.7-3-6.7-4.4-6.2zM1585.3 57.8l4.4 6.1 3 6.7 1.4 6.7-.4 6.1-2.4 4.9-5.1 4.5 2.4-4.9 .4-6.1-1.4-6.7-3-6.7-4.4-6.1zM1575.7 66.2l4.4 6.1 3.1 6.8 1.4 6.7-.5 6-2.3 4.9-5.1 4.5 2.3-4.9 .5-6-1.4-6.7-3.1-6.8-4.4-6.1zM1566.2 74.6l4.3 6.2 3.1 6.7 1.4 6.7-.5 6.1-2.3 4.8-5.1 4.5 2.3-4.8 .5-6.1-1.4-6.7-3.1-6.7-4.3-6.2zM1556.6 83.1l4.4 6.1 3 6.7 1.4 6.7-.5 6.1-2.3 4.9-5.1 4.5 2.3-4.9 .5-6.1-1.4-6.7-3-6.7-4.4-6.1z" fill="#b9b9b9" stroke="#b9b9b9" stroke-width="0.7" stroke-linejoin="round"/>
<path d="M1620.3 59.1l-6.2-.6-5.1 4.5 6.2 .6zM1616 66.2l-5.3 1.4-6.2-.7-5.1 4.5 6.2 .6 5.3-1.3zM1606.5 74.6l-5.4 1.4-6.1-.7-5.1 4.5 6.1 .7 5.4-1.4zM1596.9 83.1l-5.3 1.3-6.2-.7-5.1 4.5 6.2 .7 5.3-1.3zM1587.3 91.5l-5.3 1.3-6.2-.6-5.1 4.5 6.2 .6 5.3-1.3zM1577.8 99.9l-5.4 1.4-6.2-.7-5.1 4.5 6.2 .7 5.4-1.4zM1568.2 108.4l-5.3 1.3-6.2-.7-5.1 4.5 6.2 .7 5.3-1.3zM1558.6 116.8l-5.3 1.3-5.1 4.5 5.3-1.3z" fill="#808080" stroke="#808080" stroke-width="0.7" stroke-linejoin="round"/>
<path d="M1614.1 58.5l-6.5-2.6-6.2-4.1-5.1 4.5 6.2 4.1 6.5 2.6zM1589.2 29.5l1.4-4-5.1 4.5-1.4 4zM1604.5 66.9l-6.5-2.6-6.1-4.1-5.1 4.5 6.1 4.1 6.5 2.6zM1579.7 37.9l1.3-4-5.1 4.5-1.3 4zM1595 75.3l-6.5-2.5-6.2-4.2-5.1 4.5 6.2 4.2 6.5 2.5zM1570.1 46.4l1.4-4.1-5.1 4.5-1.4 4.1zM1585.4 83.7l-6.5-2.5-6.2-4.2-5.1 4.5 6.2 4.2 6.5 2.5zM1560.5 54.8l1.4-4-5.1 4.5-1.4 4zM1575.8 92.2l-6.5-2.6-6.2-4.1-5.1 4.5 6.2 4.1 6.5 2.6zM1551 63.2l1.3-4-5.1 4.5-1.3 4zM1566.2 100.6l-6.4-2.5-6.2-4.2-5.1 4.5 6.2 4.1 6.4 2.6zM1541.4 71.6l1.4-4-5.2 4.5-1.3 4zM1556.7 109l-6.5-2.5-6.2-4.2-5.1 4.5 6.2 4.2 6.5 2.5zM1531.8 80.1l1.4-4.1-5.1 4.5-1.4 4.1z" fill="#888888" stroke="#888888" stroke-width="0.7" stroke-linejoin="round"/>
<path d="M1601.4 51.8l-5.3-5.3-4-5.9-2.4-5.9-.5-5.2-5.1 4.5 .5 5.2 2.4 5.9 4 5.9 5.3 5.3zM1591.9 60.2l-5.4-5.3-4-5.9-2.3-5.9-.5-5.2-5.1 4.5 .5 5.2 2.3 5.9 4 5.9 5.4 5.3zM1582.3 68.6l-5.4-5.3-4-5.9-2.3-5.8-.5-5.2-5.1 4.5 .5 5.2 2.3 5.8 4 5.9 5.4 5.3zM1572.7 77l-5.3-5.3-4-5.8-2.4-5.9-.5-5.2-5.1 4.5 .5 5.2 2.4 5.9 4 5.8 5.3 5.3zM1563.1 85.5l-5.3-5.3-4-5.9-2.4-5.9-.4-5.2-5.1 4.5 .4 5.2 2.4 5.9 4 5.9 5.3 5.3zM1553.6 93.9l-5.4-5.3-4-5.9-2.3-5.8-.5-5.3-5.1 4.5 .5 5.3 2.3 5.8 4 5.9 5.4 5.3zM1544 102.3l-5.3-5.3-4.1-5.9-2.3-5.8-.5-5.2-5.1 4.5 .5 5.2 2.3 5.8 4.1 5.9 5.3 5.3z" fill="#919191" stroke="#919191" stroke-width="0.7" stroke-linejoin="round"/>
<path d="M1620.1 63l-4.1 3.2-5.1 4.5 4-3.2zM1610.5 71.4l-4 3.2-5.1 4.5 4-3.2zM1600.9 79.8l-4 3.3-5.1 4.5 4-3.3zM1591.3 88.3l-4 3.2-5.1 4.5 4-3.2zM1581.8 96.7l-4 3.2-5.1 4.5 4-3.2zM1572.2 105.1l-4 3.3-5.1 4.5 4-3.3zM1562.6 113.6l-4 3.2-5.1 4.5 4-3.2z" fill="#787878" stroke="#787878" stroke-width="0.7" stroke-linejoin="round"/>
<path d="M1620.3 59.1l-6.2-.6-6.5-2.6-6.2-4.1-5.3-5.3-4-5.9-2.4-5.9-.5-5.2 1.4-4M1615.2 63.6l-6.2-.6-6.5-2.6-6.2-4.1-5.3-5.3-4-5.9-2.4-5.9-.5-5.2 1.4-4M1620.1 63l-4.1 3.2-5.3 1.4-6.2-.7-6.5-2.6-6.1-4.1-5.4-5.3-4-5.9-2.3-5.9-.5-5.2 1.3-4M1614.9 67.5l-4 3.2-5.3 1.3-6.2-.6-6.5-2.6-6.1-4.1-5.4-5.3-4-5.9-2.3-5.9-.5-5.2 1.3-4M1610.5 71.4l-4 3.2-5.4 1.4-6.1-.7-6.5-2.5-6.2-4.2-5.4-5.3-4-5.9-2.3-5.8-.5-5.2 1.4-4.1M1605.4 75.9l-4 3.2-5.4 1.4-6.1-.7-6.5-2.5-6.2-4.2-5.4-5.3-4-5.9-2.3-5.8-.5-5.2 1.4-4.1M1600.9 79.8l-4 3.3-5.3 1.3-6.2-.7-6.5-2.5-6.2-4.2-5.3-5.3-4-5.8-2.4-5.9-.5-5.2 1.4-4M1595.8 84.3l-4 3.3-5.3 1.3-6.2-.7-6.5-2.5-6.2-4.2-5.3-5.3-4-5.8-2.4-5.9-.5-5.2 1.4-4M1591.3 88.3l-4 3.2-5.3 1.3-6.2-.6-6.5-2.6-6.2-4.1-5.3-5.3-4-5.9-2.4-5.9-.4-5.2 1.3-4M1586.2 92.8l-4 3.2-5.3 1.3-6.2-.6-6.5-2.6-6.2-4.1-5.3-5.3-4-5.9-2.4-5.9-.4-5.2 1.3-4M1581.8 96.7l-4 3.2-5.4 1.4-6.2-.7-6.4-2.5-6.2-4.2-5.4-5.3-4-5.9-2.3-5.8-.5-5.3 1.4-4M1576.7 101.2l-4 3.2-5.4 1.4-6.2-.7-6.4-2.6-6.2-4.1-5.4-5.3-4-5.9-2.3-5.8-.5-5.3 1.3-4M1572.2 105.1l-4 3.3-5.3 1.3-6.2-.7-6.5-2.5-6.2-4.2-5.3-5.3-4.1-5.9-2.3-5.8-.5-5.2 1.4-4.1M1567.1 109.6l-4 3.3-5.3 1.3-6.2-.7-6.5-2.5-6.2-4.2-5.3-5.3-4.1-5.9-2.3-5.8-.5-5.2 1.4-4.1M1562.6 113.6l-4 3.2-5.3 1.3M1557.5 118.1l-4 3.2-5.3 1.3" fill="none" stroke="#545454" stroke-width="0.9" stroke-opacity="0.8"/>
<path d="M1463.1 232.3l-2.3-3.6-.7-5.2 1-6.4 2.7-6.9 4.2-6.6 6 3.1-4.2 6.7-2.7 6.8-1 6.4 .7 5.3 2.3 3.5zM1478.5 240.3l-2.3-3.6-.7-5.2 1-6.4 2.7-6.9 4.2-6.6 6 3.1-4.2 6.7-2.7 6.8-1 6.4 .7 5.3 2.3 3.5zM1493.8 248.3l-2.2-3.6-.7-5.2 1-6.4 2.7-6.9 4.2-6.6 6 3.1-4.2 6.7-2.7 6.8-1 6.4 .7 5.3 2.3 3.5zM1509.2 256.3l-2.2-3.6-.7-5.2 1-6.4 2.7-6.9 4.2-6.6 6 3.1-4.2 6.7-2.7 6.8-1 6.4 .7 5.3 2.3 3.5zM1524.6 264.3l-2.3-3.6-.7-5.2 1-6.4 2.7-6.9 4.2-6.6 6.1 3.1-4.2 6.7-2.7 6.8-1 6.4 .7 5.3 2.2 3.5zM1540 272.3l-2.3-3.6-.7-5.2 1-6.4 2.7-6.9 4.2-6.6 6.1 3.1-4.2 6.7-2.7 6.8-1 6.4 .7 5.3 2.2 3.5zM1555.4 280.3l-2.3-3.6-.7-5.2 1-6.4 2.7-6.9 4.2-6.6 6.1 3.1-4.2 6.7-2.7 6.8-1.1 6.4 .7 5.3 2.3 3.5z" fill="#dadada" stroke="#dadada" stroke-width="0.7" stroke-linejoin="round"/>
<path d="M1468 203.6l5.4-5.7 6.1-4.2 6.2-2.2 6 0 5 2.3 6.1 3.1-5.1-2.2-5.9-.1-6.3 2.3-6.1 4.1-5.4 5.7zM1483.4 211.6l5.4-5.7 6-4.2 6.3-2.2 5.9 0 5.1 2.3 6.1 3.1-5.1-2.2-6-.1-6.2 2.3-6.1 4.1-5.4 5.7zM1498.8 219.6l5.3-5.7 6.1-4.2 6.3-2.2 5.9 0 5.1 2.3 6 3.1-5-2.2-6-.1-6.2 2.3-6.1 4.1-5.4 5.7zM1514.2 227.6l5.3-5.7 6.1-4.2 6.3-2.2 5.9 0 5.1 2.3 6 3.1-5.1-2.2-5.9-.1-6.3 2.3-6 4.1-5.4 5.7zM1529.5 235.6l5.4-5.7 6.1-4.2 6.3-2.2 5.9 0 5.1 2.3 6 3.1-5.1-2.2-5.9-.1-6.3 2.3-6.1 4.1-5.3 5.7zM1544.9 243.6l5.4-5.7 6.1-4.2 6.3-2.2 5.9 0 5.1 2.3 6 3.1-5.1-2.2-5.9-.1-6.3 2.3-6.1 4.1-5.3 5.7zM1560.3 251.6l5.4-5.7 6 3.1-5.3 5.7z" fill="#eeeeee" stroke="#eeeeee" stroke-width="0.7" stroke-linejoin="round"/>
<path d="M1480.3 225l-4.6 4.9-4.7 3.1-4.4 .7 6.1 3.2 4.3-.8 4.8-3 4.5-5zM1502.2 219l-2.7 7.5-3.8 6.5-4.6 4.9-4.7 3.1-4.4 .7 6 3.2 4.4-.8 4.8-3 4.5-5 3.8-6.5 2.7-7.4zM1517.5 227l-2.6 7.5-3.8 6.5-4.6 4.9-4.7 3.1-4.4 .7 6 3.2 4.4-.8 4.7-3 4.6-5 3.8-6.5 2.7-7.4zM1532.9 235l-2.6 7.5-3.9 6.5-4.5 4.9-4.7 3.1-4.4 .7 6 3.2 4.4-.8 4.7-3 4.6-5 3.8-6.5 2.7-7.4zM1548.3 243l-2.7 7.5-3.8 6.5-4.5 4.9-4.8 3.1-4.3 .7 6 3.2 4.4-.8 4.7-3 4.6-5 3.8-6.5 2.6-7.4zM1563.7 251l-2.7 7.5-3.8 6.5-4.5 4.9-4.8 3.1-4.4 .7 6.1 3.2 4.4-.8 4.7-3 4.5-5 3.9-6.5 2.6-7.4zM1579.1 259l-2.7 7.5-3.8 6.5-4.5 4.9-4.8 3.1-4.4 .7 6.1 3.2 4.3-.8 4.8-3 4.5-5 3.9-6.5 2.6-7.4z" fill="#dfdfdf" stroke="#dfdfdf" stroke-width="0.7" stroke-linejoin="round"/>
<path d="M1466.6 233.7l-3.5-1.4 6 3.1 3.6 1.5zM1502.8 204.2l.5 7.2-1.1 7.6 6 3.2 1.2-7.7-.6-7.2zM1482 241.7l-3.5-1.4 6 3.1 3.5 1.5zM1518.2 212.2l.5 7.2-1.2 7.6 6.1 3.2 1.1-7.7-.5-7.2zM1497.4 249.7l-3.6-1.4 6.1 3.1 3.5 1.5zM1533.6 220.2l.5 7.2-1.2 7.6 6.1 3.2 1.1-7.7-.5-7.2zM1512.8 257.7l-3.6-1.4 6.1 3.1 3.5 1.5zM1548.9 228.2l.6 7.2-1.2 7.6 6 3.2 1.2-7.7-.5-7.2zM1528.2 265.7l-3.6-1.4 6 3.1 3.6 1.5zM1564.3 236.2l.6 7.2-1.2 7.6 6 3.2 1.2-7.7-.5-7.2zM1543.5 273.7l-3.5-1.4 6 3.1 3.6 1.5zM1579.7 244.2l.5 7.2-1.1 7.6 6 3.2 1.2-7.7-.6-7.2zM1558.9 281.7l-3.5-1.4 6 3.1 3.6 1.5z" fill="#d7d7d7" stroke="#d7d7d7" stroke-width="0.7" stroke-linejoin="round"/>
<path d="M1496.7 193.8l3.8 4.3 2.3 6.1 6 3.1-2.2-6-3.8-4.4zM1512.1 201.8l3.8 4.3 2.3 6.1 6 3.1-2.2-6-3.8-4.4zM1527.5 209.8l3.8 4.3 2.3 6.1 6 3.1-2.2-6-3.9-4.4zM1542.9 217.8l3.8 4.3 2.2 6.1 6.1 3.1-2.3-6-3.8-4.4zM1558.3 225.8l3.8 4.3 2.2 6.1 6.1 3.1-2.3-6-3.8-4.4zM1573.7 233.8l3.8 4.3 2.2 6.1 6 3.1-2.2-6-3.8-4.4z" fill="#c8c8c8" stroke="#c8c8c8" stroke-width="0.7" stroke-linejoin="round"/>
<path d="M1480.3 225l-4.6 4.9-4.7 3.1-4.4 .7-3.5-1.4M1486.3 228.1l-4.5 5-4.8 3-4.3 .8-3.6-1.5M1496.7 193.8l3.8 4.3 2.3 6.1 .5 7.2-1.1 7.6-2.7 7.5-3.8 6.5-4.6 4.9-4.7 3.1-4.4 .7-3.5-1.4M1502.8 196.9l3.8 4.4 2.2 6 .6 7.2-1.2 7.7-2.7 7.4-3.8 6.5-4.5 5-4.8 3-4.4 .8-3.5-1.5M1512.1 201.8l3.8 4.3 2.3 6.1 .5 7.2-1.2 7.6-2.6 7.5-3.8 6.5-4.6 4.9-4.7 3.1-4.4 .7-3.6-1.4M1518.2 204.9l3.8 4.4 2.2 6 .5 7.2-1.1 7.7-2.7 7.4-3.8 6.5-4.6 5-4.7 3-4.4 .8-3.5-1.5M1527.5 209.8l3.8 4.3 2.3 6.1 .5 7.2-1.2 7.6-2.6 7.5-3.9 6.5-4.5 4.9-4.7 3.1-4.4 .7-3.6-1.4M1533.5 212.9l3.9 4.4 2.2 6 .5 7.2-1.1 7.7-2.7 7.4-3.8 6.5-4.6 5-4.7 3-4.4 .8-3.5-1.5M1542.9 217.8l3.8 4.3 2.2 6.1 .6 7.2-1.2 7.6-2.7 7.5-3.8 6.5-4.5 4.9-4.8 3.1-4.3 .7-3.6-1.4M1548.9 220.9l3.8 4.4 2.3 6 .5 7.2-1.2 7.7-2.6 7.4-3.8 6.5-4.6 5-4.7 3-4.4 .8-3.6-1.5M1558.3 225.8l3.8 4.3 2.2 6.1 .6 7.2-1.2 7.6-2.7 7.5-3.8 6.5-4.5 4.9-4.8 3.1-4.4 .7-3.5-1.4M1564.3 228.9l3.8 4.4 2.3 6 .5 7.2-1.2 7.7-2.6 7.4-3.9 6.5-4.5 5-4.7 3-4.4 .8-3.6-1.5M1573.7 233.8l3.8 4.3 2.2 6.1 .5 7.2-1.1 7.6-2.7 7.5-3.8 6.5-4.5 4.9-4.8 3.1-4.4 .7-3.5-1.4M1579.7 236.9l3.8 4.4 2.2 6 .6 7.2-1.2 7.7-2.6 7.4-3.9 6.5-4.5 5-4.8 3-4.3 .8-3.6-1.5" fill="none" stroke="#858585" stroke-width="0.9" stroke-opacity="0.8"/>
<path d="M1634.2 200l3.5 1.5 3 3.5 2.2 5.1 1.1 6.3-.2 6.9-6.8 0 .2-6.9-1.1-6.3-2.2-5.1-3-3.5-3.5-1.5zM1623 200l3.5 1.5 3 3.5 2.2 5.1 1.1 6.3-.2 6.9-6.8 0 .2-6.9-1.1-6.3-2.2-5.1-3-3.5-3.5-1.5zM1611.8 200l3.4 1.5 3 3.5 2.2 5.1 1.1 6.3-.1 6.9-6.8 0 .1-6.9-1.1-6.3-2.2-5.1-3-3.5-3.4-1.5zM1600.5 200l3.5 1.5 3 3.5 2.2 5.1 1.1 6.3-.2 6.9-6.8 0 .2-6.9-1.1-6.3-2.2-5.1-3-3.5-3.5-1.5zM1589.3 200l3.5 1.5 3 3.5 2.2 5.1 1.1 6.3-.2 6.9-6.8 0 .2-6.9-1.1-6.3-2.2-5.1-3-3.5-3.5-1.5zM1578.1 200l3.4 1.5 3.1 3.5 2.1 5.1 1.1 6.3-.1 6.9-6.8 0 .1-6.9-1.1-6.3-2.1-5.1-3.1-3.5-3.4-1.5zM1566.8 200l3.5 1.5 3 3.5 2.2 5.1-6.8 0-2.2-5.1-3-3.5-3.5-1.5z" fill="#ababab" stroke="#ababab" stroke-width="0.7" stroke-linejoin="round"/>
<path d="M1643.8 223.3l-1.4 6.7-2.6 5.9-3.7 4.6-4.3 2.8-4.7 .7-6.8 0 4.7-.7 4.3-2.8 3.7-4.6 2.6-5.9 1.4-6.7zM1632.6 223.3l-1.4 6.7-2.7 5.9-3.6 4.6-4.4 2.8-4.6 .7-6.8 0 4.6-.7 4.4-2.8 3.6-4.6 2.7-5.9 1.4-6.7zM1621.4 223.3l-1.5 6.7-2.6 5.9-3.7 4.6-4.3 2.8-4.7 .7-6.8 0 4.7-.7 4.3-2.8 3.7-4.6 2.6-5.9 1.5-6.7zM1610.1 223.3l-1.4 6.7-2.6 5.9-3.7 4.6-4.3 2.8-4.7 .7-6.8 0 4.7-.7 4.3-2.8 3.7-4.6 2.6-5.9 1.4-6.7zM1598.9 223.3l-1.4 6.7-2.7 5.9-3.6 4.6-4.4 2.8-4.6 .7-6.8 0 4.6-.7 4.4-2.8 3.6-4.6 2.7-5.9 1.4-6.7zM1587.7 223.3l-1.5 6.7-2.6 5.9-3.6 4.6-4.4 2.8-4.7 .7-6.8 0 4.7-.7 4.4-2.8 3.6-4.6 2.6-5.9 1.5-6.7z" fill="#b9b9b9" stroke="#b9b9b9" stroke-width="0.7" stroke-linejoin="round"/>
<path d="M1626.3 233.9l-2.2-6.3-6.8 0 2.2 6.3zM1630.7 200.7l3.5-.7-6.8 0-3.5 .7zM1618.4 239l-3.3-5.1-2.3-6.3-6.8 0 2.3 6.3 3.3 5.1zM1619.4 200.7l3.6-.7-6.8 0-3.6 .7zM1607.1 239l-3.3-5.1-2.2-6.3-6.8 0 2.2 6.3 3.3 5.1zM1608.2 200.7l3.6-.7-6.8 0-3.6 .7zM1595.9 239l-3.3-5.1-2.2-6.3-6.8 0 2.2 6.3 3.3 5.1zM1597 200.7l3.5-.7-6.8 0-3.5 .7zM1584.7 239l-3.3-5.1-2.3-6.3-6.8 0 2.3 6.3 3.3 5.1zM1585.8 200.7l3.5-.7-6.8 0-3.5 .7zM1573.4 239l-3.3-5.1-2.2-6.3-6.8 0 2.2 6.3 3.3 5.1zM1574.5 200.7l3.6-.7-6.8 0-3.6 .7zM1562.2 239l-3.3-5.1-2.2-6.3-6.8 0 2.2 6.3 3.3 5.1zM1563.3 200.7l3.5-.7-6.8 0-3.5 .7z" fill="#838383" stroke="#838383" stroke-width="0.7" stroke-linejoin="round"/>
<path d="M1624.1 227.6l-1-6.9 .3-6.7 1.5-5.9 2.6-4.6 3.2-2.8-6.8 0-3.2 2.8-2.6 4.6-1.5 5.9-.3 6.7 1 6.9zM1612.8 227.6l-.9-6.9 .3-6.7 1.5-5.9 2.5-4.6 3.2-2.8-6.8 0-3.2 2.8-2.5 4.6-1.5 5.9-.3 6.7 .9 6.9zM1601.6 227.6l-1-6.9 .4-6.7 1.5-5.9 2.5-4.6 3.2-2.8-6.8 0-3.2 2.8-2.5 4.6-1.5 5.9-.4 6.7 1 6.9zM1590.4 227.6l-1-6.9 .3-6.7 1.5-5.9 2.6-4.6 3.2-2.8-6.8 0-3.2 2.8-2.6 4.6-1.5 5.9-.3 6.7 1 6.9zM1579.1 227.6l-.9-6.9 .3-6.7 1.5-5.9 2.5-4.6 3.3-2.8-6.8 0-3.3 2.8-2.5 4.6-1.5 5.9-.3 6.7 .9 6.9zM1567.9 227.6l-1-6.9 .4-6.7 1.5-5.9 2.5-4.6 3.2-2.8-6.8 0-3.2 2.8-2.5 4.6-1.5 5.9-.4 6.7 1 6.9zM1556.7 227.6l-1-6.9 .3-6.7 1.6-5.9 2.5-4.6 3.2-2.8-6.8 0-3.2 2.8-2.5 4.6-1.6 5.9-.3 6.7 1 6.9z" fill="#8c8c8c" stroke="#8c8c8c" stroke-width="0.7" stroke-linejoin="round"/>
<path d="M1627.1 244l-4.6-1.5-6.8 0 4.6 1.5zM1615.9 244l-4.6-1.5-6.8 0 4.6 1.5zM1604.6 244l-4.6-1.5-6.8 0 4.6 1.5zM1593.4 244l-4.6-1.5-6.8 0 4.6 1.5zM1582.2 244l-4.6-1.5-6.8 0 4.6 1.5zM1570.9 244l-4.6-1.5-6.8 0 4.6 1.5z" fill="#747474" stroke="#747474" stroke-width="0.7" stroke-linejoin="round"/>
<path d="M1622.5 242.5l-4.1-3.5-6.8 0 4.1 3.5zM1611.3 242.5l-4.2-3.5-6.8 0 4.2 3.5zM1600 242.5l-4.1-3.5-6.8 0 4.1 3.5zM1588.8 242.5l-4.1-3.5-6.8 0 4.1 3.5zM1577.6 242.5l-4.2-3.5-6.8 0 4.2 3.5zM1566.3 242.5l-4.1-3.5-6.8 0 4.1 3.5z" fill="#7c7c7c" stroke="#7c7c7c" stroke-width="0.7" stroke-linejoin="round"/>
<path d="M1626.3 233.9l-2.2-6.3-1-6.9 .3-6.7 1.5-5.9 2.6-4.6 3.2-2.8 3.5-.7M1619.5 233.9l-2.2-6.3-1-6.9 .3-6.7 1.5-5.9 2.6-4.6 3.2-2.8 3.5-.7M1627.1 244l-4.6-1.5-4.1-3.5-3.3-5.1-2.3-6.3-.9-6.9 .3-6.7 1.5-5.9 2.5-4.6 3.2-2.8 3.6-.7M1620.3 244l-4.6-1.5-4.1-3.5-3.3-5.1-2.3-6.3-.9-6.9 .3-6.7 1.5-5.9 2.5-4.6 3.2-2.8 3.6-.7M1615.9 244l-4.6-1.5-4.2-3.5-3.3-5.1-2.2-6.3-1-6.9 .4-6.7 1.5-5.9 2.5-4.6 3.2-2.8 3.6-.7M1609.1 244l-4.6-1.5-4.2-3.5-3.3-5.1-2.2-6.3-1-6.9 .4-6.7 1.5-5.9 2.5-4.6 3.2-2.8 3.6-.7M1604.6 244l-4.6-1.5-4.1-3.5-3.3-5.1-2.2-6.3-1-6.9 .3-6.7 1.5-5.9 2.6-4.6 3.2-2.8 3.5-.7M1597.8 244l-4.6-1.5-4.1-3.5-3.3-5.1-2.2-6.3-1-6.9 .3-6.7 1.5-5.9 2.6-4.6 3.2-2.8 3.5-.7M1593.4 244l-4.6-1.5-4.1-3.5-3.3-5.1-2.3-6.3-.9-6.9 .3-6.7 1.5-5.9 2.5-4.6 3.3-2.8 3.5-.7M1586.6 244l-4.6-1.5-4.1-3.5-3.3-5.1-2.3-6.3-.9-6.9 .3-6.7 1.5-5.9 2.5-4.6 3.3-2.8 3.5-.7M1582.2 244l-4.6-1.5-4.2-3.5-3.3-5.1-2.2-6.3-1-6.9 .4-6.7 1.5-5.9 2.5-4.6 3.2-2.8 3.6-.7M1575.4 244l-4.6-1.5-4.2-3.5-3.3-5.1-2.2-6.3-1-6.9 .4-6.7 1.5-5.9 2.5-4.6 3.2-2.8 3.6-.7M1570.9 244l-4.6-1.5-4.1-3.5-3.3-5.1-2.2-6.3-1-6.9 .3-6.7 1.6-5.9 2.5-4.6 3.2-2.8 3.5-.7M1564.1 244l-4.6-1.5-4.1-3.5-3.3-5.1-2.2-6.3-1-6.9 .3-6.7 1.6-5.9 2.5-4.6 3.2-2.8 3.5-.7" fill="none" stroke="#515151" stroke-width="0.9" stroke-opacity="0.8"/>
<path d="M1649 116.7l3.7-.6 4.4 1.6 4.5 3.7 4.1 5.4 3.4 6.6-6.5 3-3.3-6.6-4.2-5.4-4.5-3.7-4.3-1.6-3.7 .6zM1640.5 120.7l3.7-.6 4.4 1.6 4.5 3.7 4.1 5.4 3.4 6.6-6.5 3-3.3-6.6-4.2-5.4-4.5-3.7-4.3-1.6-3.7 .6zM1632 124.7l3.7-.6 4.4 1.6 4.5 3.7 4.1 5.4 3.4 6.6-6.5 3-3.3-6.6-4.2-5.4-4.5-3.7-4.3-1.6-3.7 .6zM1623.5 128.7l3.7-.6 4.4 1.6 4.5 3.7 4.1 5.4 3.4 6.6-6.5 3-3.3-6.6-4.2-5.4-4.5-3.7-4.3-1.6-3.7 .6z" fill="#dadada" stroke="#dadada" stroke-width="0.7" stroke-linejoin="round"/>
<path d="M1669.1 133.4l2.2 7.1 .8 7.1-.8 6.3-2.2 4.9-3.6 3.1-6.4 3 3.6-3 2.2-5 .7-6.3-.8-7-2.2-7.2zM1660.6 137.4l2.2 7.1 .8 7.1-.8 6.3-2.2 4.9-3.6 3.1-6.4 3 3.6-3 2.2-5 .7-6.3-.8-7-2.2-7.2zM1652.1 141.4l2.2 7.1 .8 7.1-.8 6.3-2.2 4.9-3.6 3.1-6.4 3 3.6-3 2.2-5 .7-6.3-.8-7-2.2-7.2zM1643.6 145.4l2.2 7.1 .8 7.1-.8 6.3-2.2 4.9-3.6 3.1-6.4 3 3.6-3 2.2-5 .7-6.3-.8-7-2.2-7.2z" fill="#eeeeee" stroke="#eeeeee" stroke-width="0.7" stroke-linejoin="round"/>
<path d="M1669.4 158.9l-5.1-1.2-6.5 3 5.2 1.2zM1660.9 162.9l-5.1-1.2-6.5 3 5.2 1.2zM1652.4 166.9l-5.1-1.2-6.5 3 5.2 1.2zM1643.9 170.9l-5.1-1.2-6.5 3 5.2 1.2z" fill="#c8c8c8" stroke="#c8c8c8" stroke-width="0.7" stroke-linejoin="round"/>
<path d="M1664.3 157.7l-5.4-3.3-5-5-6.4 3 5 5 5.3 3.3zM1646.3 119.3l2.7-2.6-6.4 3-2.7 2.7zM1655.8 161.7l-5.4-3.3-5-5-6.4 3 5 5 5.3 3.3zM1637.8 123.3l2.7-2.6-6.4 3-2.7 2.7zM1647.3 165.7l-5.4-3.3-5-5-6.4 3 5 5 5.3 3.3zM1629.3 127.3l2.7-2.6-6.4 3-2.7 2.7zM1638.8 169.7l-5.4-3.3-5-5-6.4 3 5 5 5.3 3.3zM1620.8 131.3l2.7-2.6-6.4 3-2.7 2.7z" fill="#d7d7d7" stroke="#d7d7d7" stroke-width="0.7" stroke-linejoin="round"/>
<path d="M1653.9 149.4l-4.2-6.2-3-6.8-1.7-6.6-.1-5.9 1.4-4.6-6.4 3.1-1.4 4.5 .1 5.9 1.6 6.7 3.1 6.7 4.2 6.2zM1645.4 153.4l-4.2-6.2-3-6.8-1.7-6.6-.1-5.9 1.4-4.6-6.4 3.1-1.4 4.5 .1 5.9 1.6 6.7 3.1 6.7 4.2 6.2zM1636.9 157.4l-4.2-6.2-3-6.8-1.7-6.6-.1-5.9 1.4-4.6-6.4 3.1-1.4 4.5 .1 5.9 1.6 6.7 3.1 6.7 4.2 6.2zM1628.4 161.4l-4.2-6.2-3-6.8-1.7-6.6-.1-5.9 1.4-4.6-6.4 3.1-1.4 4.5 .1 5.9 1.6 6.7 3.1 6.7 4.2 6.2z" fill="#dfdfdf" stroke="#dfdfdf" stroke-width="0.7" stroke-linejoin="round"/>
<path d="M1665.5 161.9l-4.6 1-6.4 3 4.6-1zM1657 165.9l-4.6 1-6.4 3 4.6-1zM1648.5 169.9l-4.6 1-6.4 3 4.6-1zM1640 173.9l-4.6 1-6.4 3 4.6-1z" fill="#bababa" stroke="#bababa" stroke-width="0.7" stroke-linejoin="round"/>
<path d="M1669.4 158.9l-5.1-1.2-5.4-3.3-5-5-4.2-6.2-3-6.8-1.7-6.6-.1-5.9 1.4-4.6 2.7-2.6M1663 161.9l-5.2-1.2-5.3-3.3-5-5-4.2-6.2-3.1-6.7-1.6-6.7-.1-5.9 1.4-4.5 2.7-2.7M1665.5 161.9l-4.6 1-5.1-1.2-5.4-3.3-5-5-4.2-6.2-3-6.8-1.7-6.6-.1-5.9 1.4-4.6 2.7-2.6M1659.1 164.9l-4.6 1-5.2-1.2-5.3-3.3-5-5-4.2-6.2-3.1-6.7-1.6-6.7-.1-5.9 1.4-4.5 2.7-2.7M1657 165.9l-4.6 1-5.1-1.2-5.4-3.3-5-5-4.2-6.2-3-6.8-1.7-6.6-.1-5.9 1.4-4.6 2.7-2.6M1650.6 168.9l-4.6 1-5.2-1.2-5.3-3.3-5-5-4.2-6.2-3.1-6.7-1.6-6.7-.1-5.9 1.4-4.5 2.7-2.7M1648.5 169.9l-4.6 1-5.1-1.2-5.4-3.3-5-5-4.2-6.2-3-6.8-1.7-6.6-.1-5.9 1.4-4.6 2.7-2.6M1642.1 172.9l-4.6 1-5.2-1.2-5.3-3.3-5-5-4.2-6.2-3.1-6.7-1.6-6.7-.1-5.9 1.4-4.5 2.7-2.7M1640 173.9l-4.6 1M1633.6 176.9l-4.6 1" fill="none" stroke="#858585" stroke-width="0.9" stroke-opacity="0.8"/>
<path d="M1522.7 108.4l.7-3.3 3-3.2 5-2.7 6.4-2.1 7.4-1 .8 6-7.3 1-6.5 2.1-5 2.7-3 3.2-.7 3.3zM1524.4 120.4l.7-3.3 3-3.2 4.9-2.7 6.5-2.1 7.4-1 .8 6-7.3 1-6.5 2.1-5 2.7-3 3.2-.7 3.3zM1526 132.4l.8-3.3 3-3.2 4.9-2.7 6.5-2.1 7.4-1 .8 6-7.3 1-6.5 2.1-5 2.7-3 3.2-.7 3.3zM1527.7 144.4l.8-3.3 3-3.2 4.9-2.7 6.5-2.1 7.3-1 .9 6-7.4 1-6.4 2.1-5 2.7-3 3.2-.7 3.3zM1529.4 156.4l.8-3.3 3-3.2 4.9-2.7 6.5-2.1 7.3-1 .9 6-7.4 1-6.4 2.1-5 2.7-3 3.2-.7 3.3zM1531.1 168.4l.7-3.3 3-3.2 5-2.7 6.5-2.1 7.3-1 .9 6-7.4 1-6.4 2.1-5 2.7-3 3.2-.7 3.3z" fill="#dab0da" stroke="#dab0da" stroke-width="0.7" stroke-linejoin="round"/>
<path d="M1545.2 96.1l7.5 .2 6.9 1.3 5.7 2.5 4 3.4 1.7 4.1 .9 6-1.8-4.1-3.9-3.4-5.7-2.5-7-1.3-7.5-.2zM1546.9 108.1l7.5 .2 6.9 1.3 5.7 2.5 4 3.4 1.7 4.1 .9 6-1.8-4.1-3.9-3.4-5.7-2.5-7-1.3-7.5-.2zM1548.6 120.1l7.5 .2 6.9 1.3 5.7 2.5 4 3.4 1.7 4.1 .9 6-1.8-4.1-3.9-3.4-5.7-2.5-7-1.3-7.5-.2zM1550.2 132.1l7.6 .2 6.9 1.3 5.7 2.5 3.9 3.4 1.8 4.1 .9 6-1.8-4.1-3.9-3.4-5.7-2.5-7-1.3-7.5-.2zM1551.9 144.1l7.5 .2 7 1.3 5.7 2.5 3.9 3.4 1.8 4.1 .8 6-1.7-4.1-3.9-3.4-5.8-2.5-6.9-1.3-7.5-.2zM1553.6 156.1l7.5 .2 7 1.3 5.7 2.5 3.9 3.4 1.8 4.1 .8 6-1.7-4.1-4-3.4-5.7-2.5-6.9-1.3-7.5-.2z" fill="#eebeee" stroke="#eebeee" stroke-width="0.7" stroke-linejoin="round"/>
<path d="M1569.3 95.6l-.5 4.5 .8 6 .6-4.5zM1571 107.6l-.5 4.5 .8 6 .6-4.5zM1572.7 119.6l-.5 4.5 .8 6 .6-4.5zM1574.4 131.6l-.5 4.5 .8 6 .6-4.5zM1576.1 143.6l-.5 4.5 .8 6 .6-4.5zM1577.8 155.6l-.6 4.5 .9 6 .5-4.5zM1579.5 167.6l-.6 4.5 .9 6 .5-4.5z" fill="#d464d4" stroke="#d464d4" stroke-width="0.7" stroke-linejoin="round"/>
<path d="M1568.8 100.1l-2.8 4.4 .8 6 2.8-4.4zM1570.5 112.1l-2.9 4.4 .9 6 2.8-4.4zM1572.2 124.1l-2.9 4.4 .9 6 2.8-4.4zM1573.9 136.1l-2.9 4.4 .9 6 2.8-4.4zM1575.6 148.1l-2.9 4.4 .9 6 2.8-4.4zM1577.2 160.1l-2.8 4.4 .9 6 2.8-4.4zM1578.9 172.1l-2.8 4.4 .9 6 2.8-4.4z" fill="#e56ae5" stroke="#e56ae5" stroke-width="0.7" stroke-linejoin="round"/>
<path d="M1566 104.5l-4.8 3.9-6.3 3.3 .8 6 6.3-3.3 4.8-3.9zM1524.3 111.3l-1.6-2.9 .8 6 1.6 2.9zM1567.6 116.5l-4.8 3.9-6.3 3.3 .9 6 6.3-3.3 4.8-3.9zM1525.9 123.3l-1.5-2.9 .8 6 1.6 2.9zM1569.3 128.5l-4.8 3.9-6.3 3.3 .9 6 6.3-3.3 4.8-3.9zM1527.6 135.3l-1.6-2.9 .9 6 1.6 2.9zM1571 140.5l-4.8 3.9-6.3 3.3 .9 6 6.3-3.3 4.8-3.9zM1529.3 147.3l-1.6-2.9 .9 6 1.6 2.9zM1572.7 152.5l-4.8 3.9-6.3 3.3 .9 6 6.3-3.3 4.8-3.9zM1531 159.3l-1.6-2.9 .9 6 1.6 2.9zM1574.4 164.5l-4.8 3.9-6.3 3.3 .9 6 6.3-3.3 4.8-3.9zM1532.7 171.3l-1.6-2.9 .9 6 1.6 2.9zM1576.1 176.5l-4.8 3.9-6.3 3.3 .9 6 6.3-3.3 4.8-3.9zM1534.4 183.3l-1.6-2.9 .9 6 1.6 2.9z" fill="#f670f6" stroke="#f670f6" stroke-width="0.7" stroke-linejoin="round"/>
<path d="M1554.9 111.7l-7.2 2.2-7.4 1-6.7-.1-5.6-1.3-3.7-2.2 .8 6 3.8 2.2 5.5 1.3 6.8 .1 7.3-1 7.2-2.2zM1556.5 123.7l-7.1 2.2-7.4 1-6.8-.1-5.5-1.3-3.8-2.2 .9 6 3.8 2.2 5.5 1.3 6.8 .1 7.3-1 7.2-2.2zM1558.2 135.7l-7.1 2.2-7.4 1-6.8-.1-5.5-1.3-3.8-2.2 .9 6 3.7 2.2 5.6 1.3 6.8 .1 7.3-1 7.2-2.2zM1559.9 147.7l-7.1 2.2-7.4 1-6.8-.1-5.5-1.3-3.8-2.2 .9 6 3.7 2.2 5.6 1.3 6.8 .1 7.3-1 7.2-2.2zM1561.6 159.7l-7.2 2.2-7.3 1-6.8-.1-5.5-1.3-3.8-2.2 .9 6 3.7 2.2 5.6 1.3 6.8 .1 7.3-1 7.2-2.2zM1563.3 171.7l-7.2 2.2-7.3 1-6.8-.1-5.5-1.3-3.8-2.2 .9 6 3.7 2.2 5.6 1.3 6.7 .1 7.4-1 7.2-2.2zM1565 183.7l-7.2 2.2-7.3 1-6.8-.1-5.5-1.3-3.8-2.2 .9 6 3.7 2.2 5.6 1.3 6.7 .1 7.4-1 7.2-2.2z" fill="#ff79ff" stroke="#ff79ff" stroke-width="0.7" stroke-linejoin="round"/>
<path d="M1569.3 95.6l-.5 4.5-2.8 4.4-4.8 3.9-6.3 3.3-7.2 2.2-7.4 1-6.7-.1-5.6-1.3-3.7-2.2-1.6-2.9M1570.2 101.6l-.6 4.5-2.8 4.4-4.8 3.9-6.3 3.3-7.2 2.2-7.3 1-6.8-.1-5.5-1.3-3.8-2.2-1.6-2.9M1571 107.6l-.5 4.5-2.9 4.4-4.8 3.9-6.3 3.3-7.1 2.2-7.4 1-6.8-.1-5.5-1.3-3.8-2.2-1.5-2.9M1571.9 113.6l-.6 4.5-2.8 4.4-4.8 3.9-6.3 3.3-7.2 2.2-7.3 1-6.8-.1-5.5-1.3-3.8-2.2-1.6-2.9M1572.7 119.6l-.5 4.5-2.9 4.4-4.8 3.9-6.3 3.3-7.1 2.2-7.4 1-6.8-.1-5.5-1.3-3.8-2.2-1.6-2.9M1573.6 125.6l-.6 4.5-2.8 4.4-4.8 3.9-6.3 3.3-7.2 2.2-7.3 1-6.8-.1-5.6-1.3-3.7-2.2-1.6-2.9M1574.4 131.6l-.5 4.5-2.9 4.4-4.8 3.9-6.3 3.3-7.1 2.2-7.4 1-6.8-.1-5.5-1.3-3.8-2.2-1.6-2.9M1575.3 137.6l-.6 4.5-2.8 4.4-4.8 3.9-6.3 3.3-7.2 2.2-7.3 1-6.8-.1-5.6-1.3-3.7-2.2-1.6-2.9M1576.1 143.6l-.5 4.5-2.9 4.4-4.8 3.9-6.3 3.3-7.2 2.2-7.3 1-6.8-.1-5.5-1.3-3.8-2.2-1.6-2.9M1577 149.6l-.6 4.5-2.8 4.4-4.8 3.9-6.3 3.3-7.2 2.2-7.3 1-6.8-.1-5.6-1.3-3.7-2.2-1.6-2.9M1577.8 155.6l-.6 4.5-2.8 4.4-4.8 3.9-6.3 3.3-7.2 2.2-7.3 1-6.8-.1-5.5-1.3-3.8-2.2-1.6-2.9M1578.6 161.6l-.5 4.5-2.8 4.4-4.8 3.9-6.3 3.3-7.2 2.2-7.4 1-6.7-.1-5.6-1.3-3.7-2.2-1.6-2.9M1579.5 167.6l-.6 4.5-2.8 4.4-4.8 3.9-6.3 3.3-7.2 2.2-7.3 1-6.8-.1-5.5-1.3-3.8-2.2-1.6-2.9M1580.3 173.6l-.5 4.5-2.8 4.4-4.8 3.9-6.3 3.3-7.2 2.2-7.4 1-6.7-.1-5.6-1.3-3.7-2.2-1.6-2.9" fill="none" stroke="#994599" stroke-width="0.9" stroke-opacity="0.8"/>
<path d="M1662 147.5l2.1-3.4 4.2-2.6 6-1.7 7.3-.5 7.7 .9-.5 7.1-7.7-.9-7.3 .5-6 1.6-4.2 2.7-2.1 3.4zM1661 161.8l2.1-3.3 4.2-2.7 6-1.7 7.3-.4 7.7 .9-.5 7-7.7-.9-7.3 .5-6 1.7-4.2 2.7-2.1 3.3zM1660 176.1l2.1-3.3 4.2-2.7 6-1.7 7.3-.4 7.7 .9-.5 7.1-7.7-.9-7.3 .4-6 1.7-4.2 2.7-2.1 3.3zM1659 190.5l2.1-3.4 4.2-2.6 6-1.7 7.3-.5 7.7 .9-.5 7.1-7.7-.9-7.3 .5-6 1.6-4.2 2.7-2.1 3.4zM1658 204.8l2.1-3.3 4.2-2.7 6-1.7 7.3-.4 7.7 .9-.5 7-7.7-.9-7.3 .5-6 1.7-4.2 2.7-2.1 3.3zM1657 219.1l2.1-3.3 4.2-2.7 6-1.7 7.3-.4 7.7 .9-.5 7.1-7.7-.9-7.3 .4-6 1.7-4.2 2.7-2.1 3.3z" fill="#bdd5bd" stroke="#bdd5bd" stroke-width="0.7" stroke-linejoin="round"/>
<path d="M1689.3 140.2l7.5 2.2 6.5 3.4 4.8 4.4 2.7 4.8 .4 5.1-.5 7.1-.4-5.1-2.7-4.9-4.8-4.3-6.5-3.4-7.5-2.2zM1688.3 154.6l7.5 2.2 6.5 3.4 4.8 4.3 2.7 4.9 .4 5-.5 7.1-.4-5-2.7-4.9-4.8-4.3-6.5-3.4-7.5-2.3zM1687.3 168.9l7.5 2.2 6.5 3.4 4.8 4.3 2.7 4.9 .4 5-.5 7.1-.4-5-2.7-4.9-4.8-4.3-6.5-3.4-7.5-2.2zM1686.3 183.2l7.5 2.2 6.5 3.4 4.8 4.4 2.7 4.8 .4 5.1-.5 7.1-.4-5.1-2.7-4.9-4.8-4.3-6.5-3.4-7.5-2.2zM1685.3 197.6l7.5 2.2 6.5 3.4 4.8 4.3 2.7 4.9 .4 5-.5 7.1-.4-5-2.7-4.9-4.8-4.3-6.5-3.4-7.5-2.3zM1684.3 211.9l7.5 2.2 6.5 3.4 4.8 4.3 2.7 4.9 .4 5-.5 7.1-.4-5-2.7-4.9-4.8-4.3-6.5-3.4-7.5-2.2z" fill="#cde8cd" stroke="#cde8cd" stroke-width="0.7" stroke-linejoin="round"/>
<path d="M1705.7 154.6l-6.1 3.1-7.4 1.9-.5 7.1 7.4-1.9 6.1-3.1zM1662.5 151.1l-.5-3.6-.5 7.1 .5 3.6zM1704.7 169l-6.1 3.1-7.4 1.9-.5 7 7.4-1.8 6.1-3.2zM1661.5 165.4l-.5-3.6-.5 7.1 .5 3.6zM1703.7 183.3l-6.1 3.1-7.4 1.9-.5 7.1 7.4-1.9 6.1-3.1zM1660.5 179.7l-.5-3.6-.5 7.1 .5 3.6zM1702.7 197.6l-6.1 3.1-7.4 1.9-.5 7.1 7.4-1.9 6.1-3.1zM1659.5 194.1l-.5-3.6-.5 7.1 .5 3.6zM1701.7 212l-6.1 3.1-7.4 1.9-.5 7 7.4-1.8 6.1-3.2zM1658.5 208.4l-.5-3.6-.5 7.1 .5 3.6zM1700.7 226.3l-6.1 3.1-7.4 1.9-.5 7.1 7.4-1.9 6.1-3.1zM1657.5 222.7l-.5-3.6-.5 7.1 .5 3.6z" fill="#75e675" stroke="#75e675" stroke-width="0.7" stroke-linejoin="round"/>
<path d="M1692.2 159.6l-7.8 .6-7.6-.8-6.6-2-4.9-2.9-2.8-3.4-.5 7.1 2.8 3.4 4.9 2.9 6.6 2 7.6 .7 7.8-.5zM1691.2 174l-7.8 .5-7.6-.8-6.6-2-4.9-2.8-2.8-3.5-.5 7.1 2.8 3.4 4.9 2.9 6.6 2 7.6 .8 7.8-.6zM1690.2 188.3l-7.8 .5-7.6-.8-6.6-1.9-4.9-2.9-2.8-3.5-.5 7.1 2.8 3.5 4.9 2.9 6.6 1.9 7.6 .8 7.8-.5zM1689.2 202.6l-7.8 .6-7.6-.8-6.6-2-4.9-2.9-2.8-3.4-.5 7.1 2.8 3.4 4.9 2.9 6.6 2 7.6 .7 7.8-.5zM1688.2 217l-7.8 .5-7.6-.8-6.6-2-4.9-2.8-2.8-3.5-.5 7.1 2.8 3.4 4.9 2.9 6.6 2 7.6 .8 7.8-.6zM1687.2 231.3l-7.8 .5-7.6-.8-6.6-1.9-4.9-2.9-2.8-3.5-.5 7.1 2.8 3.5 4.9 2.9 6.6 1.9 7.6 .8 7.8-.5z" fill="#7def7d" stroke="#7def7d" stroke-width="0.7" stroke-linejoin="round"/>
<path d="M1711.2 160.1l-2.2 4.7-.5 7.1 2.2-4.7zM1710.2 174.4l-2.2 4.8-.5 7.1 2.2-4.8zM1709.2 188.7l-2.2 4.8-.5 7.1 2.2-4.8zM1708.2 203.1l-2.2 4.7-.5 7.1 2.2-4.7zM1707.2 217.4l-2.2 4.8-.5 7.1 2.2-4.8zM1706.2 231.7l-2.2 4.8-.5 7.1 2.2-4.8z" fill="#68c668" stroke="#68c668" stroke-width="0.7" stroke-linejoin="round"/>
<path d="M1709 164.8l-4.3 4.2-.5 7 4.3-4.1zM1708 179.2l-4.3 4.1-.5 7.1 4.3-4.1zM1707 193.5l-4.3 4.1-.5 7.1 4.3-4.1zM1706 207.8l-4.3 4.2-.5 7 4.3-4.1zM1705 222.2l-4.3 4.1-.5 7.1 4.3-4.1zM1704 236.5l-4.3 4.1-.5 7.1 4.3-4.1z" fill="#6ed66e" stroke="#6ed66e" stroke-width="0.7" stroke-linejoin="round"/>
<path d="M1705.7 154.6l-6.1 3.1-7.4 1.9-7.8 .6-7.6-.8-6.6-2-4.9-2.9-2.8-3.4-.5-3.6M1705.2 161.7l-6.1 3.1-7.4 1.9-7.8 .5-7.6-.7-6.6-2-4.9-2.9-2.8-3.4-.5-3.6M1711.2 160.1l-2.2 4.7-4.3 4.2-6.1 3.1-7.4 1.9-7.8 .5-7.6-.8-6.6-2-4.9-2.8-2.8-3.5-.5-3.6M1710.7 167.2l-2.2 4.7-4.3 4.1-6.1 3.2-7.4 1.8-7.8 .6-7.6-.8-6.6-2-4.9-2.9-2.8-3.4-.5-3.6M1710.2 174.4l-2.2 4.8-4.3 4.1-6.1 3.1-7.4 1.9-7.8 .5-7.6-.8-6.6-1.9-4.9-2.9-2.8-3.5-.5-3.6M1709.7 181.5l-2.2 4.8-4.3 4.1-6.1 3.1-7.4 1.9-7.8 .5-7.6-.8-6.6-1.9-4.9-2.9-2.8-3.5-.5-3.6M1709.2 188.7l-2.2 4.8-4.3 4.1-6.1 3.1-7.4 1.9-7.8 .6-7.6-.8-6.6-2-4.9-2.9-2.8-3.4-.5-3.6M1708.7 195.8l-2.2 4.8-4.3 4.1-6.1 3.1-7.4 1.9-7.8 .5-7.6-.7-6.6-2-4.9-2.9-2.8-3.4-.5-3.6M1708.2 203.1l-2.2 4.7-4.3 4.2-6.1 3.1-7.4 1.9-7.8 .5-7.6-.8-6.6-2-4.9-2.8-2.8-3.5-.5-3.6M1707.7 210.2l-2.2 4.7-4.3 4.1-6.1 3.2-7.4 1.8-7.8 .6-7.6-.8-6.6-2-4.9-2.9-2.8-3.4-.5-3.6M1707.2 217.4l-2.2 4.8-4.3 4.1-6.1 3.1-7.4 1.9-7.8 .5-7.6-.8-6.6-1.9-4.9-2.9-2.8-3.5-.5-3.6M1706.7 224.5l-2.2 4.8-4.3 4.1-6.1 3.1-7.4 1.9-7.8 .5-7.6-.8-6.6-1.9-4.9-2.9-2.8-3.5-.5-3.6M1706.2 231.7l-2.2 4.8-4.3 4.1M1705.7 238.8l-2.2 4.8-4.3 4.1" fill="none" stroke="#488f48" stroke-width="0.9" stroke-opacity="0.8"/>
<polyline points="1700,12 1690,25 1680,40 1662,45 1650,58 1640,62 1632,80 1634,92 1626,98 1622,110 1610,115 1603,120" fill="none" stroke="#c89a20" stroke-width="4.4" stroke-linecap="round" stroke-linejoin="round"/><polyline points="1700,12 1690,25 1680,40 1662,45 1650,58 1640,62 1632,80 1634,92 1626,98 1622,110 1610,115 1603,120" fill="none" stroke="#f8c83c" stroke-width="3.6" stroke-linecap="round" stroke-linejoin="round"/>
<polyline points="1636,210 1650,235 1660,250 1675,258 1678,275 1672,284" fill="none" stroke="#c89a20" stroke-width="4.4" stroke-linecap="round" stroke-linejoin="round"/><polyline points="1636,210 1650,235 1660,250 1675,258 1678,275 1672,284" fill="none" stroke="#f8c83c" stroke-width="3.6" stroke-linecap="round" stroke-linejoin="round"/>
<polyline points="1615,266 1625,275 1645,280 1660,286 1675,286" fill="none" stroke="#c89a20" stroke-width="4.4" stroke-linecap="round" stroke-linejoin="round"/><polyline points="1615,266 1625,275 1645,280 1660,286 1675,286" fill="none" stroke="#f8c83c" stroke-width="3.6" stroke-linecap="round" stroke-linejoin="round"/>
<polyline points="1700,22 1710,18 1716,28" fill="none" stroke="#ee3030" stroke-width="3" stroke-linecap="round" stroke-linejoin="round"/>
<polyline points="1485,205 1497,200 1492,195 1505,190 1520,185" fill="none" stroke="#f07a12" stroke-width="3.6" stroke-linecap="round" stroke-linejoin="round"/>
<polyline points="1463,200 1475,215 1470,225 1485,230" fill="none" stroke="#f07a12" stroke-width="3.2" stroke-linecap="round" stroke-linejoin="round"/>
<polyline points="1586,133 1581,138.2 1571,138.2 1566,133 1571,127.8 1581,127.8 1586,133" fill="none" stroke="#ee22ee" stroke-width="2.6" stroke-linecap="round" stroke-linejoin="round"/>
<polyline points="1548,214.8 1540.4,220.5 1533.3,216.7 1534,207.2 1541.6,201.5 1548.7,205.3 1548,214.8" fill="none" stroke="#ee22ee" stroke-width="2.6" stroke-linecap="round" stroke-linejoin="round"/>
<polyline points="1608.6,120.7 1602.5,125.1 1593.9,122.5 1591.4,115.3 1597.5,110.9 1606.1,113.5 1608.6,120.7" fill="none" stroke="#aaa" stroke-width="3.8" stroke-linecap="round" stroke-linejoin="round"/><polyline points="1608.6,120.7 1602.5,125.1 1593.9,122.5 1591.4,115.3 1597.5,110.9 1606.1,113.5 1608.6,120.7" fill="none" stroke="#ddd" stroke-width="2.2" stroke-linecap="round" stroke-linejoin="round"/>
<polyline points="1654,207 1649,212.2 1639,212.2 1634,207 1639,201.8 1649,201.8 1654,207" fill="none" stroke="#444" stroke-width="4" stroke-linecap="round" stroke-linejoin="round"/><polyline points="1654,207 1649,212.2 1639,212.2 1634,207 1639,201.8 1649,201.8 1654,207" fill="none" stroke="#666" stroke-width="2.4" stroke-linecap="round" stroke-linejoin="round"/>
</g>
<rect x="1443.6" y="9.1" width="272.8" height="305.3" fill="none" stroke="#111" stroke-width="2.2"/>
<text x="1490.9" y="76" font-size="19.5" font-weight="bold" fill="#606060" stroke="#606060" stroke-width="0.7" stroke-linejoin="round" textLength="41" lengthAdjust="spacingAndGlyphs">SSP</text><text x="1532.4" y="80" font-size="13" font-weight="bold" fill="#606060" stroke="#606060" stroke-width="0.7" stroke-linejoin="round">B</text>
<text x="1643" y="86.5" font-size="19.5" font-weight="bold" fill="#ecc640" stroke="#5a4a10" stroke-width="2.4" paint-order="stroke" stroke-linejoin="round" textLength="61.5" lengthAdjust="spacingAndGlyphs">POPC</text>
<text x="1467.9" y="140.2" font-size="19.5" font-weight="bold" fill="#ff22ff" stroke="#ff22ff" stroke-width="0.7" stroke-linejoin="round" textLength="41" lengthAdjust="spacingAndGlyphs">GP2</text><text x="1509.4" y="144.2" font-size="13" font-weight="bold" fill="#ff22ff" stroke="#ff22ff" stroke-width="0.7" stroke-linejoin="round">A</text>
<text x="1658.5" y="133.5" font-size="19.5" font-weight="bold" fill="#22cc22" stroke="#22cc22" stroke-width="0.7" stroke-linejoin="round" textLength="40" lengthAdjust="spacingAndGlyphs">SSP</text><text x="1699" y="137.5" font-size="13" font-weight="bold" fill="#22cc22" stroke="#22cc22" stroke-width="0.7" stroke-linejoin="round">A</text>
<text x="1479.4" y="184.2" font-size="19.5" font-weight="bold" fill="#f07010" stroke="#6a2a00" stroke-width="2.4" paint-order="stroke" stroke-linejoin="round" textLength="46" lengthAdjust="spacingAndGlyphs">PSM</text>
<text x="1581.8" y="185.2" font-size="19.5" font-weight="bold" fill="#c8c8c8" stroke="#c8c8c8" stroke-width="0.7" stroke-linejoin="round" textLength="44" lengthAdjust="spacingAndGlyphs">GP2</text><text x="1626.3" y="189.2" font-size="13" font-weight="bold" fill="#c8c8c8" stroke="#c8c8c8" stroke-width="0.7" stroke-linejoin="round">C</text>
<text x="1603" y="263.7" font-size="19.5" font-weight="bold" fill="#666" stroke="#666" stroke-width="0.7" stroke-linejoin="round" textLength="42" lengthAdjust="spacingAndGlyphs">GP2</text><text x="1645.5" y="267.7" font-size="13" font-weight="bold" fill="#666" stroke="#666" stroke-width="0.7" stroke-linejoin="round">B</text>
<text x="1488" y="292.5" font-size="19.5" font-weight="bold" fill="#c8c8c8" stroke="#c8c8c8" stroke-width="0.7" stroke-linejoin="round" textLength="41" lengthAdjust="spacingAndGlyphs">SSP</text><text x="1529.5" y="296.5" font-size="13" font-weight="bold" fill="#c8c8c8" stroke="#c8c8c8" stroke-width="0.7" stroke-linejoin="round">C</text>
<text x="1612.5" y="311.6" font-size="19.5" font-weight="bold" fill="#ecc640" stroke="#5a4a10" stroke-width="2.4" paint-order="stroke" stroke-linejoin="round" textLength="62.3" lengthAdjust="spacingAndGlyphs">POPC</text>
<g clip-path="url(#ce)">
<path d="M1810.5 .8l1.3-2.3 6.1-2.1 10.5-1.3 14-.2 16.3 1.2 17.3 3 1.7 41-17.4-2.9-16.3-1.3-13.9 .2-10.5 1.4-6.2 2-1.3 2.3zM1813.7 86.7l2.3-2.2 7-2 11.2-1.2 14.4 0 16.6 1.6 1.7 41-16.6-1.5-14.5-.1-11.2 1.2-7 2-2.2 2.2zM1817.2 172.7l3.1-2.3 7.8-1.8 11.9-1 14.9 .3 16.9 1.8 1.6 41.1-16.8-1.9-15-.3-11.9 1-7.8 1.8-3.1 2.3zM1820.8 258.6l4-2.2 8.6-1.7 12.5-.8 15.4 .5 17.1 2.2 1.6 41-17.1-2.1-15.4-.6-12.5 .8-8.6 1.7-4 2.2z" fill="#a0a0a0" stroke="#a0a0a0" stroke-width="0.7" stroke-linejoin="round"/>
<path d="M1876 -.9l17 4.8 15.1 6.5 12.2 8 8.1 9.2 3.5 9.9 1.6 41-3.5-9.9-8.1-9.2-12.2-8-15.1-6.5-16.9-4.8zM1865.2 82.9l17.4 3.3 16.7 5.1 14.7 6.8 11.5 8.2 7.3 9.4 2.6 10 1.6 41-2.6-10-7.3-9.4-11.5-8.2-14.7-6.8-16.7-5.1-17.3-3.3zM1871.8 169.7l17.3 3.7 16.5 5.4 14.2 7 10.7 8.5 6.5 9.5 1.7 10.1 1.6 41-1.7-10.1-6.4-9.5-10.8-8.4-14.2-7.1-16.4-5.4-17.4-3.6zM1878.4 256.6l17.2 4 16.2 5.7 13.6 7.4 10.1 8.6 5.6 9.7 .8 10.1 1.6 41-.8-10.1-5.6-9.6-10.1-8.7-13.6-7.4-16.1-5.7-17.3-4z" fill="#acacac" stroke="#acacac" stroke-width="0.7" stroke-linejoin="round"/>
<path d="M1927.6 -40.5l-5.4 10-9.8 9.3 1.6 41.1 9.8-9.4 5.4-10zM1930.4 47.7l-6.3 9.9-10.5 9.2 1.6 41 10.6-9.2 6.2-9.9zM1933 135.9l-7.1 9.8-11.2 9 1.6 41 11.2-9 7.1-9.8zM1935.5 224.1l-7.9 9.7 1.6 41 7.9-9.7zM1941.9 302.1l-4.1 10.1-8.7 9.6 1.6 41 8.7-9.5 4.1-10.2z" fill="#808080" stroke="#808080" stroke-width="0.7" stroke-linejoin="round"/>
<path d="M1912.4 -21.2l-13.4 8.3-15.8 6.8 1.6 41 15.8-6.8 13.4-8.2zM1814.1 2.7l-3.6-1.9 1.6 41 3.6 2zM1913.6 66.8l-13.9 8-16.2 6.5 1.6 41 16.2-6.5 13.9-8zM1816.5 88.8l-2.8-2.1 1.7 41 2.7 2.1zM1914.7 154.7l-14.4 7.8-16.4 6.2 1.6 41 16.4-6.2 14.4-7.8zM1819 174.8l-1.8-2.1 1.6 41 1.8 2.1zM1927.6 233.8l-11.9 8.8-14.9 7.5 1.6 41 14.9-7.5 11.9-8.8zM1827.5 262.5l-5.8-1.7-.9-2.2 1.6 41 .9 2.2 5.8 1.7zM1929.1 321.8l-12.5 8.6-15.3 7.2 1.6 41.1 15.3-7.3 12.5-8.6z" fill="#898989" stroke="#898989" stroke-width="0.7" stroke-linejoin="round"/>
<path d="M1883.2 -6.1l-17 5.1-16.7 3.3-15.1 1.6-12.1 0-8.2-1.2 1.6 41.1 8.2 1.1 12.1 0 15.1-1.6 16.7-3.3 17-5.1zM1883.5 81.3l-17 4.8-16.5 3-14.6 1.2-11.5-.2-7.4-1.3 1.6 41 7.4 1.4 11.5 .2 14.6-1.3 16.5-3 17-4.8zM1883.9 168.7l-17.1 4.4-16.2 2.7-14.2 1-10.8-.5-6.6-1.5 1.6 41 6.6 1.5 10.8 .5 14.2-1 16.2-2.7 17.1-4.4zM1900.8 250.1l-16.6 5.9-17 4.1-16 2.3-13.6 .8-10.1-.7 1.6 41 10.1 .7 13.6-.7 16-2.4 17-4.1 16.6-5.9zM1901.3 337.6l-16.8 5.6-16.9 3.8-15.7 2.1-13 .4-9.4-.9 1.6 41 9.4 .9 13-.4 15.7-2.1 16.9-3.8 16.8-5.5z" fill="#929292" stroke="#929292" stroke-width="0.7" stroke-linejoin="round"/>
<path d="M1931.9 37.5l-1.5 10.2 1.6 41 1.5-10.2zM1935.4 125.7l-2.4 10.2 1.6 41 2.4-10.2zM1938.7 213.9l-3.2 10.2 1.6 41 3.2-10.2z" fill="#787878" stroke="#787878" stroke-width="0.7" stroke-linejoin="round"/>
<path d="M1927.6 -40.5l-5.4 10-9.8 9.3-13.4 8.3-15.8 6.8-17 5.1-16.7 3.3-15.1 1.6-12.1 0-8.2-1.2-3.6-1.9M1929.2 .5l-5.4 10-9.8 9.4-13.4 8.2-15.8 6.8-17 5.1-16.7 3.3-15.1 1.6-12.1 0-8.2-1.1-3.6-2M1931.9 37.5l-1.5 10.2-6.3 9.9-10.5 9.2-13.9 8-16.2 6.5-17 4.8-16.5 3-14.6 1.2-11.5-.2-7.4-1.3-2.8-2.1M1933.5 78.5l-1.5 10.2-6.2 9.9-10.6 9.2-13.9 8-16.2 6.5-17 4.8-16.5 3-14.6 1.3-11.5-.2-7.4-1.4-2.7-2.1M1935.4 125.7l-2.4 10.2-7.1 9.8-11.2 9-14.4 7.8-16.4 6.2-17.1 4.4-16.2 2.7-14.2 1-10.8-.5-6.6-1.5-1.8-2.1M1937 166.7l-2.4 10.2-7.1 9.8-11.2 9-14.4 7.8-16.4 6.2-17.1 4.4-16.2 2.7-14.2 1-10.8-.5-6.6-1.5-1.8-2.1M1938.7 213.9l-3.2 10.2-7.9 9.7-11.9 8.8-14.9 7.5-16.6 5.9-17 4.1-16 2.3-13.6 .8-10.1-.7-5.8-1.7-.9-2.2M1940.3 254.9l-3.2 10.2-7.9 9.7-11.9 8.8-14.9 7.5-16.6 5.9-17 4.1-16 2.4-13.6 .7-10.1-.7-5.8-1.7-.9-2.2M1941.9 302.1l-4.1 10.1-8.7 9.6-12.5 8.6-15.3 7.2-16.8 5.6-16.9 3.8-15.7 2.1-13 .4-9.4-.9M1943.5 343.1l-4.1 10.2-8.7 9.5-12.5 8.6-15.3 7.3-16.8 5.5-16.9 3.8-15.7 2.1-13 .4-9.4-.9" fill="none" stroke="#585858" stroke-width="0.9" stroke-opacity="0.8"/>
<path d="M1887 -34.6l3.7-2.5 7.4-1.6 10.5-.5 12.8 1 14 2.6-.8 27.2-14-2.6-12.7-1-10.5 .5-7.4 1.7-3.7 2.4zM1885 37l3.7-2.4 7.4-1.6 10.5-.5 12.8 1 14 2.6-.8 27.2-14-2.6-12.7-1-10.5 .5-7.4 1.6-3.7 2.4zM1883 108.7l3.7-2.4 7.4-1.7 10.5-.5 12.8 1 14 2.7-.8 27.2-14-2.7-12.7-.9-10.5 .4-7.4 1.7-3.7 2.4z" fill="#bdbdbd" stroke="#bdbdbd" stroke-width="0.7" stroke-linejoin="round"/>
<path d="M1935.4 -35.6l14 4.4 12.9 5.9 10.8 7.4 7.8 8.4 4.2 9.1 .1 9.2-.8 27.2-.1-9.2-4.1-9.1-7.8-8.4-10.8-7.4-13-5.9-14-4.4zM1933.4 36.1l14 4.3 12.9 6 10.8 7.3 7.8 8.5 4.2 9 .1 9.3-.8 27.2-.1-9.3-4.1-9-7.8-8.4-10.8-7.4-13-5.9-14-4.4zM1931.4 107.8l14 4.3 12.9 6 10.8 7.3 7.8 8.4 4.2 9.1 .1 9.2-.8 27.2-.1-9.2-4.1-9.1-7.8-8.4-10.8-7.3-13-6-14-4.3z" fill="#cdcdcd" stroke="#cdcdcd" stroke-width="0.7" stroke-linejoin="round"/>
<path d="M1899.6 -27.5l-7.9-1.9-.8 27.3 8 1.9zM1950.1 38.4l-14.2 3.9-14.2 2.2-13.1 .5-11-.8-7.9-1.9-.8 27.2 8 1.9 11 .9 13.1-.6 14.2-2.2 14.1-3.9zM1948.1 110.1l-14.2 3.9-14.2 2.2-13.1 .5-11-.8-7.9-1.9-.8 27.2 8 1.9 11 .8 13.1-.5 14.2-2.2 14.1-3.9zM1946.1 181.8l-14.2 3.8-14.2 2.2-13.1 .6-11-.9-.7 27.3 11 .8 13.1-.6 14.2-2.1 14.1-3.9z" fill="#e5e5e5" stroke="#e5e5e5" stroke-width="0.7" stroke-linejoin="round"/>
<path d="M1891.7 -29.4l-4.4-2.5-.3-2.7-.7 27.2 .3 2.7 4.3 2.6zM1973.7 25.9l-10.7 7-12.9 5.5-.8 27.2 13-5.5 10.7-7zM1889.7 42.3l-4.4-2.5-.3-2.8-.7 27.2 .3 2.8 4.3 2.5zM1971.7 97.6l-10.7 7-12.9 5.5-.8 27.2 13-5.5 10.7-7zM1887.7 114l-4.4-2.6-.3-2.7-.7 27.2 .3 2.7 4.3 2.6zM1969.7 169.2l-10.7 7-12.9 5.6-.8 27.2 13-5.6 10.7-7z" fill="#e0e0e0" stroke="#e0e0e0" stroke-width="0.7" stroke-linejoin="round"/>
<path d="M1985.2 8.8l-3.9 8.9-7.6 8.2-.7 27.2 7.5-8.2 3.9-8.9zM1983.2 80.5l-3.9 8.9-7.6 8.2-.7 27.2 7.5-8.2 3.9-8.9zM1981.2 152.1l-3.9 9-7.6 8.1-.7 27.2 7.5-8.1 3.9-9z" fill="#d5d5d5" stroke="#d5d5d5" stroke-width="0.7" stroke-linejoin="round"/>
<path d="M1899.6 -27.5l-7.9-1.9-4.4-2.5-.3-2.7M1898.9 -.2l-8-1.9-4.3-2.6-.3-2.7M1985.2 8.8l-3.9 8.9-7.6 8.2-10.7 7-12.9 5.5-14.2 3.9-14.2 2.2-13.1 .5-11-.8-7.9-1.9-4.4-2.5-.3-2.8M1984.4 36l-3.9 8.9-7.5 8.2-10.7 7-13 5.5-14.1 3.9-14.2 2.2-13.1 .6-11-.9-8-1.9-4.3-2.5-.3-2.8M1983.2 80.5l-3.9 8.9-7.6 8.2-10.7 7-12.9 5.5-14.2 3.9-14.2 2.2-13.1 .5-11-.8-7.9-1.9-4.4-2.6-.3-2.7M1982.4 107.7l-3.9 8.9-7.5 8.2-10.7 7-13 5.5-14.1 3.9-14.2 2.2-13.1 .5-11-.8-8-1.9-4.3-2.6-.3-2.7M1981.2 152.1l-3.9 9-7.6 8.1-10.7 7-12.9 5.6-14.2 3.8-14.2 2.2-13.1 .6-11-.9M1980.4 179.3l-3.9 9-7.5 8.1-10.7 7-13 5.6-14.1 3.9-14.2 2.1-13.1 .6-11-.8" fill="none" stroke="#909090" stroke-width="0.9" stroke-opacity="0.8"/>
<path d="M1998 -19.6l.2-4.4 4.6-4 8.7-3.2 12-2.1 14.4-.5 15.5 1.2-.5 24-15.6-1.1-14.4 .5-12 2-8.6 3.2-4.7 4.1-.2 4.4zM1997.1 14.4l.5-4.4 4.9-4 8.9-3.2 12.2-1.9 14.5-.5 15.5 1.3-.5 24-15.6-1.2-14.5 .4-12.2 1.9-8.9 3.2-4.9 4-.5 4.4zM1996.1 48.3l.8-4.4 5.2-4 9.2-3.1 12.3-1.8 14.6-.3 15.6 1.3-.5 24.1-15.6-1.4-14.6 .3-12.4 1.9-9.1 3.1-5.2 3.9-.8 4.4zM1995.3 82.2l1-4.4 5.5-3.9 9.4-3 12.5-1.8 14.7-.2 15.6 1.5-.5 24-15.7-1.5-14.6 .2-12.6 1.8-9.4 3-5.4 3.9-1.1 4.4zM1994.4 116.1l1.4-4.4 5.7-3.9 9.6-2.9 12.7-1.7 14.8-.1 15.6 1.6-.5 24.1-15.7-1.6-14.8 .1-12.7 1.6-9.6 3-5.7 3.9-1.4 4.3zM1993.5 150l1.7-4.4 6-3.8 9.8-2.9 12.9-1.5 14.9 0 15.6 1.7-.5 24-15.7-1.7-14.9 0-12.8 1.6-9.9 2.9-6 3.8-1.6 4.3z" fill="#9ec19e" stroke="#9ec19e" stroke-width="0.7" stroke-linejoin="round"/>
<path d="M2053.4 -32.6l15.5 2.8 14.1 4.4 11.6 5.8 8.1 6.9 4 7.4-.5 24-4.1-7.4-8.1-6.8-11.6-5.8-14.1-4.4-15.4-2.9zM2053.6 1.7l15.4 2.9 14 4.6 11.4 5.9 7.9 6.8 3.7 7.5-.5 24-3.8-7.4-7.9-6.9-11.4-5.9-13.9-4.5-15.4-3zM2053.8 36l15.4 3.1 13.8 4.6 11.2 6 7.7 6.9 3.4 7.4-.6 24.1-3.4-7.5-7.7-6.9-11.2-5.9-13.8-4.7-15.3-3zM2054 70.4l15.3 3.1 13.7 4.8 11 6 7.4 6.9 3.2 7.5-.6 24.1-3.2-7.5-7.4-7-10.9-6-13.7-4.7-15.3-3.2zM2054.2 104.7l15.3 3.3 13.5 4.8 10.8 6.1 7.1 7 2.9 7.5-.5 24-2.9-7.4-7.2-7.1-10.8-6.1-13.5-4.8-15.2-3.2zM2054.4 139.1l15.2 3.3 13.4 5 10.6 6.1 6.8 7.1 2.6 7.5-.5 24-2.6-7.5-6.9-7-10.6-6.2-13.4-4.9-15.1-3.4z" fill="#aad2aa" stroke="#aad2aa" stroke-width="0.7" stroke-linejoin="round"/>
<path d="M2082.1 -13.7l-14.4 3.7-.6 24 14.4-3.7zM2002.2 -15.3l-4.2-4.3-.6 24.1 4.3 4.3zM2092.6 15.6l-12.2 5.1-14.5 3.6-.6 24.1 14.5-3.6 12.2-5.1zM2001 18.7l-3.9-4.3-.6 24 3.9 4.3zM2091.1 50.2l-12.4 5-14.6 3.5-.6 24 14.7-3.4 12.3-5.1zM1999.8 52.6l-3.7-4.3-.5 24 3.7 4.3zM2089.6 84.8l-12.6 4.9-14.7 3.4-.5 24 14.7-3.4 12.5-4.9zM1998.6 86.5l-3.3-4.3-.6 24 3.4 4.4zM2088 119.3l-12.7 4.8-14.8 3.3-.6 24.1 14.9-3.3 12.7-4.8zM1997.5 120.4l-3.1-4.3-.6 24 3.1 4.4zM2086.5 153.9l-12.9 4.7-14.9 3.2-.6 24 14.9-3.2 12.9-4.7zM1996.4 154.4l-2.9-4.4-.5 24 2.8 4.4zM2084.9 188.4l-13 4.6-15 3.1-.6 24 15-3 13.1-4.7z" fill="#5be65b" stroke="#5be65b" stroke-width="0.7" stroke-linejoin="round"/>
<path d="M2067.7 -10l-15.6 2-15.5 .3-14.3-1.3-11.7-2.6-8.4-3.7-.5 24.1 8.3 3.6 11.8 2.7 14.2 1.3 15.5-.4 15.6-2zM2065.9 24.3l-15.6 2-15.5 .2-14.1-1.4-11.6-2.7-8.1-3.7-.6 24 8.1 3.7 11.6 2.7 14.1 1.4 15.5-.2 15.6-1.9zM2064.1 58.7l-15.6 1.8-15.5 .1-14-1.4-11.3-2.8-7.9-3.8-.5 24 7.8 3.8 11.4 2.8 13.9 1.5 15.5-.1 15.6-1.9zM2062.3 93.1l-15.7 1.7-15.4 0-13.8-1.6-11.2-2.9-7.6-3.8-.5 24.1 7.6 3.8 11.1 2.9 13.9 1.5 15.4 0 15.7-1.7zM2060.5 127.4l-15.7 1.6-15.3-.1-13.7-1.6-11-3-7.3-3.9-.6 24.1 7.4 3.9 10.9 2.9 13.7 1.7 15.3 .1 15.7-1.6zM2058.7 161.8l-15.7 1.4-15.3-.2-13.5-1.7-10.8-3-7-3.9-.6 24 7.1 3.9 10.7 3 13.6 1.8 15.2 .2 15.7-1.5zM2056.9 196.1l-15.7 1.4-15.2-.3-13.4-1.9-.6 24.1 13.4 1.8 15.2 .3 15.7-1.4z" fill="#66e966" stroke="#66e966" stroke-width="0.7" stroke-linejoin="round"/>
<path d="M2106.7 -5.3l-.4 7.5-.6 24 .5-7.5zM2106 29.4l-.7 7.5-.6 24 .8-7.5zM2105.3 64l-1 7.5-.6 24.1 1-7.5zM2104.6 98.7l-1.3 7.5-.6 24 1.3-7.4zM2103.8 133.4l-1.6 7.5-.5 24 1.6-7.5zM2103 168.1l-1.8 7.4-.6 24.1 1.9-7.5z" fill="#54cb54" stroke="#54cb54" stroke-width="0.7" stroke-linejoin="round"/>
<path d="M2106.3 2.2l-4.8 7.1-8.9 6.3-.6 24.1 8.9-6.3 4.8-7.2zM2105.3 36.9l-5.1 7.1-9.1 6.2-.6 24 9.1-6.2 5.1-7.1zM2104.3 71.5l-5.4 7.1-9.3 6.2-.6 24 9.3-6.2 5.4-7zM2103.3 106.2l-5.7 7-9.6 6.1-.5 24.1 9.5-6.1 5.7-7.1zM2102.2 140.9l-5.9 6.9-9.8 6.1-.6 24 9.8-6 6-7zM2101.2 175.5l-6.2 6.9-10.1 6-.5 24 10-5.9 6.2-6.9z" fill="#58d958" stroke="#58d958" stroke-width="0.7" stroke-linejoin="round"/>
<path d="M2082.1 -13.7l-14.4 3.7-15.6 2-15.5 .3-14.3-1.3-11.7-2.6-8.4-3.7-4.2-4.3M2081.5 10.3l-14.4 3.7-15.6 2-15.5 .4-14.2-1.3-11.8-2.7-8.3-3.6-4.3-4.3M2106.7 -5.3l-.4 7.5-4.8 7.1-8.9 6.3-12.2 5.1-14.5 3.6-15.6 2-15.5 .2-14.1-1.4-11.6-2.7-8.1-3.7-3.9-4.3M2106.2 18.7l-.5 7.5-4.8 7.2-8.9 6.3-12.2 5.1-14.5 3.6-15.6 1.9-15.5 .2-14.1-1.4-11.6-2.7-8.1-3.7-3.9-4.3M2106 29.4l-.7 7.5-5.1 7.1-9.1 6.2-12.4 5-14.6 3.5-15.6 1.8-15.5 .1-14-1.4-11.3-2.8-7.9-3.8-3.7-4.3M2105.5 53.4l-.8 7.5-5.1 7.1-9.1 6.2-12.3 5.1-14.7 3.4-15.6 1.9-15.5 .1-13.9-1.5-11.4-2.8-7.8-3.8-3.7-4.3M2105.3 64l-1 7.5-5.4 7.1-9.3 6.2-12.6 4.9-14.7 3.4-15.7 1.7-15.4 0-13.8-1.6-11.2-2.9-7.6-3.8-3.3-4.3M2104.7 88.1l-1 7.5-5.4 7-9.3 6.2-12.5 4.9-14.7 3.4-15.7 1.7-15.4 0-13.9-1.5-11.1-2.9-7.6-3.8-3.4-4.4M2104.6 98.7l-1.3 7.5-5.7 7-9.6 6.1-12.7 4.8-14.8 3.3-15.7 1.6-15.3-.1-13.7-1.6-11-3-7.3-3.9-3.1-4.3M2104 122.8l-1.3 7.4-5.7 7.1-9.5 6.1-12.7 4.8-14.9 3.3-15.7 1.6-15.3-.1-13.7-1.7-10.9-2.9-7.4-3.9-3.1-4.4M2103.8 133.4l-1.6 7.5-5.9 6.9-9.8 6.1-12.9 4.7-14.9 3.2-15.7 1.4-15.3-.2-13.5-1.7-10.8-3-7-3.9-2.9-4.4M2103.3 157.4l-1.6 7.5-6 7-9.8 6-12.9 4.7-14.9 3.2-15.7 1.5-15.2-.2-13.6-1.8-10.7-3-7.1-3.9-2.8-4.4M2103 168.1l-1.8 7.4-6.2 6.9-10.1 6-13 4.6-15 3.1-15.7 1.4-15.2-.3-13.4-1.9M2102.5 192.1l-1.9 7.5-6.2 6.9-10 5.9-13.1 4.7-15 3-15.7 1.4-15.2-.3-13.4-1.8" fill="none" stroke="#3a923a" stroke-width="0.9" stroke-opacity="0.8"/>
<path d="M1904 56l4 7 1 7 1 7 5 8 0 6 3 9 6 4 4 13 3 7 2 7 5 7 2 8 4 9 6 9 5 8 6 9 5 7 9 10 7 6 5 6 7 7 10 11 9 9 9 10M1906 55l7 8 3 7 0 8 6 5 1 8 7 9 0 5 4 8 7 9 3 10 3 9 3 7 4 6 4 8 9 10 2 10 5 6 9 9 3 8 7 5 10 8 5 8 7 11 8 9M1911 56l7 7 2 8 3 5 7 9 1 5 6 11 2 7 8 7 2 7 3 12 5 7 4 8 5 5 2 9 5 7 7 11 5 7 7 7 2 8 7 6 6 9 8 8 6 13 9 8M1917 56l2 5 5 11 7 7 3 6 6 7 4 9 4 5 7 11 5 8 5 9 2 7 6 8 2 7 6 7 3 8 5 9 2 9 9 9 4 5 6 8 4 9 5 9 5 8 8 8M1921 56l5 9 4 3 6 10 5 5 9 9 3 8 5 7 4 8 8 10 5 7 3 7 2 8 7 9 3 8 3 6 5 9 3 9 6 8 4 9 7 6 1 6 8 9 5 11 3 10M1904 53l4 6 4-6 4 5 4 0M1906 60l4 4 5-9 5 12 4-6M1908 67l5 5 5-7 5 9 5-7M1909 69l6 7 6-10 6 7 5-2M1911 78l7 1 6-7 6 8 7-2M1913 82l7 5 7-7 7 6 7-3M1915 89l7 0 8-3 7 7 8-8M1917 92l8 6 8-6 8 4 7-3M1919 100l9 4 8-7 8 5 8-4M1922 101l8 8 9-7 8 7 9-5M1924 107l9 9 9-7 9 8 9-8M1927 117l9 2 9-5 9 8 9-8M1929 119l10 7 9-7 10 9 9-7M1932 125l10 10 9-13 10 13 10-9M1935 133l10 8 10-12 9 8 10-3M1937 141l10 6 10-9 10 9 10-7M1940 148l10-1 10-7 10 10 10-6M1943 152l10 4 10-9 10 10 10-6M1946 154l10 6 10-5 10 8 10-9M1949 163l10 6 10-11 9 8 10-7M1953 167l9 5 10-7 10 4 9 1M1957 174l9 4 10-6 9 7 10-5M1961 181l9 1 9-5 10 7 9-1M1965 189l9 1 9-7 9 6 9-3M1970 194l8 6 9-11 8 7 9-6M1975 198l8 7 8-13 8 12 9-9M1980 201l8 5 7-5 8 6 8-5M1985 209l7 2 8-4 7 4 7-3M1990 212l7 5 7-6 7 7 6-5M1996 219l6 6 6-10 7 8 6-3M2002 227l6 4 5-6 6 7 6-4M2008 231l5 8 5-7 5 8 6-8M2014 238l5 9 4-12 5 12 4-5M2020 244l4 5 4-5 4 6 4-6" fill="none" stroke="#a8aef0" stroke-width="0.9"/>
<polyline points="1936,70 1945,95 1960,120 1965,140 1975,160 1980,180 1992,190 1990,205 2008,215 2012,222" fill="none" stroke="#c89a20" stroke-width="7" stroke-linecap="round" stroke-linejoin="round"/><polyline points="1936,70 1945,95 1960,120 1965,140 1975,160 1980,180 1992,190 1990,205 2008,215 2012,222" fill="none" stroke="#f8c83c" stroke-width="6" stroke-linecap="round" stroke-linejoin="round"/>
<polyline points="1908,198 1928,180 1960,182 1985,200" fill="none" stroke="#555" stroke-width="6.6" stroke-linecap="round" stroke-linejoin="round"/><polyline points="1908,198 1928,180 1960,182 1985,200" fill="none" stroke="#666" stroke-width="5" stroke-linecap="round" stroke-linejoin="round"/>
<polyline points="1986.3,199.4 1978.1,200.5 1963.8,196.1 1957.7,190.6 1965.9,189.5 1980.2,193.9 1986.3,199.4" fill="none" stroke="#555" stroke-width="4.2" stroke-linecap="round" stroke-linejoin="round"/><polyline points="1986.3,199.4 1978.1,200.5 1963.8,196.1 1957.7,190.6 1965.9,189.5 1980.2,193.9 1986.3,199.4" fill="none" stroke="#666" stroke-width="2.6" stroke-linecap="round" stroke-linejoin="round"/>
<polyline points="1958,52 1957,75" fill="none" stroke="#999" stroke-width="6.1" stroke-linecap="round" stroke-linejoin="round"/><polyline points="1958,52 1957,75" fill="none" stroke="#ccc" stroke-width="4.5" stroke-linecap="round" stroke-linejoin="round"/>
<polyline points="2028,115 2045,95 2055,105 2062,98" fill="none" stroke="#22e022" stroke-width="5.5" stroke-linecap="round" stroke-linejoin="round"/>
<polyline points="2045,95 2056,82" fill="none" stroke="#22e022" stroke-width="5.5" stroke-linecap="round" stroke-linejoin="round"/>
<polyline points="2015,129 2035,127" fill="none" stroke="#22e022" stroke-width="5.5" stroke-linecap="round" stroke-linejoin="round"/>
<polyline points="2053,170 2098,165" fill="none" stroke="#22e022" stroke-width="5.5" stroke-linecap="round" stroke-linejoin="round"/>
<polyline points="2075,168 2073,155" fill="none" stroke="#22e022" stroke-width="5.5" stroke-linecap="round" stroke-linejoin="round"/>
</g>
<rect x="1825.6" y="9.1" width="302.3" height="305.3" fill="none" stroke="#111" stroke-width="2.2"/>
<text x="1870.8" y="46.2" font-size="19.5" font-weight="bold" fill="#c4c4c4" stroke="#c4c4c4" stroke-width="0.7" stroke-linejoin="round" textLength="40" lengthAdjust="spacingAndGlyphs">GP2</text><text x="1911.2" y="50.2" font-size="13" font-weight="bold" fill="#c4c4c4" stroke="#c4c4c4" stroke-width="0.7" stroke-linejoin="round">C</text>
<text x="2067" y="100" font-size="19.5" font-weight="bold" fill="#22d622" stroke="#0a4a0a" stroke-width="2.4" paint-order="stroke" stroke-linejoin="round" textLength="33.8" lengthAdjust="spacingAndGlyphs">I29</text>
<text x="1880.8" y="142.5" font-size="19.5" font-weight="bold" fill="#e6e6e6" stroke="#444" stroke-width="2.4" paint-order="stroke" stroke-linejoin="round" textLength="53.8" lengthAdjust="spacingAndGlyphs">F433</text>
<text x="2028.2" y="151.2" font-size="19.5" font-weight="bold" fill="#22d622" stroke="#0a4a0a" stroke-width="2.4" paint-order="stroke" stroke-linejoin="round" textLength="42.5" lengthAdjust="spacingAndGlyphs">A33</text>
<text x="2082" y="198.8" font-size="19.5" font-weight="bold" fill="#22d622" stroke="#0a4a0a" stroke-width="2.4" paint-order="stroke" stroke-linejoin="round" textLength="42.5" lengthAdjust="spacingAndGlyphs">V36</text>
<text x="1935.8" y="226.2" font-size="19.5" font-weight="bold" fill="#5a5a5a" stroke="#222" stroke-width="2.4" paint-order="stroke" stroke-linejoin="round" textLength="53.8" lengthAdjust="spacingAndGlyphs">F438</text>
<text x="2052" y="236.2" font-size="19.5" font-weight="bold" fill="#22cc22" stroke="#22cc22" stroke-width="0.7" stroke-linejoin="round" textLength="40" lengthAdjust="spacingAndGlyphs">SSP</text><text x="2092.5" y="240.2" font-size="13" font-weight="bold" fill="#22cc22" stroke="#22cc22" stroke-width="0.7" stroke-linejoin="round">A</text>
<text x="1993.2" y="273.8" font-size="19.5" font-weight="bold" fill="#ecc640" stroke="#5a4a10" stroke-width="2.4" paint-order="stroke" stroke-linejoin="round" textLength="90" lengthAdjust="spacingAndGlyphs">Lipid tail</text>
<text x="1960.8" y="305" font-size="19.5" font-weight="bold" fill="#6b6b6b" stroke="#6b6b6b" stroke-width="0.7" stroke-linejoin="round" textLength="40" lengthAdjust="spacingAndGlyphs">GP2</text><text x="2001.2" y="309" font-size="13" font-weight="bold" fill="#6b6b6b" stroke="#6b6b6b" stroke-width="0.7" stroke-linejoin="round">B</text>
<g clip-path="url(#cg)">
<path d="M727.7 385.3l.9-1.7 5.4-1.6 9.4-1.2 12.7-.2 15 1 16.1 2.4 1.8 30-16.1-2.4-15-1-12.8 .3-9.4 1.1-5.4 1.7-.9 1.7zM732.4 467.9l1.1-1.7 5.6-1.7 9.6-1.1 12.8-.2 15.1 1.1 16.1 2.4 1.7 30.1-16.1-2.5-15-1-12.9 .2-9.6 1.1-5.6 1.6-1.1 1.7zM737.1 550.4l1.3-1.7 5.8-1.6 9.7-1.1 13-.2 15.2 1.1 16.1 2.6 1.7 30-16.1-2.5-15.1-1.1-13 .1-9.8 1.1-5.7 1.6-1.3 1.8zM741.9 633l1.5-1.8 5.9-1.6 9.9-1 13.1-.1 15.2 1.1 16.2 2.7 1.7 30-16.1-2.6-15.2-1.2-13.1 .1-9.9 1.1-6 1.6-1.5 1.7zM746.6 715.5l1.7-1.7 6.2-1.6 10-1 1.8 30-10.1 1-6.1 1.6-1.7 1.7z" fill="#bfbfbf" stroke="#bfbfbf" stroke-width="0.7" stroke-linejoin="round"/>
<path d="M787.2 384l15.9 4 14.4 5.5 11.7 6.9 8.2 8.1 4 8.9 1.7 30-3.9-8.9-8.2-8-11.8-6.9-14.4-5.6-15.8-4zM792.7 466.7l15.8 4.1 14.3 5.6 11.7 7 8 8.1 3.7 8.9 1.8 30-3.8-8.9-8-8.1-11.6-7-14.3-5.6-15.9-4zM798.2 549.5l15.8 4.1 14.2 5.7 11.5 7 7.8 8.2 3.6 8.9 1.7 30-3.6-8.9-7.8-8.1-11.5-7.1-14.2-5.6-15.8-4.2zM803.7 632.3l15.7 4.1 14.1 5.8 11.4 7.1 7.6 8.1 3.4 9 1.7 30-3.3-8.9-7.7-8.2-11.3-7.1-14.1-5.7-15.8-4.2z" fill="#d0d0d0" stroke="#d0d0d0" stroke-width="0.7" stroke-linejoin="round"/>
<path d="M836.1 343.6l-4.8 9.2-8.9 8.6 1.7 30.1 8.9-8.7 4.9-9.2zM840.8 426.6l-5 9.2-9.1 8.6 1.7 30.1 9.1-8.7 5-9.2zM845.5 509.6l-5.3 9.2-9.2 8.6 1.7 30 9.3-8.6 5.2-9.2zM850.1 592.6l-5.4 9.2-9.4 8.6 1.7 30 9.4-8.6 5.4-9.1zM854.7 675.6l-5.6 9.2-9.5 8.5 1.7 30.1 9.6-8.6 5.6-9.1z" fill="#999999" stroke="#999999" stroke-width="0.7" stroke-linejoin="round"/>
<path d="M822.4 361.4l-12.3 7.8-14.5 6.6 1.7 30.1 14.6-6.6 12.2-7.8zM731.3 386.7l-3.6-1.4 1.7 30.1 3.6 1.3zM826.7 444.4l-12.4 7.8-14.6 6.5 1.8 30 14.6-6.5 12.3-7.7zM735.8 469.2l-3.4-1.3 1.7 30 3.5 1.4zM831 527.4l-12.5 7.7-14.7 6.4 1.8 30.1 14.7-6.5 12.4-7.7zM740.4 551.8l-3.3-1.4 1.8 30.1 3.2 1.3zM835.3 610.4l-12.6 7.6-14.7 6.4 1.7 30.1 14.7-6.5 12.6-7.6zM744.9 634.4l-3-1.4 1.7 30 3 1.4zM839.6 693.3l-12.7 7.6-14.8 6.4 1.7 30 14.8-6.3 12.7-7.6zM749.5 716.9l-2.9-1.4 1.8 30 2.8 1.5z" fill="#a4a4a4" stroke="#a4a4a4" stroke-width="0.7" stroke-linejoin="round"/>
<path d="M795.6 375.8l-15.6 5.2-15.5 3.5-14 2.1-11.4 .6-7.8-.5 1.7 30 7.9 .5 11.3-.6 14-2 15.5-3.6 15.6-5.1zM799.7 458.7l-15.6 5.1-15.5 3.5-13.9 1.9-11.2 .6-7.7-.6 1.8 30.1 7.6 .5 11.3-.5 13.9-2 15.4-3.5 15.7-5.1zM803.8 541.5l-15.6 5-15.4 3.5-13.8 1.9-11.2 .5-7.4-.6 1.7 30 7.5 .6 11.1-.5 13.8-1.9 15.4-3.4 15.7-5zM808 624.4l-15.7 4.9-15.4 3.4-13.7 1.8-11 .5-7.3-.6 1.7 30 7.4 .6 10.9-.4 13.8-1.8 15.3-3.4 15.7-4.9zM812.1 707.3l-15.7 4.8-15.3 3.3-13.7 1.8-10.8 .4-7.1-.7 1.7 30.1 7.1 .6 10.9-.4 13.6-1.7 15.3-3.3 15.7-4.9z" fill="#acacac" stroke="#acacac" stroke-width="0.7" stroke-linejoin="round"/>
<path d="M841.4 417.4l-.6 9.2 1.7 30 .6-9.2zM846.2 500.4l-.7 9.2 1.7 30 .8-9.2zM851.1 583.4l-1 9.2 1.7 30.1 1-9.3zM855.9 666.4l-1.2 9.2 1.8 30.1 1.1-9.3z" fill="#8f8f8f" stroke="#8f8f8f" stroke-width="0.7" stroke-linejoin="round"/>
<path d="M836.1 343.6l-4.8 9.2-8.9 8.6-12.3 7.8-14.5 6.6-15.6 5.2-15.5 3.5-14 2.1-11.4 .6-7.8-.5-3.6-1.4M837.9 373.6l-4.9 9.2-8.9 8.7-12.2 7.8-14.6 6.6-15.6 5.1-15.5 3.6-14 2-11.3 .6-7.9-.5-3.6-1.3M841.4 417.4l-.6 9.2-5 9.2-9.1 8.6-12.4 7.8-14.6 6.5-15.6 5.1-15.5 3.5-13.9 1.9-11.2 .6-7.7-.6-3.4-1.3M843.1 447.4l-.6 9.2-5 9.2-9.1 8.7-12.3 7.7-14.6 6.5-15.7 5.1-15.4 3.5-13.9 2-11.3 .5-7.6-.5-3.5-1.4M846.2 500.4l-.7 9.2-5.3 9.2-9.2 8.6-12.5 7.7-14.7 6.4-15.6 5-15.4 3.5-13.8 1.9-11.2 .5-7.4-.6-3.3-1.4M848 530.4l-.8 9.2-5.2 9.2-9.3 8.6-12.4 7.7-14.7 6.5-15.7 5-15.4 3.4-13.8 1.9-11.1 .5-7.5-.6-3.2-1.3M851.1 583.4l-1 9.2-5.4 9.2-9.4 8.6-12.6 7.6-14.7 6.4-15.7 4.9-15.4 3.4-13.7 1.8-11 .5-7.3-.6-3-1.4M852.8 613.4l-1 9.3-5.4 9.1-9.4 8.6-12.6 7.6-14.7 6.5-15.7 4.9-15.3 3.4-13.8 1.8-10.9 .4-7.4-.6-3-1.4M855.9 666.4l-1.2 9.2-5.6 9.2-9.5 8.5-12.7 7.6-14.8 6.4-15.7 4.8-15.3 3.3-13.7 1.8-10.8 .4-7.1-.7-2.9-1.4M857.6 696.4l-1.1 9.3-5.6 9.1-9.6 8.6-12.7 7.6-14.8 6.3-15.7 4.9-15.3 3.3-13.6 1.7-10.9 .4-7.1-.6-2.8-1.5" fill="none" stroke="#6a6a6a" stroke-width="0.9" stroke-opacity="0.8"/>
<path d="M818.7 345.9l4.1-2.9 7.8-1.9 11.1-.6 13.3 1.2 14.5 3.2-1.4 21.3-14.5-3.1-13.3-1.2-11.1 .5-7.8 2-4.1 2.9zM814.3 416.8l4.3-2.8 8.2-1.9 11.2-.4 13.5 1.4 14.5 3.2-1.4 21.4-14.5-3.2-13.4-1.4-11.3 .4-8.2 1.8-4.3 2.9zM809.3 491.2l.5-3.4 4.7-2.9 8.4-1.7 11.5-.3 13.6 1.5 14.5 3.4-1.4 21.4-14.5-3.4-13.6-1.5-11.5 .3-8.4 1.7-4.7 2.8-.5 3.4z" fill="#bdbdbd" stroke="#bdbdbd" stroke-width="0.7" stroke-linejoin="round"/>
<path d="M869.5 344.9l14.5 5 13.2 6.8 10.8 8.2 7.7 9.4 3.7 9.9-.4 9.9-1.4 21.4 .5-9.9-3.8-9.9-7.7-9.4-10.8-8.2-13.2-6.8-14.5-5.1zM866 416.3l14.4 5.2 13.1 6.9 10.6 8.4 7.4 9.4 3.4 9.9-1.3 21.4-3.5-9.9-7.4-9.4-10.6-8.4-13.1-6.9-14.4-5.2zM862.5 487.8l14.4 5.3 12.9 7.1 10.4 8.4 7.1 9.5 3.1 9.9-1.4 21.4-3.1-9.9-7.1-9.5-10.4-8.5-12.9-7-14.4-5.3z" fill="#cdcdcd" stroke="#cdcdcd" stroke-width="0.7" stroke-linejoin="round"/>
<path d="M831.4 355.6l-8.2-2.8-1.4 21.4 8.2 2.8zM880.5 424l-14.9 3.4-14.8 1.3-13.6-.3-11.2-1.8-7.9-2.9-1.4 21.4 7.9 2.9 11.2 1.8 13.6 .3 14.8-1.4 15-3.3zM874.8 495.5l-15 3.2-14.7 1.2-13.4-.4-11-2-7.7-2.9-1.3 21.4 7.6 2.9 11 1.9 13.4 .5 14.8-1.2 14.9-3.2z" fill="#e5e5e5" stroke="#e5e5e5" stroke-width="0.7" stroke-linejoin="round"/>
<path d="M823.2 352.8l-4.3-3.4-.2-3.5-1.4 21.4 .2 3.5 4.3 3.4zM906 411.9l-11.6 6.9-13.9 5.2-1.3 21.4 13.8-5.2 11.6-6.9zM818.1 423.7l-4-3.4 .2-3.5-1.4 21.4-.2 3.5 4 3.4zM900.5 483.6l-11.7 6.9-14 5-1.4 21.4 14-5.1 11.8-6.8zM813 494.6l-3.7-3.4-1.4 21.3 3.8 3.5z" fill="#e0e0e0" stroke="#e0e0e0" stroke-width="0.7" stroke-linejoin="round"/>
<path d="M919 394.1l-4.6 9.4-8.4 8.4-1.4 21.4 8.4-8.4 4.6-9.4zM914.2 466l-4.9 9.3-8.8 8.3-1.3 21.4 8.7-8.3 4.9-9.3z" fill="#d5d5d5" stroke="#d5d5d5" stroke-width="0.7" stroke-linejoin="round"/>
<path d="M914.9 456.1l-.7 9.9-1.4 21.4 .8-9.9z" fill="#cacaca" stroke="#cacaca" stroke-width="0.7" stroke-linejoin="round"/>
<path d="M831.4 355.6l-8.2-2.8-4.3-3.4-.2-3.5M830 377l-8.2-2.8-4.3-3.4-.2-3.5M919 394.1l-4.6 9.4-8.4 8.4-11.6 6.9-13.9 5.2-14.9 3.4-14.8 1.3-13.6-.3-11.2-1.8-7.9-2.9-4-3.4 .2-3.5M917.6 415.5l-4.6 9.4-8.4 8.4-11.6 6.9-13.8 5.2-15 3.3-14.8 1.4-13.6-.3-11.2-1.8-7.9-2.9-4-3.4 .2-3.5M914.9 456.1l-.7 9.9-4.9 9.3-8.8 8.3-11.7 6.9-14 5-15 3.2-14.7 1.2-13.4-.4-11-2-7.7-2.9-3.7-3.4M913.6 477.5l-.8 9.9-4.9 9.3-8.7 8.3-11.8 6.8-14 5.1-14.9 3.2-14.8 1.2-13.4-.5-11-1.9-7.6-2.9-3.8-3.5" fill="none" stroke="#909090" stroke-width="0.9" stroke-opacity="0.8"/>
<path d="M902.4 367l.2-4.7 4.5-4.4 8.4-3.6 11.8-2.3 14-.8 15.2 .9-.3 14.7-15.3-.9-14 .7-11.7 2.4-8.5 3.5-4.5 4.4-.2 4.8zM901.6 397.4l.2-4.7 4.7-4.4 8.5-3.5 11.8-2.3 14.1-.8 15.3 1-.4 14.7-15.3-1-14.1 .7-11.8 2.3-8.5 3.5-4.6 4.4-.3 4.8zM900.7 427.8l.4-4.7 4.7-4.4 8.7-3.5 11.9-2.2 14.1-.7 15.3 1-.4 14.7-15.3-1.1-14.1 .7-11.9 2.3-8.6 3.5-4.8 4.3-.4 4.8zM899.9 458.2l.5-4.7 4.8-4.4 8.8-3.4 11.9-2.3 14.2-.6 15.3 1.1-.4 14.6-15.3-1-14.1 .6-12 2.2-8.7 3.5-4.9 4.3-.5 4.8zM899.1 488.6l.6-4.7 4.9-4.3 8.9-3.5 12-2.2 14.2-.6 15.3 1.2-.4 14.6-15.2-1.1-14.3 .6-12 2.2-8.8 3.4-5 4.3-.6 4.8zM898.2 519l.8-4.7 5-4.3 9-3.4 12.1-2.2 14.2-.5 15.3 1.1-.4 14.7-15.2-1.2-14.3 .6-12.1 2.1-9 3.4-5 4.3-.7 4.8zM897.4 549.4l.9-4.7 5.1-4.3 9.1-3.4 12.1-2.1 14.3-.5 15.3 1.2-.3 14.7-15.3-1.2-14.4 .5-12.1 2.1-9.1 3.4-5.1 4.2-.9 4.8zM896.6 579.8l1-4.7 5.2-4.3 9.2-3.3 12.2-2.1 14.3-.5 15.4 1.3-.4 14.7-15.3-1.3-14.4 .5-12.2 2-9.2 3.4-5.2 4.3-1 4.7z" fill="#bdccbd" stroke="#bdccbd" stroke-width="0.7" stroke-linejoin="round"/>
<path d="M956.5 352.1l15.2 2.7 13.9 4.4 11.4 5.7 8 6.8 4.1 7.4-.4 14.7-4-7.4-8.1-6.8-11.4-5.8-13.9-4.3-15.1-2.7zM956.2 382.7l15.1 2.8 13.8 4.3 11.4 5.8 7.9 6.8 4 7.5-.4 14.6-4-7.4-7.9-6.8-11.4-5.8-13.8-4.4-15.1-2.7zM955.8 413.3l15.1 2.8 13.7 4.4 11.3 5.8 7.9 6.8 3.8 7.5-.4 14.6-3.8-7.4-7.9-6.8-11.2-5.8-13.8-4.5-15.1-2.7zM955.4 443.9l15.1 2.8 13.7 4.5 11.2 5.8 7.8 6.9 3.7 7.4-.4 14.7-3.7-7.5-7.8-6.8-11.2-5.9-13.7-4.4-15.1-2.9zM955 474.5l15.1 2.8 13.6 4.5 11.1 5.9 7.7 6.9 3.6 7.4-.4 14.7-3.6-7.5-7.6-6.8-11.1-5.9-13.7-4.5-15.1-2.9zM954.6 505l15.1 2.9 13.6 4.6 11 5.9 7.6 6.9 3.5 7.5-.4 14.6-3.5-7.4-7.6-7-11-5.9-13.6-4.5-15.1-2.9zM954.2 535.6l15.1 3 13.5 4.5 11 6 7.4 6.9 3.4 7.5-.4 14.6-3.3-7.4-7.5-7-11-5.9-13.5-4.6-15-2.9z" fill="#cddecd" stroke="#cddecd" stroke-width="0.7" stroke-linejoin="round"/>
<path d="M984.9 374.6l-14.1 3.6-.4 14.6 14.1-3.5zM906.6 371.7l-4.2-4.7-.4 14.7 4.2 4.6zM995.6 400.2l-11.8 5-14.2 3.6-.4 14.6 14.2-3.5 11.8-5.1zM905.6 402.1l-4-4.7-.4 14.7 4.1 4.6zM994.5 430.8l-11.9 5.1-14.2 3.5-.4 14.6 14.2-3.5 12-5zM904.7 432.5l-4-4.7-.4 14.7 4 4.6zM993.5 461.5l-12 5-14.3 3.5-.3 14.6 14.2-3.4 12-5zM903.7 462.9l-3.8-4.7-.4 14.7 3.9 4.6zM992.4 492.2l-12.1 5-14.2 3.4-.4 14.6 14.3-3.4 12-5zM902.8 493.3l-3.7-4.7-.4 14.7 3.7 4.7zM991.3 522.9l-12.1 4.9-14.3 3.4-.4 14.6 14.3-3.4 12.1-4.9zM901.8 523.7l-3.6-4.7-.3 14.7 3.6 4.7zM990.3 553.5l-12.2 4.9-14.4 3.3-.4 14.7 14.4-3.3 12.2-4.9zM900.9 554.1l-3.5-4.7-.4 14.7 3.5 4.7zM989.2 584.2l-12.3 4.9-14.4 3.2-.4 14.7 14.4-3.3 12.3-4.8zM900 584.5l-3.4-4.7-.4 14.7 3.4 4.7z" fill="#76ee76" stroke="#76ee76" stroke-width="0.7" stroke-linejoin="round"/>
<path d="M970.8 378.2l-15.3 1.8-15.2 .2-14-1.6-11.5-2.9-8.2-4-.4 14.6 8.2 4 11.5 3 14 1.5 15.2-.1 15.3-1.9zM969.6 408.8l-15.3 1.8-15.2 .1-13.9-1.6-11.5-3-8.1-4-.3 14.6 8 4.1 11.5 2.9 13.9 1.6 15.2 0 15.3-1.9zM968.4 439.4l-15.3 1.7-15.2 .1-13.8-1.7-11.4-3-8-4-.4 14.6 8 4.1 11.4 3 13.8 1.6 15.2 0 15.3-1.8zM967.2 470l-15.3 1.7-15.2 0-13.8-1.7-11.3-3-7.9-4.1-.3 14.6 7.8 4.1 11.4 3.1 13.8 1.6 15.1 .1 15.4-1.8zM966.1 500.6l-15.4 1.6-15.1 0-13.8-1.7-11.2-3.1-7.8-4.1-.4 14.7 7.8 4.1 11.2 3 13.8 1.7 15.1 .1 15.4-1.7zM964.9 531.2l-15.4 1.6-15.1-.1-13.7-1.8-11.2-3.1-7.7-4.1-.3 14.7 7.7 4.1 11.1 3.1 13.7 1.7 15.1 .1 15.4-1.6zM963.7 561.7l-15.4 1.6-15.1-.1-13.6-1.8-11.1-3.1-7.6-4.2-.4 14.7 7.6 4.1 11.1 3.2 13.6 1.7 15.1 .2 15.4-1.6zM962.5 592.3l-15.4 1.6-15.1-.2-13.6-1.8-10.9-3.2-7.5-4.2-.4 14.7 7.5 4.1 11 3.2 13.6 1.8 15 .2 15.4-1.5z" fill="#7eef7e" stroke="#7eef7e" stroke-width="0.7" stroke-linejoin="round"/>
<path d="M1009.1 379.1l-.3 7.6-.4 14.6 .3-7.5zM1008.4 409.9l-.5 7.5-.3 14.6 .4-7.5zM1007.6 440.6l-.5 7.5-.4 14.7 .5-7.6zM1006.9 471.3l-.7 7.5-.4 14.7 .7-7.5zM1006.1 502l-.7 7.6-.4 14.6 .7-7.5zM1005.4 532.8l-.9 7.5-.4 14.6 .9-7.5zM1004.6 563.5l-1 7.5-.4 14.7 1-7.6z" fill="#6dd66d" stroke="#6dd66d" stroke-width="0.7" stroke-linejoin="round"/>
<path d="M1008.8 386.7l-4.6 7.1-8.6 6.4-.4 14.6 8.6-6.3 4.6-7.2zM1007.9 417.4l-4.7 7.1-8.7 6.3-.3 14.7 8.6-6.3 4.8-7.2zM1007.1 448.1l-4.9 7.1-8.7 6.3-.4 14.7 8.8-6.3 4.8-7.1zM1006.2 478.8l-4.9 7.1-8.9 6.3-.4 14.6 8.9-6.2 4.9-7.1zM1005.4 509.6l-5.1 7.1-9 6.2-.4 14.6 9-6.2 5.1-7.1zM1004.5 540.3l-5.2 7.1-9 6.1-.4 14.7 9-6.2 5.2-7.1zM1003.6 571l-5.3 7.1-9.1 6.1-.4 14.7 9.2-6.2 5.2-7z" fill="#71e271" stroke="#71e271" stroke-width="0.7" stroke-linejoin="round"/>
<path d="M984.9 374.6l-14.1 3.6-15.3 1.8-15.2 .2-14-1.6-11.5-2.9-8.2-4-4.2-4.7M984.5 389.3l-14.1 3.5-15.3 1.9-15.2 .1-14-1.5-11.5-3-8.2-4-4.2-4.6M1009.1 379.1l-.3 7.6-4.6 7.1-8.6 6.4-11.8 5-14.2 3.6-15.3 1.8-15.2 .1-13.9-1.6-11.5-3-8.1-4-4-4.7M1008.7 393.8l-.3 7.5-4.6 7.2-8.6 6.3-11.8 5.1-14.2 3.5-15.3 1.9-15.2 0-13.9-1.6-11.5-2.9-8-4.1-4.1-4.6M1008.4 409.9l-.5 7.5-4.7 7.1-8.7 6.3-11.9 5.1-14.2 3.5-15.3 1.7-15.2 .1-13.8-1.7-11.4-3-8-4-4-4.7M1008 424.5l-.4 7.5-4.8 7.2-8.6 6.3-12 5-14.2 3.5-15.3 1.8-15.2 0-13.8-1.6-11.4-3-8-4.1-4-4.6M1007.6 440.6l-.5 7.5-4.9 7.1-8.7 6.3-12 5-14.3 3.5-15.3 1.7-15.2 0-13.8-1.7-11.3-3-7.9-4.1-3.8-4.7M1007.2 455.2l-.5 7.6-4.8 7.1-8.8 6.3-12 5-14.2 3.4-15.4 1.8-15.1-.1-13.8-1.6-11.4-3.1-7.8-4.1-3.9-4.6M1006.9 471.3l-.7 7.5-4.9 7.1-8.9 6.3-12.1 5-14.2 3.4-15.4 1.6-15.1 0-13.8-1.7-11.2-3.1-7.8-4.1-3.7-4.7M1006.5 486l-.7 7.5-4.9 7.1-8.9 6.2-12 5-14.3 3.4-15.4 1.7-15.1-.1-13.8-1.7-11.2-3-7.8-4.1-3.7-4.7M1006.1 502l-.7 7.6-5.1 7.1-9 6.2-12.1 4.9-14.3 3.4-15.4 1.6-15.1-.1-13.7-1.8-11.2-3.1-7.7-4.1-3.6-4.7M1005.7 516.7l-.7 7.5-5.1 7.1-9 6.2-12.1 4.9-14.3 3.4-15.4 1.6-15.1-.1-13.7-1.7-11.1-3.1-7.7-4.1-3.6-4.7M1005.4 532.8l-.9 7.5-5.2 7.1-9 6.1-12.2 4.9-14.4 3.3-15.4 1.6-15.1-.1-13.6-1.8-11.1-3.1-7.6-4.2-3.5-4.7M1005 547.4l-.9 7.5-5.2 7.1-9 6.2-12.2 4.9-14.4 3.3-15.4 1.6-15.1-.2-13.6-1.7-11.1-3.2-7.6-4.1-3.5-4.7M1004.6 563.5l-1 7.5-5.3 7.1-9.1 6.1-12.3 4.9-14.4 3.2-15.4 1.6-15.1-.2-13.6-1.8-10.9-3.2-7.5-4.2-3.4-4.7M1004.2 578.1l-1 7.6-5.2 7-9.2 6.2-12.3 4.8-14.4 3.3-15.4 1.5-15-.2-13.6-1.8-11-3.2-7.5-4.1-3.4-4.7" fill="none" stroke="#4a964a" stroke-width="0.9" stroke-opacity="0.8"/>
<polyline points="874.9,519.3 867.6,537.5 858.7,536.2 857.1,516.7 864.4,498.5 873.3,499.8 874.9,519.3" fill="none" stroke="#9a9a9a" stroke-width="4.2" stroke-linecap="round" stroke-linejoin="round"/><polyline points="874.9,519.3 867.6,537.5 858.7,536.2 857.1,516.7 864.4,498.5 873.3,499.8 874.9,519.3" fill="none" stroke="#e8e8e8" stroke-width="2.6" stroke-linecap="round" stroke-linejoin="round"/>
<polyline points="874,498 872,470" fill="none" stroke="#9a9a9a" stroke-width="6.1" stroke-linecap="round" stroke-linejoin="round"/><polyline points="874,498 872,470" fill="none" stroke="#e8e8e8" stroke-width="4.5" stroke-linecap="round" stroke-linejoin="round"/>
<polyline points="816,597 842,585 864,598 896,611" fill="none" stroke="#555" stroke-width="6.1" stroke-linecap="round" stroke-linejoin="round"/><polyline points="816,597 842,585 864,598 896,611" fill="none" stroke="#666" stroke-width="4.5" stroke-linecap="round" stroke-linejoin="round"/>
<polyline points="895.3,610.1 888.4,611.3 877.2,607.2 872.7,601.9 879.6,600.7 890.8,604.8 895.3,610.1" fill="none" stroke="#555" stroke-width="4.1" stroke-linecap="round" stroke-linejoin="round"/><polyline points="895.3,610.1 888.4,611.3 877.2,607.2 872.7,601.9 879.6,600.7 890.8,604.8 895.3,610.1" fill="none" stroke="#666" stroke-width="2.5" stroke-linecap="round" stroke-linejoin="round"/>
<polyline points="858,567 870,570" fill="none" stroke="#2233ee" stroke-width="5" stroke-linecap="round" stroke-linejoin="round"/>
<polyline points="870,570 884,568 901,555 909,562 927,548 940,552" fill="none" stroke="#22e022" stroke-width="5.5" stroke-linecap="round" stroke-linejoin="round"/>
<polyline points="934,540 952,518 966,533 952,518 958,506" fill="none" stroke="#22e022" stroke-width="5.5" stroke-linecap="round" stroke-linejoin="round"/>
<polyline points="942,603 980,603" fill="none" stroke="#22e022" stroke-width="5.5" stroke-linecap="round" stroke-linejoin="round"/>
<polyline points="961,602 961,586" fill="none" stroke="#22e022" stroke-width="5.5" stroke-linecap="round" stroke-linejoin="round"/>
<polyline points="856,566 842,545" fill="none" stroke="#111" stroke-width="2.8" stroke-linecap="round" stroke-linejoin="round"/>
<polyline points="858,575 857,600" fill="none" stroke="#111" stroke-width="3.6" stroke-dasharray="0.1 5.2" stroke-linecap="round"/>
</g>
<rect x="745.1" y="389.1" width="272.3" height="305.3" fill="none" stroke="#111" stroke-width="2.2"/>
<text x="781.2" y="406.2" font-size="19.5" font-weight="bold" fill="#c0c0c0" stroke="#c0c0c0" stroke-width="0.7" stroke-linejoin="round" textLength="44" lengthAdjust="spacingAndGlyphs">GP2</text><text x="825.8" y="410.2" font-size="13" font-weight="bold" fill="#c0c0c0" stroke="#c0c0c0" stroke-width="0.7" stroke-linejoin="round">C</text>
<text x="798.8" y="520" font-size="19.5" font-weight="bold" fill="#e6e6e6" stroke="#444" stroke-width="2.4" paint-order="stroke" stroke-linejoin="round" textLength="53.8" lengthAdjust="spacingAndGlyphs">F433</text>
<text x="897.5" y="533.8" font-size="19.5" font-weight="bold" fill="#22d622" stroke="#0a4a0a" stroke-width="2.4" paint-order="stroke" stroke-linejoin="round" textLength="32.5" lengthAdjust="spacingAndGlyphs">I29</text>
<text x="815" y="568.8" font-size="20.5" textLength="45" lengthAdjust="spacingAndGlyphs">3.5Å</text>
<text x="927.5" y="575" font-size="19.5" font-weight="bold" fill="#22d622" stroke="#0a4a0a" stroke-width="2.4" paint-order="stroke" stroke-linejoin="round" textLength="42.5" lengthAdjust="spacingAndGlyphs">K33</text>
<text x="875" y="596.2" font-size="20.5" textLength="43.8" lengthAdjust="spacingAndGlyphs">3.3Å</text>
<text x="968.8" y="622.5" font-size="19.5" font-weight="bold" fill="#22d622" stroke="#0a4a0a" stroke-width="2.4" paint-order="stroke" stroke-linejoin="round" textLength="43.8" lengthAdjust="spacingAndGlyphs">V36</text>
<text x="915.5" y="631.2" font-size="19.5" font-weight="bold" fill="#22cc22" stroke="#22cc22" stroke-width="0.7" stroke-linejoin="round" textLength="41" lengthAdjust="spacingAndGlyphs">SSP</text><text x="957" y="635.2" font-size="13" font-weight="bold" fill="#22cc22" stroke="#22cc22" stroke-width="0.7" stroke-linejoin="round">A</text>
<text x="845" y="636.2" font-size="19.5" font-weight="bold" fill="#5a5a5a" stroke="#222" stroke-width="2.4" paint-order="stroke" stroke-linejoin="round" textLength="55" lengthAdjust="spacingAndGlyphs">F438</text>
<text x="856.2" y="685" font-size="19.5" font-weight="bold" fill="#6b6b6b" stroke="#6b6b6b" stroke-width="0.7" stroke-linejoin="round" textLength="40" lengthAdjust="spacingAndGlyphs">GP2</text><text x="896.8" y="689" font-size="13" font-weight="bold" fill="#6b6b6b" stroke="#6b6b6b" stroke-width="0.7" stroke-linejoin="round">B</text>
<g clip-path="url(#ch)">
<path d="M1058.2 385.3l.9-1.7 5.4-1.6 9.4-1.2 12.7-.2 15 1 16.1 2.4 1.8 30-16.1-2.4-15-1-12.8 .3-9.4 1.1-5.4 1.7-.9 1.7zM1062.9 467.9l1.1-1.7 5.6-1.7 9.6-1.1 12.8-.2 15.1 1.1 16.1 2.4 1.7 30.1-16.1-2.5-15-1-12.9 .2-9.6 1.1-5.6 1.6-1.1 1.7zM1067.6 550.4l1.3-1.7 5.8-1.6 9.7-1.1 13-.2 15.2 1.1 16.1 2.6 1.7 30-16.1-2.5-15.1-1.1-13 .1-9.8 1.1-5.7 1.6-1.3 1.8zM1072.4 633l1.5-1.8 5.9-1.6 9.9-1 13.1-.1 15.2 1.1 16.2 2.7 1.7 30-16.1-2.6-15.2-1.2-13.1 .1-9.9 1.1-6 1.6-1.5 1.7zM1077.1 715.5l1.7-1.7 6.2-1.6 10-1 1.8 30-10.1 1-6.1 1.6-1.7 1.7z" fill="#b7b7b7" stroke="#b7b7b7" stroke-width="0.7" stroke-linejoin="round"/>
<path d="M1117.7 384l15.9 4 14.4 5.5 11.7 6.9 8.2 8.1 4 8.9 1.7 30-3.9-8.9-8.2-8-11.8-6.9-14.4-5.6-15.8-4zM1123.2 466.7l15.8 4.1 14.3 5.6 11.7 7 8 8.1 3.7 8.9 1.8 30-3.8-8.9-8-8.1-11.6-7-14.3-5.6-15.9-4zM1128.7 549.5l15.8 4.1 14.2 5.7 11.5 7 7.8 8.2 3.6 8.9 1.7 30-3.6-8.9-7.8-8.1-11.5-7.1-14.2-5.6-15.8-4.2zM1134.2 632.3l15.7 4.1 14.1 5.8 11.4 7.1 7.6 8.1 3.4 9 1.7 30-3.3-8.9-7.7-8.2-11.3-7.1-14.1-5.7-15.8-4.2z" fill="#c6c6c6" stroke="#c6c6c6" stroke-width="0.7" stroke-linejoin="round"/>
<path d="M1166.6 343.6l-4.8 9.2-8.9 8.6 1.7 30.1 8.9-8.7 4.9-9.2zM1171.3 426.6l-5 9.2-9.1 8.6 1.7 30.1 9.1-8.7 5-9.2zM1176 509.6l-5.3 9.2-9.2 8.6 1.7 30 9.3-8.6 5.2-9.2zM1180.6 592.6l-5.4 9.2-9.4 8.6 1.7 30 9.4-8.6 5.4-9.1zM1185.2 675.6l-5.6 9.2-9.5 8.5 1.7 30.1 9.6-8.6 5.6-9.1z" fill="#898989" stroke="#898989" stroke-width="0.7" stroke-linejoin="round"/>
<path d="M1152.9 361.4l-12.3 7.8-14.5 6.6 1.7 30.1 14.6-6.6 12.2-7.8zM1061.8 386.7l-3.6-1.4 1.7 30.1 3.6 1.3zM1157.2 444.4l-12.4 7.8-14.6 6.5 1.8 30 14.6-6.5 12.3-7.7zM1066.3 469.2l-3.4-1.3 1.7 30 3.5 1.4zM1161.5 527.4l-12.5 7.7-14.7 6.4 1.8 30.1 14.7-6.5 12.4-7.7zM1070.9 551.8l-3.3-1.4 1.8 30.1 3.2 1.3zM1165.8 610.4l-12.6 7.6-14.7 6.4 1.7 30.1 14.7-6.5 12.6-7.6zM1075.4 634.4l-3-1.4 1.7 30 3 1.4zM1170.1 693.3l-12.7 7.6-14.8 6.4 1.7 30 14.8-6.3 12.7-7.6zM1080 716.9l-2.9-1.4 1.8 30 2.8 1.5z" fill="#929292" stroke="#929292" stroke-width="0.7" stroke-linejoin="round"/>
<path d="M1126.1 375.8l-15.6 5.2-15.5 3.5-14 2.1-11.4 .6-7.8-.5 1.7 30 7.9 .5 11.3-.6 14-2 15.5-3.6 15.6-5.1zM1130.2 458.7l-15.6 5.1-15.5 3.5-13.9 1.9-11.2 .6-7.7-.6 1.8 30.1 7.6 .5 11.3-.5 13.9-2 15.4-3.5 15.7-5.1zM1134.3 541.5l-15.6 5-15.4 3.5-13.8 1.9-11.2 .5-7.4-.6 1.7 30 7.5 .6 11.1-.5 13.8-1.9 15.4-3.4 15.7-5zM1138.5 624.4l-15.7 4.9-15.4 3.4-13.7 1.8-11 .5-7.3-.6 1.7 30 7.4 .6 10.9-.4 13.8-1.8 15.3-3.4 15.7-4.9zM1142.6 707.3l-15.7 4.8-15.3 3.3-13.7 1.8-10.8 .4-7.1-.7 1.7 30.1 7.1 .6 10.9-.4 13.6-1.7 15.3-3.3 15.7-4.9z" fill="#9b9b9b" stroke="#9b9b9b" stroke-width="0.7" stroke-linejoin="round"/>
<path d="M1171.9 417.4l-.6 9.2 1.7 30 .6-9.2zM1176.7 500.4l-.7 9.2 1.7 30 .8-9.2zM1181.6 583.4l-1 9.2 1.7 30.1 1-9.3zM1186.4 666.4l-1.2 9.2 1.8 30.1 1.1-9.3z" fill="#808080" stroke="#808080" stroke-width="0.7" stroke-linejoin="round"/>
<path d="M1166.6 343.6l-4.8 9.2-8.9 8.6-12.3 7.8-14.5 6.6-15.6 5.2-15.5 3.5-14 2.1-11.4 .6-7.8-.5-3.6-1.4M1168.4 373.6l-4.9 9.2-8.9 8.7-12.2 7.8-14.6 6.6-15.6 5.1-15.5 3.6-14 2-11.3 .6-7.9-.5-3.6-1.3M1171.9 417.4l-.6 9.2-5 9.2-9.1 8.6-12.4 7.8-14.6 6.5-15.6 5.1-15.5 3.5-13.9 1.9-11.2 .6-7.7-.6-3.4-1.3M1173.6 447.4l-.6 9.2-5 9.2-9.1 8.7-12.3 7.7-14.6 6.5-15.7 5.1-15.4 3.5-13.9 2-11.3 .5-7.6-.5-3.5-1.4M1176.7 500.4l-.7 9.2-5.3 9.2-9.2 8.6-12.5 7.7-14.7 6.4-15.6 5-15.4 3.5-13.8 1.9-11.2 .5-7.4-.6-3.3-1.4M1178.5 530.4l-.8 9.2-5.2 9.2-9.3 8.6-12.4 7.7-14.7 6.5-15.7 5-15.4 3.4-13.8 1.9-11.1 .5-7.5-.6-3.2-1.3M1181.6 583.4l-1 9.2-5.4 9.2-9.4 8.6-12.6 7.6-14.7 6.4-15.7 4.9-15.4 3.4-13.7 1.8-11 .5-7.3-.6-3-1.4M1183.3 613.4l-1 9.3-5.4 9.1-9.4 8.6-12.6 7.6-14.7 6.5-15.7 4.9-15.3 3.4-13.8 1.8-10.9 .4-7.4-.6-3-1.4M1186.4 666.4l-1.2 9.2-5.6 9.2-9.5 8.5-12.7 7.6-14.8 6.4-15.7 4.8-15.3 3.3-13.7 1.8-10.8 .4-7.1-.7-2.9-1.4M1188.1 696.4l-1.1 9.3-5.6 9.1-9.6 8.6-12.7 7.6-14.8 6.3-15.7 4.9-15.3 3.3-13.6 1.7-10.9 .4-7.1-.6-2.8-1.5" fill="none" stroke="#5e5e5e" stroke-width="0.9" stroke-opacity="0.8"/>
<path d="M1141.1 347.1l4.1-3 8.1-1.9 11.2-.5 13.5 1.1 14.7 3.1-1 21.5-14.7-3.2-13.5-1.1-11.3 .5-8 1.9-4.1 3zM1137.3 423.1l.9-3.3 5.1-2.7 8.8-1.6 11.9-.2 13.9 1.6 14.7 3.6-1 21.4-14.7-3.6-13.9-1.6-11.9 .2-8.9 1.6-5 2.7-.9 3.4zM1133.6 495.9l1.9-3.2 6-2.6 9.6-1.3 12.5 .2 14.2 2.1 14.8 4-1 21.4-14.8-4-14.2-2.1-12.5-.2-9.6 1.3-6 2.6-1.9 3.2zM1130.1 568.6l2.9-3.1 6.9-2.3 10.4-1 13 .7 14.4 2.5-1 21.4-14.4-2.5-13-.7-10.4 1-6.9 2.3-2.9 3.1z" fill="#bdbdbd" stroke="#bdbdbd" stroke-width="0.7" stroke-linejoin="round"/>
<path d="M1192.7 345.9l14.6 5.1 13.3 6.8 10.8 8.4 7.6 9.4 3.6 10.1-1.1 21.4-3.6-10.1-7.5-9.4-10.9-8.4-13.3-6.8-14.5-5zM1192.6 420.5l14.4 5.5 12.8 7.2 10.2 8.6 6.7 9.7 2.5 10.1-1 21.4-2.6-10.1-6.6-9.7-10.2-8.6-12.8-7.2-14.4-5.5zM1192.6 495.1l14.1 5.9 12.3 7.6 9.4 9 5.7 9.8 1.6 10.1-1 21.4-1.6-10.1-5.7-9.8-9.5-9-12.2-7.5-14.1-6zM1177.7 565.4l14.8 4.5-1.1 21.4-14.7-4.5z" fill="#cdcdcd" stroke="#cdcdcd" stroke-width="0.7" stroke-linejoin="round"/>
<path d="M1154 356.2l-8.3-2.5-1.1 21.4 8.3 2.6zM1202.2 426.3l-15 3.5-14.8 1.5-13.4-.3-10.8-1.7-7.5-2.8-1 21.4 7.4 2.8 10.9 1.7 13.4 .3 14.8-1.5 15-3.4zM1195.2 500.9l-15.1 2.9-14.6 1.1-12.8-.7-10.2-2-6.5-3-1 21.4 6.5 3 10.1 2 12.9 .7 14.6-1.1 15.1-2.9zM1188.2 575.3l-15.1 2.5-14.3 .6-12.3-1-9.4-2.3-5.6-3.1-1 21.4 5.6 3.1 9.3 2.3 12.3 1 14.3-.6 15.1-2.5z" fill="#e5e5e5" stroke="#e5e5e5" stroke-width="0.7" stroke-linejoin="round"/>
<path d="M1145.7 353.7l-4.4-3.3-.2-3.3-1 21.4 .1 3.3 4.4 3.3zM1228.2 413.9l-11.9 7.1-14.1 5.3-1 21.5 14.1-5.4 11.8-7.1zM1140.7 426.5l-3.4-3.4-1 21.5 3.4 3.3zM1222.1 489.2l-12.5 6.7-14.4 5-1 21.4 14.4-4.9 12.5-6.8zM1136 499.2l-2.4-3.3-1 21.4 2.4 3.3zM1215.9 564.5l-13.1 6.3-14.6 4.5-1.1 21.4 14.7-4.5 13-6.3zM1131.5 572l-1.4-3.4-1 21.4 1.4 3.4z" fill="#e0e0e0" stroke="#e0e0e0" stroke-width="0.7" stroke-linejoin="round"/>
<path d="M1242.6 385.7l-.7 10-1.1 21.5 .7-10.1zM1239.2 461.6l-1.7 10-1 21.4 1.7-10zM1235.7 537.5l-2.7 9.9-1 21.4 2.7-9.9z" fill="#cacaca" stroke="#cacaca" stroke-width="0.7" stroke-linejoin="round"/>
<path d="M1241.9 395.7l-5 9.6-8.7 8.6-1.1 21.4 8.8-8.6 4.9-9.5zM1237.5 471.6l-5.8 9.4-9.6 8.2-1 21.4 9.5-8.2 5.9-9.4zM1233 547.4l-6.8 9.2-10.3 7.9-1.1 21.4 10.4-7.9 6.8-9.2z" fill="#d5d5d5" stroke="#d5d5d5" stroke-width="0.7" stroke-linejoin="round"/>
<path d="M1154 356.2l-8.3-2.5-4.4-3.3-.2-3.3M1152.9 377.7l-8.3-2.6-4.4-3.3-.1-3.3M1242.6 385.7l-.7 10-5 9.6-8.7 8.6-11.9 7.1-14.1 5.3-15 3.5-14.8 1.5-13.4-.3-10.8-1.7-7.5-2.8-3.4-3.4M1241.5 407.1l-.7 10.1-4.9 9.5-8.8 8.6-11.8 7.1-14.1 5.4-15 3.4-14.8 1.5-13.4-.3-10.9-1.7-7.4-2.8-3.4-3.3M1239.2 461.6l-1.7 10-5.8 9.4-9.6 8.2-12.5 6.7-14.4 5-15.1 2.9-14.6 1.1-12.8-.7-10.2-2-6.5-3-2.4-3.3M1238.2 483l-1.7 10-5.9 9.4-9.5 8.2-12.5 6.8-14.4 4.9-15.1 2.9-14.6 1.1-12.9-.7-10.1-2-6.5-3-2.4-3.3M1235.7 537.5l-2.7 9.9-6.8 9.2-10.3 7.9-13.1 6.3-14.6 4.5-15.1 2.5-14.3 .6-12.3-1-9.4-2.3-5.6-3.1-1.4-3.4M1234.7 558.9l-2.7 9.9-6.8 9.2-10.4 7.9-13 6.3-14.7 4.5-15.1 2.5-14.3 .6-12.3-1-9.3-2.3-5.6-3.1-1.4-3.4" fill="none" stroke="#909090" stroke-width="0.9" stroke-opacity="0.8"/>
<path d="M1213 369.9l0-3.3 3.3-3 6.5-2.5 9-1.5 10.9-.2 11.8 1.3 .1 21.4-11.8-1.3-10.9 .2-9 1.5-6.5 2.5-3.3 3.1 0 3.3zM1213.3 416.1l0-3.3 3.3-3.1 6.5-2.5 9-1.4 10.9-.2 11.8 1.2 .2 21.4-11.9-1.2-10.9 .2-9 1.5-6.4 2.4-3.4 3.1 0 3.3zM1213.6 462.2l0-3.2 3.3-3.1 6.5-2.5 9-1.5 10.9-.2 11.8 1.3 .2 21.4-11.9-1.3-10.9 .2-9 1.5-6.4 2.5-3.4 3.1 0 3.3zM1213.9 508.4l0-3.3 3.3-3.1 6.5-2.4 9-1.5 10.9-.2 11.8 1.2 .2 21.5-11.9-1.3-10.8 .2-9.1 1.5-6.4 2.5-3.4 3 0 3.3zM1214.2 554.5l0-3.2 3.3-3.1 6.5-2.5 9-1.5 10.9-.2 11.8 1.3 .2 21.4-11.9-1.3-10.8 .3-9.1 1.4-6.4 2.5-3.4 3.1 0 3.3zM1214.5 600.7l0-3.3 3.3-3.1 6.5-2.4 9-1.5 10.9-.2 11.8 1.2 .2 21.5-11.9-1.3-10.8 .2-9.1 1.5-6.4 2.5-3.4 3 .1 3.3zM1214.8 646.9l0-3.3 3.4-3.1 6.4-2.5 9-1.5 .2 21.5-9.1 1.4-6.4 2.5-3.4 3.1 .1 3.3z" fill="#ced8ce" stroke="#ced8ce" stroke-width="0.7" stroke-linejoin="round"/>
<path d="M1254.5 360.7l11.9 2.7 10.9 4.3 9 5.6 6.5 6.5 3.4 7.3 .2 21.4-3.4-7.2-6.5-6.6-9.1-5.6-10.9-4.2-11.9-2.8zM1254.8 406.8l11.9 2.8 10.9 4.3 9 5.5 6.5 6.6 3.4 7.2 .2 21.5-3.4-7.3-6.5-6.5-9.1-5.6-10.9-4.3-11.8-2.8zM1255.1 453l11.9 2.8 10.9 4.2 9 5.6 6.5 6.6 3.5 7.2 .1 21.4-3.4-7.2-6.5-6.6-9.1-5.6-10.9-4.2-11.8-2.8zM1255.4 499.1l11.9 2.8 10.9 4.3 9 5.5 6.5 6.6 3.5 7.2 .1 21.5-3.4-7.3-6.5-6.5-9.1-5.6-10.9-4.3-11.8-2.7zM1255.7 545.3l11.9 2.8 10.9 4.2 9.1 5.6 6.5 6.6 3.4 7.2 .1 21.4-3.4-7.2-6.5-6.6-9.1-5.5-10.9-4.3-11.8-2.8zM1256 591.4l11.9 2.8 10.9 4.3 9.1 5.5 6.5 6.6 3.4 7.3 .1 21.4-3.4-7.2-6.5-6.6-9.1-5.6-10.9-4.3-11.8-2.7z" fill="#e1ece1" stroke="#e1ece1" stroke-width="0.7" stroke-linejoin="round"/>
<path d="M1277.2 368l-10.8 4.4 .1 21.5 10.9-4.4zM1216.4 373l-3.4-3.1 .1 21.5 3.4 3zM1286.5 408.5l-9 5.7-10.8 4.4 .1 21.4 10.9-4.4 9-5.7zM1216.7 419.1l-3.4-3 .1 21.4 3.4 3.1zM1286.8 454.7l-9 5.6-10.8 4.4 .1 21.5 10.9-4.4 9-5.7zM1217 465.3l-3.4-3.1 .1 21.5 3.4 3zM1287.1 500.8l-9 5.7-10.8 4.4 .1 21.4 10.9-4.4 9-5.6zM1217.3 511.4l-3.4-3 .1 21.4 3.4 3.1zM1287.5 547l-9 5.7-10.9 4.4 .2 21.4 10.8-4.4 9-5.7zM1217.6 557.6l-3.4-3.1 .1 21.5 3.4 3zM1287.8 593.1l-9 5.7-10.9 4.4 .2 21.4 10.8-4.4 9-5.6zM1217.9 603.7l-3.4-3 .2 21.4 3.3 3.1zM1288.1 639.3l-9 5.7-10.9 4.4 .2 21.4 10.8-4.4 9-5.7zM1218.2 649.9l-3.4-3 .2 21.4 3.3 3z" fill="#a7efa7" stroke="#a7efa7" stroke-width="0.7" stroke-linejoin="round"/>
<path d="M1266.4 372.4l-11.8 3-11.9 1.4-10.8-.1-9.1-1.3-6.4-2.4 .1 21.4 6.5 2.4 9 1.4 10.9 0 11.8-1.4 11.8-2.9zM1266.7 418.6l-11.8 2.9-11.8 1.4-10.9 0-9.1-1.4-6.4-2.4 .1 21.5 6.5 2.3 9 1.4 10.9 .1 11.8-1.4 11.8-3zM1267 464.7l-11.8 3-11.8 1.4-10.9-.1-9.1-1.3-6.4-2.4 .1 21.4 6.5 2.4 9 1.4 10.9 0 11.8-1.4 11.8-2.9zM1267.3 510.9l-11.8 2.9-11.8 1.5-10.9-.1-9-1.4-6.5-2.4 .1 21.5 6.5 2.3 9 1.4 10.9 .1 11.8-1.4 11.8-3zM1267.6 557.1l-11.8 2.9-11.8 1.4-10.9-.1-9-1.3-6.5-2.4 .1 21.4 6.5 2.4 9 1.4 10.9 0 11.8-1.4 11.9-2.9zM1267.9 603.2l-11.8 2.9-11.8 1.5-10.9-.1-9-1.4-6.5-2.4 .1 21.5 6.5 2.4 9.1 1.3 10.8 .1 11.8-1.4 11.9-3zM1268.2 649.4l-11.8 2.9-11.8 1.4-10.9-.1-9-1.3-6.5-2.4 .1 21.4 6.5 2.4 9.1 1.4 10.8 0 11.9-1.4 11.8-2.9z" fill="#abf1ab" stroke="#abf1ab" stroke-width="0.7" stroke-linejoin="round"/>
<path d="M1296.2 387.1l.1 7.5 .1 21.4 0-7.5zM1296.5 433.2l.1 7.5 .1 21.5 0-7.5zM1296.9 479.4l0 7.5 .1 21.4 0-7.5zM1297.2 525.5l0 7.5 .1 21.5 0-7.5zM1297.5 571.7l0 7.5 .2 21.4-.1-7.5zM1297.8 617.9l0 7.4 .2 21.5-.1-7.5z" fill="#9cdd9c" stroke="#9cdd9c" stroke-width="0.7" stroke-linejoin="round"/>
<path d="M1296.3 394.6l-3.3 7.2-6.5 6.7 .2 21.4 6.4-6.6 3.3-7.3zM1296.6 440.7l-3.3 7.3-6.5 6.7 .2 21.4 6.4-6.7 3.3-7.2zM1296.9 486.9l-3.3 7.3-6.5 6.6 .2 21.5 6.4-6.7 3.3-7.3zM1297.2 533l-3.3 7.3-6.4 6.7 .1 21.4 6.4-6.7 3.3-7.2zM1297.5 579.2l-3.3 7.3-6.4 6.6 .1 21.5 6.4-6.7 3.4-7.3zM1297.8 625.3l-3.3 7.3-6.4 6.7 .1 21.4 6.4-6.7 3.4-7.2z" fill="#a2e6a2" stroke="#a2e6a2" stroke-width="0.7" stroke-linejoin="round"/>
<path d="M1277.2 368l-10.8 4.4-11.8 3-11.9 1.4-10.8-.1-9.1-1.3-6.4-2.4-3.4-3.1M1277.4 389.5l-10.9 4.4-11.8 2.9-11.8 1.4-10.9 0-9-1.4-6.5-2.4-3.4-3M1296.2 387.1l.1 7.5-3.3 7.2-6.5 6.7-9 5.7-10.8 4.4-11.8 2.9-11.8 1.4-10.9 0-9.1-1.4-6.4-2.4-3.4-3M1296.4 408.5l0 7.5-3.3 7.3-6.4 6.6-9 5.7-10.9 4.4-11.8 3-11.8 1.4-10.9-.1-9-1.4-6.5-2.3-3.4-3.1M1296.5 433.2l.1 7.5-3.3 7.3-6.5 6.7-9 5.6-10.8 4.4-11.8 3-11.8 1.4-10.9-.1-9.1-1.3-6.4-2.4-3.4-3.1M1296.7 454.7l0 7.5-3.3 7.2-6.4 6.7-9 5.7-10.9 4.4-11.8 2.9-11.8 1.4-10.9 0-9-1.4-6.5-2.4-3.4-3M1296.9 479.4l0 7.5-3.3 7.3-6.5 6.6-9 5.7-10.8 4.4-11.8 2.9-11.8 1.5-10.9-.1-9-1.4-6.5-2.4-3.4-3M1297 500.8l0 7.5-3.3 7.3-6.4 6.7-9 5.6-10.9 4.4-11.8 3-11.8 1.4-10.9-.1-9-1.4-6.5-2.3-3.4-3.1M1297.2 525.5l0 7.5-3.3 7.3-6.4 6.7-9 5.7-10.9 4.4-11.8 2.9-11.8 1.4-10.9-.1-9-1.3-6.5-2.4-3.4-3.1M1297.3 547l0 7.5-3.3 7.2-6.4 6.7-9 5.7-10.8 4.4-11.9 2.9-11.8 1.4-10.9 0-9-1.4-6.5-2.4-3.4-3M1297.5 571.7l0 7.5-3.3 7.3-6.4 6.6-9 5.7-10.9 4.4-11.8 2.9-11.8 1.5-10.9-.1-9-1.4-6.5-2.4-3.4-3M1297.6 593.1l.1 7.5-3.4 7.3-6.4 6.7-9 5.6-10.8 4.4-11.9 3-11.8 1.4-10.8-.1-9.1-1.3-6.5-2.4-3.3-3.1M1297.8 617.9l0 7.4-3.3 7.3-6.4 6.7-9 5.7-10.9 4.4-11.8 2.9-11.8 1.4-10.9-.1-9-1.3-6.5-2.4-3.4-3M1297.9 639.3l.1 7.5-3.4 7.2-6.4 6.7-9 5.7-10.8 4.4-11.8 2.9-11.9 1.4-10.8 0-9.1-1.4-6.5-2.4-3.3-3" fill="none" stroke="#6a976a" stroke-width="0.9" stroke-opacity="0.8"/>
<polyline points="1182.4,512.3 1171,523.8 1163.1,519.5 1166.6,503.7 1178,492.2 1185.9,496.5 1182.4,512.3" fill="none" stroke="#999" stroke-width="4" stroke-linecap="round" stroke-linejoin="round"/><polyline points="1182.4,512.3 1171,523.8 1163.1,519.5 1166.6,503.7 1178,492.2 1185.9,496.5 1182.4,512.3" fill="none" stroke="#e8e8e8" stroke-width="2.4" stroke-linecap="round" stroke-linejoin="round"/>
<polyline points="1126.5,578 1149.5,560 1179.5,576 1199.5,586" fill="none" stroke="#555" stroke-width="6.1" stroke-linecap="round" stroke-linejoin="round"/><polyline points="1126.5,578 1149.5,560 1179.5,576 1199.5,586" fill="none" stroke="#666" stroke-width="4.5" stroke-linecap="round" stroke-linejoin="round"/>
<polyline points="1174.6,406.2 1184.2,424.4 1164,439.7 1177.4,456 1161.2,472.3 1169.8,491.4 1189,497.2 1198.5,518.3 1181.3,535.5 1200.4,535.5 1196.6,547 1211.9,547 1227.3,577.7 1240.7,583.4" fill="none" stroke="#c89a20" stroke-width="7.9" stroke-linecap="round" stroke-linejoin="round"/><polyline points="1174.6,406.2 1184.2,424.4 1164,439.7 1177.4,456 1161.2,472.3 1169.8,491.4 1189,497.2 1198.5,518.3 1181.3,535.5 1200.4,535.5 1196.6,547 1211.9,547 1227.3,577.7 1240.7,583.4" fill="none" stroke="#f8c83c" stroke-width="6.5" stroke-linecap="round" stroke-linejoin="round"/>
<polyline points="1240.7,583.4 1265.6,579.6 1275.1,573.8 1321.1,550.8 1340.3,512.5 1338.4,499.1 1322.1,468.5 1306.8,460.8 1290.5,468.5 1272.3,474.2 1265.6,489.5 1275.1,512.5 1265.6,525.9 1269.4,541.3" fill="none" stroke="#c89a20" stroke-width="7.9" stroke-linecap="round" stroke-linejoin="round"/><polyline points="1240.7,583.4 1265.6,579.6 1275.1,573.8 1321.1,550.8 1340.3,512.5 1338.4,499.1 1322.1,468.5 1306.8,460.8 1290.5,468.5 1272.3,474.2 1265.6,489.5 1275.1,512.5 1265.6,525.9 1269.4,541.3" fill="none" stroke="#f8c83c" stroke-width="6.5" stroke-linecap="round" stroke-linejoin="round"/>
<polyline points="1242,585 1258,600 1270,620" fill="none" stroke="#f8c83c" stroke-width="5" stroke-linecap="round" stroke-linejoin="round"/>
<polyline points="1239,583 1250,585 1262,612 1268,627 1266,645 1264,655" fill="none" stroke="#ee3a3a" stroke-width="4.5" stroke-linecap="round" stroke-linejoin="round"/>
<polyline points="1283,582 1280,603 1272,615 1284,622" fill="none" stroke="#ee3a3a" stroke-width="4.5" stroke-linecap="round" stroke-linejoin="round"/>
<polyline points="1268,627 1272,630" fill="none" stroke="#ee8800" stroke-width="6" stroke-linecap="round" stroke-linejoin="round"/>
<polyline points="1264,655 1280,668 1266,674 1255,695" fill="none" stroke="#f8c83c" stroke-width="5" stroke-linecap="round" stroke-linejoin="round"/>
<polyline points="1250,662 1266,674" fill="none" stroke="#f8c83c" stroke-width="5" stroke-linecap="round" stroke-linejoin="round"/>
<polyline points="1262,671 1268,676" fill="none" stroke="#2233ee" stroke-width="6" stroke-linecap="round" stroke-linejoin="round"/>
<polyline points="1233,545 1240,568 1250,585" fill="none" stroke="#22e022" stroke-width="5.5" stroke-linecap="round" stroke-linejoin="round"/>
<polyline points="1228,545 1246,546" fill="none" stroke="#22e022" stroke-width="5.5" stroke-linecap="round" stroke-linejoin="round"/>
<polyline points="1228,482 1246,492 1258,487 1246,492 1245,512 1260,522" fill="none" stroke="#22e022" stroke-width="5.5" stroke-linecap="round" stroke-linejoin="round"/>
<polyline points="1167,498 1165,517" fill="none" stroke="#111" stroke-width="3.6" stroke-dasharray="0.1 5.2" stroke-linecap="round"/>
<polyline points="1202,533 1242,513" fill="none" stroke="#111" stroke-width="3.6" stroke-dasharray="0.1 5.2" stroke-linecap="round"/>
<polyline points="1181,540 1179,578" fill="none" stroke="#111" stroke-width="3.6" stroke-dasharray="0.1 5.2" stroke-linecap="round"/>
<polyline points="1250,605 1249,615" fill="none" stroke="#111" stroke-width="3.6" stroke-dasharray="0.1 5.2" stroke-linecap="round"/>
<polyline points="1253,587 1265,578" fill="none" stroke="#111" stroke-width="3.6" stroke-dasharray="0.1 5.2" stroke-linecap="round"/>
<polyline points="1264,582 1290,598" fill="none" stroke="#111" stroke-width="1.8" stroke-linecap="round" stroke-linejoin="round"/>
</g>
<rect x="1075.6" y="389.1" width="272.8" height="305.3" fill="none" stroke="#111" stroke-width="2.2"/>
<text x="1113.8" y="410" font-size="19.5" font-weight="bold" fill="#c0c0c0" stroke="#c0c0c0" stroke-width="0.7" stroke-linejoin="round" textLength="44" lengthAdjust="spacingAndGlyphs">GP2</text><text x="1158.2" y="414" font-size="13" font-weight="bold" fill="#c0c0c0" stroke="#c0c0c0" stroke-width="0.7" stroke-linejoin="round">C</text>
<text x="1293.8" y="431" font-size="19.5" font-weight="bold" fill="#22cc22" stroke="#22cc22" stroke-width="0.7" stroke-linejoin="round" textLength="40" lengthAdjust="spacingAndGlyphs">SSP</text><text x="1334.2" y="435" font-size="13" font-weight="bold" fill="#22cc22" stroke="#22cc22" stroke-width="0.7" stroke-linejoin="round">A</text>
<text x="1233.8" y="477.5" font-size="19.5" font-weight="bold" fill="#22d622" stroke="#0a4a0a" stroke-width="2.4" paint-order="stroke" stroke-linejoin="round" textLength="33.8" lengthAdjust="spacingAndGlyphs">I29</text>
<text x="1118.8" y="510" font-size="20.5" textLength="45" lengthAdjust="spacingAndGlyphs">3.9Å</text>
<text x="1196.2" y="510" font-size="20.5" textLength="44" lengthAdjust="spacingAndGlyphs">3.8Å</text>
<text x="1112" y="540" font-size="19.5" font-weight="bold" fill="#e6e6e6" stroke="#444" stroke-width="2.4" paint-order="stroke" stroke-linejoin="round" textLength="53.5" lengthAdjust="spacingAndGlyphs">F433</text>
<text x="1132.5" y="563.8" font-size="20.5" textLength="43.8" lengthAdjust="spacingAndGlyphs">4.2Å</text>
<text x="1250" y="566" font-size="19.5" font-weight="bold" fill="#22d622" stroke="#0a4a0a" stroke-width="2.4" paint-order="stroke" stroke-linejoin="round" textLength="42.5" lengthAdjust="spacingAndGlyphs">K33</text>
<text x="1141.2" y="610" font-size="19.5" font-weight="bold" fill="#5a5a5a" stroke="#222" stroke-width="2.4" paint-order="stroke" stroke-linejoin="round" textLength="53.2" lengthAdjust="spacingAndGlyphs">F438</text>
<text x="1202.5" y="616.2" font-size="20.5" textLength="44" lengthAdjust="spacingAndGlyphs">2.7Å</text>
<text x="1291" y="607.5" font-size="20.5" textLength="45" lengthAdjust="spacingAndGlyphs">2.9Å</text>
<text x="1282.5" y="657.5" font-size="19.5" font-weight="bold" fill="#ecc640" stroke="#5a4a10" stroke-width="2.4" paint-order="stroke" stroke-linejoin="round" textLength="61.2" lengthAdjust="spacingAndGlyphs">POPC</text>
<text x="1155" y="690" font-size="19.5" font-weight="bold" fill="#6b6b6b" stroke="#6b6b6b" stroke-width="0.7" stroke-linejoin="round" textLength="40" lengthAdjust="spacingAndGlyphs">GP2</text><text x="1195.5" y="694" font-size="13" font-weight="bold" fill="#6b6b6b" stroke="#6b6b6b" stroke-width="0.7" stroke-linejoin="round">B</text>
<g clip-path="url(#ci)">
<path d="M1471 509l2-6-4-5 3-5-3-6 3-5-4-6 4-5M1468 476l6-4M1656 665l-7 2 2 6-6 3 0 6-6 3 3 6-5 3 2 6M1650 415l5-4-4-6 6-2 1-7 6-2-2-6 4-5M1675 664l1 6 6 2 0 6 6 3-1 6 6 1 2 6 6 2M1693 688l5-5M1471 428l4-5-4-6 6-3-3-6 6-3 0-6 6-2-3-6 5-4-4-5 3-6-6-2M1467 566l-2 6 5 5-4 5 5 4-2 6 4 5-4 5 4 6-4 4 5 5M1600 687l-4 5 4 6-4 5 3 6-6 2 3 6-4 5 4 5-6 3 4 5-3 6M1592 722l6-2M1512 414l3 5 7 0 0 6 6 0 3 6 6-3 3 6 7-1 2 6M1547 433l-1 6M1492 456l-4 5 5 4-5 5 4 5-5 5 3 6-4 4M1692 659l-5-3-5 4-5-4-4 5-6-2-3 5-5-3M1498 415l-6-3-3 6-5-4-6 4-6-3-5 4-4-5-5 4-6-3-2 6-6-3-5 4M1489 418l-2-7M1510 659l-1-6-7 0-2-7-6-1 2-7-5-4 4-5-4-5 4-6-6-3M1492 540l-3 6 5 4-2 6 6 2-3 5 4 6-2 6 5 3 0 6M1494 550l-5 4M1699 549l0-7-7 2-1-7-6-1 0-6-6-3 3-6M1541 671l6-2-4-6 4-5-4-6 5-4-1-6 6-1 1-7M1572 677l5-5-3-6 6-1-1-7 6 0 2-7 7 1 0-6 6-1M1640 388l-7 2-1 6-6 2 1 6-7 0 1 7-7 2 2 6-5 4 3 5-4 5M1571 668l6 2 4-5 4 4 6-3 3 6 6-3 5 5 5-5 3 5 6-3M1580 672l-5-5-6 3-1-7-6 3-3-6-6 1-2-6-7 0-1-6-7 0 1-6M1690 471l5 4 6-2 4 4 6-2 4 6M1717 537l0 7 7-1 0 6 6-1 4 5M1583 432l6-1-3-6 6-3-1-7 6-3M1632 427l3-6-6-4 4-5-5-4 3-6-5-4 3-6-5-3 3-6-4-5 3-6-3-5M1516 439l-6 2 2 6-7 1-1 6-7 1-2 6M1535 408l6 2 4-4 6 2 5-5 6 3 5-4 4 5 6-3 4 5 5-4 5 4M1547 395l-4 5 5 4-1 7 6 3-1 6 5 3-4 6 6 3-4 6M1557 423l-7 0" fill="none" stroke="#1a9aa2" stroke-width="1.15" stroke-linejoin="round"/><path d="M1449 617l6-1-1-7 6-2-2-6 5-4-1-6 6-3-2-6M1452 531l-6 2 1 6-6 3 0 6-6 0-3 5-6-3-4 5-6-3-4 5-6-2-3 6M1550 400l-3-5-7 1-3-6-7 0-1-6-6 2-4-5-5 4-4-6-5 4" fill="none" stroke="#e070b0" stroke-width="1.15" stroke-linejoin="round"/><path d="M1571 427l0 7 7 1-3 6 5 4-3 6 5 3-3 5 5 3-1 7 6 1M1579 459l-4 6M1672 395l-1-6-7 1-3-6-6 1-3-6-6 2-2-6-6 1-4-6M1646 381l-2 7M1458 463l0-6-6-2 1-7-6-2 2-6-6-4 1-6-7 0 0-6-6-3 3-5-5-4M1447 446l6-5M1559 689l-1 7 6 3-3 6 5 5-4 5 5 3-2 6M1460 502l-1 6 7 2-3 6 7 1 1 7 6-2 2 7 6-1 3 6M1459 508l-1 7M1602 657l0-7-6-3 3-6-5-5 3-5-5-4 1-6M1440 412l-2-6-6 2-4-5-6 1-3-7-6 2-2-6-6 3-3-6M1432 408l-5 5M1467 589l-7-2-2 6-6-3-4 5-6-2-2 6-6 1-2 6-6 1-2 6M1607 428l0 6 7 2 2 6 6 1 1 7 6-1 1 7 6 2M1491 415l-7 0 1 7-5 3 3 5-6 4 4 6-4 4 4 5-2 6 4 5-3 5 3 6M1547 410l7 0 0-6 5-3-4-5 4-6-4-5 3-6-7-1M1696 514l-4-6-6 1-4-6-6 1-2-6-6 0-2-7-6 0-3-5M1674 498l-1-7M1491 657l4-5-5-3 3-6-6-3 0-7-7 0 0-6-6-3 1-6-7-1M1560 392l-4-5-6 3-4-6-6 4-5-4-4 5M1696 669l-3-5-6 0-3-6-6 0 0-7" fill="none" stroke="#e07418" stroke-width="1.15" stroke-linejoin="round"/><path d="M1563 430l5 4 5-3 5 4 5-3 4 5 6-2 1 7 7 1 0 6 7-1 4 5 6-1M1704 601l7-2 0-7 7-1 1-6 7-1M1680 692l-5 5 4 6-4 5 4 5-4 6 4 5M1523 401l-5 4 4 5-4 5 5 5-3 6 7 1M1518 415l5-5M1628 668l-5 4 3 5-5 5 5 4-3 6 5 4-1 6 6 3M1456 395l-3 6 7 2-1 7 6 0 3 6 6-4 4 5 6-2 4 5M1603 388l-2-7-6-2 3-6-6-3 2-6-5-3 4-5-5-5M1593 356l-7 0M1696 442l3-5-5-3 0-7-6 1-3-6-7 1-2-6-6 3-4-5-6 1-1-7M1520 671l-5 4 4 6-3 5 6 3 0 7 7-1 2 6 6 0 1 6M1579 681l-7 1 2 6-6 3 3 6-6 2-1 7-7-2M1574 688l3 7M1471 460l-1-6-7 1-3-5-6 3-4-5-6 3M1460 450l0-7M1705 644l-5 5 5 4-3 6 7 2 0 7 6-1 2 7 6 1 0 7 6 0M1715 482l-3-6-6 4-5-3-3 6-6-3-4 5M1706 480l-2-6M1561 429l6-2 0-7 6-2-3-6 5-5-3-6 5-5-5-5 6-3-2-7 4-4-3-6M1573 418l-7-1M1471 465l6-3-1-6 6-3 0-6 7 1 3-5 6 1 3-7 6 2 1-7 7 2M1482 453l6 5M1494 520l2 6 6 2-2 6 6 4-1 6 6 2-1 7 6 2-2 6 5 4-2 6 4 4M1580 425l-2 6 5 4-4 5 4 5-3 6 4 4-3 6 3 5-3 6 6 2M1584 455l6-4M1463 460l5 5 5-4 4 5 6-2 4 5 5-4 5 4 5-3 4 5M1502 466l0-7M1654 394l1 7 6 1 0 6 6 0 0 7 6 0 0 7 6 3-3 5 4 5-4 6 5 4" fill="none" stroke="#d0106a" stroke-width="1.15" stroke-linejoin="round"/><path d="M1719 400l-1 7 5 3-4 6 3 6-6 3 2 6-7 2-1 6-6 0-3 6-6 1" fill="none" stroke="#a6cc22" stroke-width="1.15" stroke-linejoin="round"/><path d="M1549 390l-4 4 4 5-4 6 6 3-3 5 4 5-5 4 4 5-2 6 6 3 0 6 6 2M1487 676l6 3 5-3 4 4 6-2 3 6 7-1 1 6M1502 680l-3 7M1713 413l-7-2-3 6-6-1-3 6-6-2-1 6-7 0-2 6" fill="none" stroke="#6a6ab8" stroke-width="1.15" stroke-linejoin="round"/>
<polyline points="1455,392 1462,410 1470,425 1466,440 1476,455 1470,470 1480,485 1478,498 1486,510" fill="none" stroke="#b86090" stroke-width="5" stroke-linecap="round" stroke-linejoin="round"/><polyline points="1455,392 1462,410 1470,425 1466,440 1476,455 1470,470 1480,485 1478,498 1486,510" fill="none" stroke="#f29ad0" stroke-width="4" stroke-linecap="round" stroke-linejoin="round"/>
<polyline points="1505,535 1512,550 1518,560 1530,565 1540,568 1550,572" fill="none" stroke="#b86090" stroke-width="5" stroke-linecap="round" stroke-linejoin="round"/><polyline points="1505,535 1512,550 1518,560 1530,565 1540,568 1550,572" fill="none" stroke="#f29ad0" stroke-width="4" stroke-linecap="round" stroke-linejoin="round"/>
<polyline points="1630,430 1650,440 1668,436 1690,442 1715,440" fill="none" stroke="#b86090" stroke-width="5" stroke-linecap="round" stroke-linejoin="round"/><polyline points="1630,430 1650,440 1668,436 1690,442 1715,440" fill="none" stroke="#f29ad0" stroke-width="4" stroke-linecap="round" stroke-linejoin="round"/>
<polyline points="1600,470 1605,485 1598,500 1610,510" fill="none" stroke="#b86090" stroke-width="5" stroke-linecap="round" stroke-linejoin="round"/><polyline points="1600,470 1605,485 1598,500 1610,510" fill="none" stroke="#f29ad0" stroke-width="4" stroke-linecap="round" stroke-linejoin="round"/>
<path d="M1606.8 417.1l3.1-1.2 3.8 .7 4.1 2.7 3.9 4.5 3.2 5.8-6.2 2.9-3.2-5.8-3.8-4.5-4.1-2.7-3.8-.7-3.2 1.2zM1593.2 423.5l3.1-1.2 3.9 .7 4 2.8 3.9 4.4 3.2 5.8-6.1 2.9-3.2-5.8-3.9-4.4-4.1-2.8-3.8-.7-3.1 1.3zM1579.6 430l3.2-1.3 3.8 .8 4.1 2.7 3.8 4.4 3.2 5.8-6.1 2.9-3.2-5.7-3.9-4.5-4-2.7-3.9-.8-3.1 1.3zM1566.1 436.4l3.1-1.3 3.8 .8 4.1 2.7 3.9 4.5 3.2 5.8-6.2 2.9-3.2-5.8-3.8-4.5-4.1-2.7-3.8-.7-3.2 1.2zM1552.5 442.8l3.1-1.2 3.9 .7 4 2.7 3.9 4.5 3.2 5.8-6.2 2.9-3.2-5.8-3.8-4.5-4.1-2.7-3.8-.7-3.2 1.2zM1538.9 449.3l3.2-1.3 3.8 .7 4.1 2.8 3.8 4.4 3.2 5.8-6.1 2.9-3.2-5.8-3.9-4.4-4.1-2.7-3.8-.8-3.1 1.3zM1525.3 455.7l3.2-1.3 3.8 .8 4.1 2.7 3.8 4.5 3.2 5.7-6.1 3-3.2-5.8-3.9-4.5-4-2.7-3.9-.8-3.1 1.3z" fill="#a7a7a7" stroke="#a7a7a7" stroke-width="0.7" stroke-linejoin="round"/>
<path d="M1624.9 429.6l2.1 6.6 .9 6.7-.6 6.4-2.1 5.3-3.5 3.7-6.1 2.9 3.4-3.7 2.1-5.3 .6-6.4-.8-6.7-2.2-6.6zM1611.3 436l2.2 6.6 .8 6.8-.6 6.3-2.1 5.3-3.4 3.8-6.2 2.9 3.4-3.8 2.1-5.3 .7-6.3-.9-6.8-2.1-6.6zM1597.7 442.4l2.2 6.6 .8 6.8-.6 6.3-2.1 5.3-3.4 3.8-6.2 2.9 3.5-3.8 2.1-5.3 .6-6.3-.9-6.8-2.1-6.6zM1584.2 448.9l2.1 6.6 .9 6.7-.7 6.4-2.1 5.2-3.4 3.8-6.1 2.9 3.4-3.7 2.1-5.3 .6-6.4-.8-6.7-2.2-6.6zM1570.6 455.3l2.2 6.6 .8 6.8-.6 6.3-2.1 5.3-3.5 3.7-6.1 3 3.4-3.8 2.1-5.3 .6-6.3-.8-6.8-2.2-6.6zM1557 461.7l2.2 6.6 .8 6.8-.6 6.3-2.1 5.3-3.4 3.8-6.2 2.9 3.5-3.8 2.1-5.3 .6-6.3-.9-6.8-2.1-6.6zM1543.4 468.1l2.2 6.6 .8 6.8-.6 6.3-2.1 5.3-3.4 3.8-6.1 2.9 3.4-3.8 2.1-5.3 .6-6.3-.8-6.8-2.2-6.5z" fill="#b4b4b4" stroke="#b4b4b4" stroke-width="0.7" stroke-linejoin="round"/>
<path d="M1625.6 453.7l-5.4-2.1-6.2 2.9 5.5 2.1zM1617.2 460.2l-5.2-.1-5.4-2-6.1 2.9 5.4 2 5.2 .1zM1603.7 466.7l-5.2-.1-5.5-2.1-6.1 2.9 5.4 2.1 5.2 .1zM1590.1 473.1l-5.2-.1-5.4-2.1-6.2 2.9 5.5 2.1 5.1 .1zM1576.5 479.5l-5.2-.1-5.4-2.1-6.1 2.9 5.4 2.1 5.2 .1zM1562.9 485.9l-5.1-.1-5.5-2-6.1 2.9 5.4 2.1 5.2 .1zM1549.4 492.4l-5.2-.1-5.4-2.1-6.2 2.9 5.4 2.1 5.2 .1zM1535.8 498.8l-5.2-.1-6.1 2.9 5.2 .1z" fill="#737373" stroke="#737373" stroke-width="0.7" stroke-linejoin="round"/>
<path d="M1620.2 451.6l-5.2-3.8-4.6-5.1-6.1 2.9 4.5 5.1 5.2 3.8zM1604.7 420.2l2.1-3.1-6.2 2.9-2 3.2zM1606.6 458.1l-5.2-3.9-4.6-5.1-6.1 2.9 4.6 5.1 5.2 3.9zM1591.1 426.7l2.1-3.2-6.1 3-2.1 3.1zM1593 464.5l-5.2-3.8-4.5-5.2-6.2 2.9 4.6 5.2 5.2 3.8zM1577.6 433.1l2-3.1-6.1 2.9-2.1 3.1zM1579.5 470.9l-5.2-3.8-4.6-5.2-6.1 3 4.5 5.1 5.2 3.8zM1564 439.5l2.1-3.1-6.2 2.9-2.1 3.1zM1565.9 477.3l-5.2-3.8-4.6-5.1-6.1 2.9 4.5 5.1 5.3 3.8zM1550.4 446l2.1-3.2-6.2 2.9-2 3.2zM1552.3 483.8l-5.2-3.9-4.5-5.1-6.2 2.9 4.6 5.2 5.2 3.8zM1536.8 452.4l2.1-3.1-6.1 2.9-2.1 3.1zM1538.8 490.2l-5.3-3.8-4.5-5.2-6.2 2.9 4.6 5.2 5.2 3.8zM1523.3 458.8l2-3.1-6.1 2.9-2.1 3.1z" fill="#7a7a7a" stroke="#7a7a7a" stroke-width="0.7" stroke-linejoin="round"/>
<path d="M1610.4 442.7l-3.5-6-2.2-6.1-.7-5.7 .7-4.7-6.1 3-.8 4.6 .8 5.7 2.1 6.1 3.6 6zM1596.8 449.1l-3.5-6-2.2-6.1-.7-5.7 .7-4.6-6.1 2.9-.8 4.6 .8 5.7 2.2 6.1 3.5 6zM1583.3 455.5l-3.5-5.9-2.2-6.2-.8-5.6 .8-4.7-6.2 2.9-.7 4.7 .7 5.6 2.2 6.2 3.5 5.9zM1569.7 461.9l-3.5-5.9-2.2-6.1-.8-5.7 .8-4.7-6.2 2.9-.7 4.7 .7 5.7 2.2 6.1 3.6 6zM1556.1 468.4l-3.5-6-2.2-6.1-.7-5.7 .7-4.6-6.1 2.9-.8 4.6 .8 5.7 2.2 6.1 3.5 6zM1542.6 474.8l-3.6-5.9-2.2-6.2-.7-5.7 .7-4.6-6.1 2.9-.7 4.6 .7 5.7 2.2 6.2 3.5 5.9zM1529 481.2l-3.5-5.9-2.2-6.1-.8-5.7 .8-4.7-6.2 2.9-.7 4.7 .7 5.7 2.2 6.1 3.5 5.9z" fill="#828282" stroke="#828282" stroke-width="0.7" stroke-linejoin="round"/>
<path d="M1621.7 458.3l-4.5 1.9-6.1 2.9 4.5-1.9zM1608.2 464.8l-4.5 1.9-6.2 2.9 4.5-1.9zM1594.6 471.2l-4.5 1.9-6.2 2.9 4.5-1.9zM1581 477.6l-4.5 1.9-6.1 2.9 4.5-1.9zM1567.4 484l-4.5 1.9-6.1 3 4.5-1.9zM1553.9 490.5l-4.5 1.9-6.2 2.9 4.5-1.9zM1540.3 496.9l-4.5 1.9-6.1 2.9 4.5-1.9z" fill="#6c6c6c" stroke="#6c6c6c" stroke-width="0.7" stroke-linejoin="round"/>
<path d="M1625.6 453.7l-5.4-2.1-5.2-3.8-4.6-5.1-3.5-6-2.2-6.1-.7-5.7 .7-4.7 2.1-3.1M1619.5 456.6l-5.5-2.1-5.2-3.8-4.5-5.1-3.6-6-2.1-6.1-.8-5.7 .8-4.6 2-3.2M1621.7 458.3l-4.5 1.9-5.2-.1-5.4-2-5.2-3.9-4.6-5.1-3.5-6-2.2-6.1-.7-5.7 .7-4.6 2.1-3.2M1615.6 461.2l-4.5 1.9-5.2-.1-5.4-2-5.2-3.9-4.6-5.1-3.5-6-2.2-6.1-.8-5.7 .8-4.6 2.1-3.1M1608.2 464.8l-4.5 1.9-5.2-.1-5.5-2.1-5.2-3.8-4.5-5.2-3.5-5.9-2.2-6.2-.8-5.6 .8-4.7 2-3.1M1602 467.7l-4.5 1.9-5.2-.1-5.4-2.1-5.2-3.8-4.6-5.2-3.5-5.9-2.2-6.2-.7-5.6 .7-4.7 2.1-3.1M1594.6 471.2l-4.5 1.9-5.2-.1-5.4-2.1-5.2-3.8-4.6-5.2-3.5-5.9-2.2-6.1-.8-5.7 .8-4.7 2.1-3.1M1588.4 474.1l-4.5 1.9-5.1-.1-5.5-2.1-5.2-3.8-4.5-5.1-3.6-6-2.2-6.1-.7-5.7 .7-4.7 2.1-3.1M1581 477.6l-4.5 1.9-5.2-.1-5.4-2.1-5.2-3.8-4.6-5.1-3.5-6-2.2-6.1-.7-5.7 .7-4.6 2.1-3.2M1574.9 480.5l-4.5 1.9-5.2-.1-5.4-2.1-5.3-3.8-4.5-5.1-3.5-6-2.2-6.1-.8-5.7 .8-4.6 2-3.2M1567.4 484l-4.5 1.9-5.1-.1-5.5-2-5.2-3.9-4.5-5.1-3.6-5.9-2.2-6.2-.7-5.7 .7-4.6 2.1-3.1M1561.3 487l-4.5 1.9-5.2-.1-5.4-2.1-5.2-3.8-4.6-5.2-3.5-5.9-2.2-6.2-.7-5.7 .7-4.6 2.1-3.1M1553.9 490.5l-4.5 1.9-5.2-.1-5.4-2.1-5.3-3.8-4.5-5.2-3.5-5.9-2.2-6.1-.8-5.7 .8-4.7 2-3.1M1547.7 493.4l-4.5 1.9-5.2-.1-5.4-2.1-5.2-3.8-4.6-5.2-3.5-5.9-2.2-6.1-.7-5.7 .7-4.7 2.1-3.1M1540.3 496.9l-4.5 1.9-5.2-.1M1534.2 499.8l-4.5 1.9-5.2-.1" fill="none" stroke="#4b4b4b" stroke-width="0.9" stroke-opacity="0.8"/>
<path d="M1453 618.9l-2.6-3.5-1.1-5.2 .5-6.5 2.1-7.1 3.6-6.9 6.3 2.7-3.7 7-2.1 7-.5 6.5 1.2 5.3 2.6 3.4zM1466.7 624.9l-2.6-3.5-1.2-5.2 .5-6.5 2.1-7.1 3.7-6.9 6.2 2.7-3.6 7-2.2 7-.5 6.5 1.2 5.3 2.6 3.4zM1480.3 630.9l-2.6-3.5-1.2-5.2 .5-6.5 2.2-7.1 3.6-6.9 6.2 2.7-3.6 7-2.1 7-.5 6.5 1.1 5.3 2.6 3.4zM1493.9 636.9l-2.6-3.5-1.1-5.2 .5-6.5 2.1-7.1 3.7-6.9 6.2 2.7-3.7 7-2.1 7-.5 6.5 1.2 5.3 2.6 3.4zM1507.6 642.9l-2.6-3.5-1.2-5.2 .5-6.5 2.1-7.1 3.7-6.9 6.2 2.7-3.6 7-2.2 7-.5 6.5 1.2 5.3 2.6 3.4zM1521.2 648.9l-2.6-3.5-1.1-5.2 .4-6.5 2.2-7.1 3.6-6.9 6.2 2.7-3.6 7-2.1 7-.5 6.5 1.1 5.3 2.6 3.4z" fill="#dadada" stroke="#dadada" stroke-width="0.7" stroke-linejoin="round"/>
<path d="M1455.5 589.7l4.9-6.1 5.7-4.6 6-2.7 5.8-.4 5.1 1.9 6.2 2.7-5.1-1.9-5.8 .5-6 2.6-5.7 4.7-4.8 6zM1469.2 595.7l4.8-6.1 5.7-4.6 6-2.7 5.8-.4 5.1 1.9 6.3 2.7-5.1-1.9-5.8 .5-6 2.6-5.7 4.7-4.9 6zM1482.8 601.7l4.9-6.1 5.7-4.6 6-2.7 5.8-.4 5.1 1.9 6.2 2.7-5.1-1.9-5.8 .5-6 2.6-5.7 4.7-4.9 6zM1496.5 607.7l4.8-6.1 5.7-4.6 6-2.7 5.8-.4 5.1 1.9 6.2 2.7-5.1-1.9-5.8 .5-6 2.6-5.7 4.7-4.8 6zM1510.1 613.7l4.9-6.1 5.6-4.6 6-2.7 5.9-.4 5.1 1.9 6.2 2.7-5.1-1.9-5.8 .5-6 2.6-5.7 4.7-4.9 6zM1523.7 619.7l4.9-6.1 6.2 2.8-4.9 6z" fill="#eeeeee" stroke="#eeeeee" stroke-width="0.7" stroke-linejoin="round"/>
<path d="M1470.2 610.6l-4.3 5.3-4.7 3.2-4.4 1.1 6.2 2.7 4.4-1 4.7-3.3 4.3-5.2zM1489.6 602.4l-2.3 7.6-3.5 6.6-4.3 5.3-4.6 3.2-4.5 1.1 6.2 2.7 4.5-1 4.6-3.3 4.3-5.2 3.5-6.7 2.3-7.5zM1503.2 608.4l-2.2 7.6-3.5 6.6-4.4 5.3-4.6 3.2-4.4 1.1 6.2 2.7 4.4-1 4.7-3.3 4.3-5.2 3.5-6.7 2.3-7.5zM1516.9 614.4l-2.3 7.6-3.5 6.6-4.3 5.3-4.7 3.2-4.4 1.1 6.2 2.7 4.5-1 4.6-3.3 4.3-5.2 3.5-6.7 2.3-7.5zM1530.5 620.4l-2.3 7.6-3.5 6.6-4.3 5.3-4.6 3.2-4.5 1.1 6.2 2.7 4.5-1 4.6-3.3 4.4-5.2 3.5-6.7 2.2-7.5zM1544.2 626.4l-2.3 7.6-3.5 6.6-4.4 5.3-4.6 3.2-4.4 1.1 6.2 2.7 4.4-1 4.7-3.3 4.3-5.2 3.5-6.7 2.3-7.5z" fill="#dfdfdf" stroke="#dfdfdf" stroke-width="0.7" stroke-linejoin="round"/>
<path d="M1456.8 620.2l-3.8-1.3 6.3 2.7 3.7 1.3zM1489.5 587.7l.9 7.1-.8 7.6 6.2 2.8 .8-7.7-.9-7.1zM1470.4 626.2l-3.7-1.3 6.2 2.7 3.7 1.3zM1503.1 593.7l.9 7.1-.8 7.6 6.3 2.8 .7-7.7-.8-7.1zM1484.1 632.2l-3.8-1.3 6.2 2.7 3.8 1.3zM1516.8 599.7l.9 7.1-.8 7.6 6.2 2.8 .8-7.7-.9-7.1zM1497.7 638.2l-3.8-1.3 6.3 2.7 3.7 1.3zM1530.4 605.7l.9 7.1-.8 7.6 6.2 2.8 .8-7.7-.9-7.1zM1511.3 644.2l-3.7-1.3 6.2 2.7 3.7 1.3zM1544 611.7l.9 7.1-.7 7.6 6.2 2.8 .8-7.7-.9-7.1zM1525 650.2l-3.8-1.3 6.2 2.7 3.8 1.3z" fill="#d7d7d7" stroke="#d7d7d7" stroke-width="0.7" stroke-linejoin="round"/>
<path d="M1483 577.8l4 4 2.5 5.9 6.2 2.7-2.5-5.8-4-4.1zM1496.6 583.8l4 4 2.5 5.9 6.3 2.7-2.6-5.8-3.9-4.1zM1510.3 589.8l4 4 2.5 5.9 6.2 2.7-2.5-5.8-4-4.1zM1523.9 595.8l4 4 2.5 5.9 6.2 2.7-2.5-5.8-4-4.1zM1537.6 601.8l3.9 4 2.5 5.9 6.3 2.7-2.5-5.8-4-4.1z" fill="#c8c8c8" stroke="#c8c8c8" stroke-width="0.7" stroke-linejoin="round"/>
<path d="M1470.2 610.6l-4.3 5.3-4.7 3.2-4.4 1.1-3.8-1.3M1476.4 613.4l-4.3 5.2-4.7 3.3-4.4 1-3.7-1.3M1483 577.8l4 4 2.5 5.9 .9 7.1-.8 7.6-2.3 7.6-3.5 6.6-4.3 5.3-4.6 3.2-4.5 1.1-3.7-1.3M1489.2 580.5l4 4.1 2.5 5.8 .9 7.1-.8 7.7-2.3 7.5-3.5 6.7-4.3 5.2-4.6 3.3-4.5 1-3.7-1.3M1496.6 583.8l4 4 2.5 5.9 .9 7.1-.8 7.6-2.2 7.6-3.5 6.6-4.4 5.3-4.6 3.2-4.4 1.1-3.8-1.3M1502.9 586.5l3.9 4.1 2.6 5.8 .8 7.1-.7 7.7-2.3 7.5-3.5 6.7-4.3 5.2-4.7 3.3-4.4 1-3.8-1.3M1510.3 589.8l4 4 2.5 5.9 .9 7.1-.8 7.6-2.3 7.6-3.5 6.6-4.3 5.3-4.7 3.2-4.4 1.1-3.8-1.3M1516.5 592.5l4 4.1 2.5 5.8 .9 7.1-.8 7.7-2.3 7.5-3.5 6.7-4.3 5.2-4.6 3.3-4.5 1-3.7-1.3M1523.9 595.8l4 4 2.5 5.9 .9 7.1-.8 7.6-2.3 7.6-3.5 6.6-4.3 5.3-4.6 3.2-4.5 1.1-3.7-1.3M1530.1 598.5l4 4.1 2.5 5.8 .9 7.1-.8 7.7-2.2 7.5-3.5 6.7-4.4 5.2-4.6 3.3-4.5 1-3.7-1.3M1537.6 601.8l3.9 4 2.5 5.9 .9 7.1-.7 7.6-2.3 7.6-3.5 6.6-4.4 5.3-4.6 3.2-4.4 1.1-3.8-1.3M1543.8 604.5l4 4.1 2.5 5.8 .9 7.1-.8 7.7-2.3 7.5-3.5 6.7-4.3 5.2-4.7 3.3-4.4 1-3.8-1.3" fill="none" stroke="#858585" stroke-width="0.9" stroke-opacity="0.8"/>
<path d="M1602.6 571.5l4.1-.7 4.9 1.4 5 3.4 4.8 5.1 3.9 6.4-5.7 3.6-3.9-6.3-4.8-5.2-5.1-3.4-4.8-1.4-4.2 .8zM1593.6 577.2l4.1-.7 4.9 1.4 5 3.4 4.8 5.1 3.9 6.4-5.7 3.6-3.9-6.3-4.8-5.1-5.1-3.5-4.8-1.4-4.2 .8zM1584.6 582.9l4.1-.7 4.9 1.4 5 3.4 4.8 5.1 3.9 6.4-5.7 3.6-3.9-6.3-4.8-5.1-5.1-3.4-4.8-1.4-4.2 .7zM1575.6 588.6l4.1-.7 4.9 1.4 5 3.4 4.8 5.2 3.9 6.3-5.7 3.7-3.9-6.4-4.8-5.1-5.1-3.4-4.8-1.4-4.2 .7zM1566.6 594.4l4.1-.8 4.9 1.4 5 3.4 4.8 5.2 3.9 6.3-5.7 3.7-3.9-6.4-4.8-5.1-5.1-3.4-4.8-1.4-4.2 .7zM1557.6 600.1l4.1-.7 4.9 1.4 5 3.4 4.8 5.1 3.9 6.3-5.7 3.7-3.9-6.4-4.8-5.1-5.1-3.4-4.8-1.4-4.2 .7zM1548.6 605.8l4.1-.7 4.9 1.4 5 3.4 4.8 5.1 3.9 6.4-5.7 3.6-3.9-6.4-4.8-5.1-5.1-3.4-4.8-1.4-4.2 .7z" fill="#ababab" stroke="#ababab" stroke-width="0.7" stroke-linejoin="round"/>
<path d="M1625.3 587.1l2.7 7 1.1 6.9-.6 6.3-2.3 5.1-3.8 3.3-5.8 3.7 3.9-3.4 2.3-5 .6-6.3-1.1-7-2.7-7zM1616.3 592.8l2.7 7 1.1 7-.6 6.3-2.3 5-3.8 3.3-5.8 3.7 3.9-3.4 2.3-5 .6-6.3-1.1-7-2.7-7zM1607.3 598.5l2.7 7 1.1 7-.6 6.3-2.3 5-3.8 3.3-5.8 3.7 3.9-3.3 2.3-5.1 .6-6.3-1.1-7-2.7-7zM1598.3 604.2l2.7 7 1.1 7-.6 6.3-2.3 5-3.8 3.3-5.8 3.7 3.9-3.3 2.3-5.1 .6-6.3-1.1-7-2.7-6.9zM1589.3 609.9l2.7 7 1.1 7-.6 6.3-2.3 5-3.8 3.4-5.8 3.6 3.9-3.3 2.3-5.1 .6-6.3-1.1-6.9-2.7-7zM1580.3 615.6l2.7 7 1.1 7-.6 6.3-2.3 5.1-3.8 3.3-5.8 3.6 3.9-3.3 2.3-5 .6-6.3-1.1-7-2.7-7zM1571.3 621.4l2.7 6.9 1.1 7-.6 6.3-2.3 5.1-3.8 3.3-5.8 3.6 3.9-3.3 2.3-5 .6-6.3-1.1-7-2.7-7z" fill="#b9b9b9" stroke="#b9b9b9" stroke-width="0.7" stroke-linejoin="round"/>
<path d="M1614.6 607.6l-5.7-4.5-5.7 3.6 5.7 4.6zM1599.6 574.3l3-2.8-5.8 3.7-2.9 2.7zM1611.6 616.2l-6-2.9-5.7-4.5-5.7 3.6 5.7 4.6 5.9 2.8zM1590.6 580l3-2.8-5.8 3.7-2.9 2.7zM1602.6 621.9l-6-2.9-5.7-4.5-5.7 3.6 5.7 4.6 5.9 2.8zM1581.6 585.7l3-2.8-5.8 3.7-2.9 2.7zM1593.6 627.6l-6-2.8-5.7-4.6-5.7 3.7 5.7 4.5 5.9 2.8zM1572.6 591.4l3-2.8-5.8 3.7-2.9 2.7zM1584.6 633.3l-6-2.8-5.7-4.6-5.7 3.7 5.7 4.5 5.9 2.9zM1563.6 597.1l3-2.7-5.8 3.6-2.9 2.8zM1575.6 639l-6-2.8-5.7-4.6-5.7 3.7 5.7 4.5 5.9 2.9zM1554.6 602.8l3-2.7-5.8 3.6-2.9 2.8zM1566.6 644.7l-6-2.8-5.7-4.5-5.7 3.6 5.7 4.6 5.9 2.8zM1545.6 608.5l3-2.7-5.8 3.6-2.9 2.8zM1557.6 650.5l-6-2.9-5.7 3.7 5.9 2.8z" fill="#7e7e7e" stroke="#7e7e7e" stroke-width="0.7" stroke-linejoin="round"/>
<path d="M1608.9 603.1l-4.8-5.8-3.6-6.4-2-6.4-.3-5.8 1.4-4.4-5.7 3.6-1.4 4.5 .3 5.7 2 6.4 3.6 6.4 4.8 5.8zM1599.9 608.8l-4.8-5.8-3.6-6.4-2-6.4-.3-5.8 1.4-4.4-5.7 3.6-1.4 4.5 .3 5.7 2 6.4 3.6 6.4 4.8 5.8zM1590.9 614.5l-4.8-5.8-3.6-6.4-2-6.4-.3-5.7 1.4-4.5-5.7 3.6-1.4 4.5 .3 5.7 2 6.4 3.6 6.5 4.8 5.7zM1581.9 620.2l-4.8-5.8-3.6-6.4-2-6.4-.3-5.7 1.4-4.5-5.7 3.6-1.4 4.5 .3 5.7 2 6.5 3.6 6.4 4.8 5.8zM1572.9 625.9l-4.8-5.8-3.6-6.4-2-6.4-.3-5.7 1.4-4.5-5.7 3.7-1.4 4.4 .3 5.8 2 6.4 3.6 6.4 4.8 5.8zM1563.9 631.6l-4.8-5.7-3.6-6.5-2-6.4-.3-5.7 1.4-4.5-5.7 3.7-1.4 4.4 .3 5.8 2 6.4 3.6 6.4 4.8 5.8zM1554.9 637.4l-4.8-5.8-3.6-6.4-2-6.5-.3-5.7 1.4-4.5-5.7 3.7-1.4 4.5 .3 5.7 2 6.4 3.6 6.4 4.8 5.8z" fill="#878787" stroke="#878787" stroke-width="0.7" stroke-linejoin="round"/>
<path d="M1622.4 615.7l-5.1 1.3-5.7 3.6 5-1.2zM1613.4 621.4l-5.1 1.3-5.7 3.7 5-1.3zM1604.4 627.1l-5.1 1.3-5.7 3.7 5-1.3zM1595.4 632.8l-5.1 1.3-5.7 3.7 5-1.3zM1586.4 638.6l-5.1 1.3-5.7 3.6 5-1.3zM1577.4 644.3l-5.1 1.3-5.7 3.6 5-1.3zM1568.4 650l-5.1 1.3-5.7 3.6 5-1.3z" fill="#707070" stroke="#707070" stroke-width="0.7" stroke-linejoin="round"/>
<path d="M1617.3 617l-5.7-.8-5.8 3.6 5.8 .8zM1608.3 622.7l-5.7-.8-5.8 3.6 5.8 .9zM1599.3 628.4l-5.7-.8-5.8 3.6 5.8 .9zM1590.3 634.1l-5.7-.8-5.8 3.7 5.8 .8zM1581.3 639.9l-5.7-.9-5.8 3.7 5.8 .8zM1572.3 645.6l-5.7-.9-5.8 3.7 5.8 .8zM1563.3 651.3l-5.7-.8-5.8 3.6 5.8 .8z" fill="#777777" stroke="#777777" stroke-width="0.7" stroke-linejoin="round"/>
<path d="M1614.6 607.6l-5.7-4.5-4.8-5.8-3.6-6.4-2-6.4-.3-5.8 1.4-4.4 3-2.8M1608.9 611.3l-5.7-4.6-4.8-5.8-3.6-6.4-2-6.4-.3-5.7 1.4-4.5 2.9-2.7M1622.4 615.7l-5.1 1.3-5.7-.8-6-2.9-5.7-4.5-4.8-5.8-3.6-6.4-2-6.4-.3-5.8 1.4-4.4 3-2.8M1616.6 619.4l-5 1.2-5.8-.8-5.9-2.8-5.7-4.6-4.8-5.8-3.6-6.4-2-6.4-.3-5.7 1.4-4.5 2.9-2.7M1613.4 621.4l-5.1 1.3-5.7-.8-6-2.9-5.7-4.5-4.8-5.8-3.6-6.4-2-6.4-.3-5.7 1.4-4.5 3-2.8M1607.6 625.1l-5 1.3-5.8-.9-5.9-2.8-5.7-4.6-4.8-5.7-3.6-6.5-2-6.4-.3-5.7 1.4-4.5 2.9-2.7M1604.4 627.1l-5.1 1.3-5.7-.8-6-2.8-5.7-4.6-4.8-5.8-3.6-6.4-2-6.4-.3-5.7 1.4-4.5 3-2.8M1598.6 630.8l-5 1.3-5.8-.9-5.9-2.8-5.7-4.5-4.8-5.8-3.6-6.4-2-6.5-.3-5.7 1.4-4.5 2.9-2.7M1595.4 632.8l-5.1 1.3-5.7-.8-6-2.8-5.7-4.6-4.8-5.8-3.6-6.4-2-6.4-.3-5.7 1.4-4.5 3-2.7M1589.6 636.5l-5 1.3-5.8-.8-5.9-2.9-5.7-4.5-4.8-5.8-3.6-6.4-2-6.4-.3-5.8 1.4-4.4 2.9-2.8M1586.4 638.6l-5.1 1.3-5.7-.9-6-2.8-5.7-4.6-4.8-5.7-3.6-6.5-2-6.4-.3-5.7 1.4-4.5 3-2.7M1580.6 642.2l-5 1.3-5.8-.8-5.9-2.9-5.7-4.5-4.8-5.8-3.6-6.4-2-6.4-.3-5.8 1.4-4.4 2.9-2.8M1577.4 644.3l-5.1 1.3-5.7-.9-6-2.8-5.7-4.5-4.8-5.8-3.6-6.4-2-6.5-.3-5.7 1.4-4.5 3-2.7M1571.6 647.9l-5 1.3-5.8-.8-5.9-2.8-5.7-4.6-4.8-5.8-3.6-6.4-2-6.4-.3-5.7 1.4-4.5 2.9-2.8M1568.4 650l-5.1 1.3-5.7-.8-6-2.9M1562.6 653.6l-5 1.3-5.8-.8-5.9-2.8" fill="none" stroke="#4e4e4e" stroke-width="0.9" stroke-opacity="0.8"/>
<path d="M1603.5 532.6l-1.7-3.6 .2-4.8 2.1-5.4 4-5.5 5.4-5.1 4.5 5.1-5.4 5-3.9 5.6-2.2 5.4-.2 4.8 1.8 3.6zM1611.5 541.6l-1.7-3.6 .2-4.8 2.1-5.4 4-5.5 5.4-5.1 4.5 5.1-5.4 5-3.9 5.6-2.2 5.4-.2 4.8 1.8 3.6zM1619.5 550.6l-1.7-3.6 .2-4.8 2.1-5.4 4-5.5 5.4-5.1 4.5 5.1-5.4 5-3.9 5.6-2.2 5.4-.2 4.8 1.8 3.6zM1627.5 559.6l-1.7-3.6 .2-4.8 2.1-5.4 4-5.5 5.4-5.1 4.5 5.1-5.4 5-3.9 5.6-2.2 5.4-.2 4.8 1.8 3.6zM1635.5 568.6l-1.7-3.6 .2-4.8 2.1-5.4 4-5.5 5.4-5.1 4.5 5.1-5.4 5-3.9 5.6-2.2 5.4-.2 4.8 1.8 3.6z" fill="#dadada" stroke="#dadada" stroke-width="0.7" stroke-linejoin="round"/>
<path d="M1613.5 508.2l6.4-4 6.8-2.5 6.5-.8 5.6 1.1 4.3 2.9 4.6 5.1-4.3-2.9-5.7-1.1-6.5 .8-6.8 2.5-6.4 4zM1621.5 517.2l6.4-4 6.8-2.5 6.5-.8 5.6 1.1 4.3 2.9 4.6 5.1-4.3-2.9-5.7-1.1-6.5 .8-6.8 2.5-6.4 4zM1629.5 526.2l6.4-4 6.8-2.5 6.5-.8 5.6 1.1 4.3 2.9 4.6 5.1-4.3-2.9-5.7-1.1-6.5 .8-6.8 2.5-6.4 4zM1637.5 535.2l6.4-4 6.8-2.5 6.5-.8 5.6 1.1 4.3 2.9 4.6 5.1-4.3-2.9-5.7-1.1-6.5 .8-6.8 2.5-6.4 4zM1645.5 544.2l6.4-4 6.8-2.5 6.5-.8 5.6 1.1 4.3 2.9 4.6 5.1-4.3-2.9-5.7-1.1-6.5 .8-6.8 2.5-6.4 4z" fill="#eeeeee" stroke="#eeeeee" stroke-width="0.7" stroke-linejoin="round"/>
<path d="M1637.7 500.4l.6 5.7 4.5 5.1-.6-5.7zM1645.7 509.4l.6 5.7 4.5 5.1-.6-5.7zM1653.7 518.4l.6 5.7 4.5 5.1-.6-5.7zM1661.7 527.4l.6 5.7 4.5 5.1-.6-5.7zM1669.7 536.4l.6 5.7 4.5 5.1-.6-5.7z" fill="#c6c6c6" stroke="#c6c6c6" stroke-width="0.7" stroke-linejoin="round"/>
<path d="M1638.3 506.1l-1.4 6.3-3.1 6.5 4.5 5 3.2-6.4 1.3-6.3zM1607 534.6l-3.5-2 4.6 5.1 3.5 2zM1646.3 515.1l-1.4 6.3-3.1 6.5 4.5 5 3.2-6.4 1.3-6.3zM1615 543.6l-3.5-2 4.6 5.1 3.5 2zM1654.3 524.1l-1.4 6.3-3.1 6.5 4.5 5 3.2-6.4 1.3-6.3zM1623 552.6l-3.5-2 4.6 5.1 3.5 2zM1662.3 533.1l-1.4 6.3-3.1 6.5 4.5 5 3.2-6.4 1.3-6.3zM1631 561.6l-3.5-2 4.6 5.1 3.5 2zM1670.3 542.1l-1.4 6.3-3.1 6.5 4.5 5 3.2-6.4 1.3-6.3zM1639 570.6l-3.5-2 4.6 5.1 3.5 2z" fill="#d5d5d5" stroke="#d5d5d5" stroke-width="0.7" stroke-linejoin="round"/>
<path d="M1633.8 518.9l-4.6 5.9-5.6 4.9-6 3.4-5.7 1.7-4.9-.2 4.6 5.1 4.8 .2 5.7-1.7 6-3.4 5.6-4.9 4.6-6zM1641.8 527.9l-4.6 5.9-5.6 4.9-6 3.4-5.7 1.7-4.9-.2 4.6 5.1 4.8 .2 5.7-1.7 6-3.4 5.6-4.9 4.6-6zM1649.8 536.9l-4.6 5.9-5.6 4.9-6 3.4-5.7 1.7-4.9-.2 4.6 5.1 4.8 .2 5.7-1.7 6-3.4 5.6-4.9 4.6-6zM1657.8 545.9l-4.6 5.9-5.6 4.9-6 3.4-5.7 1.7-4.9-.2 4.6 5.1 4.8 .2 5.7-1.7 6-3.4 5.6-4.9 4.6-6zM1665.8 554.9l-4.6 5.9-5.6 4.9-6 3.4-5.7 1.7-4.9-.2 4.6 5.1 4.8 .2 5.7-1.7 6-3.4 5.6-4.9 4.6-6z" fill="#dddddd" stroke="#dddddd" stroke-width="0.7" stroke-linejoin="round"/>
<path d="M1643.1 504.9l2.6 4.5 4.5 5.1-2.5-4.5zM1651.1 513.9l2.6 4.5 4.5 5.1-2.5-4.5zM1659.1 522.9l2.6 4.5 4.5 5.1-2.5-4.5zM1667.1 531.9l2.6 4.5 4.5 5.1-2.5-4.5zM1675.1 540.9l2.6 4.5 4.5 5.1-2.5-4.5z" fill="#b8b8b8" stroke="#b8b8b8" stroke-width="0.7" stroke-linejoin="round"/>
<path d="M1637.7 500.4l.6 5.7-1.4 6.3-3.1 6.5-4.6 5.9-5.6 4.9-6 3.4-5.7 1.7-4.9-.2-3.5-2M1642.2 505.5l.6 5.7-1.3 6.3-3.2 6.4-4.6 6-5.6 4.9-6 3.4-5.7 1.7-4.8-.2-3.5-2M1643.1 504.9l2.6 4.5 .6 5.7-1.4 6.3-3.1 6.5-4.6 5.9-5.6 4.9-6 3.4-5.7 1.7-4.9-.2-3.5-2M1647.7 510l2.5 4.5 .6 5.7-1.3 6.3-3.2 6.4-4.6 6-5.6 4.9-6 3.4-5.7 1.7-4.8-.2-3.5-2M1651.1 513.9l2.6 4.5 .6 5.7-1.4 6.3-3.1 6.5-4.6 5.9-5.6 4.9-6 3.4-5.7 1.7-4.9-.2-3.5-2M1655.7 519l2.5 4.5 .6 5.7-1.3 6.3-3.2 6.4-4.6 6-5.6 4.9-6 3.4-5.7 1.7-4.8-.2-3.5-2M1659.1 522.9l2.6 4.5 .6 5.7-1.4 6.3-3.1 6.5-4.6 5.9-5.6 4.9-6 3.4-5.7 1.7-4.9-.2-3.5-2M1663.7 528l2.5 4.5 .6 5.7-1.3 6.3-3.2 6.4-4.6 6-5.6 4.9-6 3.4-5.7 1.7-4.8-.2-3.5-2M1667.1 531.9l2.6 4.5 .6 5.7-1.4 6.3-3.1 6.5-4.6 5.9-5.6 4.9-6 3.4-5.7 1.7-4.9-.2-3.5-2M1671.7 537l2.5 4.5 .6 5.7-1.3 6.3-3.2 6.4-4.6 6-5.6 4.9-6 3.4-5.7 1.7-4.8-.2-3.5-2M1675.1 540.9l2.6 4.5M1679.7 546l2.5 4.5" fill="none" stroke="#848484" stroke-width="0.9" stroke-opacity="0.8"/>
<path d="M1530 501.5l1.1-3 3.1-2.6 4.9-2 6.1-1.1 6.8-.1 0 6.1-6.8 .1-6.1 1.1-4.9 2-3.1 2.6-1.1 2.9zM1530 510.5l1.1-3 3.1-2.6 4.9-2 6.1-1.1 6.8-.1 0 6.1-6.8 .1-6.1 1.1-4.9 2-3.1 2.6-1.1 2.9zM1530 519.5l1.1-3 3.1-2.6 4.9-2 6.1-1.1 6.8-.1 0 6.1-6.8 .1-6.1 1.1-4.9 2-3.1 2.6-1.1 2.9zM1530 528.5l1.1-3 3.1-2.6 4.9-2 6.1-1.1 6.8-.1 0 6.1-6.8 .1-6.1 1.1-4.9 2-3.1 2.6-1.1 2.9zM1530 537.5l1.1-3 3.1-2.6 4.9-2 6.1-1.1 6.8-.1 0 6.1-6.8 .1-6.1 1.1-4.9 2-3.1 2.6-1.1 2.9z" fill="#daa7da" stroke="#daa7da" stroke-width="0.7" stroke-linejoin="round"/>
<path d="M1552 492.7l6.8 1 6.1 2 4.9 2.9 3.1 3.5 1.1 3.9 0 6-1.1-3.8-3.1-3.5-4.9-2.9-6.1-2-6.8-1zM1552 501.7l6.8 1 6.1 2 4.9 2.9 3.1 3.5 1.1 3.9 0 6-1.1-3.8-3.1-3.5-4.9-2.9-6.1-2-6.8-1zM1552 510.7l6.8 1 6.1 2 4.9 2.9 3.1 3.5 1.1 3.9 0 6-1.1-3.8-3.1-3.5-4.9-2.9-6.1-2-6.8-1zM1552 519.7l6.8 1 6.1 2 4.9 2.9 3.1 3.5 1.1 3.9 0 6-1.1-3.8-3.1-3.5-4.9-2.9-6.1-2-6.8-1zM1552 528.7l6.8 1 6.1 2 4.9 2.9 3.1 3.5 1.1 3.9 0 6-1.1-3.8-3.1-3.5-4.9-2.9-6.1-2-6.8-1z" fill="#eeb4ee" stroke="#eeb4ee" stroke-width="0.7" stroke-linejoin="round"/>
<path d="M1574 497l-1.1 3.8 0 6.1 1.1-3.9zM1574 506l-1.1 3.8 0 6.1 1.1-3.9zM1574 515l-1.1 3.8 0 6.1 1.1-3.9zM1574 524l-1.1 3.8 0 6.1 1.1-3.9zM1574 533l-1.1 3.8 0 6.1 1.1-3.9z" fill="#d454d4" stroke="#d454d4" stroke-width="0.7" stroke-linejoin="round"/>
<path d="M1572.9 500.8l-3.1 3.5 0 6.1 3.1-3.5zM1572.9 509.8l-3.1 3.5 0 6.1 3.1-3.5zM1572.9 518.8l-3.1 3.5 0 6.1 3.1-3.5zM1572.9 527.8l-3.1 3.5 0 6.1 3.1-3.5zM1572.9 536.8l-3.1 3.5 0 6.1 3.1-3.5z" fill="#e558e5" stroke="#e558e5" stroke-width="0.7" stroke-linejoin="round"/>
<path d="M1569.8 504.3l-4.9 2.9-6.1 2 0 6.1 6.1-2 4.9-2.9zM1531.1 504.4l-1.1-2.9 0 6 1.1 3zM1569.8 513.3l-4.9 2.9-6.1 2 0 6.1 6.1-2 4.9-2.9zM1531.1 513.4l-1.1-2.9 0 6 1.1 3zM1569.8 522.3l-4.9 2.9-6.1 2 0 6.1 6.1-2 4.9-2.9zM1531.1 522.4l-1.1-2.9 0 6 1.1 3zM1569.8 531.3l-4.9 2.9-6.1 2 0 6.1 6.1-2 4.9-2.9zM1531.1 531.4l-1.1-2.9 0 6 1.1 3zM1569.8 540.3l-4.9 2.9-6.1 2 0 6.1 6.1-2 4.9-2.9zM1531.1 540.4l-1.1-2.9 0 6 1.1 3z" fill="#f65df6" stroke="#f65df6" stroke-width="0.7" stroke-linejoin="round"/>
<path d="M1558.8 509.2l-6.8 1-6.8-.1-6.1-1.1-4.9-2-3.1-2.6 0 6.1 3.1 2.6 4.9 2 6.1 1.1 6.8 .1 6.8-1zM1558.8 518.2l-6.8 1-6.8-.1-6.1-1.1-4.9-2-3.1-2.6 0 6.1 3.1 2.6 4.9 2 6.1 1.1 6.8 .1 6.8-1zM1558.8 527.2l-6.8 1-6.8-.1-6.1-1.1-4.9-2-3.1-2.6 0 6.1 3.1 2.6 4.9 2 6.1 1.1 6.8 .1 6.8-1zM1558.8 536.2l-6.8 1-6.8-.1-6.1-1.1-4.9-2-3.1-2.6 0 6.1 3.1 2.6 4.9 2 6.1 1.1 6.8 .1 6.8-1zM1558.8 545.2l-6.8 1-6.8-.1-6.1-1.1-4.9-2-3.1-2.6 0 6.1 3.1 2.6 4.9 2 6.1 1.1 6.8 .1 6.8-1z" fill="#ff65ff" stroke="#ff65ff" stroke-width="0.7" stroke-linejoin="round"/>
<path d="M1574 497l-1.1 3.8-3.1 3.5-4.9 2.9-6.1 2-6.8 1-6.8-.1-6.1-1.1-4.9-2-3.1-2.6-1.1-2.9M1574 503l-1.1 3.9-3.1 3.5-4.9 2.9-6.1 2-6.8 1-6.8-.1-6.1-1.1-4.9-2-3.1-2.6-1.1-3M1574 506l-1.1 3.8-3.1 3.5-4.9 2.9-6.1 2-6.8 1-6.8-.1-6.1-1.1-4.9-2-3.1-2.6-1.1-2.9M1574 512l-1.1 3.9-3.1 3.5-4.9 2.9-6.1 2-6.8 1-6.8-.1-6.1-1.1-4.9-2-3.1-2.6-1.1-3M1574 515l-1.1 3.8-3.1 3.5-4.9 2.9-6.1 2-6.8 1-6.8-.1-6.1-1.1-4.9-2-3.1-2.6-1.1-2.9M1574 521l-1.1 3.9-3.1 3.5-4.9 2.9-6.1 2-6.8 1-6.8-.1-6.1-1.1-4.9-2-3.1-2.6-1.1-3M1574 524l-1.1 3.8-3.1 3.5-4.9 2.9-6.1 2-6.8 1-6.8-.1-6.1-1.1-4.9-2-3.1-2.6-1.1-2.9M1574 530l-1.1 3.9-3.1 3.5-4.9 2.9-6.1 2-6.8 1-6.8-.1-6.1-1.1-4.9-2-3.1-2.6-1.1-3M1574 533l-1.1 3.8-3.1 3.5-4.9 2.9-6.1 2-6.8 1-6.8-.1-6.1-1.1-4.9-2-3.1-2.6-1.1-2.9M1574 539l-1.1 3.9-3.1 3.5-4.9 2.9-6.1 2-6.8 1-6.8-.1-6.1-1.1-4.9-2-3.1-2.6-1.1-3" fill="none" stroke="#993999" stroke-width="0.9" stroke-opacity="0.8"/>
<path d="M1657 531.7l1.7-3 3.8-2.4 5.5-1.6 6.6-.6 7.2 .7-.2 7.1-7.2-.7-6.6 .6-5.5 1.6-3.8 2.4-1.7 3zM1656.6 548.6l1.7-3 3.8-2.5 5.5-1.6 6.6-.5 7.2 .7-.2 7.1-7.2-.7-6.6 .5-5.5 1.6-3.8 2.5-1.7 3zM1656.2 565.4l1.7-2.9 3.7-2.5 5.5-1.6 6.7-.5 7.1 .7-.2 7-7.1-.6-6.7 .5-5.4 1.6-3.8 2.4-1.7 3zM1655.7 582.3l1.7-3 3.8-2.4 5.5-1.7 6.6-.5 7.2 .7-.2 7.1-7.1-.7-6.7 .5-5.5 1.7-3.7 2.4-1.8 3zM1655.3 599.1l1.7-2.9 3.8-2.5 5.5-1.6 6.6-.5 7.2 .7-.2 7.1-7.2-.7-6.6 .5-5.5 1.6-3.8 2.5-1.7 2.9zM1654.9 616l1.7-3 3.8-2.4 5.4-1.6 6.7-.6 7.1 .7-.1 7.1-7.2-.7-6.6 .6-5.5 1.6-3.8 2.4-1.7 3zM1654.4 632.8l1.7-2.9 3.8-2.5 5.5-1.6 6.7-.5 7.1 .7-.2 7.1-7.1-.7-6.7 .5-5.5 1.6-3.7 2.5-1.7 2.9z" fill="#c6d8c6" stroke="#c6d8c6" stroke-width="0.7" stroke-linejoin="round"/>
<path d="M1681.8 524.8l6.9 2 6.1 3 4.6 4 2.7 4.5 .5 4.8-.2 7.1-.5-4.8-2.6-4.6-4.7-3.9-6-3-7-2zM1681.4 541.7l6.9 1.9 6.1 3.1 4.6 3.9 2.7 4.6 .5 4.8-.2 7.1-.5-4.8-2.7-4.6-4.6-3.9-6.1-3.1-6.9-1.9zM1680.9 558.6l7 1.9 6.1 3 4.6 4 2.7 4.5 .5 4.8-.2 7.1-.5-4.8-2.7-4.5-4.6-4-6.1-3-7-2zM1680.5 575.4l7 1.9 6 3.1 4.7 3.9 2.6 4.6 .5 4.8-.2 7.1-.4-4.8-2.7-4.6-4.6-3.9-6.1-3.1-7-1.9zM1680.1 592.3l6.9 1.9 6.1 3 4.6 4 2.7 4.5 .5 4.8-.2 7.1-.5-4.8-2.7-4.5-4.6-4-6.1-3-6.9-1.9zM1679.6 609.1l7 1.9 6.1 3.1 4.6 3.9 2.7 4.6 .5 4.8-.2 7.1-.5-4.8-2.7-4.6-4.6-3.9-6.1-3.1-6.9-1.9zM1679.2 626l7 1.9 6.1 3 4.6 4 2.7 4.6 .4 4.8-.1 7.1-.5-4.8-2.7-4.6-4.6-4-6.1-3-7-1.9z" fill="#d7ecd7" stroke="#d7ecd7" stroke-width="0.7" stroke-linejoin="round"/>
<path d="M1697.5 535l-5.6 3.3-6.6 2.3-.2 7.1 6.7-2.3 5.5-3.3zM1657.5 534.8l-.5-3.1-.2 7.1 .6 3.1zM1697 551.9l-5.5 3.3-6.7 2.2-.2 7.1 6.7-2.2 5.6-3.3zM1657.1 551.7l-.5-3.1-.2 7.1 .5 3.1zM1696.6 568.8l-5.5 3.3-6.7 2.2-.2 7.1 6.7-2.2 5.5-3.3zM1656.7 568.5l-.5-3.1-.2 7.1 .5 3.1zM1696.2 585.6l-5.5 3.3-6.7 2.2-.2 7.1 6.7-2.2 5.5-3.3zM1656.3 585.4l-.6-3.1-.2 7.1 .6 3.1zM1695.8 602.5l-5.6 3.3-6.7 2.2-.1 7.1 6.6-2.2 5.6-3.3zM1655.8 602.2l-.5-3.1-.2 7.1 .5 3.1zM1695.3 619.3l-5.5 3.3-6.7 2.2-.2 7.1 6.7-2.2 5.5-3.3zM1655.4 619.1l-.5-3.1-.2 7.1 .5 3.1zM1694.9 636.2l-5.5 3.3-6.7 2.2-.2 7.1 6.7-2.2 5.5-3.3zM1655 636l-.6-3.2-.1 7.1 .5 3.2z" fill="#92e692" stroke="#92e692" stroke-width="0.7" stroke-linejoin="round"/>
<path d="M1685.3 540.6l-7.2 1-7-.3-6.2-1.3-4.6-2.3-2.8-2.9-.1 7.1 2.7 2.9 4.6 2.3 6.2 1.3 7 .2 7.2-.9zM1684.8 557.4l-7.2 1-7-.2-6.1-1.4-4.7-2.2-2.7-2.9-.2 7.1 2.8 2.8 4.6 2.3 6.1 1.4 7 .2 7.2-1zM1684.4 574.3l-7.2 1-7-.3-6.1-1.3-4.7-2.3-2.7-2.9-.2 7.1 2.7 2.9 4.7 2.3 6.1 1.3 7 .3 7.2-1zM1684 591.1l-7.2 1-7-.2-6.2-1.4-4.6-2.2-2.7-2.9-.2 7.1 2.7 2.9 4.7 2.2 6.1 1.4 7 .2 7.2-1zM1683.5 608l-7.2 1-7-.3-6.1-1.3-4.6-2.3-2.8-2.9-.2 7.1 2.8 2.9 4.6 2.3 6.2 1.3 7 .3 7.2-1zM1683.1 624.8l-7.2 1-7-.2-6.1-1.4-4.7-2.2-2.7-2.9-.2 7.1 2.7 2.9 4.7 2.2 6.1 1.4 7 .2 7.2-1zM1682.7 641.7l-7.2 1-7-.2-6.1-1.4-4.7-2.3-2.7-2.8-.2 7.1 2.7 2.8 4.7 2.3 6.1 1.4 7 .2 7.2-1z" fill="#9aef9a" stroke="#9aef9a" stroke-width="0.7" stroke-linejoin="round"/>
<path d="M1702.6 543.1l-1.7 4.7-.2 7.1 1.7-4.7zM1702.2 560l-1.8 4.6-.1 7.1 1.7-4.6zM1701.8 576.8l-1.8 4.7-.2 7.1 1.8-4.7zM1701.3 593.7l-1.7 4.6-.2 7.1 1.7-4.6zM1700.9 610.5l-1.8 4.7-.1 7.1 1.7-4.7zM1700.5 627.4l-1.8 4.7-.2 7 1.8-4.6zM1700 644.3l-1.7 4.6-.2 7.1 1.8-4.6z" fill="#80c680" stroke="#80c680" stroke-width="0.7" stroke-linejoin="round"/>
<path d="M1700.9 547.8l-3.9 4.1-.1 7.1 3.8-4.1zM1700.4 564.6l-3.8 4.2-.2 7.1 3.9-4.2zM1700 581.5l-3.8 4.1-.2 7.1 3.8-4.1zM1699.6 598.3l-3.8 4.2-.2 7.1 3.8-4.2zM1699.1 615.2l-3.8 4.1-.2 7.1 3.9-4.1zM1698.7 632.1l-3.8 4.1-.2 7.1 3.8-4.2zM1698.3 648.9l-3.8 4.1-.2 7.1 3.8-4.1z" fill="#89d689" stroke="#89d689" stroke-width="0.7" stroke-linejoin="round"/>
<path d="M1697.5 535l-5.6 3.3-6.6 2.3-7.2 1-7-.3-6.2-1.3-4.6-2.3-2.8-2.9-.5-3.1M1697.3 542.1l-5.5 3.3-6.7 2.3-7.2 .9-7-.2-6.2-1.3-4.6-2.3-2.7-2.9-.6-3.1M1702.6 543.1l-1.7 4.7-3.9 4.1-5.5 3.3-6.7 2.2-7.2 1-7-.2-6.1-1.4-4.7-2.2-2.7-2.9-.5-3.1M1702.4 550.2l-1.7 4.7-3.8 4.1-5.6 3.3-6.7 2.2-7.2 1-7-.2-6.1-1.4-4.6-2.3-2.8-2.8-.5-3.1M1702.2 560l-1.8 4.6-3.8 4.2-5.5 3.3-6.7 2.2-7.2 1-7-.3-6.1-1.3-4.7-2.3-2.7-2.9-.5-3.1M1702 567.1l-1.7 4.6-3.9 4.2-5.5 3.3-6.7 2.2-7.2 1-7-.3-6.1-1.3-4.7-2.3-2.7-2.9-.5-3.1M1701.8 576.8l-1.8 4.7-3.8 4.1-5.5 3.3-6.7 2.2-7.2 1-7-.2-6.2-1.4-4.6-2.2-2.7-2.9-.6-3.1M1701.6 583.9l-1.8 4.7-3.8 4.1-5.5 3.3-6.7 2.2-7.2 1-7-.2-6.1-1.4-4.7-2.2-2.7-2.9-.6-3.1M1701.3 593.7l-1.7 4.6-3.8 4.2-5.6 3.3-6.7 2.2-7.2 1-7-.3-6.1-1.3-4.6-2.3-2.8-2.9-.5-3.1M1701.1 600.8l-1.7 4.6-3.8 4.2-5.6 3.3-6.6 2.2-7.2 1-7-.3-6.2-1.3-4.6-2.3-2.8-2.9-.5-3.1M1700.9 610.5l-1.8 4.7-3.8 4.1-5.5 3.3-6.7 2.2-7.2 1-7-.2-6.1-1.4-4.7-2.2-2.7-2.9-.5-3.1M1700.7 617.6l-1.7 4.7-3.9 4.1-5.5 3.3-6.7 2.2-7.2 1-7-.2-6.1-1.4-4.7-2.2-2.7-2.9-.5-3.1M1700.5 627.4l-1.8 4.7-3.8 4.1-5.5 3.3-6.7 2.2-7.2 1-7-.2-6.1-1.4-4.7-2.3-2.7-2.8-.6-3.2M1700.3 634.5l-1.8 4.6-3.8 4.2-5.5 3.3-6.7 2.2-7.2 1-7-.2-6.1-1.4-4.7-2.3-2.7-2.8-.5-3.2M1700 644.3l-1.7 4.6-3.8 4.1M1699.9 651.4l-1.8 4.6-3.8 4.1" fill="none" stroke="#5a8f5a" stroke-width="0.9" stroke-opacity="0.8"/>
<polyline points="1630,585 1640,600 1650,615 1655,630 1668,640 1680,660 1690,680" fill="none" stroke="#c89a20" stroke-width="4.4" stroke-linecap="round" stroke-linejoin="round"/><polyline points="1630,585 1640,600 1650,615 1655,630 1668,640 1680,660 1690,680" fill="none" stroke="#f8c83c" stroke-width="3.6" stroke-linecap="round" stroke-linejoin="round"/>
<polyline points="1585.6,535.4 1579.5,541.6 1571.9,539.3 1570.4,530.6 1576.5,524.4 1584.1,526.7 1585.6,535.4" fill="none" stroke="#ee22ee" stroke-width="2.6" stroke-linecap="round" stroke-linejoin="round"/>
<polyline points="1543.8,591.8 1538.2,596.8 1529.4,595 1526.2,588.2 1531.8,583.2 1540.6,585 1543.8,591.8" fill="none" stroke="#ee22ee" stroke-width="2.6" stroke-linecap="round" stroke-linejoin="round"/>
<polyline points="1608.8,606.8 1603.2,611.8 1594.4,610 1591.2,603.2 1596.8,598.2 1605.6,600 1608.8,606.8" fill="none" stroke="#444" stroke-width="4" stroke-linecap="round" stroke-linejoin="round"/><polyline points="1608.8,606.8 1603.2,611.8 1594.4,610 1591.2,603.2 1596.8,598.2 1605.6,600 1608.8,606.8" fill="none" stroke="#666" stroke-width="2.4" stroke-linecap="round" stroke-linejoin="round"/>
<polyline points="1660.8,586.8 1655.2,591.8 1646.4,590 1643.2,583.2 1648.8,578.2 1657.6,580 1660.8,586.8" fill="none" stroke="#444" stroke-width="4" stroke-linecap="round" stroke-linejoin="round"/><polyline points="1660.8,586.8 1655.2,591.8 1646.4,590 1643.2,583.2 1648.8,578.2 1657.6,580 1660.8,586.8" fill="none" stroke="#666" stroke-width="2.4" stroke-linecap="round" stroke-linejoin="round"/>
<polyline points="1674,600 1670,620 1680,640" fill="none" stroke="#22e022" stroke-width="3.5" stroke-linecap="round" stroke-linejoin="round"/>
</g>
<rect x="1443.6" y="389.1" width="272.8" height="305.3" fill="none" stroke="#111" stroke-width="2.2"/>
<text x="1503.8" y="438.8" font-size="19.5" font-weight="bold" fill="#606060" stroke="#606060" stroke-width="0.7" stroke-linejoin="round" textLength="42" lengthAdjust="spacingAndGlyphs">SSP</text><text x="1546.2" y="442.8" font-size="13" font-weight="bold" fill="#606060" stroke="#606060" stroke-width="0.7" stroke-linejoin="round">B</text>
<text x="1608.8" y="491.2" font-size="19.5" font-weight="bold" fill="#f29ad0" stroke="#6a3050" stroke-width="2.4" paint-order="stroke" stroke-linejoin="round" textLength="58.8" lengthAdjust="spacingAndGlyphs">POPS</text>
<text x="1472.5" y="532.5" font-size="19.5" font-weight="bold" fill="#ff22ff" stroke="#ff22ff" stroke-width="0.7" stroke-linejoin="round" textLength="41" lengthAdjust="spacingAndGlyphs">GP2</text><text x="1514" y="536.5" font-size="13" font-weight="bold" fill="#ff22ff" stroke="#ff22ff" stroke-width="0.7" stroke-linejoin="round">A</text>
<text x="1445.5" y="573.8" font-size="19.5" font-weight="bold" fill="#f29ad0" stroke="#6a3050" stroke-width="2.4" paint-order="stroke" stroke-linejoin="round" textLength="58.2" lengthAdjust="spacingAndGlyphs">POPS</text>
<text x="1575" y="560" font-size="19.5" font-weight="bold" fill="#c8c8c8" stroke="#c8c8c8" stroke-width="0.7" stroke-linejoin="round" textLength="41" lengthAdjust="spacingAndGlyphs">GP2</text><text x="1616.5" y="564" font-size="13" font-weight="bold" fill="#c8c8c8" stroke="#c8c8c8" stroke-width="0.7" stroke-linejoin="round">C</text>
<text x="1590" y="650" font-size="19.5" font-weight="bold" fill="#ecc640" stroke="#5a4a10" stroke-width="2.4" paint-order="stroke" stroke-linejoin="round" textLength="60" lengthAdjust="spacingAndGlyphs">POPC</text>
<text x="1461.2" y="666.2" font-size="19.5" font-weight="bold" fill="#c8c8c8" stroke="#c8c8c8" stroke-width="0.7" stroke-linejoin="round" textLength="40" lengthAdjust="spacingAndGlyphs">SSP</text><text x="1501.8" y="670.2" font-size="13" font-weight="bold" fill="#c8c8c8" stroke="#c8c8c8" stroke-width="0.7" stroke-linejoin="round">C</text>
<text x="1543.8" y="672.5" font-size="19.5" font-weight="bold" fill="#666" stroke="#666" stroke-width="0.7" stroke-linejoin="round" textLength="41" lengthAdjust="spacingAndGlyphs">GP2</text><text x="1585.2" y="676.5" font-size="13" font-weight="bold" fill="#666" stroke="#666" stroke-width="0.7" stroke-linejoin="round">B</text>
<text x="1626.2" y="682.5" font-size="19.5" font-weight="bold" fill="#22cc22" stroke="#22cc22" stroke-width="0.7" stroke-linejoin="round" textLength="39" lengthAdjust="spacingAndGlyphs">SSP</text><text x="1665.8" y="686.5" font-size="13" font-weight="bold" fill="#22cc22" stroke="#22cc22" stroke-width="0.7" stroke-linejoin="round">A</text>
<g clip-path="url(#cf)">
<path d="M1999.9 407.9l3.6-1.5 4.3 .8 4.6 2.9 4.3 4.9 3.6 6.2-6.1 2.9-3.6-6.3-4.4-4.8-4.6-2.9-4.3-.8-3.6 1.4zM1988.4 413.1l3.6-1.4 4.4 .8 4.6 2.9 4.3 4.8 3.6 6.3-6.2 2.9-3.6-6.3-4.3-4.8-4.6-3-4.3-.7-3.7 1.4zM1977 418.4l3.6-1.4 4.3 .8 4.6 2.9 4.4 4.8 3.6 6.3-6.2 2.9-3.6-6.3-4.3-4.8-4.6-3-4.4-.7-3.6 1.4zM1965.6 423.7l3.6-1.4 4.3 .8 4.6 2.9 4.3 4.8 3.6 6.3-6.1 2.8-3.6-6.2-4.4-4.9-4.6-2.9-4.3-.8-3.6 1.5zM1954.1 429l3.6-1.4 4.4 .7 4.6 3 4.3 4.8 3.6 6.3-6.2 2.8-3.6-6.2-4.3-4.9-4.6-2.9-4.3-.8-3.6 1.5zM1942.7 434.3l3.6-1.4 4.4 .7 4.5 3 4.4 4.8 3.6 6.3-6.2 2.8-3.6-6.3-4.3-4.8-4.6-2.9-4.4-.8-3.6 1.4zM1931.3 439.6l3.6-1.5 4.3 .8 4.6 2.9 4.4 4.9 3.6 6.2-6.2 2.9-3.6-6.3-4.4-4.8-4.5-2.9-4.4-.8-3.6 1.4z" fill="#c1c1c1" stroke="#c1c1c1" stroke-width="0.7" stroke-linejoin="round"/>
<path d="M2020.3 421.2l2.5 7.2 1 7.3-.6 6.8-2.1 5.7-3.6 4-6.2 2.8 3.6-4 2.2-5.7 .5-6.8-1-7.3-2.4-7.1zM2008.9 426.5l2.5 7.1 1 7.4-.6 6.8-2.2 5.6-3.6 4-6.1 2.9 3.6-4 2.1-5.7 .6-6.8-1-7.3-2.5-7.1zM1997.5 431.8l2.4 7.1 1.1 7.3-.6 6.9-2.2 5.6-3.6 4-6.2 2.9 3.6-4 2.2-5.7 .6-6.8-1-7.3-2.5-7.1zM1986 437.1l2.5 7.1 1 7.3-.5 6.8-2.2 5.7-3.6 4-6.2 2.9 3.6-4 2.2-5.7 .6-6.8-1.1-7.3-2.4-7.2zM1974.6 442.4l2.5 7.1 1 7.3-.6 6.8-2.1 5.7-3.6 4-6.2 2.9 3.6-4 2.2-5.7 .5-6.8-1-7.3-2.5-7.2zM1963.2 447.7l2.4 7.1 1.1 7.3-.6 6.8-2.2 5.7-3.6 4-6.2 2.8 3.7-4 2.1-5.6 .6-6.8-1-7.4-2.5-7.1zM1951.8 452.9l2.4 7.2 1 7.3-.5 6.8-2.2 5.7-3.6 4-6.2 2.8 3.6-4 2.2-5.6 .6-6.9-1.1-7.3-2.4-7.1z" fill="#d2d2d2" stroke="#d2d2d2" stroke-width="0.7" stroke-linejoin="round"/>
<path d="M2018.7 448.6l-5.8-2.4-6.1 2.8 5.7 2.4zM2012.7 454.1l-5.5-.2-5.7-2.4-6.2 2.8 5.8 2.4 5.4 .3zM2001.3 459.4l-5.5-.2-5.7-2.4-6.2 2.8 5.7 2.4 5.5 .3zM1989.9 464.7l-5.5-.3-5.8-2.4-6.1 2.9 5.7 2.4 5.5 .2zM1978.4 470l-5.5-.3-5.7-2.4-6.2 2.9 5.8 2.4 5.5 .2zM1967 475.3l-5.5-.3-5.7-2.4-6.2 2.9 5.7 2.4 5.5 .2zM1955.6 480.5l-5.5-.2-5.7-2.4-6.2 2.9 5.7 2.4 5.5 .2zM1944.1 485.8l-5.4-.2-6.2 2.8 5.5 .3z" fill="#929292" stroke="#929292" stroke-width="0.7" stroke-linejoin="round"/>
<path d="M2012.9 446.2l-5.5-4.3-4.7-5.8-6.2 2.9 4.8 5.7 5.5 4.3zM1997.4 411.3l2.5-3.4-6.2 2.8-2.5 3.5zM2001.5 451.5l-5.5-4.3-4.7-5.8-6.2 2.9 4.7 5.7 5.5 4.3zM1986 416.6l2.4-3.5-6.2 2.9-2.4 3.5zM1990.1 456.8l-5.5-4.3-4.8-5.8-6.1 2.9 4.7 5.7 5.5 4.3zM1974.5 421.9l2.5-3.5-6.2 2.9-2.4 3.5zM1978.6 462l-5.4-4.3-4.8-5.7-6.2 2.9 4.8 5.7 5.5 4.3zM1963.1 427.2l2.5-3.5-6.2 2.9-2.5 3.4zM1967.2 467.3l-5.5-4.3-4.7-5.7-6.2 2.8 4.8 5.8 5.4 4.3zM1951.7 432.5l2.4-3.5-6.1 2.9-2.5 3.4zM1955.8 472.6l-5.5-4.3-4.7-5.7-6.2 2.8 4.7 5.8 5.5 4.3zM1940.2 437.8l2.5-3.5-6.2 2.8-2.4 3.5zM1944.4 477.9l-5.5-4.3-4.8-5.7-6.1 2.8 4.7 5.8 5.5 4.3zM1928.8 443l2.5-3.4-6.2 2.8-2.5 3.5z" fill="#9b9b9b" stroke="#9b9b9b" stroke-width="0.7" stroke-linejoin="round"/>
<path d="M2002.7 436.1l-3.6-6.6-2.2-6.7-.5-6.3 1-5.2-6.2 2.9-1 5.1 .6 6.3 2.1 6.8 3.6 6.6zM1991.3 441.4l-3.6-6.6-2.2-6.8-.6-6.2 1.1-5.2-6.2 2.9-1 5.1 .5 6.3 2.2 6.8 3.6 6.6zM1979.8 446.7l-3.6-6.6-2.1-6.8-.6-6.3 1-5.1-6.1 2.9-1.1 5.1 .6 6.3 2.2 6.8 3.6 6.6zM1968.4 452l-3.6-6.6-2.2-6.8-.5-6.3 1-5.1-6.2 2.8-1 5.2 .6 6.3 2.1 6.8 3.6 6.6zM1957 457.3l-3.6-6.6-2.2-6.8-.6-6.3 1.1-5.1-6.2 2.8-1 5.2 .5 6.3 2.2 6.7 3.6 6.6zM1945.6 462.6l-3.6-6.6-2.2-6.8-.6-6.3 1-5.1-6.1 2.8-1.1 5.2 .6 6.2 2.2 6.8 3.6 6.6zM1934.1 467.9l-3.6-6.6-2.1-6.8-.6-6.3 1-5.2-6.2 2.9-1 5.1 .6 6.3 2.2 6.8 3.6 6.6z" fill="#a4a4a4" stroke="#a4a4a4" stroke-width="0.7" stroke-linejoin="round"/>
<path d="M2017.5 452.2l-4.8 1.9-6.2 2.9 4.8-2zM2006 457.4l-4.7 2-6.2 2.9 4.8-2zM1994.6 462.7l-4.7 2-6.2 2.8 4.7-1.9zM1983.2 468l-4.8 2-6.1 2.8 4.7-1.9zM1971.8 473.3l-4.8 2-6.2 2.8 4.8-1.9zM1960.3 478.6l-4.7 1.9-6.2 2.9 4.7-2zM1948.9 483.9l-4.8 1.9-6.1 2.9 4.7-2z" fill="#888888" stroke="#888888" stroke-width="0.7" stroke-linejoin="round"/>
<path d="M2018.7 448.6l-5.8-2.4-5.5-4.3-4.7-5.8-3.6-6.6-2.2-6.7-.5-6.3 1-5.2 2.5-3.4M2012.5 451.4l-5.7-2.4-5.5-4.3-4.8-5.7-3.6-6.6-2.1-6.8-.6-6.3 1-5.1 2.5-3.5M2017.5 452.2l-4.8 1.9-5.5-.2-5.7-2.4-5.5-4.3-4.7-5.8-3.6-6.6-2.2-6.8-.6-6.2 1.1-5.2 2.4-3.5M2011.3 455l-4.8 2-5.4-.3-5.8-2.4-5.5-4.3-4.7-5.7-3.6-6.6-2.2-6.8-.5-6.3 1-5.1 2.4-3.5M2006 457.4l-4.7 2-5.5-.2-5.7-2.4-5.5-4.3-4.8-5.8-3.6-6.6-2.1-6.8-.6-6.3 1-5.1 2.5-3.5M1999.9 460.3l-4.8 2-5.5-.3-5.7-2.4-5.5-4.3-4.7-5.7-3.6-6.6-2.2-6.8-.6-6.3 1.1-5.1 2.4-3.5M1994.6 462.7l-4.7 2-5.5-.3-5.8-2.4-5.4-4.3-4.8-5.7-3.6-6.6-2.2-6.8-.5-6.3 1-5.1 2.5-3.5M1988.4 465.6l-4.7 1.9-5.5-.2-5.7-2.4-5.5-4.3-4.8-5.7-3.6-6.6-2.1-6.8-.6-6.3 1-5.2 2.5-3.4M1983.2 468l-4.8 2-5.5-.3-5.7-2.4-5.5-4.3-4.7-5.7-3.6-6.6-2.2-6.8-.6-6.3 1.1-5.1 2.4-3.5M1977 470.9l-4.7 1.9-5.5-.2-5.8-2.4-5.4-4.3-4.8-5.8-3.6-6.6-2.2-6.7-.5-6.3 1-5.2 2.5-3.4M1971.8 473.3l-4.8 2-5.5-.3-5.7-2.4-5.5-4.3-4.7-5.7-3.6-6.6-2.2-6.8-.6-6.3 1-5.1 2.5-3.5M1965.6 476.2l-4.8 1.9-5.5-.2-5.7-2.4-5.5-4.3-4.7-5.8-3.6-6.6-2.2-6.8-.6-6.2 1.1-5.2 2.4-3.5M1960.3 478.6l-4.7 1.9-5.5-.2-5.7-2.4-5.5-4.3-4.8-5.7-3.6-6.6-2.1-6.8-.6-6.3 1-5.2 2.5-3.4M1954.1 481.4l-4.7 2-5.5-.2-5.7-2.4-5.5-4.3-4.7-5.8-3.6-6.6-2.2-6.8-.6-6.3 1-5.1 2.5-3.5M1948.9 483.9l-4.8 1.9-5.4-.2M1942.7 486.7l-4.7 2-5.5-.3" fill="none" stroke="#606060" stroke-width="0.9" stroke-opacity="0.8"/>
<path d="M1835.2 609.9l-2.7-3.2-1.3-5.1 .2-6.5 1.8-7.1 3.4-7.1 6.4 2.3-3.4 7.1-1.8 7.2-.2 6.4 1.3 5.1 2.7 3.2zM1852.6 616.2l-2.7-3.2-1.3-5.1 .2-6.5 1.8-7.1 3.4-7.1 6.4 2.3-3.4 7.1-1.8 7.2-.2 6.4 1.3 5.1 2.7 3.2zM1870 622.5l-2.7-3.2-1.3-5.1 .2-6.5 1.8-7.1 3.4-7.1 6.4 2.3-3.4 7.1-1.8 7.2-.2 6.4 1.3 5.1 2.7 3.2zM1887.3 628.8l-2.6-3.2-1.3-5.1 .2-6.4 1.8-7.2 3.4-7.1 6.3 2.3-3.3 7.1-1.8 7.2-.3 6.4 1.4 5.1 2.6 3.2zM1904.7 635.1l-2.6-3.2-1.4-5.1 .3-6.4 1.8-7.2 3.3-7.1 6.4 2.3-3.3 7.1-1.9 7.2-.2 6.4 1.4 5.1 2.6 3.2zM1922.1 641.4l-2.6-3.2-1.4-5.1 .2-6.4 1.9-7.2 3.3-7.1 6.4 2.4-3.3 7.1-1.9 7.1-.2 6.4 1.3 5.1 2.7 3.2zM1939.5 647.7l-2.7-3.2-1.3-5.1 .2-6.4 1.9-7.2 3.3-7.1 6.4 2.4-3.4 7.1-1.8 7.1-.2 6.4 1.3 5.1 2.7 3.2z" fill="#e0e0e0" stroke="#e0e0e0" stroke-width="0.7" stroke-linejoin="round"/>
<path d="M1836.6 580.9l4.6-6.3 5.6-5 5.9-3 6-.7 5.4 1.6 6.4 2.3-5.4-1.6-6 .8-6 3-5.5 4.9-4.6 6.3zM1854 587.2l4.6-6.3 5.5-5 6-3 6-.7 5.3 1.6 6.4 2.3-5.3-1.6-6 .8-6 3-5.5 4.9-4.6 6.3zM1871.4 593.5l4.6-6.3 5.5-4.9 6-3 5.9-.8 5.4 1.6 6.4 2.3-5.4-1.6-5.9 .8-6 3-5.5 4.9-4.6 6.3zM1888.8 599.8l4.6-6.3 5.5-4.9 6-3 5.9-.8 5.4 1.6 6.4 2.3-5.4-1.6-5.9 .8-6 3-5.5 4.9-4.7 6.3zM1906.1 606.1l4.7-6.3 5.5-4.9 6-3 5.9-.8 5.4 1.6 6.4 2.3-5.4-1.6-5.9 .8-6 3-5.5 4.9-4.7 6.3zM1923.5 612.4l4.6-6.3 5.6-4.9 6-3 5.9-.8 5.4 1.6 6.4 2.4-5.4-1.7-5.9 .8-6 3-5.6 4.9-4.6 6.4zM1940.9 618.7l4.6-6.3 6.4 2.3-4.6 6.4z" fill="#f5f5f5" stroke="#f5f5f5" stroke-width="0.7" stroke-linejoin="round"/>
<path d="M1851.1 600.3l-3.8 5.5-4.3 3.7-4.2 1.3 6.4 2.4 4.2-1.4 4.3-3.7 3.8-5.5zM1873 591.9l-1.7 7.7-2.8 7-3.8 5.5-4.3 3.7-4.2 1.3 6.4 2.4 4.2-1.4 4.3-3.6 3.8-5.6 2.8-7 1.7-7.7zM1890.3 598.2l-1.6 7.7-2.9 7-3.7 5.5-4.3 3.7-4.2 1.4 6.4 2.3 4.2-1.4 4.2-3.6 3.8-5.6 2.9-7 1.6-7.7zM1907.7 604.5l-1.6 7.7-2.9 7-3.8 5.5-4.2 3.7-4.2 1.4 6.4 2.3 4.2-1.4 4.2-3.6 3.8-5.6 2.9-7 1.6-7.7zM1925.1 610.8l-1.6 7.7-2.9 7-3.8 5.6-4.2 3.6-4.2 1.4 6.4 2.3 4.2-1.4 4.2-3.6 3.8-5.6 2.9-6.9 1.6-7.8zM1942.5 617.1l-1.6 7.7-2.9 7-3.8 5.6-4.2 3.6-4.2 1.4 6.4 2.3 4.2-1.4 4.2-3.6 3.8-5.6 2.9-6.9 1.6-7.8zM1959.9 623.4l-1.6 7.8-2.9 6.9-3.8 5.6-4.3 3.6-4.2 1.4 6.4 2.3 4.2-1.4 4.3-3.6 3.8-5.6 2.9-6.9 1.6-7.8z" fill="#e7e7e7" stroke="#e7e7e7" stroke-width="0.7" stroke-linejoin="round"/>
<path d="M1838.8 610.8l-3.6-.9 6.4 2.3 3.6 1zM1871.5 577l1.6 7.1-.1 7.8 6.4 2.3 0-7.8-1.5-7zM1856.2 617.1l-3.6-.9 6.4 2.3 3.6 1zM1888.9 583.4l1.5 7-.1 7.8 6.4 2.3 .1-7.8-1.5-7zM1873.6 623.5l-3.6-1 6.4 2.3 3.6 1zM1906.3 589.7l1.5 7-.1 7.8 6.4 2.3 .1-7.7-1.5-7.1zM1891 629.8l-3.7-1 6.4 2.3 3.7 1zM1923.7 596l1.5 7-.1 7.8 6.4 2.3 .1-7.7-1.5-7.1zM1908.4 636.1l-3.7-1 6.4 2.3 3.7 1zM1941.1 602.3l1.5 7-.1 7.8 6.4 2.3 .1-7.7-1.5-7.1zM1925.8 642.4l-3.7-1 6.4 2.3 3.7 1zM1958.5 608.6l1.5 7.1-.1 7.7 6.4 2.3 .1-7.7-1.6-7.1zM1943.1 648.7l-3.6-1 6.4 2.3 3.6 1z" fill="#dedede" stroke="#dedede" stroke-width="0.7" stroke-linejoin="round"/>
<path d="M1864.1 567.5l4.4 3.8 3 5.7 6.4 2.4-3-5.7-4.4-3.9zM1881.4 573.8l4.4 3.8 3.1 5.8 6.4 2.3-3.1-5.7-4.4-3.9zM1898.8 580.1l4.4 3.8 3.1 5.8 6.4 2.3-3.1-5.7-4.4-3.9zM1916.2 586.4l4.4 3.9 3.1 5.7 6.4 2.3-3.1-5.7-4.4-3.9zM1933.6 592.7l4.4 3.9 3.1 5.7 6.4 2.3-3.1-5.7-4.4-3.9zM1951 599l4.4 3.9 3.1 5.7 6.3 2.3-3-5.7-4.4-3.8z" fill="#cfcfcf" stroke="#cfcfcf" stroke-width="0.7" stroke-linejoin="round"/>
<path d="M1851.1 600.3l-3.8 5.5-4.3 3.7-4.2 1.3-3.6-.9M1857.5 602.6l-3.8 5.5-4.3 3.7-4.2 1.4-3.6-1M1864.1 567.5l4.4 3.8 3 5.7 1.6 7.1-.1 7.8-1.7 7.7-2.8 7-3.8 5.5-4.3 3.7-4.2 1.3-3.6-.9M1870.5 569.8l4.4 3.9 3 5.7 1.5 7 0 7.8-1.7 7.7-2.8 7-3.8 5.6-4.3 3.6-4.2 1.4-3.6-1M1881.4 573.8l4.4 3.8 3.1 5.8 1.5 7-.1 7.8-1.6 7.7-2.9 7-3.7 5.5-4.3 3.7-4.2 1.4-3.6-1M1887.8 576.1l4.4 3.9 3.1 5.7 1.5 7-.1 7.8-1.6 7.7-2.9 7-3.8 5.6-4.2 3.6-4.2 1.4-3.6-1M1898.8 580.1l4.4 3.8 3.1 5.8 1.5 7-.1 7.8-1.6 7.7-2.9 7-3.8 5.5-4.2 3.7-4.2 1.4-3.7-1M1905.2 582.4l4.4 3.9 3.1 5.7 1.5 7.1-.1 7.7-1.6 7.7-2.9 7-3.8 5.6-4.2 3.6-4.2 1.4-3.7-1M1916.2 586.4l4.4 3.9 3.1 5.7 1.5 7-.1 7.8-1.6 7.7-2.9 7-3.8 5.6-4.2 3.6-4.2 1.4-3.7-1M1922.6 588.7l4.4 3.9 3.1 5.7 1.5 7.1-.1 7.7-1.6 7.8-2.9 6.9-3.8 5.6-4.2 3.6-4.2 1.4-3.7-1M1933.6 592.7l4.4 3.9 3.1 5.7 1.5 7-.1 7.8-1.6 7.7-2.9 7-3.8 5.6-4.2 3.6-4.2 1.4-3.7-1M1940 595l4.4 3.9 3.1 5.7 1.5 7.1-.1 7.7-1.6 7.8-2.9 6.9-3.8 5.6-4.2 3.6-4.2 1.4-3.7-1M1951 599l4.4 3.9 3.1 5.7 1.5 7.1-.1 7.7-1.6 7.8-2.9 6.9-3.8 5.6-4.3 3.6-4.2 1.4-3.6-1M1957.4 601.4l4.4 3.8 3 5.7 1.6 7.1-.1 7.7-1.6 7.8-2.9 6.9-3.8 5.6-4.3 3.6-4.2 1.4-3.6-1" fill="none" stroke="#8a8a8a" stroke-width="0.9" stroke-opacity="0.8"/>
<path d="M2008.3 555.6l4.7-1.1 5.7 1.4 6 3.8 5.8 5.7 4.9 7.2-5.6 4-4.9-7.3-5.7-5.7-6.1-3.7-5.6-1.4-4.7 1zM1996.6 563.8l4.7-1 5.7 1.4 6 3.8 5.8 5.7 4.9 7.2-5.6 3.9-4.9-7.2-5.7-5.7-6.1-3.8-5.7-1.4-4.6 1.1zM1984.9 572.1l4.7-1 5.6 1.4 6.1 3.7 5.8 5.8 4.8 7.2-5.5 3.9-4.9-7.2-5.8-5.7-6-3.8-5.7-1.4-4.7 1.1zM1973.2 580.4l4.7-1 5.6 1.4 6.1 3.7 5.8 5.8 4.8 7.2-5.5 3.9-4.9-7.2-5.8-5.8-6-3.7-5.7-1.4-4.7 1zM1961.5 588.7l4.6-1 5.7 1.4 6.1 3.7 5.7 5.8 4.9 7.2-5.5 3.9-4.9-7.2-5.8-5.8-6-3.7-5.7-1.4-4.7 1zM1949.8 597l4.6-1 5.7 1.4 6.1 3.7 5.7 5.7 4.9 7.3-5.6 3.9-4.8-7.2-5.8-5.8-6-3.7-5.7-1.4-4.7 1zM1938 605.3l4.7-1.1 5.7 1.4 6 3.8 5.8 5.7 4.9 7.3-5.6 3.9-4.8-7.3-5.8-5.7-6.1-3.7-5.6-1.4-4.7 1z" fill="#a7a7a7" stroke="#a7a7a7" stroke-width="0.7" stroke-linejoin="round"/>
<path d="M2035.4 572.6l3.4 8.1 1.6 8.1-.4 7.4-2.5 6.1-4.3 4.2-5.6 3.9 4.4-4.2 2.5-6 .4-7.5-1.6-8.1-3.5-8zM2023.7 580.9l3.4 8.1 1.6 8.1-.4 7.4-2.5 6.1-4.3 4.1-5.6 4 4.4-4.2 2.4-6 .5-7.5-1.7-8.1-3.4-8.1zM2011.9 589.2l3.5 8.1 1.6 8.1-.4 7.4-2.5 6.1-4.4 4.1-5.5 4 4.3-4.2 2.5-6.1 .5-7.4-1.7-8.1-3.4-8.1zM2000.2 597.5l3.5 8 1.6 8.2-.4 7.4-2.5 6.1-4.4 4.1-5.5 3.9 4.3-4.1 2.5-6.1 .4-7.4-1.6-8.1-3.4-8.1zM1988.5 605.8l3.5 8 1.6 8.1-.5 7.5-2.4 6.1-4.4 4.1-5.5 3.9 4.3-4.1 2.5-6.1 .4-7.4-1.6-8.1-3.4-8.1zM1976.8 614.1l3.4 8 1.7 8.1-.5 7.5-2.4 6-4.4 4.2-5.6 3.9 4.4-4.1 2.5-6.1 .4-7.4-1.6-8.2-3.5-8zM1965.1 622.4l3.4 8 1.6 8.1-.4 7.5-2.5 6-4.3 4.2-5.6 3.9 4.4-4.1 2.5-6.1 .4-7.5-1.6-8.1-3.5-8z" fill="#b4b4b4" stroke="#b4b4b4" stroke-width="0.7" stroke-linejoin="round"/>
<path d="M2025 596.6l-7-5-5.5 4 6.9 4.9zM2005.1 558.9l3.2-3.3-5.5 3.9-3.2 3.3zM2020.5 607.7l-7.2-2.9-7-4.9-5.5 3.9 6.9 5 7.2 2.9zM1993.4 567.2l3.2-3.4-5.5 4-3.2 3.3zM2008.8 616l-7.3-2.9-6.9-4.9-5.6 3.9 7 4.9 7.2 3zM1981.7 575.4l3.2-3.3-5.6 4-3.1 3.3zM1997 624.3l-7.2-2.9-6.9-4.9-5.6 3.9 7 4.9 7.2 2.9zM1970 583.7l3.2-3.3-5.6 3.9-3.2 3.4zM1985.3 632.6l-7.2-2.9-6.9-4.9-5.6 3.9 7 4.9 7.2 2.9zM1958.3 592l3.2-3.3-5.6 3.9-3.2 3.3zM1973.6 640.9l-7.2-2.9-6.9-4.9-5.6 3.9 6.9 4.9 7.3 2.9zM1946.6 600.3l3.2-3.3-5.6 3.9-3.2 3.3zM1961.9 649.2l-7.2-2.9-7-4.9-5.5 3.9 6.9 4.9 7.3 2.9zM1934.9 608.6l3.1-3.3-5.5 3.9-3.2 3.3zM1950.2 657.5l-7.2-2.9-5.6 3.9 7.2 2.9z" fill="#737373" stroke="#737373" stroke-width="0.7" stroke-linejoin="round"/>
<path d="M2018 591.6l-6-6.4-4.6-7.2-2.8-7.3-.8-6.6 1.3-5.2-5.5 3.9-1.3 5.2 .7 6.7 2.8 7.2 4.6 7.3 6.1 6.4zM2006.3 599.9l-6-6.4-4.6-7.2-2.8-7.3-.8-6.6 1.3-5.2-5.5 3.9-1.3 5.2 .7 6.6 2.8 7.3 4.6 7.2 6.1 6.4zM1994.6 608.2l-6-6.4-4.7-7.2-2.8-7.3-.7-6.6 1.3-5.3-5.5 4-1.3 5.2 .7 6.6 2.8 7.3 4.6 7.2 6 6.4zM1982.9 616.5l-6.1-6.4-4.6-7.2-2.8-7.3-.7-6.6 1.3-5.3-5.6 4-1.3 5.2 .8 6.6 2.8 7.3 4.6 7.2 6 6.4zM1971.2 624.8l-6.1-6.4-4.6-7.2-2.8-7.3-.7-6.6 1.3-5.3-5.6 3.9-1.3 5.3 .8 6.6 2.8 7.3 4.6 7.2 6 6.4zM1959.5 633.1l-6.1-6.4-4.6-7.3-2.8-7.2-.7-6.7 1.3-5.2-5.6 3.9-1.3 5.3 .8 6.6 2.7 7.3 4.7 7.2 6 6.4zM1947.7 641.4l-6-6.4-4.6-7.3-2.8-7.3-.8-6.6 1.4-5.2-5.6 3.9-1.3 5.3 .7 6.6 2.8 7.3 4.6 7.2 6.1 6.4z" fill="#7b7b7b" stroke="#7b7b7b" stroke-width="0.7" stroke-linejoin="round"/>
<path d="M2033.2 606.5l-5.9 1.8-5.5 3.9 5.8-1.8zM2021.5 614.7l-5.9 1.9-5.5 3.9 5.8-1.8zM2009.7 623l-5.8 1.9-5.6 3.9 5.9-1.8zM1998 631.3l-5.8 1.9-5.6 3.9 5.9-1.9zM1986.3 639.6l-5.8 1.9-5.6 3.9 5.9-1.9zM1974.6 647.9l-5.9 1.8-5.5 4 5.8-1.9zM1962.9 656.2l-5.9 1.8-5.5 4 5.8-1.9z" fill="#666666" stroke="#666666" stroke-width="0.7" stroke-linejoin="round"/>
<path d="M2027.3 608.3l-6.8-.6-5.6 4 6.9 .5zM2015.6 616.6l-6.8-.6-5.6 4 6.9 .5zM2003.9 624.9l-6.9-.6-5.5 3.9 6.8 .6zM1992.2 633.2l-6.9-.6-5.5 3.9 6.8 .6zM1980.5 641.5l-6.9-.6-5.5 3.9 6.8 .6zM1968.7 649.7l-6.8-.5-5.5 3.9 6.8 .6zM1957 658l-6.8-.5-5.6 3.9 6.9 .6z" fill="#6d6d6d" stroke="#6d6d6d" stroke-width="0.7" stroke-linejoin="round"/>
<path d="M2025 596.6l-7-5-6-6.4-4.6-7.2-2.8-7.3-.8-6.6 1.3-5.2 3.2-3.3M2019.4 600.5l-6.9-4.9-6.1-6.4-4.6-7.3-2.8-7.2-.7-6.7 1.3-5.2 3.2-3.3M2033.2 606.5l-5.9 1.8-6.8-.6-7.2-2.9-7-4.9-6-6.4-4.6-7.2-2.8-7.3-.8-6.6 1.3-5.2 3.2-3.4M2027.6 610.4l-5.8 1.8-6.9-.5-7.2-2.9-6.9-5-6.1-6.4-4.6-7.2-2.8-7.3-.7-6.6 1.3-5.2 3.2-3.3M2021.5 614.7l-5.9 1.9-6.8-.6-7.3-2.9-6.9-4.9-6-6.4-4.7-7.2-2.8-7.3-.7-6.6 1.3-5.3 3.2-3.3M2015.9 618.7l-5.8 1.8-6.9-.5-7.2-3-7-4.9-6-6.4-4.6-7.2-2.8-7.3-.7-6.6 1.3-5.2 3.1-3.3M2009.7 623l-5.8 1.9-6.9-.6-7.2-2.9-6.9-4.9-6.1-6.4-4.6-7.2-2.8-7.3-.7-6.6 1.3-5.3 3.2-3.3M2004.2 627l-5.9 1.8-6.8-.6-7.2-2.9-7-4.9-6-6.4-4.6-7.2-2.8-7.3-.8-6.6 1.3-5.2 3.2-3.4M1998 631.3l-5.8 1.9-6.9-.6-7.2-2.9-6.9-4.9-6.1-6.4-4.6-7.2-2.8-7.3-.7-6.6 1.3-5.3 3.2-3.3M1992.5 635.2l-5.9 1.9-6.8-.6-7.2-2.9-7-4.9-6-6.4-4.6-7.2-2.8-7.3-.8-6.6 1.3-5.3 3.2-3.3M1986.3 639.6l-5.8 1.9-6.9-.6-7.2-2.9-6.9-4.9-6.1-6.4-4.6-7.3-2.8-7.2-.7-6.7 1.3-5.2 3.2-3.3M1980.8 643.5l-5.9 1.9-6.8-.6-7.3-2.9-6.9-4.9-6-6.4-4.7-7.2-2.7-7.3-.8-6.6 1.3-5.3 3.2-3.3M1974.6 647.9l-5.9 1.8-6.8-.5-7.2-2.9-7-4.9-6-6.4-4.6-7.3-2.8-7.3-.8-6.6 1.4-5.2 3.1-3.3M1969 651.8l-5.8 1.9-6.8-.6-7.3-2.9-6.9-4.9-6.1-6.4-4.6-7.2-2.8-7.3-.7-6.6 1.3-5.3 3.2-3.3M1962.9 656.2l-5.9 1.8-6.8-.5-7.2-2.9M1957.3 660.1l-5.8 1.9-6.9-.6-7.2-2.9" fill="none" stroke="#474747" stroke-width="0.9" stroke-opacity="0.8"/>
<path d="M2005.5 505.7l-1.2-4 .9-5 3.3-5.4 5.1-5.3 6.7-4.4 3.7 5.6-6.6 4.5-5.2 5.2-3.2 5.4-1 5 1.3 4zM2014.3 518.8l-1.3-4.1 1-4.9 3.2-5.4 5.1-5.3 6.7-4.4 3.8 5.6-6.7 4.5-5.1 5.2-3.3 5.4-.9 5 1.2 4zM2023 531.8l-1.3-4 1-4.9 3.2-5.4 5.2-5.3 6.6-4.5 3.8 5.7-6.7 4.5-5.1 5.2-3.2 5.4-1 5 1.3 4zM2031.7 544.9l-1.3-4 1-4.9 3.2-5.5 5.2-5.2 6.6-4.5 3.8 5.7-6.6 4.5-5.2 5.2-3.2 5.4-1 5 1.3 4zM2040.4 558l-1.2-4 1-5 3.2-5.4 5.1-5.2 6.7-4.5 3.7 5.7-6.6 4.5-5.2 5.2-3.2 5.4-1 5 1.3 4zM2049.2 571.1l-1.3-4 3.8 5.7 1.2 4z" fill="#dcdcdc" stroke="#dcdcdc" stroke-width="0.7" stroke-linejoin="round"/>
<path d="M2020.3 481.6l7.5-3.3 7.7-1.6 7.2 .3 6 2.1 4.2 3.9 3.8 5.7-4.3-3.9-6-2.2-7.1-.2-7.7 1.6-7.6 3.2zM2029 494.7l7.5-3.3 7.7-1.6 7.2 .3 6 2.1 4.2 3.9 3.8 5.7-4.2-3.9-6-2.2-7.2-.2-7.7 1.6-7.5 3.2zM2037.7 507.7l7.5-3.2 7.7-1.6 7.2 .3 6 2.1 4.3 3.9 3.7 5.6-4.2-3.8-6-2.2-7.2-.2-7.7 1.6-7.5 3.2zM2046.4 520.8l7.6-3.2 7.7-1.6 7.1 .2 6 2.2 4.3 3.9 3.8 5.6-4.3-3.9-6-2.1-7.2-.2-7.7 1.6-7.5 3.2zM2055.2 533.9l7.5-3.2 7.7-1.6 7.2 .2 6 2.2 4.2 3.9 3.8 5.6-4.3-3.9-6-2.1-7.1-.3-7.7 1.6-7.6 3.3z" fill="#f0f0f0" stroke="#f0f0f0" stroke-width="0.7" stroke-linejoin="round"/>
<path d="M2046.3 475.2l-.1 6.3 3.8 5.7 .1-6.3zM2055.1 488.3l-.2 6.3 3.8 5.7 .1-6.3zM2063.8 501.4l-.1 6.3 3.7 5.7 .2-6.3zM2072.5 514.5l-.1 6.3 3.8 5.6 .1-6.2zM2081.2 527.6l-.1 6.3 3.8 5.6 .1-6.2zM2090 540.7l-.1 6.3 3.7 5.6 .1-6.3z" fill="#c8c8c8" stroke="#c8c8c8" stroke-width="0.7" stroke-linejoin="round"/>
<path d="M2046.2 481.5l-2.3 6.7-4.3 6.6 3.8 5.6 4.2-6.5 2.4-6.7zM2008.9 508.2l-3.4-2.5 3.8 5.6 3.4 2.6zM2054.9 494.6l-2.3 6.7-4.3 6.6 3.8 5.6 4.3-6.5 2.3-6.7zM2017.6 521.3l-3.3-2.5 3.7 5.6 3.4 2.6zM2063.7 507.7l-2.4 6.7-4.3 6.6 3.8 5.6 4.3-6.5 2.3-6.7zM2026.4 534.4l-3.4-2.6 3.8 5.7 3.3 2.6zM2072.4 520.8l-2.3 6.7-4.3 6.5 3.7 5.7 4.3-6.5 2.4-6.8zM2035.1 547.5l-3.4-2.6 3.8 5.7 3.4 2.6zM2081.1 533.9l-2.3 6.7-4.3 6.5 3.8 5.7 4.3-6.5 2.3-6.8zM2043.8 560.6l-3.4-2.6 3.8 5.7 3.4 2.6zM2089.9 547l-2.4 6.7-4.3 6.5 3.8 5.7 4.3-6.6 2.3-6.7zM2052.6 573.7l-3.4-2.6 3.7 5.7 3.4 2.6z" fill="#d7d7d7" stroke="#d7d7d7" stroke-width="0.7" stroke-linejoin="round"/>
<path d="M2039.6 494.8l-5.8 5.8-6.6 4.5-6.9 2.9-6.3 1.1-5.1-.9 3.8 5.7 5.1 .8 6.3-1 6.8-2.9 6.7-4.6 5.8-5.8zM2048.3 507.9l-5.8 5.8-6.6 4.5-6.8 2.9-6.3 1.1-5.2-.9 3.8 5.7 5.1 .8 6.3-1 6.9-2.9 6.6-4.6 5.8-5.8zM2057 521l-5.7 5.7-6.7 4.6-6.8 2.9-6.3 1.1-5.1-.9 3.7 5.7 5.2 .8 6.3-1 6.8-3 6.6-4.5 5.8-5.8zM2065.8 534l-5.8 5.8-6.6 4.6-6.9 2.9-6.3 1-5.1-.8 3.8 5.7 5.1 .8 6.3-1.1 6.8-2.9 6.7-4.5 5.7-5.8zM2074.5 547.1l-5.8 5.8-6.6 4.6-6.9 2.9-6.3 1-5.1-.8 3.8 5.7 5.1 .8 6.3-1.1 6.9-2.9 6.6-4.5 5.8-5.8zM2083.2 560.2l-5.7 5.8-6.7 4.6-6.8 2.9-6.3 1-5.1-.8 3.7 5.7 5.1 .8 6.3-1.1 6.9-2.9 6.6-4.5 5.8-5.8z" fill="#dfdfdf" stroke="#dfdfdf" stroke-width="0.7" stroke-linejoin="round"/>
<path d="M2052.9 483l2.2 5.3 3.7 5.7-2.1-5.3zM2061.6 496.1l2.2 5.3 3.8 5.7-2.2-5.3zM2070.4 509.2l2.1 5.3 3.8 5.7-2.2-5.4zM2079.1 522.3l2.1 5.3 3.8 5.7-2.1-5.4zM2087.8 535.4l2.2 5.3 3.7 5.6-2.1-5.3z" fill="#bababa" stroke="#bababa" stroke-width="0.7" stroke-linejoin="round"/>
<path d="M2046.3 475.2l-.1 6.3-2.3 6.7-4.3 6.6-5.8 5.8-6.6 4.5-6.9 2.9-6.3 1.1-5.1-.9-3.4-2.5M2050.1 480.9l-.1 6.3-2.4 6.7-4.2 6.5-5.8 5.8-6.7 4.6-6.8 2.9-6.3 1-5.1-.8-3.4-2.6M2052.9 483l2.2 5.3-.2 6.3-2.3 6.7-4.3 6.6-5.8 5.8-6.6 4.5-6.8 2.9-6.3 1.1-5.2-.9-3.3-2.5M2056.7 488.7l2.1 5.3-.1 6.3-2.3 6.7-4.3 6.5-5.8 5.8-6.6 4.6-6.9 2.9-6.3 1-5.1-.8-3.4-2.6M2061.6 496.1l2.2 5.3-.1 6.3-2.4 6.7-4.3 6.6-5.7 5.7-6.7 4.6-6.8 2.9-6.3 1.1-5.1-.9-3.4-2.6M2065.4 501.8l2.2 5.3-.2 6.3-2.3 6.7-4.3 6.5-5.8 5.8-6.6 4.5-6.8 3-6.3 1-5.2-.8-3.3-2.6M2070.4 509.2l2.1 5.3-.1 6.3-2.3 6.7-4.3 6.5-5.8 5.8-6.6 4.6-6.9 2.9-6.3 1-5.1-.8-3.4-2.6M2074.1 514.8l2.2 5.4-.1 6.2-2.4 6.8-4.3 6.5-5.7 5.8-6.7 4.5-6.8 2.9-6.3 1.1-5.1-.8-3.4-2.6M2079.1 522.3l2.1 5.3-.1 6.3-2.3 6.7-4.3 6.5-5.8 5.8-6.6 4.6-6.9 2.9-6.3 1-5.1-.8-3.4-2.6M2082.9 527.9l2.1 5.4-.1 6.2-2.3 6.8-4.3 6.5-5.8 5.8-6.6 4.5-6.9 2.9-6.3 1.1-5.1-.8-3.4-2.6M2087.8 535.4l2.2 5.3-.1 6.3-2.4 6.7-4.3 6.5-5.7 5.8-6.7 4.6-6.8 2.9-6.3 1-5.1-.8-3.4-2.6M2091.6 541l2.1 5.3-.1 6.3-2.3 6.7-4.3 6.6-5.8 5.8-6.6 4.5-6.9 2.9-6.3 1.1-5.1-.8-3.4-2.6" fill="none" stroke="#858585" stroke-width="0.9" stroke-opacity="0.8"/>
<path d="M1924 480.4l1.2-3.1 3.4-2.8 5.3-2.1 6.7-1.2 7.4 0 0 6-7.4 .1-6.7 1.1-5.3 2.1-3.4 2.8-1.2 3.2zM1924 491.3l1.2-3.1 3.4-2.8 5.3-2.1 6.7-1.2 7.4 0 0 6-7.4 .1-6.7 1.1-5.3 2.1-3.4 2.8-1.2 3.2zM1924 502.2l1.2-3.1 3.4-2.8 5.3-2.1 6.7-1.2 7.4 0 0 6-7.4 .1-6.7 1.1-5.3 2.1-3.4 2.8-1.2 3.2zM1924 513.2l1.2-3.2 3.4-2.8 5.3-2.1 6.7-1.2 7.4 0 0 6-7.4 .1-6.7 1.1-5.3 2.2-3.4 2.8-1.2 3.1zM1924 524.1l1.2-3.2 3.4-2.8 5.3-2.1 6.7-1.2 7.4 0 0 6-7.4 .1-6.7 1.2-5.3 2.1-3.4 2.8-1.2 3.1z" fill="#dab0da" stroke="#dab0da" stroke-width="0.7" stroke-linejoin="round"/>
<path d="M1948 471.2l7.4 1.1 6.7 2.2 5.3 3.2 3.4 3.9 1.2 4.3 0 6-1.2-4.2-3.4-3.9-5.3-3.2-6.7-2.3-7.4-1.1zM1948 482.1l7.4 1.1 6.7 2.2 5.3 3.2 3.4 3.9 1.2 4.3 0 6-1.2-4.2-3.4-3.9-5.3-3.2-6.7-2.2-7.4-1.2zM1948 493l7.4 1.1 6.7 2.3 5.3 3.2 3.4 3.8 1.2 4.3 0 6.1-1.2-4.3-3.4-3.9-5.3-3.2-6.7-2.2-7.4-1.2zM1948 503.9l7.4 1.1 6.7 2.3 5.3 3.2 3.4 3.9 1.2 4.2 0 6.1-1.2-4.3-3.4-3.9-5.3-3.2-6.7-2.2-7.4-1.2zM1948 514.8l7.4 1.1 6.7 2.3 5.3 3.2 3.4 3.9 1.2 4.2 0 6.1-1.2-4.3-3.4-3.9-5.3-3.2-6.7-2.2-7.4-1.2z" fill="#eebeee" stroke="#eebeee" stroke-width="0.7" stroke-linejoin="round"/>
<path d="M1972 475l-1.2 4.2 0 6.1 1.2-4.3zM1972 485.9l-1.2 4.2 0 6.1 1.2-4.3zM1972 496.8l-1.2 4.2 0 6.1 1.2-4.3zM1972 507.7l-1.2 4.2 0 6.1 1.2-4.2zM1972 518.6l-1.2 4.3 0 6 1.2-4.2zM1972 529.5l-1.2 4.3 0 6 1.2-4.2z" fill="#d468d4" stroke="#d468d4" stroke-width="0.7" stroke-linejoin="round"/>
<path d="M1970.8 479.2l-3.4 3.9 0 6.1 3.4-3.9zM1970.8 490.1l-3.4 3.9 0 6.1 3.4-3.9zM1970.8 501l-3.4 3.9 0 6.1 3.4-3.9zM1970.8 511.9l-3.4 3.9 0 6.1 3.4-3.9zM1970.8 522.9l-3.4 3.8 0 6.1 3.4-3.9zM1970.8 533.8l-3.4 3.9 0 6 3.4-3.9z" fill="#e56ee5" stroke="#e56ee5" stroke-width="0.7" stroke-linejoin="round"/>
<path d="M1967.4 483.1l-5.3 3.2-6.7 2.3 0 6 6.7-2.2 5.3-3.2zM1925.2 483.6l-1.2-3.2 0 6.1 1.2 3.1zM1967.4 494l-5.3 3.2-6.7 2.3 0 6 6.7-2.2 5.3-3.2zM1925.2 494.5l-1.2-3.2 0 6.1 1.2 3.2zM1967.4 504.9l-5.3 3.2-6.7 2.3 0 6 6.7-2.2 5.3-3.2zM1925.2 505.4l-1.2-3.2 0 6.1 1.2 3.2zM1967.4 515.8l-5.3 3.2-6.7 2.3 0 6.1 6.7-2.3 5.3-3.2zM1925.2 516.3l-1.2-3.1 0 6 1.2 3.2zM1967.4 526.7l-5.3 3.2-6.7 2.3 0 6.1 6.7-2.3 5.3-3.2zM1925.2 527.2l-1.2-3.1 0 6 1.2 3.2zM1967.4 537.7l-5.3 3.2-6.7 2.2 0 6.1 6.7-2.3 5.3-3.2zM1925.2 538.1l-1.2-3.1 0 6 1.2 3.2z" fill="#f675f6" stroke="#f675f6" stroke-width="0.7" stroke-linejoin="round"/>
<path d="M1955.4 488.6l-7.4 1.1-7.4 0-6.7-1.2-5.3-2.1-3.4-2.8 0 6 3.4 2.8 5.3 2.2 6.7 1.1 7.4 .1 7.4-1.2zM1955.4 499.5l-7.4 1.1-7.4 0-6.7-1.2-5.3-2.1-3.4-2.8 0 6.1 3.4 2.8 5.3 2.1 6.7 1.1 7.4 .1 7.4-1.2zM1955.4 510.4l-7.4 1.1-7.4 0-6.7-1.2-5.3-2.1-3.4-2.8 0 6.1 3.4 2.8 5.3 2.1 6.7 1.1 7.4 .1 7.4-1.2zM1955.4 521.3l-7.4 1.1-7.4 0-6.7-1.2-5.3-2.1-3.4-2.8 0 6.1 3.4 2.8 5.3 2.1 6.7 1.1 7.4 .1 7.4-1.1zM1955.4 532.2l-7.4 1.1-7.4 0-6.7-1.2-5.3-2.1-3.4-2.8 0 6.1 3.4 2.8 5.3 2.1 6.7 1.2 7.4 0 7.4-1.1zM1955.4 543.1l-7.4 1.1-7.4 0-6.7-1.2-5.3-2.1-3.4-2.8 0 6.1 3.4 2.8 5.3 2.1 6.7 1.2 7.4 0 7.4-1.1z" fill="#ff7dff" stroke="#ff7dff" stroke-width="0.7" stroke-linejoin="round"/>
<path d="M1972 475l-1.2 4.2-3.4 3.9-5.3 3.2-6.7 2.3-7.4 1.1-7.4 0-6.7-1.2-5.3-2.1-3.4-2.8-1.2-3.2M1972 481l-1.2 4.3-3.4 3.9-5.3 3.2-6.7 2.2-7.4 1.2-7.4-.1-6.7-1.1-5.3-2.2-3.4-2.8-1.2-3.1M1972 485.9l-1.2 4.2-3.4 3.9-5.3 3.2-6.7 2.3-7.4 1.1-7.4 0-6.7-1.2-5.3-2.1-3.4-2.8-1.2-3.2M1972 491.9l-1.2 4.3-3.4 3.9-5.3 3.2-6.7 2.2-7.4 1.2-7.4-.1-6.7-1.1-5.3-2.1-3.4-2.8-1.2-3.2M1972 496.8l-1.2 4.2-3.4 3.9-5.3 3.2-6.7 2.3-7.4 1.1-7.4 0-6.7-1.2-5.3-2.1-3.4-2.8-1.2-3.2M1972 502.8l-1.2 4.3-3.4 3.9-5.3 3.2-6.7 2.2-7.4 1.2-7.4-.1-6.7-1.1-5.3-2.1-3.4-2.8-1.2-3.2M1972 507.7l-1.2 4.2-3.4 3.9-5.3 3.2-6.7 2.3-7.4 1.1-7.4 0-6.7-1.2-5.3-2.1-3.4-2.8-1.2-3.1M1972 513.8l-1.2 4.2-3.4 3.9-5.3 3.2-6.7 2.3-7.4 1.1-7.4-.1-6.7-1.1-5.3-2.1-3.4-2.8-1.2-3.2M1972 518.6l-1.2 4.3-3.4 3.8-5.3 3.2-6.7 2.3-7.4 1.1-7.4 0-6.7-1.2-5.3-2.1-3.4-2.8-1.2-3.1M1972 524.7l-1.2 4.2-3.4 3.9-5.3 3.2-6.7 2.3-7.4 1.1-7.4 0-6.7-1.2-5.3-2.1-3.4-2.8-1.2-3.2M1972 529.5l-1.2 4.3-3.4 3.9-5.3 3.2-6.7 2.2-7.4 1.1-7.4 0-6.7-1.2-5.3-2.1-3.4-2.8-1.2-3.1M1972 535.6l-1.2 4.2-3.4 3.9-5.3 3.2-6.7 2.3-7.4 1.1-7.4 0-6.7-1.2-5.3-2.1-3.4-2.8-1.2-3.2" fill="none" stroke="#994899" stroke-width="0.9" stroke-opacity="0.8"/>
<path d="M2063.9 512.5l2.3-2.1 4.8-1.5 6.9-.4 8.4 .7 8.9 1.9-1.3 14.4-8.9-1.9-8.4-.7-6.9 .5-4.8 1.4-2.3 2.1zM2061.4 540.5l2.2-2.1 4.9-1.5 6.9-.4 8.3 .7 8.9 1.9-1.3 14.4-8.9-1.9-8.3-.7-7 .5-4.8 1.4-2.2 2.1zM2058.8 568.5l2.3-2.1 4.8-1.5 6.9-.4 8.4 .7 8.9 1.9-1.3 14.4-8.9-1.9-8.4-.7-6.9 .5-4.8 1.4-2.3 2.1zM2056.3 596.5l2.2-2.1 4.9-1.5 6.9-.4 8.3 .7 8.9 1.9-1.3 14.4-8.9-1.9-8.3-.7-6.9 .5-4.9 1.4-2.2 2.1zM2053.7 624.5l2.3-2.1 4.8-1.5 7-.4 8.3 .7 8.9 1.9-1.3 14.4-8.9-1.9-8.4-.7-6.9 .5-4.8 1.4-2.3 2.1zM2051.2 652.5l2.2-2.1 4.9-1.5-1.3 14.5-4.9 1.4-2.2 2.1z" fill="#c6d1c6" stroke="#c6d1c6" stroke-width="0.7" stroke-linejoin="round"/>
<path d="M2095.2 511.1l8.6 3 7.4 4.1 5.5 4.8 3.1 5.2 .3 5.3-1.3 14.4-.3-5.2-3.1-5.2-5.5-4.9-7.4-4-8.6-3.1zM2092.6 539.1l8.6 3 7.5 4.1 5.5 4.8 3 5.2 .3 5.3-1.3 14.4-.3-5.2-3-5.2-5.6-4.9-7.4-4-8.6-3.1zM2090.1 567.1l8.6 3 7.4 4.1 5.5 4.8 3.1 5.2 .3 5.3-1.3 14.4-.3-5.2-3.1-5.2-5.5-4.9-7.4-4-8.6-3.1zM2087.5 595.1l8.6 3 7.5 4.1 5.5 4.8 3.1 5.2 .3 5.3-1.4 14.4-.3-5.2-3-5.2-5.6-4.9-7.4-4-8.6-3.1zM2085 623.1l8.6 3 7.4 4.1 5.5 4.8 3.1 5.2 .3 5.3-1.3 14.4-.3-5.2-3.1-5.2-5.5-4.9-7.4-4-8.6-3.1z" fill="#d7e4d7" stroke="#d7e4d7" stroke-width="0.7" stroke-linejoin="round"/>
<path d="M2115 514.6l-7.1 3.3-8.6 2.1-1.3 14.4 8.5-2.1 7.2-3.2zM2064.5 514.9l-.6-2.4-1.3 14.4 .6 2.5zM2112.5 542.6l-7.2 3.3-8.6 2.1-1.3 14.4 8.6-2.1 7.2-3.2zM2061.9 542.9l-.5-2.4-1.3 14.4 .5 2.5zM2109.9 570.6l-7.1 3.3-8.6 2.1-1.3 14.4 8.5-2.1 7.2-3.2zM2059.4 570.9l-.6-2.4-1.3 14.4 .6 2.5zM2107.4 598.6l-7.2 3.3-8.6 2.1-1.3 14.4 8.6-2.1 7.2-3.2zM2056.8 598.9l-.5-2.4-1.3 14.4 .5 2.5zM2104.9 626.6l-7.2 3.3-8.6 2.1-1.3 14.4 8.6-2.1 7.1-3.2zM2054.3 626.9l-.6-2.4-1.3 14.4 .6 2.5zM2102.3 654.6l-7.2 3.3-8.6 2.1-1.3 14.4 8.6-2.1 7.2-3.2zM2051.7 654.9l-.5-2.4-1.3 14.4 .5 2.5z" fill="#45e845" stroke="#45e845" stroke-width="0.7" stroke-linejoin="round"/>
<path d="M2099.3 520l-9.2 .9-8.8-.3-7.7-1.2-5.8-2.1-3.3-2.4-1.3 14.5 3.3 2.4 5.8 2 7.6 1.3 8.9 .2 9.2-.9zM2096.7 548l-9.1 .9-8.9-.3-7.7-1.2-5.8-2.1-3.3-2.4-1.3 14.5 3.3 2.4 5.8 2 7.7 1.3 8.8 .2 9.2-.9zM2094.2 576l-9.2 .9-8.8-.3-7.7-1.2-5.8-2.1-3.3-2.4-1.3 14.5 3.3 2.4 5.8 2 7.7 1.3 8.8 .2 9.2-.9zM2091.6 604l-9.1 .9-8.9-.3-7.7-1.2-5.7-2.1-3.4-2.4-1.3 14.5 3.3 2.4 5.8 2 7.7 1.3 8.9 .2 9.1-.9zM2089.1 632l-9.2 .9-8.8-.3-7.7-1.2-5.8-2.1-3.3-2.4-1.3 14.5 3.3 2.4 5.8 2 7.7 1.3 8.8 .2 9.2-.9zM2086.5 660l-9.1 .9-8.9-.3-7.7-1.2-5.7-2.1-3.4-2.4-1.3 14.5 3.3 2.4 5.8 2 7.7 1.3 8.9 .2 9.1-.9z" fill="#4df14d" stroke="#4df14d" stroke-width="0.7" stroke-linejoin="round"/>
<path d="M2120.1 533.5l-2.5 4.9-1.3 14.4 2.5-4.9zM2117.5 561.5l-2.5 4.9-1.3 14.4 2.5-4.9zM2115 589.5l-2.5 4.9-1.3 14.4 2.5-4.9zM2112.5 617.5l-2.6 4.9-1.3 14.4 2.5-4.9zM2109.9 645.5l-2.5 4.9-1.3 14.4 2.5-4.9z" fill="#40c840" stroke="#40c840" stroke-width="0.7" stroke-linejoin="round"/>
<path d="M2117.6 538.4l-5.1 4.2-1.3 14.5 5.1-4.3zM2115 566.4l-5.1 4.2-1.3 14.5 5.1-4.3zM2112.5 594.4l-5.1 4.2-1.3 14.5 5.1-4.3zM2109.9 622.4l-5 4.2-1.4 14.5 5.1-4.3zM2107.4 650.4l-5.1 4.2-1.3 14.5 5.1-4.3z" fill="#42d842" stroke="#42d842" stroke-width="0.7" stroke-linejoin="round"/>
<path d="M2115 514.6l-7.1 3.3-8.6 2.1-9.2 .9-8.8-.3-7.7-1.2-5.8-2.1-3.3-2.4-.6-2.4M2113.7 529.1l-7.2 3.2-8.5 2.1-9.2 .9-8.9-.2-7.6-1.3-5.8-2-3.3-2.4-.6-2.5M2120.1 533.5l-2.5 4.9-5.1 4.2-7.2 3.3-8.6 2.1-9.1 .9-8.9-.3-7.7-1.2-5.8-2.1-3.3-2.4-.5-2.4M2118.8 547.9l-2.5 4.9-5.1 4.3-7.2 3.2-8.6 2.1-9.2 .9-8.8-.2-7.7-1.3-5.8-2-3.3-2.4-.5-2.5M2117.5 561.5l-2.5 4.9-5.1 4.2-7.1 3.3-8.6 2.1-9.2 .9-8.8-.3-7.7-1.2-5.8-2.1-3.3-2.4-.6-2.4M2116.2 575.9l-2.5 4.9-5.1 4.3-7.2 3.2-8.5 2.1-9.2 .9-8.8-.2-7.7-1.3-5.8-2-3.3-2.4-.6-2.5M2115 589.5l-2.5 4.9-5.1 4.2-7.2 3.3-8.6 2.1-9.1 .9-8.9-.3-7.7-1.2-5.7-2.1-3.4-2.4-.5-2.4M2113.7 603.9l-2.5 4.9-5.1 4.3-7.2 3.2-8.6 2.1-9.1 .9-8.9-.2-7.7-1.3-5.8-2-3.3-2.4-.5-2.5M2112.5 617.5l-2.6 4.9-5 4.2-7.2 3.3-8.6 2.1-9.2 .9-8.8-.3-7.7-1.2-5.8-2.1-3.3-2.4-.6-2.4M2111.1 631.9l-2.5 4.9-5.1 4.3-7.1 3.2-8.6 2.1-9.2 .9-8.8-.2-7.7-1.3-5.8-2-3.3-2.4-.6-2.5M2109.9 645.5l-2.5 4.9-5.1 4.2-7.2 3.3-8.6 2.1-9.1 .9-8.9-.3-7.7-1.2-5.7-2.1-3.4-2.4-.5-2.4M2108.6 659.9l-2.5 4.9-5.1 4.3-7.2 3.2-8.6 2.1-9.1 .9-8.9-.2-7.7-1.3-5.8-2-3.3-2.4-.5-2.5" fill="none" stroke="#2a902a" stroke-width="0.9" stroke-opacity="0.8"/>
<path d="M1922 565l4 6-1 0 M1889 559l6 2-1-7 M1913 555l1 1-8-5 M1903 568l3-4 1-1 M1922 553l-7 5 3-9 M1942 567l-3 7 4-4 M1898 569l3 6 3-9 M1907 553l-5-6 2 8 M1887 564l-2-3 7 2 M1905 560l3-7 3 0 M1929 567l-7 4 5-3 M1888 551l-5 6 0-2 M1939 569l-2-2 2 6 M1893 565l4 5-10 1 M1892 557l2 6-4 0 M1918 556l-3-4-3-1 M1926 570l-5-6 11 6 M1910 555l1 4-2-5 M1890 568l-6 0 11-5 M1928 569l2 4-8-5 M1895 567l-3-1 10 6 M1942 559l-1 3 0-6 M1910 553l-2 7 8-5 M1915 557l-6-3 10 8 M1907 566l4 2-1 1 M1907 564l-3 0 7 3 M1903 569l3 1-9 0 M1901 563l0 5 2 0 M1906 563l4 4-6 1 M1936 564l6 6-6-6 M2010 489l6 0-3 3 M2024 452l3 1-1-2 M2021 485l2 3-9-7 M2017 478l-4 3 5-9 M2017 455l-6-5 4 0 M2011 444l-1-2 2 3 M2012 493l-7-2 4 0 M2009 489l-2-7 3 1 M2019 461l1 6 4-7 M2026 478l-2-5 3 6 M2029 496l1-2 4-5 M2009 474l1-5 0 10 M2015 466l-4-3 11 1 M2029 493l1-3 6 3 M2016 460l7 0-10 0 M2009 477l-1-3 5 7 M2006 472l-3 6 7-10 M2012 451l7-3-5 2 M2021 476l4-6 0 3 M2019 461l-3 0 2-2 M2024 475l-7-3 6 9 M2027 473l-6 3 5-2 M2023 477l0 6-2-7 M2026 453l-2 5-4 0 M2023 466l-3 4 8-9 M2017 473l0-3-4 4 M2025 446l-3 4 8-2 M2007 482l6 7-4-13 M2026 454l2 7 1-12 M2013 493l-5 2 4-6 M2045 582l-6-1 0-5 M2044 619l5-6-6 3 M2044 605l7-1-13 4 M2034 613l0 6 0-4 M2036 609l-3 3 4-8 M2036 599l3-4 0 6 M2032 615l-6-6 7 2 M2051 605l-2 4-5-1 M2031 588l7 2-11-8 M2053 615l5-5-3 3 M2036 597l1-2-3-3 M2050 614l4-1 1 1 M2044 610l4-2-9-5 M2035 582l5 0-1-7 M2041 626l2-1-2-4 M2034 588l-2-1 7-4 M2036 594l-5-3 1 3 M2031 628l-2 6 4-3 M2041 629l-5 3 2 0 M2048 588l-5-6 1 1 M2040 631l-2-3 1 0 M2048 617l-5-3 7 9 M2046 602l6-7-13 11 M2040 582l1 7-1-9 M2032 584l6 0 0-7 M2036 583l-2-7-2 5 M2037 583l-6 6 2-6 M2040 608l-6-3 0 3 M2052 611l5-4-12 5 M2042 610l-2 1 5 4" fill="none" stroke="#aab0f0" stroke-width="1"/>
<polyline points="1895,555 1905,552 1915,560 1925,556 1935,563 1945,562" fill="none" stroke="#c89a20" stroke-width="4.4" stroke-linecap="round" stroke-linejoin="round"/><polyline points="1895,555 1905,552 1915,560 1925,556 1935,563 1945,562" fill="none" stroke="#f8c83c" stroke-width="3.6" stroke-linecap="round" stroke-linejoin="round"/>
<polyline points="2025,445 2020,460 2012,470 2018,482 2010,495" fill="none" stroke="#c89a20" stroke-width="4.4" stroke-linecap="round" stroke-linejoin="round"/><polyline points="2025,445 2020,460 2012,470 2018,482 2010,495" fill="none" stroke="#f8c83c" stroke-width="3.6" stroke-linecap="round" stroke-linejoin="round"/>
<polyline points="2035,585 2040,600 2045,615 2050,630" fill="none" stroke="#c89a20" stroke-width="4.4" stroke-linecap="round" stroke-linejoin="round"/><polyline points="2035,585 2040,600 2045,615 2050,630" fill="none" stroke="#f8c83c" stroke-width="3.6" stroke-linecap="round" stroke-linejoin="round"/>
<polyline points="1942.8,568.6 1937.9,572.9 1930,571.3 1927.2,565.4 1932.1,561.1 1940,562.7 1942.8,568.6" fill="none" stroke="#ee22ee" stroke-width="2.6" stroke-linecap="round" stroke-linejoin="round"/>
<polyline points="1992.8,516.6 1988.1,520 1980.2,518.4 1977.2,513.4 1981.9,510 1989.8,511.6 1992.8,516.6" fill="none" stroke="#ee22ee" stroke-width="2.6" stroke-linecap="round" stroke-linejoin="round"/>
<polyline points="2057.8,589.6 2052.7,594.7 2044.9,593.1 2042.2,586.4 2047.3,581.3 2055.1,582.9 2057.8,589.6" fill="none" stroke="#444" stroke-width="4" stroke-linecap="round" stroke-linejoin="round"/><polyline points="2057.8,589.6 2052.7,594.7 2044.9,593.1 2042.2,586.4 2047.3,581.3 2055.1,582.9 2057.8,589.6" fill="none" stroke="#666" stroke-width="2.4" stroke-linecap="round" stroke-linejoin="round"/>
<polyline points="2009.9,476.4 2005.1,482.5 1998.2,481.1 1996.1,473.6 2000.9,467.5 2007.8,468.9 2009.9,476.4" fill="none" stroke="#aaa" stroke-width="3.8" stroke-linecap="round" stroke-linejoin="round"/><polyline points="2009.9,476.4 2005.1,482.5 1998.2,481.1 1996.1,473.6 2000.9,467.5 2007.8,468.9 2009.9,476.4" fill="none" stroke="#ddd" stroke-width="2.2" stroke-linecap="round" stroke-linejoin="round"/>
<polyline points="1974.9,579.4 1969.9,586.3 1963,584.9 1961.1,576.6 1966.1,569.7 1973,571.1 1974.9,579.4" fill="none" stroke="#333" stroke-width="4" stroke-linecap="round" stroke-linejoin="round"/><polyline points="1974.9,579.4 1969.9,586.3 1963,584.9 1961.1,576.6 1966.1,569.7 1973,571.1 1974.9,579.4" fill="none" stroke="#555" stroke-width="2.4" stroke-linecap="round" stroke-linejoin="round"/>
</g>
<rect x="1824.6" y="389.1" width="302.3" height="305.3" fill="none" stroke="#111" stroke-width="2.2"/>
<text x="1888.5" y="424.5" font-size="19.5" font-weight="bold" fill="#606060" stroke="#606060" stroke-width="0.7" stroke-linejoin="round" textLength="42" lengthAdjust="spacingAndGlyphs">SSP</text><text x="1931" y="428.5" font-size="13" font-weight="bold" fill="#606060" stroke="#606060" stroke-width="0.7" stroke-linejoin="round">B</text>
<text x="2068.4" y="497" font-size="19.5" font-weight="bold" fill="#22cc22" stroke="#22cc22" stroke-width="0.7" stroke-linejoin="round" textLength="42" lengthAdjust="spacingAndGlyphs">SSP</text><text x="2110.9" y="501" font-size="13" font-weight="bold" fill="#22cc22" stroke="#22cc22" stroke-width="0.7" stroke-linejoin="round">A</text>
<text x="1868.6" y="510" font-size="19.5" font-weight="bold" fill="#ff22ff" stroke="#ff22ff" stroke-width="0.7" stroke-linejoin="round" textLength="42" lengthAdjust="spacingAndGlyphs">GP2</text><text x="1911.1" y="514" font-size="13" font-weight="bold" fill="#ff22ff" stroke="#ff22ff" stroke-width="0.7" stroke-linejoin="round">A</text>
<text x="1826.8" y="544.4" font-size="19.5" font-weight="bold" fill="#ecc640" stroke="#5a4a10" stroke-width="2.4" paint-order="stroke" stroke-linejoin="round" textLength="90" lengthAdjust="spacingAndGlyphs">Lipid tail</text>
<text x="1972" y="550" font-size="19.5" font-weight="bold" fill="#c8c8c8" stroke="#c8c8c8" stroke-width="0.7" stroke-linejoin="round" textLength="42" lengthAdjust="spacingAndGlyphs">GP2</text><text x="2014.5" y="554" font-size="13" font-weight="bold" fill="#c8c8c8" stroke="#c8c8c8" stroke-width="0.7" stroke-linejoin="round">C</text>
<text x="1984.8" y="651.5" font-size="19.5" font-weight="bold" fill="#666" stroke="#666" stroke-width="0.7" stroke-linejoin="round" textLength="42" lengthAdjust="spacingAndGlyphs">GP2</text><text x="2027.3" y="655.5" font-size="13" font-weight="bold" fill="#666" stroke="#666" stroke-width="0.7" stroke-linejoin="round">B</text>
<text x="1854" y="660.6" font-size="19.5" font-weight="bold" fill="#c8c8c8" stroke="#c8c8c8" stroke-width="0.7" stroke-linejoin="round" textLength="40" lengthAdjust="spacingAndGlyphs">SSP</text><text x="1894.5" y="664.6" font-size="13" font-weight="bold" fill="#c8c8c8" stroke="#c8c8c8" stroke-width="0.7" stroke-linejoin="round">C</text>
<rect x="65.5" y="807.5" width="143.5" height="80.5" fill="none" stroke="#333" stroke-width="1.6" stroke-dasharray="7 5"/>
<rect x="5" y="854.5" width="139" height="240.5" fill="none" stroke="#333" stroke-width="1.6" stroke-dasharray="7 5"/>
<rect x="148" y="1039" width="142.5" height="113" fill="none" stroke="#333" stroke-width="1.6" stroke-dasharray="7 5"/>
<path d="M78 820c-3-1-11-7-18-5-7 2-17 9-24 17-7 8-15 20-16 28-1 8 7 15 8 18" fill="none" stroke="#16d816" stroke-width="3"/>
<path d="M128 1070c2 1 8 6 12 6 4 0 11-4 15-8 4-4 7-11 8-13" fill="none" stroke="#16d816" stroke-width="3"/>
<path d="M240 1068c1 2 6 7 8 14 2 7 0 21 2 28 2 7 5 12 8 14 3 2 6-3 10-4 4-1 12-5 12-3 0 2-7 11-10 13-3 2-4-3-8 0-4 3-13 13-16 16" fill="none" stroke="#16d816" stroke-width="3"/>
<path d="M180 873l6 3" fill="none" stroke="#16d816" stroke-width="3"/>
<path d="M182.3 840.8l.3 .9-.1 1.7-.6 2.3-1 2.9-1.5 3.3-1.9 3.4-2.3 3.6-12.8-4.9 2.4-3.5 1.9-3.5 1.5-3.3 1-2.8 .5-2.4 .2-1.6-.3-1zM150.5 828.7l.3 .9-.2 1.7-.5 2.3-1 2.9-1.5 3.2-1.9 3.5-2.4 3.6-12.7-4.9 2.4-3.5 1.9-3.5 1.5-3.3 1-2.8 .5-2.4 .1-1.7-.2-.9zM118.7 816.5l.2 1-.1 1.7-.5 2.3-1 2.8-1.5 3.3-1.9 3.5-2.4 3.5-12.7-4.8 2.3-3.5 2-3.5 1.4-3.3 1-2.9 .6-2.3 .1-1.7-.3-.9z" fill="#abb4ab" stroke="#abb4ab" stroke-width="0.7" stroke-linejoin="round"/>
<path d="M175.2 858.9l-2.7 3.4-3 3.2-3.1 2.7-3.3 2.2-3.3 1.4-3.1 .7-3-.1-2.8-.9-12.7-4.9 2.7 1 3 .1 3.2-.7 3.3-1.5 3.3-2.1 3.1-2.8 3-3.1 2.6-3.5zM143.3 846.8l-2.6 3.4-3 3.2-3.1 2.7-3.3 2.1-3.3 1.5-3.1 .7-3.1-.1-2.7-.9-12.7-4.9 2.7 1 3 .1 3.2-.7 3.3-1.5 3.2-2.2 3.2-2.7 2.9-3.1 2.7-3.5zM111.5 834.6l-2.6 3.5-3 3.1-3.2 2.8-3.2 2.1-3.3 1.5-3.2 .7-3-.1-2.7-.9-12.7-4.9 2.7 .9 3 .2 3.2-.7 3.3-1.5 3.2-2.2 3.2-2.7 2.9-3.2 2.7-3.4z" fill="#b9c3b9" stroke="#b9c3b9" stroke-width="0.7" stroke-linejoin="round"/>
<path d="M178.3 879.4l-1.5-3.1-12.7-4.9 1.5 3.1zM148.5 869.8l-2-2.5-1.5-3.2-12.8-4.8 1.6 3.1 2 2.5zM116.7 857.6l-2-2.5-1.6-3.1-12.7-4.8 1.6 3.1 2 2.5zM84.9 845.5l-2-2.5-1.6-3.1-12.7-4.9 1.6 3.2 2 2.5z" fill="#18c118" stroke="#18c118" stroke-width="0.7" stroke-linejoin="round"/>
<path d="M176.8 876.3l-1.1-3.7-.7-4.1-.2-4.3-12.7-4.8 .2 4.3 .7 4 1.1 3.7zM180.8 841.4l.9-.7 .6 .1-12.7-4.9-.6-.1-.9 .7zM145 864.1l-1.1-3.6-.7-4.1-.2-4.3-12.7-4.9 .2 4.3 .6 4.1 1.1 3.7zM149 829.2l.9-.7 .6 .2-12.7-4.9-.6-.1-.9 .7zM113.1 852l-1.1-3.7-.6-4-.2-4.3-12.7-4.9 .2 4.3 .6 4.1 1.1 3.7zM117.2 817.1l.9-.7 .6 .1-12.8-4.8-.6-.1-.8 .7zM81.3 839.9l-1.1-3.7-.6-4.1-.2-4.3-12.7-4.8 .2 4.3 .6 4.1 1.1 3.6z" fill="#15d515" stroke="#15d515" stroke-width="0.7" stroke-linejoin="round"/>
<path d="M174.8 864.2l.2-4.3 .6-4.3 .8-4 1.1-3.5 1.1-3 1.2-2.2 1-1.5-12.7-4.9-1.1 1.5-1.1 2.3-1.2 3-1 3.5-.8 4-.6 4.2-.2 4.4zM143 852.1l.2-4.4 .6-4.2 .8-4 1-3.5 1.2-3 1.1-2.3 1.1-1.5-12.7-4.8-1.1 1.5-1.1 2.3-1.2 2.9-1 3.6-.8 3.9-.6 4.3-.2 4.3zM111.2 840l.2-4.4 .6-4.2 .8-4 1-3.5 1.2-3 1.1-2.3 1.1-1.5-12.7-4.8-1.1 1.5-1.2 2.3-1.1 2.9-1 3.5-.9 4-.5 4.3-.2 4.3zM79.4 827.8l.2-4.3 .5-4.3 .9-3.9 1-3.6 1.1-2.9-12.7-4.9-1.1 3-1 3.5-.9 4-.5 4.2-.2 4.4z" fill="#20e220" stroke="#20e220" stroke-width="0.7" stroke-linejoin="round"/>
<path d="M150.9 871.5l-2.4-1.7-12.7-4.9 2.4 1.7zM119.1 859.4l-2.4-1.8-12.7-4.8 2.4 1.7zM87.3 847.3l-2.4-1.8-12.7-4.8 2.4 1.7z" fill="#1aac1a" stroke="#1aac1a" stroke-width="0.7" stroke-linejoin="round"/>
<path d="M11.4 877.5l-.1-.8 .7-1 1.5-1.3 2.3-1.4 2.9-1.4 3.5-1.4 3.9-1.2 4.2-1 7.1 14.7-4.2 1-3.9 1.2-3.4 1.3-3 1.5-2.2 1.4-1.5 1.3-.8 1 .1 .7zM25.5 906.5l-.1-.7 .8-1.1 1.5-1.2 2.2-1.5 3-1.4 3.4-1.4 4-1.2 4.1-.9 7.2 14.6-4.2 1-3.9 1.2-3.5 1.4-2.9 1.4-2.3 1.4-1.5 1.3-.7 1 .1 .8zM39.7 935.5l-.1-.7 .7-1 1.5-1.3 2.3-1.4 2.9-1.5 3.5-1.4 3.9-1.2 4.2-.9 7.2 14.7-4.2 .9-3.9 1.2-3.5 1.4-2.9 1.4-2.3 1.5-1.5 1.2-.7 1.1 .1 .7zM53.9 964.5l-.1-.7 .7-1 1.5-1.3 2.3-1.4 2.9-1.5 3.5-1.3 3.9-1.2 4.2-1 7.1 14.7-4.2 .9-3.9 1.2-3.4 1.4-3 1.5-2.2 1.4-1.5 1.3-.8 1 .1 .7zM68 993.6l-.1-.7 .8-1.1 1.5-1.3 2.2-1.4 3-1.4 3.4-1.4 4-1.2 4.1-1 7.2 14.7-4.2 1-3.9 1.2-3.5 1.4-2.9 1.4-2.3 1.4-1.5 1.3-.7 1 .1 .7zM82.2 1022.6l-.1-.7 .7-1.1 1.5-1.2 2.3-1.4 2.9-1.5 3.5-1.4 3.9-1.2 4.2-.9 7.2 14.7-4.2 .9-3.9 1.2-3.5 1.4-2.9 1.4-2.3 1.4-1.5 1.3-.7 1.1 .1 .7zM96.4 1051.6l-.1-.7 .7-1 1.5-1.3 2.3-1.4 2.9-1.5 3.5-1.4 3.9-1.2 4.2-.9 7.1 14.7-4.2 .9-3.9 1.2-3.4 1.4-3 1.5-2.2 1.4-1.5 1.2-.8 1.1 .1 .7z" fill="#abb4ab" stroke="#abb4ab" stroke-width="0.7" stroke-linejoin="round"/>
<path d="M30.3 868l4.3-.6 4.2-.1 4.1 .3 3.6 .8 3.2 1.3 2.5 1.8 1.8 2.2 7.2 14.7-1.8-2.2-2.6-1.8-3.1-1.3-3.7-.8-4-.3-4.3 .1-4.3 .6zM44.4 897.1l4.3-.6 4.3-.2 4 .3 3.7 .8 3.1 1.3 2.6 1.8 1.8 2.3 7.1 14.6-1.8-2.2-2.5-1.8-3.1-1.3-3.7-.8-4-.3-4.3 .2-4.3 .5zM58.6 926.1l4.3-.6 4.3-.2 4 .3 3.7 .8 3.1 1.3 2.5 1.8 1.8 2.3 7.2 14.7-1.8-2.3-2.5-1.8-3.2-1.3-3.6-.8-4.1-.3-4.2 .2-4.3 .6zM72.8 955.1l4.3-.6 4.2-.1 4.1 .3 3.6 .8 3.2 1.3 2.5 1.8 1.8 2.2 7.2 14.7-1.8-2.3-2.6-1.8-3.1-1.3-3.7-.8-4-.3-4.3 .2-4.3 .6zM86.9 984.1l4.3-.5 4.3-.2 4 .3 3.7 .8 3.1 1.3 2.6 1.8 1.8 2.2 7.1 14.7-1.8-2.2-2.5-1.8-3.1-1.3-3.7-.8-4-.3-4.3 .1-4.3 .6zM101.1 1013.2l4.3-.6 4.3-.2 4 .3 3.7 .8 3.1 1.3 2.5 1.8 1.8 2.3 7.2 14.7-1.8-2.3-2.5-1.8-3.2-1.3-3.6-.8-4.1-.3-4.2 .2-4.3 .6zM115.3 1042.2l4.3-.6 4.2-.2 4.1 .3 3.6 .8 3.2 1.4 2.5 1.7 1.8 2.3 7.2 14.7-1.8-2.3-2.6-1.8-3.1-1.3-3.7-.8-4-.3-4.3 .2-4.3 .6z" fill="#b9c3b9" stroke="#b9c3b9" stroke-width="0.7" stroke-linejoin="round"/>
<path d="M37.2 860.3l-2.5 3.3-3 3.1 7.2 14.7 3-3.1 2.5-3.3zM12.2 877.8l-.8-.3 7.1 14.6 .9 .3zM53.4 885.9l-2 3.4-2.5 3.3-3 3.2 7.2 14.6 2.9-3.1 2.6-3.3 1.9-3.4zM26.4 906.8l-.9-.3 7.2 14.7 .8 .3zM67.5 914.9l-1.9 3.4-2.6 3.3-2.9 3.2 7.1 14.7 3-3.2 2.5-3.3 2-3.4zM40.6 935.8l-.9-.3 7.2 14.7 .8 .3zM81.7 944l-2 3.4-2.5 3.3-3 3.1 7.2 14.7 3-3.1 2.5-3.4 2-3.3zM54.7 964.9l-.8-.4 7.1 14.7 .9 .3zM95.9 973l-2 3.4-2.5 3.3-3 3.1 7.2 14.7 2.9-3.1 2.6-3.3 1.9-3.4zM68.9 993.9l-.9-.3 7.2 14.6 .8 .4zM110 1002l-1.9 3.4-2.6 3.3-2.9 3.2 7.1 14.6 3-3.1 2.5-3.3 2-3.4zM83.1 1022.9l-.9-.3 7.2 14.7 .8 .3zM124.2 1031.1l-2 3.3-2.5 3.4-3 3.1 7.2 14.7 3-3.2 2.5-3.3 2-3.4zM97.2 1051.9l-.8-.3 7.1 14.7 .9 .3zM138.4 1060.1l-2 3.4-2.5 3.3-3 3.1 7.2 14.7 2.9-3.1 2.6-3.4 1.9-3.3z" fill="#15d515" stroke="#15d515" stroke-width="0.7" stroke-linejoin="round"/>
<path d="M31.7 866.7l-3.2 2.9-3.4 2.5-3.3 2.1-3.1 1.7-2.7 1.1-2.2 .6-1.6 .2 7.2 14.6 1.6-.1 2.2-.6 2.7-1.2 3.1-1.6 3.3-2.1 3.3-2.5 3.3-2.9zM45.9 895.8l-3.3 2.8-3.3 2.6-3.3 2.1-3.1 1.6-2.7 1.1-2.2 .7-1.6 .1 7.1 14.7 1.6-.2 2.2-.6 2.8-1.1 3-1.7 3.4-2.1 3.3-2.5 3.3-2.9zM60.1 924.8l-3.3 2.9-3.3 2.5-3.4 2.1-3 1.6-2.8 1.2-2.2 .6-1.5 .1 7.1 14.7 1.6-.1 2.2-.7 2.7-1.1 3.1-1.6 3.3-2.1 3.4-2.6 3.2-2.8zM74.2 953.8l-3.2 2.9-3.4 2.5-3.3 2.1-3.1 1.6-2.7 1.2-2.2 .6-1.6 .2 7.2 14.6 1.6-.1 2.2-.6 2.7-1.2 3.1-1.6 3.3-2.1 3.3-2.5 3.3-2.9zM88.4 982.8l-3.3 2.9-3.3 2.5-3.3 2.1-3.1 1.7-2.7 1.1-2.2 .6-1.6 .2 7.1 14.7 1.6-.2 2.2-.6 2.8-1.1 3-1.7 3.4-2.1 3.3-2.5 3.3-2.9zM102.6 1011.9l-3.3 2.8-3.3 2.6-3.4 2.1-3 1.6-2.8 1.1-2.2 .7-1.5 .1 7.1 14.7 1.6-.2 2.2-.6 2.7-1.1 3.1-1.7 3.3-2.1 3.4-2.5 3.2-2.9zM116.7 1040.9l-3.2 2.9-3.4 2.5-3.3 2.1-3.1 1.6-2.7 1.2-2.2 .6-1.6 .1 7.2 14.7 1.6-.1 2.2-.7 2.7-1.1 3.1-1.6 3.3-2.1 3.3-2.5 3.3-2.9zM130.9 1069.9l-3.3 2.9-3.3 2.5-3.3 2.1-3.1 1.7 7.2 14.6 3-1.6 3.4-2.1 3.3-2.5 3.3-2.9z" fill="#20e220" stroke="#20e220" stroke-width="0.7" stroke-linejoin="round"/>
<path d="M54 873.7l1 2.7 7.2 14.7-1-2.7zM68.2 902.8l1 2.6 7.2 14.7-1.1-2.7zM82.3 931.8l1.1 2.6 7.1 14.7-1-2.6zM96.5 960.8l1 2.7 7.2 14.6-1-2.6zM110.7 989.8l1 2.7 7.2 14.7-1.1-2.7zM124.8 1018.9l1.1 2.6 7.1 14.7-1-2.6zM139 1047.9l1 2.6 7.2 14.7-1-2.6z" fill="#1aac1a" stroke="#1aac1a" stroke-width="0.7" stroke-linejoin="round"/>
<path d="M55 876.4l.3 3-.6 3.2-1.3 3.3 7.1 14.7 1.4-3.4 .5-3.2-.2-2.9zM69.2 905.4l.2 3-.5 3.2-1.4 3.3 7.2 14.7 1.3-3.3 .6-3.2-.2-3zM83.4 934.4l.2 3-.6 3.2-1.3 3.4 7.2 14.7 1.3-3.4 .6-3.2-.3-3zM97.5 963.5l.3 2.9-.6 3.2-1.3 3.4 7.1 14.7 1.4-3.4 .5-3.2-.2-3zM111.7 992.5l.2 3-.5 3.2-1.4 3.3 7.2 14.7 1.3-3.3 .6-3.3-.2-2.9zM125.9 1021.5l.2 3-.6 3.2-1.3 3.4 7.2 14.6 1.3-3.3 .6-3.2-.3-3zM140 1050.5l.3 3-.6 3.2-1.3 3.4 7.1 14.7 1.4-3.4 .5-3.2-.2-3z" fill="#18c118" stroke="#18c118" stroke-width="0.7" stroke-linejoin="round"/>
<path d="M163.1 1070.6l-.1-1 .4-1.5 .9-2.1 1.4-2.6 1.9-2.9 2.3-3 2.8-3 11.9 6.6-2.7 3-2.4 3-1.8 2.9-1.4 2.5-.9 2.1-.4 1.6 0 .9zM192.7 1086.9l0-1 .4-1.5 .9-2.2 1.4-2.5 1.8-2.9 2.4-3 2.7-3 11.9 6.6-2.7 3-2.3 3-1.9 2.9-1.4 2.5-.9 2.1-.4 1.6 .1 .9zM222.4 1103.1l-.1-.9 .4-1.5 .9-2.2 1.4-2.5 1.9-2.9 2.3-3 2.7-3 11.9 6.6-2.7 3-2.3 3-1.9 2.8-1.4 2.6-.9 2.1-.4 1.6 .1 .9z" fill="#abb4ab" stroke="#abb4ab" stroke-width="0.7" stroke-linejoin="round"/>
<path d="M172.7 1054.5l3-2.8 3.2-2.6 3.4-2.1 3.4-1.5 3.3-.9 3.1-.2 2.9 .5 2.4 1.3 12 6.6-2.5-1.3-2.9-.6-3.1 .2-3.3 .9-3.4 1.6-3.3 2.1-3.3 2.5-3 2.9zM202.3 1070.8l3-2.8 3.3-2.6 3.3-2.1 3.4-1.5 3.3-.9 3.1-.2 2.9 .5 2.5 1.3 11.9 6.6-2.5-1.3-2.8-.6-3.1 .2-3.3 .9-3.4 1.6-3.4 2.1-3.3 2.5-3 2.9z" fill="#b9c3b9" stroke="#b9c3b9" stroke-width="0.7" stroke-linejoin="round"/>
<path d="M169.8 1032l1.6 2.6 1.1 3.2 11.9 6.6-1-3.2-1.6-2.7zM199.5 1048.2l1.6 2.7 1 3.2 12 6.6-1.1-3.2-1.6-2.7zM229.1 1064.5l1.6 2.7 1.1 3.2 11.9 6.6-1.1-3.2-1.6-2.7z" fill="#18c118" stroke="#18c118" stroke-width="0.7" stroke-linejoin="round"/>
<path d="M172.5 1037.8l.6 3.7 .1 3.9-.4 4.1 12 6.6 .3-4.1-.1-4-.6-3.6zM164.5 1070.2l-.9 .6-.5-.2 11.9 6.5 .5 .2 .9-.5zM202.1 1054.1l.6 3.6 .1 4-.3 4.1 11.9 6.6 .3-4.1-.1-4-.5-3.6zM194.1 1086.5l-.9 .6-.5-.2 12 6.5 .5 .2 .8-.5zM231.8 1070.4l.5 3.6 .1 4-.3 4.1 11.9 6.5 .4-4-.1-4-.6-3.6zM223.7 1102.8l-.8 .6-.5-.3 11.9 6.6 .5 .2 .9-.5z" fill="#15d515" stroke="#15d515" stroke-width="0.7" stroke-linejoin="round"/>
<path d="M172.8 1049.5l-.7 4.1-1.1 3.9-1.2 3.7-1.4 3.1-1.5 2.7-1.3 2-1.1 1.2 11.9 6.6 1.1-1.3 1.4-2 1.4-2.6 1.4-3.2 1.3-3.6 1-4 .8-4zM202.5 1065.8l-.8 4.1-1 3.9-1.3 3.7-1.4 3.1-1.4 2.7-1.4 2-1.1 1.2 11.9 6.6 1.2-1.3 1.3-2 1.4-2.6 1.4-3.2 1.3-3.6 1-4 .8-4zM232.1 1082.1l-.8 4.1-1 3.9-1.3 3.6-1.4 3.2-1.4 2.7-1.3 2-1.2 1.2 12 6.6 1.1-1.3 1.3-2 1.4-2.6 1.4-3.2 1.3-3.6 1.1-4 .7-4.1z" fill="#20e220" stroke="#20e220" stroke-width="0.7" stroke-linejoin="round"/>
<path d="M197.4 1046.2l2.1 2 11.9 6.6-2-2zM227.1 1062.5l2 2 11.9 6.6-2-2z" fill="#1aac1a" stroke="#1aac1a" stroke-width="0.7" stroke-linejoin="round"/>
<text x="197.5" y="830" font-size="25" font-weight="bold" fill="#000" textLength="5.5" lengthAdjust="spacingAndGlyphs" stroke="#000" stroke-width="0.6">i</text>
<text x="11" y="1089" font-size="25" font-weight="bold" fill="#000" textLength="14" lengthAdjust="spacingAndGlyphs" stroke="#000" stroke-width="0.6">ii</text>
<text x="154" y="1142.5" font-size="25" font-weight="bold" fill="#000" textLength="22" lengthAdjust="spacingAndGlyphs" stroke="#000" stroke-width="0.6">iii</text>
<text x="187.5" y="881" font-size="24.5" textLength="16.5" lengthAdjust="spacingAndGlyphs">N</text>
<text x="221" y="1146" font-size="24.5" textLength="18" lengthAdjust="spacingAndGlyphs">C</text>
<path d="M22 1490c1 1 5 5 8 8 3 3 8 10 10 12" fill="none" stroke="#f010f0" stroke-width="3.5"/>
<path d="M110.1 1270.5l.4 0 1.4 .4 2.2 .9 2.8 1.2 3.5 1.8 3.8 2.2 4 2.6 4.1 3-8.6 23.9-4-3-4.1-2.6-3.8-2.2-3.4-1.8-2.9-1.3-2.2-.8-1.3-.4-.5 0zM95.1 1312.3l.4 0 1.4 .4 2.2 .8 2.8 1.3 3.5 1.8 3.8 2.2 4 2.6 4.1 3-8.6 23.9-4-3-4.1-2.6-3.8-2.2-3.4-1.8-2.9-1.3-2.2-.8-1.3-.4-.5 0zM80.1 1354.1l.4 0 1.4 .4 2.2 .8 2.8 1.3 3.5 1.8 3.8 2.2 4 2.6 4.1 3-8.6 23.9-4-3-4.1-2.6-3.8-2.2-3.4-1.8-2.9-1.3-2.2-.8-1.3-.4-.5 0zM65.1 1395.9l.4 0 1.4 .4 2.2 .8 2.8 1.3 3.5 1.8 3.8 2.2 4 2.6 4.1 3-8.6 23.9-4-3-4.1-2.6-3.8-2.2-3.4-1.8-2.9-1.3-2.2-.8-1.3-.4-.5 0zM50.1 1437.7l.4 0 1.4 .4 2.2 .8 2.8 1.3 3.5 1.7 3.8 2.3 4 2.6 4.1 3-8.6 23.9-4-3-4.1-2.6-3.8-2.3-3.4-1.7-2.9-1.3-2.2-.8-1.3-.4-.5 0zM35.1 1479.5l.4 0 1.4 .3 2.2 .9 2.8 1.3 3.5 1.7-8.6 23.9-3.4-1.7-2.9-1.3-2.2-.9-1.3-.3-.5 0z" fill="#b8b8b8" stroke="#b8b8b8" stroke-width="0.7" stroke-linejoin="round"/>
<path d="M132.3 1282.6l3.8 3.3 3.5 3.5 2.9 3.6 2.2 3.6 1.3 3.6 .5 3.4-.5 3.1-8.6 23.9 .5-3.1-.5-3.4-1.3-3.6-2.2-3.6-2.9-3.6-3.5-3.5-3.8-3.3zM117.3 1324.4l3.8 3.3 3.5 3.5 2.9 3.6 2.2 3.6 1.3 3.6 .5 3.3-.5 3.2-8.6 23.9 .5-3.2-.5-3.3-1.3-3.6-2.2-3.6-2.9-3.6-3.5-3.5-3.8-3.3zM102.3 1366.2l3.8 3.3 3.5 3.5 2.9 3.6 2.2 3.6 1.3 3.6 .5 3.3-.5 3.2-8.6 23.9 .5-3.2-.5-3.3-1.3-3.6-2.2-3.6-2.9-3.6-3.5-3.5-3.8-3.3zM87.3 1408l3.8 3.3 3.5 3.5 2.9 3.6 2.2 3.6 1.3 3.5 .5 3.4-.5 3.1-8.6 23.9 .5-3.1-.5-3.4-1.3-3.5-2.2-3.6-2.9-3.6-3.5-3.5-3.8-3.3zM72.3 1449.8l3.8 3.3 3.5 3.4 2.9 3.7 2.2 3.6 1.3 3.5 .5 3.4-.5 3.1-8.6 23.9 .5-3.1-.5-3.4-1.3-3.5-2.2-3.7-2.9-3.6-3.5-3.4-3.8-3.3z" fill="#c8c8c8" stroke="#c8c8c8" stroke-width="0.7" stroke-linejoin="round"/>
<path d="M157.2 1270.1l-3.2 1.9-3.9 1.5-8.5 23.9 3.8-1.5 3.2-1.9zM144.5 1309.5l-2.3 2.4-3.2 1.9-3.9 1.5-8.5 23.9 3.8-1.5 3.2-1.9 2.4-2.4zM129.5 1351.3l-2.3 2.3-3.2 2-3.9 1.5-8.5 23.9 3.8-1.5 3.2-2 2.4-2.3zM114.5 1393l-2.3 2.4-3.2 2-3.9 1.5-8.5 23.9 3.8-1.5 3.2-2 2.4-2.4zM99.5 1434.8l-2.3 2.4-3.2 2-3.9 1.5-8.5 23.9 3.8-1.5 3.2-2 2.4-2.4zM84.5 1476.6l-2.3 2.4-3.2 2-3.9 1.4-8.5 23.9 3.8-1.4 3.2-2 2.4-2.4z" fill="#d707d7" stroke="#d707d7" stroke-width="0.7" stroke-linejoin="round"/>
<path d="M150.1 1273.5l-4.4 1-4.8 .6-5.1 .2-8.5 23.9 5-.2 4.8-.6 4.5-1zM112.1 1271.5l-1.5-.6-.5-.4-8.6 23.9 .5 .4 1.5 .6zM135.1 1315.3l-4.4 1-4.8 .6-5.1 .2-8.5 23.9 5-.2 4.8-.6 4.5-1zM97.1 1313.2l-1.5-.6-.5-.3-8.6 23.9 .5 .3 1.5 .6zM120.1 1357.1l-4.4 1-4.8 .6-5.1 .1-8.5 23.9 5-.1 4.8-.6 4.5-1zM82.1 1355l-1.5-.6-.5-.3-8.6 23.9 .5 .3 1.5 .6zM105.1 1398.9l-4.4 1-4.8 .6-5.1 .1-8.5 23.9 5-.1 4.8-.6 4.5-1zM67.1 1396.8l-1.5-.6-.5-.3-8.6 23.9 .5 .3 1.5 .6zM90.1 1440.7l-4.4 1-4.8 .6-5.1 .1-8.5 23.9 5-.1 4.8-.6 4.5-1zM52.1 1438.6l-1.5-.6-.5-.3-8.6 23.9 .5 .3 1.5 .6zM75.1 1482.4l-4.4 1.1-4.8 .5-5.1 .2-8.5 23.9 5-.2 4.8-.5 4.5-1.1zM37.1 1480.4l-1.5-.6-.5-.3-8.6 23.9 .5 .3 1.5 .6z" fill="#ee02ee" stroke="#ee02ee" stroke-width="0.7" stroke-linejoin="round"/>
<path d="M135.8 1275.3l-5-.2-4.8-.5-4.5-.7-3.9-.8-3.2-.9-2.3-.7-8.6 23.9 2.3 .7 3.2 .9 3.9 .8 4.5 .7 4.8 .5 5.1 .2zM120.8 1317.1l-5-.2-4.8-.5-4.5-.7-3.9-.9-3.2-.8-2.3-.8-8.6 23.9 2.3 .8 3.2 .8 3.9 .9 4.5 .7 4.8 .5 5.1 .2zM105.8 1358.8l-5-.2-4.8-.4-4.5-.8-3.9-.8-3.2-.8-2.3-.8-8.6 23.9 2.3 .8 3.2 .8 3.9 .8 4.5 .8 4.8 .4 5.1 .2zM90.8 1400.6l-5-.2-4.8-.5-4.5-.7-3.9-.8-3.2-.8-2.3-.8-8.6 23.9 2.3 .8 3.2 .8 3.9 .8 4.5 .7 4.8 .5 5.1 .2zM75.8 1442.4l-5-.2-4.8-.5-4.5-.7-3.9-.8-3.2-.8-2.3-.8-8.6 23.9 2.3 .8 3.2 .8 3.9 .8 4.5 .7 4.8 .5 5.1 .2zM60.8 1484.2l-5-.2-4.8-.5-4.5-.7-3.9-.8-3.2-.9-2.3-.7-8.6 23.9 2.3 .7 3.2 .9 3.9 .8 4.5 .7 4.8 .5 5.1 .2z" fill="#fa0dfa" stroke="#fa0dfa" stroke-width="0.7" stroke-linejoin="round"/>
<path d="M146 1306.7l-1.5 2.8-8.5 23.9 1.4-2.8zM131 1348.5l-1.5 2.8-8.5 23.9 1.4-2.8zM116 1390.3l-1.5 2.7-8.5 23.9 1.4-2.7zM101 1432l-1.5 2.8-8.5 23.9 1.4-2.8zM86 1473.8l-1.5 2.8-8.5 23.9 1.4-2.8z" fill="#c10bc1" stroke="#c10bc1" stroke-width="0.7" stroke-linejoin="round"/>
<path d="M157.2 1270.1l-3.2 1.9-3.9 1.5-4.4 1-4.8 .6-5.1 .2-5-.2-4.8-.5-4.5-.7-3.9-.8-3.2-.9-2.3-.7-1.5-.6-.5-.4M148.6 1294l-3.2 1.9-3.8 1.5-4.5 1-4.8 .6-5 .2-5.1-.2-4.8-.5-4.5-.7-3.9-.8-3.2-.9-2.3-.7-1.5-.6-.5-.4M146 1306.7l-1.5 2.8-2.3 2.4-3.2 1.9-3.9 1.5-4.4 1-4.8 .6-5.1 .2-5-.2-4.8-.5-4.5-.7-3.9-.9-3.2-.8-2.3-.8-1.5-.6-.5-.3M137.4 1330.6l-1.4 2.8-2.4 2.4-3.2 1.9-3.8 1.5-4.5 1-4.8 .6-5 .2-5.1-.2-4.8-.5-4.5-.7-3.9-.9-3.2-.8-2.3-.8-1.5-.6-.5-.3M131 1348.5l-1.5 2.8-2.3 2.3-3.2 2-3.9 1.5-4.4 1-4.8 .6-5.1 .1-5-.2-4.8-.4-4.5-.8-3.9-.8-3.2-.8-2.3-.8-1.5-.6-.5-.3M122.4 1372.4l-1.4 2.8-2.4 2.3-3.2 2-3.8 1.5-4.5 1-4.8 .6-5 .1-5.1-.2-4.8-.4-4.5-.8-3.9-.8-3.2-.8-2.3-.8-1.5-.6-.5-.3M116 1390.3l-1.5 2.7-2.3 2.4-3.2 2-3.9 1.5-4.4 1-4.8 .6-5.1 .1-5-.2-4.8-.5-4.5-.7-3.9-.8-3.2-.8-2.3-.8-1.5-.6-.5-.3M107.4 1414.2l-1.4 2.7-2.4 2.4-3.2 2-3.8 1.5-4.5 1-4.8 .6-5 .1-5.1-.2-4.8-.5-4.5-.7-3.9-.8-3.2-.8-2.3-.8-1.5-.6-.5-.3M101 1432l-1.5 2.8-2.3 2.4-3.2 2-3.9 1.5-4.4 1-4.8 .6-5.1 .1-5-.2-4.8-.5-4.5-.7-3.9-.8-3.2-.8-2.3-.8-1.5-.6-.5-.3M92.4 1455.9l-1.4 2.8-2.4 2.4-3.2 2-3.8 1.5-4.5 1-4.8 .6-5 .1-5.1-.2-4.8-.5-4.5-.7-3.9-.8-3.2-.8-2.3-.8-1.5-.6-.5-.3M86 1473.8l-1.5 2.8-2.3 2.4-3.2 2-3.9 1.4-4.4 1.1-4.8 .5-5.1 .2-5-.2-4.8-.5-4.5-.7-3.9-.8-3.2-.9-2.3-.7-1.5-.6-.5-.3M77.4 1497.7l-1.4 2.8-2.4 2.4-3.2 2-3.8 1.4-4.5 1.1-4.8 .5-5 .2-5.1-.2-4.8-.5-4.5-.7-3.9-.8-3.2-.9-2.3-.7-1.5-.6-.5-.3" fill="none" stroke="#a200a2" stroke-width="0.9" stroke-opacity="0.8"/>
<text x="127.5" y="1266" font-size="24.5" textLength="15" lengthAdjust="spacingAndGlyphs">N</text>
<text x="2.5" y="1490" font-size="24.5" textLength="16.5" lengthAdjust="spacingAndGlyphs">C</text>
<text x="0" y="29.5" font-size="38" font-weight="900" fill="#000" font-family="Liberation Sans" stroke="#000" stroke-width="1.2">a</text>
<text x="711" y="29.5" font-size="38" font-weight="900" fill="#000" font-family="Liberation Sans" stroke="#000" stroke-width="1.2">b</text>
<text x="1046" y="29.5" font-size="38" font-weight="900" fill="#000" font-family="Liberation Sans" stroke="#000" stroke-width="1.2">c</text>
<text x="1400" y="29.5" font-size="38" font-weight="900" fill="#000" font-family="Liberation Sans" stroke="#000" stroke-width="1.2">d</text>
<text x="1789" y="29.5" font-size="38" font-weight="900" fill="#000" font-family="Liberation Sans" stroke="#000" stroke-width="1.2">e</text>
<text x="711" y="396" font-size="38" font-weight="900" fill="#000" font-family="Liberation Sans" stroke="#000" stroke-width="1.2">g</text>
<text x="1046" y="400" font-size="38" font-weight="900" fill="#000" font-family="Liberation Sans" stroke="#000" stroke-width="1.2">h</text>
<text x="1400" y="400" font-size="38" font-weight="900" fill="#000" font-family="Liberation Sans" stroke="#000" stroke-width="1.2">i</text>
<text x="1789" y="400" font-size="38" font-weight="900" fill="#000" font-family="Liberation Sans" stroke="#000" stroke-width="1.2">f</text>
<text x="1" y="827" font-size="38" font-weight="900" fill="#000" font-family="Liberation Sans" stroke="#000" stroke-width="1.2">j</text>
<text x="329.5" y="827" font-size="38" font-weight="900" fill="#000" font-family="Liberation Sans" stroke="#000" stroke-width="1.2">k</text>
<text x="1" y="1233.8" font-size="38" font-weight="900" fill="#000" font-family="Liberation Sans" stroke="#000" stroke-width="1.2">l</text>
<text x="175" y="1233.8" font-size="38" font-weight="900" fill="#000" font-family="Liberation Sans" stroke="#000" stroke-width="1.2">m</text>
<text x="1291.2" y="1233.8" font-size="38" font-weight="900" fill="#000" font-family="Liberation Sans" stroke="#000" stroke-width="1.2">n</text>
<text x="1736.2" y="1233.8" font-size="38" font-weight="900" fill="#000" font-family="Liberation Sans" stroke="#000" stroke-width="1.2">o</text>
<text x="769.5" y="349" font-size="27" textLength="223" lengthAdjust="spacingAndGlyphs">A33<tspan font-size="19" dy="7">SSP</tspan><tspan dy="-7"> before MD</tspan></text>
<text x="1111" y="349" font-size="27" textLength="200" lengthAdjust="spacingAndGlyphs">A33<tspan font-size="19" dy="7">SSP</tspan><tspan dy="-7"> after MD</tspan></text>
<text x="1481" y="349" font-size="27" textLength="198" lengthAdjust="spacingAndGlyphs">A33<tspan font-size="19" dy="7">SSP</tspan><tspan dy="-7"> after MD</tspan></text>
<text x="1871.5" y="349" font-size="27" textLength="211" lengthAdjust="spacingAndGlyphs">A33<tspan font-size="19" dy="7">SSP</tspan><tspan dy="-7"> (cryo-EM)</tspan></text>
<text x="767" y="729.5" font-size="27" textLength="228" lengthAdjust="spacingAndGlyphs">K33<tspan font-size="19" dy="7">SSP</tspan><tspan dy="-7"> (modelled)</tspan></text>
<text x="880.8" y="762.5" font-size="27" text-anchor="middle" textLength="130.5" lengthAdjust="spacingAndGlyphs">before MD</text>
<text x="1099" y="729.5" font-size="27" textLength="228" lengthAdjust="spacingAndGlyphs">K33<tspan font-size="19" dy="7">SSP</tspan><tspan dy="-7"> (modelled)</tspan></text>
<text x="1213" y="762.5" font-size="27" text-anchor="middle" textLength="106.5" lengthAdjust="spacingAndGlyphs">after MD</text>
<text x="1466" y="729.5" font-size="27" textLength="228" lengthAdjust="spacingAndGlyphs">K33<tspan font-size="19" dy="7">SSP</tspan><tspan dy="-7"> (modelled)</tspan></text>
<text x="1579.2" y="762.5" font-size="27" text-anchor="middle" textLength="106.5" lengthAdjust="spacingAndGlyphs">after MD</text>
<text x="1871.5" y="729.5" font-size="27" textLength="211" lengthAdjust="spacingAndGlyphs">A33<tspan font-size="19" dy="7">SSP</tspan><tspan dy="-7"> (cryo-EM)</tspan></text>
<polyline points="1398,196 1396.5,195.6 1395,194.8 1393.5,193.5 1392.1,191.9 1390.7,189.8 1389.5,187.4 1388.4,184.6 1387.4,181.5 1386.5,178.1 1385.8,174.5 1385.2,170.7 1384.8,166.8 1384.6,162.7 1384.5,158.6 1384.6,154.6 1384.9,150.6 1385.3,146.6 1385.9,142.9 1386.7,139.3 1387.5,136 1388.6,132.9 1389.7,130.2 1391,127.8 1392.3,125.8 1393.7,124.2 1395.2,123 1396.7,122.3 1398.3,122 1399.8,122.2 1401.4,122.8 1402.8,123.8 1404.3,125.3 1405.7,127.2 1406.9,129.5 1408.1,132.1 1409.2,135.1 1410.1,138.3 1410.9,141.8 1411.5,145.5 1412,149.4" fill="none" stroke="#3c4e66" stroke-width="4.2" stroke-linejoin="round"/>
<path d="M1404.6 146.6 L1418.3 146.2 L1411.6 163 Z" fill="#3c4e66"/>
<line x1="1366.5" y1="172.3" x2="1420.5" y2="172.3" stroke="#3c4e66" stroke-width="4.2"/>
<text x="1377.7" y="229" font-size="27" textLength="44" lengthAdjust="spacingAndGlyphs">90°</text>
<polyline points="1398,575 1396.5,574.6 1395,573.8 1393.5,572.5 1392.1,570.9 1390.7,568.8 1389.5,566.4 1388.4,563.6 1387.4,560.5 1386.5,557.1 1385.8,553.5 1385.2,549.7 1384.8,545.8 1384.6,541.7 1384.5,537.6 1384.6,533.6 1384.9,529.6 1385.3,525.6 1385.9,521.9 1386.7,518.3 1387.5,515 1388.6,511.9 1389.7,509.2 1391,506.8 1392.3,504.8 1393.7,503.2 1395.2,502 1396.7,501.3 1398.3,501 1399.8,501.2 1401.4,501.8 1402.8,502.8 1404.3,504.3 1405.7,506.2 1406.9,508.5 1408.1,511.1 1409.2,514.1 1410.1,517.3 1410.9,520.8 1411.5,524.5 1412,528.4" fill="none" stroke="#3c4e66" stroke-width="4.2" stroke-linejoin="round"/>
<path d="M1404.6 525.6 L1418.3 525.2 L1411.6 542 Z" fill="#3c4e66"/>
<line x1="1366.5" y1="551.3" x2="1420.5" y2="551.3" stroke="#3c4e66" stroke-width="4.2"/>
<text x="1377.7" y="608" font-size="27" textLength="44" lengthAdjust="spacingAndGlyphs">90°</text>
<line x1="420.5" y1="823" x2="420.5" y2="1093.8" stroke="#222" stroke-width="1.5"/>
<line x1="413" y1="1093" x2="901" y2="1093" stroke="#222" stroke-width="1.5"/>
<line x1="413" y1="1093" x2="420.5" y2="1093" stroke="#222" stroke-width="1.5"/>
<text x="400" y="1100.5" font-size="21" text-anchor="end">0</text>
<line x1="413" y1="1039" x2="420.5" y2="1039" stroke="#222" stroke-width="1.5"/>
<text x="400" y="1046.5" font-size="21" text-anchor="end">1</text>
<line x1="413" y1="985" x2="420.5" y2="985" stroke="#222" stroke-width="1.5"/>
<text x="400" y="992.5" font-size="21" text-anchor="end">2</text>
<line x1="413" y1="931" x2="420.5" y2="931" stroke="#222" stroke-width="1.5"/>
<text x="400" y="938.5" font-size="21" text-anchor="end">3</text>
<line x1="413" y1="877" x2="420.5" y2="877" stroke="#222" stroke-width="1.5"/>
<text x="400" y="884.5" font-size="21" text-anchor="end">4</text>
<line x1="413" y1="823" x2="420.5" y2="823" stroke="#222" stroke-width="1.5"/>
<text x="400" y="830.5" font-size="21" text-anchor="end">5</text>
<line x1="420.5" y1="1093" x2="420.5" y2="1102" stroke="#222" stroke-width="1.5"/>
<text x="420.5" y="1131" font-size="21" text-anchor="middle">G2</text>
<line x1="506.5" y1="1093" x2="506.5" y2="1102" stroke="#222" stroke-width="1.5"/>
<text x="506.5" y="1131" font-size="21" text-anchor="middle">P12</text>
<line x1="592.5" y1="1093" x2="592.5" y2="1102" stroke="#222" stroke-width="1.5"/>
<text x="592.5" y="1131" font-size="21" text-anchor="middle">A22</text>
<line x1="678.5" y1="1093" x2="678.5" y2="1102" stroke="#222" stroke-width="1.5"/>
<text x="678.5" y="1131" font-size="21" text-anchor="middle">I32</text>
<line x1="764.5" y1="1093" x2="764.5" y2="1102" stroke="#222" stroke-width="1.5"/>
<text x="764.5" y="1131" font-size="21" text-anchor="middle">G42</text>
<line x1="851" y1="1093" x2="851" y2="1102" stroke="#222" stroke-width="1.5"/>
<text x="851" y="1131" font-size="21" text-anchor="middle">L52</text>
<text x="630.8" y="835.5" font-size="25" textLength="47.2" lengthAdjust="spacingAndGlyphs">SSP</text>
<text x="678.5" y="843.5" font-size="18">A</text>
<text x="430" y="842.5" font-size="21">N</text>
<text x="876" y="842.5" font-size="21">C</text>
<text transform="translate(364 958) rotate(-90)" font-size="25" text-anchor="middle" textLength="111" lengthAdjust="spacingAndGlyphs">RMSF (Å)</text>
<text x="660.8" y="1172.5" font-size="25" text-anchor="middle" textLength="206.5" lengthAdjust="spacingAndGlyphs">Residue position</text>
<rect x="425" y="888" width="108" height="186" fill="none" stroke="#333" stroke-width="1.6" stroke-dasharray="7 5"/>
<rect x="537.5" y="970.5" width="221.5" height="103.5" fill="none" stroke="#333" stroke-width="1.6" stroke-dasharray="7 5"/>
<rect x="764.5" y="865.5" width="135" height="208.5" fill="none" stroke="#333" stroke-width="1.6" stroke-dasharray="7 5"/>
<polyline points="424.5,857.6 433.1,999 441.7,1004.5 450.3,982.6 458.9,986.2 467.5,999.1 476.1,994.3 484.7,990.4 493.3,995.1 501.9,996.4 510.5,992 519.1,989.6 527.7,998 536.3,1004.7 544.9,991.8 553.5,1003.2 562.1,1008.4 570.7,1016.6 579.3,1014.1 587.9,1013.4 596.5,1014 605.1,1015.8 613.7,1019.2 622.3,1015.1 630.9,1015.9 639.5,1016 648.1,1018.3 656.7,1023.6 665.3,1026.6 673.9,1025.7 682.5,1018.3 691.1,1020.8 699.7,1024.7 708.3,1013.7 716.9,1020.2 725.5,1023 734.1,1021.6 742.7,1018.1 751.3,1019.6 759.9,1021.1 768.5,1017.5 777.1,1018.1 785.7,1010.4 794.3,1012.8 802.9,1005.5 811.5,991 820.1,990.5 828.7,986.4 837.3,971.9 845.9,966.8 854.5,956.5 863.1,952.9 871.7,942.8 880.3,938.4 888.9,928.7 897.5,944.4" fill="none" stroke="#1a3a7a" stroke-width="1.1" stroke-linejoin="round"/>
<polyline points="424.5,952.9 433.1,1011.6 441.7,1015.7 450.3,1002.5 458.9,1009.8 467.5,1022.2 476.1,1018.9 484.7,1009.8 493.3,1016 501.9,1015 510.5,1014.6 519.1,1015.4 527.7,1025.5 536.3,1021.3 544.9,1014.5 553.5,1028.5 562.1,1026.2 570.7,1033.8 579.3,1035.8 587.9,1033.9 596.5,1039.1 605.1,1041.6 613.7,1038.3 622.3,1041.3 630.9,1042.6 639.5,1042.3 648.1,1043.7 656.7,1042.5 665.3,1045.3 673.9,1042.7 682.5,1042.7 691.1,1040.3 699.7,1045.5 708.3,1036.9 716.9,1040.9 725.5,1046.4 734.1,1039.6 742.7,1033.6 751.3,1039.5 759.9,1043.6 768.5,1038 777.1,1031.6 785.7,1024.7 794.3,1026.1 802.9,1017.3 811.5,1007.2 820.1,1002.7 828.7,1000.9 837.3,984.7 845.9,975.7 854.5,973.7 863.1,967.4 871.7,954.3 880.3,949.6 888.9,940.8 897.5,956" fill="none" stroke="#1a3a7a" stroke-width="1.1" stroke-linejoin="round"/>
<polyline points="424.5,966.3 433.1,1008.3 441.7,1014.7 450.3,1001.9 458.9,1010.3 467.5,1020.9 476.1,1015.6 484.7,1005.1 493.3,1012.9 501.9,1013.5 510.5,1008.9 519.1,1010.4 527.7,1022.4 536.3,1021 544.9,1015.3 553.5,1020.2 562.1,1029.4 570.7,1032.1 579.3,1036.9 587.9,1030.8 596.5,1035.2 605.1,1036.4 613.7,1033.5 622.3,1038.9 630.9,1040.8 639.5,1035.2 648.1,1037.9 656.7,1042.2 665.3,1039.1 673.9,1039.3 682.5,1042.6 691.1,1039 699.7,1045.1 708.3,1036.4 716.9,1037.1 725.5,1044.4 734.1,1038.8 742.7,1037 751.3,1041.1 759.9,1040.2 768.5,1034.8 777.1,1027.6 785.7,1020 794.3,1020.8 802.9,1017.1 811.5,1006.9 820.1,1000.8 828.7,994.4 837.3,981.9 845.9,963.4 854.5,957.9 863.1,952.9 871.7,942.2 880.3,934.7 888.9,933 897.5,943.5" fill="none" stroke="#1a3a7a" stroke-width="1.1" stroke-linejoin="round"/>
<polyline points="424.5,909.5 433.1,1010.8 441.7,1018.4 450.3,1015.9 458.9,1023.3 467.5,1028.9 476.1,1025.6 484.7,1024.7 493.3,1028.8 501.9,1029.8 510.5,1028.2 519.1,1027.7 527.7,1033.5 536.3,1031 544.9,1021.5 553.5,1033.9 562.1,1034.4 570.7,1040.2 579.3,1036.4 587.9,1039 596.5,1039.5 605.1,1038.7 613.7,1037.6 622.3,1038.5 630.9,1041.7 639.5,1038.5 648.1,1042 656.7,1042.7 665.3,1043.7 673.9,1037.7 682.5,1037.7 691.1,1036.1 699.7,1042.8 708.3,1038.8 716.9,1040.5 725.5,1040.4 734.1,1036.7 742.7,1035.4 751.3,1038 759.9,1042.2 768.5,1032.7 777.1,1026.8 785.7,1023.5 794.3,1019.1 802.9,1019.5 811.5,1012.3 820.1,998 828.7,994.9 837.3,987.3 845.9,977.3 854.5,973.7 863.1,952.5 871.7,944.8 880.3,948.7 888.9,952.1 897.5,960.2" fill="none" stroke="#ff55ff" stroke-width="1.1" stroke-linejoin="round"/>
<polyline points="424.5,957.5 433.1,1021.6 441.7,1030 450.3,1029.4 458.9,1034.4 467.5,1038.7 476.1,1037 484.7,1037.8 493.3,1040 501.9,1040.2 510.5,1041.7 519.1,1042.5 527.7,1041.1 536.3,1043.4 544.9,1033.3 553.5,1046.1 562.1,1045.1 570.7,1052.8 579.3,1046.6 587.9,1047.2 596.5,1047.4 605.1,1049.6 613.7,1053.4 622.3,1050.4 630.9,1049.8 639.5,1052.3 648.1,1046.9 656.7,1051.7 665.3,1054.7 673.9,1047.7 682.5,1049.5 691.1,1045.4 699.7,1051.7 708.3,1046.8 716.9,1049.2 725.5,1052.6 734.1,1051.8 742.7,1047.4 751.3,1044.7 759.9,1051.5 768.5,1042.6 777.1,1038.2 785.7,1028.9 794.3,1028.3 802.9,1029.2 811.5,1029.2 820.1,1025 828.7,1024 837.3,1019.8 845.9,1006.8 854.5,999.1 863.1,986.9 871.7,974.2 880.3,977.1 888.9,974.8 897.5,980.5" fill="none" stroke="#ff55ff" stroke-width="1.1" stroke-linejoin="round"/>
<polyline points="424.5,995.5 433.1,1019.7 441.7,1028.6 450.3,1020.6 458.9,1029.2 467.5,1037.7 476.1,1032.6 484.7,1033.5 493.3,1032.2 501.9,1034.8 510.5,1030.1 519.1,1037.5 527.7,1035.6 536.3,1032.4 544.9,1028.6 553.5,1036.3 562.1,1036.6 570.7,1047.3 579.3,1041.9 587.9,1042.7 596.5,1045.6 605.1,1046.9 613.7,1042.7 622.3,1043.3 630.9,1041.6 639.5,1042.6 648.1,1041.4 656.7,1045.1 665.3,1045.8 673.9,1043.7 682.5,1043.3 691.1,1039.8 699.7,1047.2 708.3,1039.9 716.9,1039.8 725.5,1046.1 734.1,1046.7 742.7,1036.9 751.3,1040.6 759.9,1046.4 768.5,1041.9 777.1,1030.7 785.7,1029.6 794.3,1022.7 802.9,1025.5 811.5,1017.3 820.1,1012.6 828.7,1011 837.3,1001.2 845.9,994.3 854.5,988.5 863.1,971 871.7,964.7 880.3,965.5 888.9,960.4 897.5,966.5" fill="none" stroke="#ff55ff" stroke-width="1.1" stroke-linejoin="round"/>
<polyline points="424.5,947.2 433.1,1014.7 441.7,1022.8 450.3,1021.2 458.9,1024.4 467.5,1032.5 476.1,1030.9 484.7,1029.8 493.3,1032 501.9,1030.4 510.5,1030.4 519.1,1033.6 527.7,1033.6 536.3,1032.5 544.9,1027.1 553.5,1036.3 562.1,1035.2 570.7,1041.7 579.3,1041.7 587.9,1040.6 596.5,1041.7 605.1,1042.2 613.7,1042.2 622.3,1041.2 630.9,1041.7 639.5,1041.7 648.1,1041.7 656.7,1042.8 665.3,1044.4 673.9,1041.7 682.5,1039 691.1,1040.1 699.7,1043.3 708.3,1039 716.9,1040.1 725.5,1044.4 734.1,1041.7 742.7,1036.3 751.3,1039 759.9,1041.7 768.5,1036.3 777.1,1028.2 785.7,1023.9 794.3,1022.8 802.9,1022.8 811.5,1014.7 820.1,1009.3 828.7,1009.3 837.3,1001.2 845.9,990.4 854.5,985 863.1,968.8 871.7,960.7 880.3,963.4 888.9,958 897.5,963.4" fill="none" stroke="#ff2cff" stroke-width="3.2" stroke-linejoin="round"/>
<polyline points="424.5,931 433.1,1006.6 441.7,1013.1 450.3,996.9 458.9,1004.4 467.5,1017.4 476.1,1011.5 484.7,1004.4 493.3,1011.5 501.9,1011.5 510.5,1006.6 519.1,1008.8 527.7,1017.4 536.3,1017.9 544.9,1010.4 553.5,1020.1 562.1,1023.9 570.7,1031.4 579.3,1031.4 587.9,1029.3 596.5,1031.4 605.1,1033.1 613.7,1033.1 622.3,1033.1 630.9,1035.2 639.5,1035.2 648.1,1035.2 656.7,1036.8 665.3,1039.5 673.9,1039.5 682.5,1037.4 691.1,1035.8 699.7,1040.1 708.3,1032.5 716.9,1035.2 725.5,1039.5 734.1,1037.4 742.7,1031.4 751.3,1036.3 759.9,1039.5 768.5,1031.4 777.1,1024.4 785.7,1017.9 794.3,1017.9 802.9,1013.6 811.5,1001.2 820.1,999.6 828.7,994.7 837.3,982.3 845.9,972.6 854.5,965 863.1,960.2 871.7,951.5 880.3,944 888.9,938.6 897.5,949.9" fill="none" stroke="#0d2566" stroke-width="3.2" stroke-linejoin="round"/>
<text x="518.5" y="915" font-size="25" font-weight="bold" fill="#000" textLength="6.5" lengthAdjust="spacingAndGlyphs" stroke="#000" stroke-width="0.6">i</text>
<text x="738" y="997" font-size="25" font-weight="bold" fill="#000" textLength="14.5" lengthAdjust="spacingAndGlyphs" stroke="#000" stroke-width="0.6">ii</text>
<text x="769.5" y="891" font-size="25" font-weight="bold" fill="#000" textLength="22" lengthAdjust="spacingAndGlyphs" stroke="#000" stroke-width="0.6">iii</text>
<line x1="621" y1="913.8" x2="646" y2="913.8" stroke="#0d2566" stroke-width="3.5"/>
<text x="660" y="922" font-size="25" textLength="46" lengthAdjust="spacingAndGlyphs">K33</text>
<line x1="621" y1="949" x2="646" y2="949" stroke="#ff2cff" stroke-width="3.5"/>
<text x="660" y="957" font-size="25" textLength="46" lengthAdjust="spacingAndGlyphs">A33</text>
<line x1="1042.5" y1="823" x2="1042.5" y2="1093.8" stroke="#222" stroke-width="1.5"/>
<line x1="1035" y1="1093" x2="1521" y2="1093" stroke="#222" stroke-width="1.5"/>
<line x1="1035" y1="1093" x2="1042.5" y2="1093" stroke="#222" stroke-width="1.5"/>
<text x="1022.5" y="1100.5" font-size="21" text-anchor="end">0</text>
<line x1="1035" y1="1039" x2="1042.5" y2="1039" stroke="#222" stroke-width="1.5"/>
<text x="1022.5" y="1046.5" font-size="21" text-anchor="end">1</text>
<line x1="1035" y1="985" x2="1042.5" y2="985" stroke="#222" stroke-width="1.5"/>
<text x="1022.5" y="992.5" font-size="21" text-anchor="end">2</text>
<line x1="1035" y1="931" x2="1042.5" y2="931" stroke="#222" stroke-width="1.5"/>
<text x="1022.5" y="938.5" font-size="21" text-anchor="end">3</text>
<line x1="1035" y1="877" x2="1042.5" y2="877" stroke="#222" stroke-width="1.5"/>
<text x="1022.5" y="884.5" font-size="21" text-anchor="end">4</text>
<line x1="1035" y1="823" x2="1042.5" y2="823" stroke="#222" stroke-width="1.5"/>
<text x="1022.5" y="830.5" font-size="21" text-anchor="end">5</text>
<line x1="1042.5" y1="1093" x2="1042.5" y2="1102" stroke="#222" stroke-width="1.5"/>
<text x="1042.5" y="1131" font-size="21" text-anchor="middle">G2</text>
<line x1="1128.8" y1="1093" x2="1128.8" y2="1102" stroke="#222" stroke-width="1.5"/>
<text x="1128.8" y="1131" font-size="21" text-anchor="middle">P12</text>
<line x1="1212.5" y1="1093" x2="1212.5" y2="1102" stroke="#222" stroke-width="1.5"/>
<text x="1212.5" y="1131" font-size="21" text-anchor="middle">A22</text>
<line x1="1298.8" y1="1093" x2="1298.8" y2="1102" stroke="#222" stroke-width="1.5"/>
<text x="1298.8" y="1131" font-size="21" text-anchor="middle">I32</text>
<line x1="1384.5" y1="1093" x2="1384.5" y2="1102" stroke="#222" stroke-width="1.5"/>
<text x="1384.5" y="1131" font-size="21" text-anchor="middle">G42</text>
<line x1="1470.5" y1="1093" x2="1470.5" y2="1102" stroke="#222" stroke-width="1.5"/>
<text x="1470.5" y="1131" font-size="21" text-anchor="middle">L52</text>
<text x="1253" y="835.5" font-size="25" textLength="46.5" lengthAdjust="spacingAndGlyphs">SSP</text>
<text x="1300" y="843.5" font-size="18">B</text>
<text x="1052" y="842.5" font-size="21">N</text>
<text x="1500" y="843.5" font-size="21">C</text>
<text transform="translate(986 957) rotate(-90)" font-size="25" text-anchor="middle" textLength="111" lengthAdjust="spacingAndGlyphs">RMSF (Å)</text>
<text x="1267.8" y="1172.5" font-size="25" text-anchor="middle" textLength="206.5" lengthAdjust="spacingAndGlyphs">Residue position</text>
<rect x="1047" y="888" width="108.5" height="186" fill="none" stroke="#333" stroke-width="1.6" stroke-dasharray="7 5"/>
<rect x="1160.5" y="970.5" width="222" height="103.5" fill="none" stroke="#333" stroke-width="1.6" stroke-dasharray="7 5"/>
<rect x="1387.5" y="865.5" width="135.5" height="208.5" fill="none" stroke="#333" stroke-width="1.6" stroke-dasharray="7 5"/>
<polyline points="1047,937.8 1055.6,977.2 1064.1,989.7 1072.7,984 1081.2,1018.2 1089.8,1027.6 1098.3,1023.5 1106.9,1019.7 1115.5,1020.7 1124,1019.3 1132.6,1015.8 1141.1,1012 1149.7,1018 1158.3,1022.3 1166.8,1013.1 1175.4,1016.8 1183.9,1018.4 1192.5,1024.4 1201,1026.8 1209.6,1026.1 1218.2,1028 1226.7,1036.4 1235.3,1032.9 1243.8,1026.2 1252.4,1030.3 1261,1033.5 1269.5,1029.4 1278.1,1031.4 1286.6,1035.9 1295.2,1024.6 1303.7,1035 1312.3,1035.3 1320.9,1027.3 1329.4,1022.3 1338,1030.1 1346.5,1033 1355.1,1027.1 1363.7,1027.7 1372.2,1031 1380.8,1029.7 1389.3,1027.7 1397.9,1024.4 1406.4,1020.3 1415,1017.2 1423.6,1021.1 1432.1,1010 1440.7,1002.7 1449.2,1003.2 1457.8,997.2 1466.4,989.2 1474.9,989.4 1483.5,978.4 1492,956.7 1500.6,967.9 1509.1,932.7 1517.7,929.8" fill="none" stroke="#1a3a7a" stroke-width="1.1" stroke-linejoin="round"/>
<polyline points="1047,973.6 1055.6,1010.7 1064.1,1019.7 1072.7,1016.2 1081.2,1029.5 1089.8,1039.4 1098.3,1035.3 1106.9,1029.8 1115.5,1037 1124,1028.3 1132.6,1028.8 1141.1,1028.4 1149.7,1026.9 1158.3,1030.7 1166.8,1022.3 1175.4,1026.6 1183.9,1032.5 1192.5,1041 1201,1037.8 1209.6,1038.5 1218.2,1041 1226.7,1045.5 1235.3,1041.5 1243.8,1036.1 1252.4,1044.1 1261,1047.9 1269.5,1040.1 1278.1,1043 1286.6,1044.7 1295.2,1035.7 1303.7,1044.3 1312.3,1047.9 1320.9,1034.7 1329.4,1032.1 1338,1046.4 1346.5,1040.7 1355.1,1032.8 1363.7,1035.9 1372.2,1042.4 1380.8,1040.3 1389.3,1036.4 1397.9,1038.8 1406.4,1028.9 1415,1030 1423.6,1032.8 1432.1,1022.8 1440.7,1014.7 1449.2,1017 1457.8,1010 1466.4,997.9 1474.9,994.4 1483.5,988.9 1492,967.2 1500.6,976.6 1509.1,944.7 1517.7,945.5" fill="none" stroke="#1a3a7a" stroke-width="1.1" stroke-linejoin="round"/>
<polyline points="1047,976.9 1055.6,1013.9 1064.1,1024.1 1072.7,1018.6 1081.2,1030.9 1089.8,1039.2 1098.3,1040 1106.9,1035.2 1115.5,1036.2 1124,1033.5 1132.6,1030.7 1141.1,1027.3 1149.7,1031.7 1158.3,1037.4 1166.8,1023.8 1175.4,1036 1183.9,1036.8 1192.5,1040.2 1201,1042.2 1209.6,1039.5 1218.2,1039.8 1226.7,1050.1 1235.3,1047.1 1243.8,1045.2 1252.4,1042.9 1261,1052.3 1269.5,1046.6 1278.1,1050.2 1286.6,1054.3 1295.2,1044.7 1303.7,1048.1 1312.3,1052 1320.9,1041.9 1329.4,1036.2 1338,1049.3 1346.5,1044 1355.1,1037.5 1363.7,1040.2 1372.2,1043.9 1380.8,1044.3 1389.3,1041.1 1397.9,1042.4 1406.4,1034.7 1415,1033.6 1423.6,1034.2 1432.1,1022.3 1440.7,1017.9 1449.2,1022.9 1457.8,1014.9 1466.4,1001.9 1474.9,1001.6 1483.5,989.1 1492,971.5 1500.6,979.7 1509.1,940.8 1517.7,944.7" fill="none" stroke="#1a3a7a" stroke-width="1.1" stroke-linejoin="round"/>
<polyline points="1047,907 1055.6,1009.6 1064.1,1025.8 1072.7,1017.2 1081.2,1017.1 1089.8,1029.8 1098.3,1030.6 1106.9,1026.5 1115.5,1025.7 1124,1025.9 1132.6,1027.5 1141.1,1020.2 1149.7,1030.6 1158.3,1028.4 1166.8,1022 1175.4,1030.1 1183.9,1025.2 1192.5,1037.3 1201,1036.7 1209.6,1038.8 1218.2,1033.3 1226.7,1041.3 1235.3,1037.3 1243.8,1034.1 1252.4,1036.5 1261,1043.2 1269.5,1034.9 1278.1,1036.8 1286.6,1041.8 1295.2,1035.7 1303.7,1040.8 1312.3,1042.9 1320.9,1039.6 1329.4,1037.5 1338,1038.5 1346.5,1037.6 1355.1,1030.4 1363.7,1031 1372.2,1038.2 1380.8,1035.7 1389.3,1031 1397.9,1006.1 1406.4,1000.5 1415,996.3 1423.6,998.5 1432.1,989.7 1440.7,984.8 1449.2,982.8 1457.8,979.9 1466.4,974.1 1474.9,957.6 1483.5,955.1 1492,951 1500.6,952.5 1509.1,937.8 1517.7,947" fill="none" stroke="#ff55ff" stroke-width="1.1" stroke-linejoin="round"/>
<polyline points="1047,981.5 1055.6,1028.3 1064.1,1039.5 1072.7,1027.7 1081.2,1034.2 1089.8,1044.2 1098.3,1042.4 1106.9,1040.8 1115.5,1041.3 1124,1039.6 1132.6,1037.2 1141.1,1036.3 1149.7,1040.6 1158.3,1044.3 1166.8,1039.6 1175.4,1046.7 1183.9,1041.3 1192.5,1052 1201,1051 1209.6,1050.1 1218.2,1053.7 1226.7,1051.7 1235.3,1055 1243.8,1048.5 1252.4,1051.4 1261,1057 1269.5,1050.5 1278.1,1052.1 1286.6,1057.6 1295.2,1050.9 1303.7,1056 1312.3,1052.5 1320.9,1050.7 1329.4,1047.8 1338,1058.1 1346.5,1053.1 1355.1,1047.4 1363.7,1047.5 1372.2,1052.9 1380.8,1047.3 1389.3,1040.5 1397.9,1041.4 1406.4,1037 1415,1029.3 1423.6,1029.9 1432.1,1033.6 1440.7,1026.6 1449.2,1030 1457.8,1027 1466.4,1018.1 1474.9,1005.2 1483.5,1000.8 1492,975.8 1500.6,979.1 1509.1,961.5 1517.7,970.1" fill="none" stroke="#ff55ff" stroke-width="1.1" stroke-linejoin="round"/>
<polyline points="1047,1019.2 1055.6,1025.9 1064.1,1035.1 1072.7,1028.4 1081.2,1029.4 1089.8,1040.6 1098.3,1036.5 1106.9,1039 1115.5,1039.5 1124,1039.3 1132.6,1037 1141.1,1033.6 1149.7,1042.1 1158.3,1042 1166.8,1032.6 1175.4,1040.3 1183.9,1040.8 1192.5,1045.4 1201,1046.2 1209.6,1050.3 1218.2,1045.1 1226.7,1048.5 1235.3,1049.2 1243.8,1049.3 1252.4,1046.8 1261,1052.5 1269.5,1050.8 1278.1,1052.4 1286.6,1049.2 1295.2,1047.5 1303.7,1047.8 1312.3,1049.9 1320.9,1047.9 1329.4,1044 1338,1052.2 1346.5,1047.8 1355.1,1042.3 1363.7,1043.6 1372.2,1044.8 1380.8,1045.5 1389.3,1037.7 1397.9,1039.2 1406.4,1032.7 1415,1027.9 1423.6,1028.2 1432.1,1021.8 1440.7,1014.6 1449.2,1016.1 1457.8,1008.4 1466.4,1002.1 1474.9,991.2 1483.5,989.6 1492,962.2 1500.6,963.3 1509.1,946.2 1517.7,957.3" fill="none" stroke="#ff55ff" stroke-width="1.1" stroke-linejoin="round"/>
<polyline points="1047,974.2 1055.6,1020.1 1064.1,1030.9 1072.7,1023.9 1081.2,1028.2 1089.8,1039 1098.3,1036.3 1106.9,1033.6 1115.5,1036.3 1124,1033.6 1132.6,1032.5 1141.1,1030.9 1149.7,1036.3 1158.3,1037.4 1166.8,1030.9 1175.4,1037.9 1183.9,1036.3 1192.5,1043.3 1201,1045.5 1209.6,1044.4 1218.2,1044.4 1226.7,1047.1 1235.3,1045.5 1243.8,1044.4 1252.4,1047.1 1261,1048.7 1269.5,1045.5 1278.1,1047.1 1286.6,1048.7 1295.2,1045.5 1303.7,1047.1 1312.3,1048.7 1320.9,1045.5 1329.4,1044.4 1338,1048.7 1346.5,1045.5 1355.1,1041.7 1363.7,1041.7 1372.2,1044.4 1380.8,1043.3 1389.3,1036.3 1397.9,1033.6 1406.4,1028.2 1415,1023.9 1423.6,1022.8 1432.1,1017.4 1440.7,1009.3 1449.2,1012 1457.8,1006.6 1466.4,998.5 1474.9,987.7 1483.5,985 1492,958 1500.6,963.4 1509.1,944.5 1517.7,955.3" fill="none" stroke="#ff2cff" stroke-width="3.2" stroke-linejoin="round"/>
<polyline points="1047,966.1 1055.6,1003.9 1064.1,1014.7 1072.7,1013.1 1081.2,1022.8 1089.8,1032.5 1098.3,1029.3 1106.9,1027.1 1115.5,1030.4 1124,1025.5 1132.6,1025.5 1141.1,1021.7 1149.7,1022.8 1158.3,1026 1166.8,1017.4 1175.4,1025.5 1183.9,1025.5 1192.5,1033.6 1201,1036.3 1209.6,1033.6 1218.2,1034.7 1226.7,1040.1 1235.3,1036.3 1243.8,1034.7 1252.4,1037.9 1261,1041.7 1269.5,1036.3 1278.1,1039 1286.6,1043.3 1295.2,1033.6 1303.7,1039 1312.3,1041.7 1320.9,1032.5 1329.4,1030.9 1338,1039 1346.5,1037.9 1355.1,1030.9 1363.7,1032.5 1372.2,1036.3 1380.8,1037.9 1389.3,1033.6 1397.9,1032.5 1406.4,1025.5 1415,1023.9 1423.6,1025.5 1432.1,1017.4 1440.7,1009.3 1449.2,1012 1457.8,1006.6 1466.4,995.8 1474.9,993.1 1483.5,987.7 1492,966.1 1500.6,974.2 1509.1,939.1 1517.7,939.1" fill="none" stroke="#0d2566" stroke-width="3.2" stroke-linejoin="round"/>
<text x="1140" y="915" font-size="25" font-weight="bold" fill="#000" textLength="6.5" lengthAdjust="spacingAndGlyphs" stroke="#000" stroke-width="0.6">i</text>
<text x="1362" y="997" font-size="25" font-weight="bold" fill="#000" textLength="14.5" lengthAdjust="spacingAndGlyphs" stroke="#000" stroke-width="0.6">ii</text>
<text x="1393" y="891" font-size="25" font-weight="bold" fill="#000" textLength="22" lengthAdjust="spacingAndGlyphs" stroke="#000" stroke-width="0.6">iii</text>
<line x1="1659.2" y1="834.5" x2="1659.2" y2="1093.8" stroke="#222" stroke-width="1.5"/>
<line x1="1651.8" y1="1093" x2="2140" y2="1093" stroke="#222" stroke-width="1.5"/>
<line x1="1651.8" y1="1093" x2="1659.2" y2="1093" stroke="#222" stroke-width="1.5"/>
<text x="1636" y="1100.5" font-size="21" text-anchor="end">0</text>
<line x1="1651.8" y1="1041.3" x2="1659.2" y2="1041.3" stroke="#222" stroke-width="1.5"/>
<text x="1636" y="1048.8" font-size="21" text-anchor="end">1</text>
<line x1="1651.8" y1="989.6" x2="1659.2" y2="989.6" stroke="#222" stroke-width="1.5"/>
<text x="1636" y="997.1" font-size="21" text-anchor="end">2</text>
<line x1="1651.8" y1="937.9" x2="1659.2" y2="937.9" stroke="#222" stroke-width="1.5"/>
<text x="1636" y="945.4" font-size="21" text-anchor="end">3</text>
<line x1="1651.8" y1="886.2" x2="1659.2" y2="886.2" stroke="#222" stroke-width="1.5"/>
<text x="1636" y="893.7" font-size="21" text-anchor="end">4</text>
<line x1="1651.8" y1="834.5" x2="1659.2" y2="834.5" stroke="#222" stroke-width="1.5"/>
<text x="1636" y="842" font-size="21" text-anchor="end">5</text>
<line x1="1659.2" y1="1093" x2="1659.2" y2="1102" stroke="#222" stroke-width="1.5"/>
<text x="1659.2" y="1131" font-size="21" text-anchor="middle">G2</text>
<line x1="1745.2" y1="1093" x2="1745.2" y2="1102" stroke="#222" stroke-width="1.5"/>
<text x="1745.2" y="1131" font-size="21" text-anchor="middle">P12</text>
<line x1="1831.2" y1="1093" x2="1831.2" y2="1102" stroke="#222" stroke-width="1.5"/>
<text x="1831.2" y="1131" font-size="21" text-anchor="middle">A22</text>
<line x1="1917.5" y1="1093" x2="1917.5" y2="1102" stroke="#222" stroke-width="1.5"/>
<text x="1917.5" y="1131" font-size="21" text-anchor="middle">I32</text>
<line x1="2003.8" y1="1093" x2="2003.8" y2="1102" stroke="#222" stroke-width="1.5"/>
<text x="2003.8" y="1131" font-size="21" text-anchor="middle">G42</text>
<line x1="2087.5" y1="1093" x2="2087.5" y2="1102" stroke="#222" stroke-width="1.5"/>
<text x="2087.5" y="1131" font-size="21" text-anchor="middle">L52</text>
<text x="1869.5" y="835.5" font-size="25" textLength="48.5" lengthAdjust="spacingAndGlyphs">SSP</text>
<text x="1918.5" y="843.5" font-size="18">C</text>
<text x="1667.5" y="852" font-size="21">N</text>
<text x="2119" y="852" font-size="21">C</text>
<text transform="translate(1595 963) rotate(-90)" font-size="25" text-anchor="middle" textLength="111" lengthAdjust="spacingAndGlyphs">RMSF (Å)</text>
<text x="1900" y="1172.5" font-size="25" text-anchor="middle" textLength="206" lengthAdjust="spacingAndGlyphs">Residue position</text>
<rect x="1663.8" y="888" width="107.5" height="186" fill="none" stroke="#333" stroke-width="1.6" stroke-dasharray="7 5"/>
<rect x="1775.5" y="971.8" width="221.5" height="102.2" fill="none" stroke="#333" stroke-width="1.6" stroke-dasharray="7 5"/>
<rect x="2001.5" y="864.5" width="135" height="209.5" fill="none" stroke="#333" stroke-width="1.6" stroke-dasharray="7 5"/>
<polyline points="1664,961.2 1672.6,993.6 1681.2,1000.6 1689.7,980.9 1698.3,981 1706.9,1009.9 1715.5,994.8 1724,980.4 1732.6,988.5 1741.2,1001.5 1749.8,998 1758.3,990.2 1766.9,999.5 1775.5,1006.2 1784.1,1007 1792.7,1012.5 1801.2,1021.7 1809.8,1028.8 1818.4,1031.8 1827,1028.6 1835.5,1029.9 1844.1,1033.3 1852.7,1031.3 1861.3,1027.4 1869.9,1034.3 1878.4,1035.2 1887,1031.4 1895.6,1035.2 1904.2,1039.1 1912.7,1030.9 1921.3,1026.1 1929.9,1037 1938.5,1033.6 1947,1027.2 1955.6,1024.6 1964.2,1036.4 1972.8,1030.8 1981.4,1027.6 1989.9,1030.5 1998.5,1035.1 2007.1,1025 2015.7,1022 2024.2,1013.5 2032.8,1011.7 2041.4,1011.1 2050,999.6 2058.6,998.4 2067.1,996 2075.7,990.2 2084.3,977.3 2092.9,981.6 2101.4,976.2 2110,935.2 2118.6,940.4 2127.2,933.6 2135.8,927.5" fill="none" stroke="#1a3a7a" stroke-width="1.1" stroke-linejoin="round"/>
<polyline points="1664,975.7 1672.6,1005.1 1681.2,1016.5 1689.7,990.2 1698.3,995.4 1706.9,1025.5 1715.5,1015.4 1724,1005.7 1732.6,1012.5 1741.2,1023.3 1749.8,1021.4 1758.3,1017.2 1766.9,1027.8 1775.5,1031.8 1784.1,1015 1792.7,1029 1801.2,1030.5 1809.8,1040.1 1818.4,1048.4 1827,1043.8 1835.5,1045.6 1844.1,1047.1 1852.7,1047.4 1861.3,1041.6 1869.9,1049.9 1878.4,1047.3 1887,1041.2 1895.6,1044.8 1904.2,1052.5 1912.7,1044.9 1921.3,1040.6 1929.9,1045.4 1938.5,1049.2 1947,1036.2 1955.6,1035.7 1964.2,1047 1972.8,1040.3 1981.4,1036.7 1989.9,1043.3 1998.5,1049.5 2007.1,1035.7 2015.7,1036.4 2024.2,1031.4 2032.8,1027.2 2041.4,1025.3 2050,1017.3 2058.6,1008.5 2067.1,1013.7 2075.7,1002.6 2084.3,991.9 2092.9,994.2 2101.4,990.5 2110,964.1 2118.6,968.7 2127.2,959.5 2135.8,955.1" fill="none" stroke="#1a3a7a" stroke-width="1.1" stroke-linejoin="round"/>
<polyline points="1664,968.5 1672.6,1005.3 1681.2,1010.4 1689.7,989.7 1698.3,988.4 1706.9,1023.8 1715.5,1012.8 1724,1004.6 1732.6,1009.8 1741.2,1022.7 1749.8,1021 1758.3,1016.4 1766.9,1025 1775.5,1031.3 1784.1,1016.1 1792.7,1028.8 1801.2,1033.6 1809.8,1041.8 1818.4,1044.5 1827,1041.1 1835.5,1041.1 1844.1,1047 1852.7,1040.6 1861.3,1037.3 1869.9,1044 1878.4,1043.7 1887,1040.8 1895.6,1042.8 1904.2,1045.7 1912.7,1043.6 1921.3,1039.9 1929.9,1044.8 1938.5,1046.3 1947,1038.1 1955.6,1038.7 1964.2,1048.4 1972.8,1038.5 1981.4,1034.2 1989.9,1040.3 1998.5,1045.4 2007.1,1039.1 2015.7,1036.6 2024.2,1024.8 2032.8,1024.1 2041.4,1022.4 2050,1014.9 2058.6,1011.1 2067.1,1010.7 2075.7,1004.8 2084.3,989 2092.9,990.8 2101.4,986.7 2110,961.6 2118.6,963.5 2127.2,957.1 2135.8,951.7" fill="none" stroke="#1a3a7a" stroke-width="1.1" stroke-linejoin="round"/>
<polyline points="1664,933.9 1672.6,952.9 1681.2,960 1689.7,982.5 1698.3,989.8 1706.9,1016.5 1715.5,1020.7 1724,1026.6 1732.6,1023.6 1741.2,1027.3 1749.8,1027.7 1758.3,1026.5 1766.9,1035.2 1775.5,1031.7 1784.1,1034 1792.7,1034.3 1801.2,1038.2 1809.8,1041.5 1818.4,1041.5 1827,1042.8 1835.5,1043.8 1844.1,1045.1 1852.7,1043.3 1861.3,1044.8 1869.9,1047.9 1878.4,1046.7 1887,1046.9 1895.6,1045 1904.2,1046.7 1912.7,1045.5 1921.3,1046.8 1929.9,1043.7 1938.5,1043.6 1947,1038.8 1955.6,1041.4 1964.2,1049.3 1972.8,1039.3 1981.4,1038 1989.9,1035.2 1998.5,1041.1 2007.1,1034.7 2015.7,1030 2024.2,1026.6 2032.8,1022.7 2041.4,1022.3 2050,1020.9 2058.6,1015.1 2067.1,1017 2075.7,1009.7 2084.3,1000.6 2092.9,995.9 2101.4,990.3 2110,981.4 2118.6,977.5 2127.2,981.6 2135.8,972" fill="none" stroke="#ff55ff" stroke-width="1.1" stroke-linejoin="round"/>
<polyline points="1664,963.8 1672.6,984.1 1681.2,987.7 1689.7,995.9 1698.3,1001.1 1706.9,1024.6 1715.5,1033.6 1724,1039.6 1732.6,1036.7 1741.2,1039.8 1749.8,1038.2 1758.3,1035.3 1766.9,1041.4 1775.5,1042.7 1784.1,1040.5 1792.7,1047.5 1801.2,1046.9 1809.8,1052.8 1818.4,1051.3 1827,1055.5 1835.5,1055.5 1844.1,1052.8 1852.7,1055.2 1861.3,1052.8 1869.9,1055 1878.4,1054.2 1887,1053.4 1895.6,1057.8 1904.2,1054.5 1912.7,1055.7 1921.3,1056.3 1929.9,1059.1 1938.5,1054.4 1947,1052.5 1955.6,1057.2 1964.2,1058.6 1972.8,1049.5 1981.4,1043.4 1989.9,1046.9 1998.5,1051.5 2007.1,1044.8 2015.7,1043 2024.2,1037.9 2032.8,1034.3 2041.4,1032.8 2050,1046.8 2058.6,1041.4 2067.1,1040.7 2075.7,1034.2 2084.3,1028.1 2092.9,1021.3 2101.4,1019 2110,1009.1 2118.6,1004.2 2127.2,1006.9 2135.8,1000.5" fill="none" stroke="#ff55ff" stroke-width="1.1" stroke-linejoin="round"/>
<polyline points="1664,958 1672.6,983.4 1681.2,983.6 1689.7,993.3 1698.3,997.1 1706.9,1020.2 1715.5,1031.3 1724,1035.6 1732.6,1035.1 1741.2,1032.8 1749.8,1030 1758.3,1035.1 1766.9,1043.1 1775.5,1041 1784.1,1038.1 1792.7,1041.7 1801.2,1044.3 1809.8,1046.9 1818.4,1051.7 1827,1052.9 1835.5,1053.7 1844.1,1052.4 1852.7,1050.7 1861.3,1051.9 1869.9,1050 1878.4,1053.9 1887,1052.1 1895.6,1052.9 1904.2,1049.9 1912.7,1052.3 1921.3,1054 1929.9,1054.2 1938.5,1047.4 1947,1049.9 1955.6,1053.2 1964.2,1053.3 1972.8,1048.1 1981.4,1042.9 1989.9,1046.4 1998.5,1047.5 2007.1,1043.3 2015.7,1038 2024.2,1030.5 2032.8,1029 2041.4,1028.3 2050,1026.1 2058.6,1022.3 2067.1,1019.2 2075.7,1015.9 2084.3,1007.8 2092.9,1000.7 2101.4,998.8 2110,991.8 2118.6,987.4 2127.2,987.1 2135.8,981.2" fill="none" stroke="#ff55ff" stroke-width="1.1" stroke-linejoin="round"/>
<polyline points="1664,958.6 1672.6,979.3 1681.2,984.4 1689.7,989.6 1698.3,994.8 1706.9,1020.6 1715.5,1028.4 1724,1033.5 1732.6,1031 1741.2,1033.5 1749.8,1031 1758.3,1031 1766.9,1038.7 1775.5,1038.7 1784.1,1036.1 1792.7,1041.3 1801.2,1041.3 1809.8,1045.4 1818.4,1047.5 1827,1049.1 1835.5,1049.1 1844.1,1050.6 1852.7,1049.1 1861.3,1050.6 1869.9,1050.6 1878.4,1050.6 1887,1049.1 1895.6,1050.6 1904.2,1050.6 1912.7,1049.1 1921.3,1050.6 1929.9,1051.6 1938.5,1046.5 1947,1046.5 1955.6,1049.1 1964.2,1052.7 1972.8,1046.5 1981.4,1041.3 1989.9,1041.3 1998.5,1043.9 2007.1,1038.7 2015.7,1035.1 2024.2,1031 2032.8,1029.9 2041.4,1028.4 2050,1023.2 2058.6,1020.6 2067.1,1019.6 2075.7,1012.9 2084.3,1005.1 2092.9,999.9 2101.4,995.8 2110,989.6 2118.6,984.4 2127.2,987 2135.8,979.3" fill="none" stroke="#ff2cff" stroke-width="3.2" stroke-linejoin="round"/>
<polyline points="1664,968.9 1672.6,999.9 1681.2,1009.2 1689.7,987 1698.3,988.6 1706.9,1020.6 1715.5,1012.9 1724,999.9 1732.6,1010.3 1741.2,1019.6 1749.8,1016.5 1758.3,1012.9 1766.9,1023.2 1775.5,1025.8 1784.1,1012.9 1792.7,1023.2 1801.2,1028.4 1809.8,1037.2 1818.4,1040.3 1827,1037.2 1835.5,1040.3 1844.1,1043.9 1852.7,1040.3 1861.3,1037.2 1869.9,1043.9 1878.4,1043.9 1887,1038.7 1895.6,1041.3 1904.2,1045.4 1912.7,1041.3 1921.3,1035.1 1929.9,1042.3 1938.5,1043.9 1947,1033.5 1955.6,1033.5 1964.2,1043.9 1972.8,1037.2 1981.4,1033.5 1989.9,1038.7 1998.5,1042.3 2007.1,1033.5 2015.7,1031 2024.2,1023.2 2032.8,1021.7 2041.4,1019.6 2050,1010.3 2058.6,1006.1 2067.1,1006.1 2075.7,999.9 2084.3,987 2092.9,987 2101.4,984.4 2110,958.6 2118.6,961.2 2127.2,956 2135.8,950.8" fill="none" stroke="#0d2566" stroke-width="3.2" stroke-linejoin="round"/>
<text x="1757" y="914" font-size="25" font-weight="bold" fill="#000" textLength="6.5" lengthAdjust="spacingAndGlyphs" stroke="#000" stroke-width="0.6">i</text>
<text x="1976" y="997" font-size="25" font-weight="bold" fill="#000" textLength="14.5" lengthAdjust="spacingAndGlyphs" stroke="#000" stroke-width="0.6">ii</text>
<text x="2008.5" y="892.5" font-size="25" font-weight="bold" fill="#000" textLength="22" lengthAdjust="spacingAndGlyphs" stroke="#000" stroke-width="0.6">iii</text>
<line x1="278.8" y1="1246.2" x2="278.8" y2="1524" stroke="#222" stroke-width="1.5"/>
<line x1="268.8" y1="1523.2" x2="517" y2="1523.2" stroke="#222" stroke-width="1.5"/>
<line x1="268.8" y1="1523.2" x2="278.8" y2="1523.2" stroke="#222" stroke-width="1.5"/>
<text x="256.2" y="1530.2" font-size="20" text-anchor="end">0</text>
<line x1="268.8" y1="1467.8" x2="278.8" y2="1467.8" stroke="#222" stroke-width="1.5"/>
<text x="256.2" y="1474.8" font-size="20" text-anchor="end">0.3</text>
<line x1="268.8" y1="1412.5" x2="278.8" y2="1412.5" stroke="#222" stroke-width="1.5"/>
<text x="256.2" y="1419.5" font-size="20" text-anchor="end">0.6</text>
<line x1="268.8" y1="1357" x2="278.8" y2="1357" stroke="#222" stroke-width="1.5"/>
<text x="256.2" y="1364" font-size="20" text-anchor="end">0.9</text>
<line x1="268.8" y1="1301.7" x2="278.8" y2="1301.7" stroke="#222" stroke-width="1.5"/>
<text x="256.2" y="1308.7" font-size="20" text-anchor="end">1.2</text>
<line x1="268.8" y1="1246.2" x2="278.8" y2="1246.2" stroke="#222" stroke-width="1.5"/>
<text x="256.2" y="1253.2" font-size="20" text-anchor="end">1.5</text>
<line x1="278.8" y1="1523.2" x2="278.8" y2="1532.2" stroke="#222" stroke-width="1.5"/>
<text x="278.8" y="1561" font-size="20" text-anchor="middle" textLength="52" lengthAdjust="spacingAndGlyphs">L420</text>
<line x1="380.5" y1="1523.2" x2="380.5" y2="1532.2" stroke="#222" stroke-width="1.5"/>
<text x="380.5" y="1561" font-size="20" text-anchor="middle" textLength="52" lengthAdjust="spacingAndGlyphs">T430</text>
<line x1="485" y1="1523.2" x2="485" y2="1532.2" stroke="#222" stroke-width="1.5"/>
<text x="485" y="1561" font-size="20" text-anchor="middle" textLength="52" lengthAdjust="spacingAndGlyphs">H440</text>
<text x="367" y="1238.75" font-size="25" textLength="48.8" lengthAdjust="spacingAndGlyphs">GP2</text>
<text x="416.2" y="1247.5" font-size="18">A</text>
<text x="287" y="1417" font-size="22">N</text>
<text x="498.8" y="1417" font-size="22">C</text>
<text transform="translate(197 1384.5) rotate(-90)" font-size="25" text-anchor="middle" textLength="110" lengthAdjust="spacingAndGlyphs">RMSF (Å)</text>
<text x="398" y="1602.5" font-size="25" text-anchor="middle" textLength="206" lengthAdjust="spacingAndGlyphs">Residue position</text>
<polyline points="282.5,1334.9 293,1323.8 303.5,1325.7 314,1338.6 324.5,1333 335.1,1320.1 345.6,1334.9 356.1,1338.6 366.6,1327.5 377.1,1327.5 387.6,1331.2 398.1,1329.3 408.6,1329.3 419.1,1347.8 429.7,1346 440.2,1320.1 450.7,1310.9 461.2,1310.9 471.7,1292.4 482.2,1268.4 489.6,1246.2" fill="none" stroke="#1a3a7a" stroke-width="1.1" stroke-linejoin="round"/>
<polyline points="282.5,1386.6 293,1388.4 303.5,1388.4 314,1384.8 324.5,1386.6 335.1,1388.4 345.6,1388.4 356.1,1382.9 366.6,1379.2 377.1,1377.4 387.6,1381.1 398.1,1375.5 408.6,1382.9 419.1,1386.6 429.7,1381.1 440.2,1375.5 450.7,1375.5 461.2,1375.5 471.7,1379.2 482.2,1375.5 492.7,1371.8 503.2,1366.3 513.8,1357" fill="none" stroke="#1a3a7a" stroke-width="1.1" stroke-linejoin="round"/>
<polyline points="282.5,1362.6 293,1362.6 303.5,1360.7 314,1366.3 324.5,1366.3 335.1,1366.3 345.6,1371.8 356.1,1375.5 366.6,1375.5 377.1,1371.8 387.6,1379.2 398.1,1371.8 408.6,1366.3 419.1,1371.8 429.7,1357 440.2,1347.8 450.7,1334.9 461.2,1338.6 471.7,1364.4 482.2,1314.6 492.7,1329.3 503.2,1344.1 513.8,1298" fill="none" stroke="#1a3a7a" stroke-width="1.1" stroke-linejoin="round"/>
<polyline points="282.5,1347.8 293,1342.3 303.5,1353.4 314,1360.7 324.5,1357 335.1,1357 345.6,1351.5 356.1,1342.3 366.6,1338.6 377.1,1355.2 387.6,1349.7 398.1,1329.3 408.6,1338.6 419.1,1353.4 429.7,1353.4 440.2,1349.7 450.7,1344.1 461.2,1368.1 471.7,1368.1 482.2,1344.1 492.7,1357 503.2,1357 513.8,1320.1" fill="none" stroke="#ff55ff" stroke-width="1.1" stroke-linejoin="round"/>
<polyline points="282.5,1370 293,1364.4 303.5,1366.3 314,1375.5 324.5,1375.5 335.1,1371.8 345.6,1371.8 356.1,1375.5 366.6,1375.5 377.1,1371.8 387.6,1371.8 398.1,1366.3 408.6,1370 419.1,1379.2 429.7,1375.5 440.2,1371.8 450.7,1375.5 461.2,1382.9 471.7,1375.5 482.2,1371.8 492.7,1379.2 503.2,1379.2 513.8,1357" fill="none" stroke="#ff55ff" stroke-width="1.1" stroke-linejoin="round"/>
<polyline points="282.5,1366.3 293,1362.6 303.5,1360.7 314,1364.4 324.5,1362.6 335.1,1360.7 345.6,1357 356.1,1360.7 366.6,1364.4 377.1,1360.7 387.6,1364.4 398.1,1360.7 408.6,1357 419.1,1366.3 429.7,1371.8 440.2,1364.4 450.7,1366.3 461.2,1375.5 471.7,1366.3 482.2,1360.7 492.7,1368.1 503.2,1364.4 513.8,1334.9" fill="none" stroke="#ff55ff" stroke-width="1.1" stroke-linejoin="round"/>
<polyline points="282.5,1356.3 293,1356.3 303.5,1362 314,1364.5 324.5,1361.3 335.1,1360 345.6,1363.8 356.1,1360 366.6,1356.3 377.1,1358.8 387.6,1356.3 398.1,1352.5 408.6,1353.8 419.1,1370 429.7,1367.5 440.2,1360 450.7,1366.3 461.2,1380 471.7,1372.5 482.2,1361.3 492.7,1363.8 503.2,1362.5 513.8,1336.3" fill="none" stroke="#ff2cff" stroke-width="3.2" stroke-linejoin="round"/>
<polyline points="282.5,1360 293,1356.3 303.5,1358.8 314,1365 324.5,1360 335.1,1357.5 345.6,1365 356.1,1365 366.6,1357 377.1,1361.3 387.6,1361.3 398.1,1353 408.6,1353 419.1,1362.5 429.7,1352.5 440.2,1338.8 450.7,1338.8 461.2,1351.3 471.7,1337.5 482.2,1313.8 492.7,1307 503.2,1312 513.8,1297.5" fill="none" stroke="#0d2566" stroke-width="3.2" stroke-linejoin="round"/>
<line x1="356.2" y1="1442.5" x2="382" y2="1442.5" stroke="#0d2566" stroke-width="3.5"/>
<text x="397.5" y="1450" font-size="25" textLength="46" lengthAdjust="spacingAndGlyphs">K33</text>
<line x1="356.2" y1="1478.2" x2="382" y2="1478.2" stroke="#ff2cff" stroke-width="3.5"/>
<text x="397.5" y="1486.2" font-size="25" textLength="46" lengthAdjust="spacingAndGlyphs">A33</text>
<line x1="644.2" y1="1246.2" x2="644.2" y2="1524" stroke="#222" stroke-width="1.5"/>
<line x1="633.8" y1="1523.2" x2="885" y2="1523.2" stroke="#222" stroke-width="1.5"/>
<line x1="634.2" y1="1523.2" x2="644.2" y2="1523.2" stroke="#222" stroke-width="1.5"/>
<text x="621.2" y="1530.2" font-size="20" text-anchor="end">0</text>
<line x1="634.2" y1="1467.8" x2="644.2" y2="1467.8" stroke="#222" stroke-width="1.5"/>
<text x="621.2" y="1474.8" font-size="20" text-anchor="end">0.3</text>
<line x1="634.2" y1="1412.5" x2="644.2" y2="1412.5" stroke="#222" stroke-width="1.5"/>
<text x="621.2" y="1419.5" font-size="20" text-anchor="end">0.6</text>
<line x1="634.2" y1="1357" x2="644.2" y2="1357" stroke="#222" stroke-width="1.5"/>
<text x="621.2" y="1364" font-size="20" text-anchor="end">0.9</text>
<line x1="634.2" y1="1301.7" x2="644.2" y2="1301.7" stroke="#222" stroke-width="1.5"/>
<text x="621.2" y="1308.7" font-size="20" text-anchor="end">1.2</text>
<line x1="634.2" y1="1246.2" x2="644.2" y2="1246.2" stroke="#222" stroke-width="1.5"/>
<text x="621.2" y="1253.2" font-size="20" text-anchor="end">1.5</text>
<line x1="644.2" y1="1523.2" x2="644.2" y2="1532.2" stroke="#222" stroke-width="1.5"/>
<text x="644.2" y="1561" font-size="20" text-anchor="middle" textLength="52" lengthAdjust="spacingAndGlyphs">L420</text>
<line x1="748" y1="1523.2" x2="748" y2="1532.2" stroke="#222" stroke-width="1.5"/>
<text x="748" y="1561" font-size="20" text-anchor="middle" textLength="52" lengthAdjust="spacingAndGlyphs">T430</text>
<line x1="854.2" y1="1523.2" x2="854.2" y2="1532.2" stroke="#222" stroke-width="1.5"/>
<text x="854.2" y="1561" font-size="20" text-anchor="middle" textLength="52" lengthAdjust="spacingAndGlyphs">H440</text>
<text x="734.5" y="1238.75" font-size="25" textLength="47.5" lengthAdjust="spacingAndGlyphs">GP2</text>
<text x="782.5" y="1247.5" font-size="18">B</text>
<text x="651.2" y="1417" font-size="22">N</text>
<text x="864.5" y="1417" font-size="22">C</text>
<text transform="translate(564 1384.5) rotate(-90)" font-size="25" text-anchor="middle" textLength="110" lengthAdjust="spacingAndGlyphs">RMSF (Å)</text>
<text x="765.5" y="1602.5" font-size="25" text-anchor="middle" textLength="205" lengthAdjust="spacingAndGlyphs">Residue position</text>
<polyline points="648,1318.3 658.5,1310.9 669.1,1298 679.6,1316.4 690.2,1327.5 700.7,1310.9 711.3,1310.9 721.8,1310.9 732.4,1307.2 742.9,1314.6 753.5,1322 764,1298 774.5,1296.1 785.1,1318.3 795.6,1288.7 806.2,1264.7 816.7,1274 827.3,1296.1 837.8,1327.5 848.4,1329.3 858.9,1310.9 869.5,1312.7 880,1246.2" fill="none" stroke="#1a3a7a" stroke-width="1.1" stroke-linejoin="round"/>
<polyline points="648,1347.8 658.5,1342.3 669.1,1336.7 679.6,1342.3 690.2,1357 700.7,1347.8 711.3,1342.3 721.8,1360.7 732.4,1371.8 742.9,1364.4 753.5,1358.9 764,1364.4 774.5,1371.8 785.1,1375.5 795.6,1360.7 806.2,1349.7 816.7,1364.4 827.3,1371.8 837.8,1371.8 848.4,1375.5 858.9,1386.6 869.5,1379.2 880,1357" fill="none" stroke="#1a3a7a" stroke-width="1.1" stroke-linejoin="round"/>
<polyline points="648,1338.6 658.5,1344.1 669.1,1338.6 679.6,1338.6 690.2,1342.3 700.7,1334.9 711.3,1331.2 721.8,1334.9 732.4,1347.8 742.9,1351.5 753.5,1338.6 764,1334.9 774.5,1347.8 785.1,1368.1 795.6,1357 806.2,1353.4 816.7,1364.4 827.3,1338.6 837.8,1333 848.4,1344.1 858.9,1338.6 869.5,1316.4 880,1323.8" fill="none" stroke="#1a3a7a" stroke-width="1.1" stroke-linejoin="round"/>
<polyline points="648,1325.7 658.5,1316.4 669.1,1316.4 679.6,1334.9 690.2,1340.4 700.7,1323.8 711.3,1333 721.8,1338.6 732.4,1333 742.9,1338.6 753.5,1338.6 764,1334.9 774.5,1333 785.1,1349.7 795.6,1349.7 806.2,1338.6 816.7,1329.3 827.3,1342.3 837.8,1353.4 848.4,1342.3 858.9,1344.1 869.5,1353.4 880,1325.7" fill="none" stroke="#ff55ff" stroke-width="1.1" stroke-linejoin="round"/>
<polyline points="648,1384.8 658.5,1377.4 669.1,1373.7 679.6,1382.9 690.2,1390.3 700.7,1379.2 711.3,1370 721.8,1390.3 732.4,1397.7 742.9,1384.8 753.5,1386.6 764,1388.4 774.5,1384.8 785.1,1384.8 795.6,1379.2 806.2,1377.4 816.7,1375.5 827.3,1373.7 837.8,1375.5 848.4,1371.8 858.9,1360.7 869.5,1357 880,1347.8" fill="none" stroke="#ff55ff" stroke-width="1.1" stroke-linejoin="round"/>
<polyline points="648,1334.9 658.5,1338.6 669.1,1342.3 679.6,1346 690.2,1347.8 700.7,1338.6 711.3,1338.6 721.8,1344.1 732.4,1351.5 742.9,1347.8 753.5,1353.4 764,1351.5 774.5,1344.1 785.1,1357 795.6,1357 806.2,1353.4 816.7,1346 827.3,1349.7 837.8,1371.8 848.4,1360.7 858.9,1353.4 869.5,1353.4 880,1329.3" fill="none" stroke="#ff55ff" stroke-width="1.1" stroke-linejoin="round"/>
<polyline points="648,1348.8 658.5,1342.5 669.1,1343.8 679.6,1355.5 690.2,1358 700.7,1347 711.3,1348.8 721.8,1360 732.4,1360 742.9,1353 753.5,1357.5 764,1357.5 774.5,1350 785.1,1360 795.6,1360 806.2,1352.5 816.7,1346.3 827.3,1356.3 837.8,1366.3 848.4,1353 858.9,1348.8 869.5,1355 880,1332.5" fill="none" stroke="#ff2cff" stroke-width="3.2" stroke-linejoin="round"/>
<polyline points="648,1335 658.5,1332 669.1,1322.5 679.6,1332.5 690.2,1341.3 700.7,1332.5 711.3,1324.5 721.8,1332.5 732.4,1341.3 742.9,1341.3 753.5,1336.3 764,1332 774.5,1340 785.1,1353 795.6,1337 806.2,1327 816.7,1334.5 827.3,1334.5 837.8,1343.8 848.4,1348 858.9,1343 869.5,1333.8 880,1306.3" fill="none" stroke="#0d2566" stroke-width="3.2" stroke-linejoin="round"/>
<line x1="1012" y1="1246.2" x2="1012" y2="1524" stroke="#222" stroke-width="1.5"/>
<line x1="1002" y1="1523.2" x2="1254.5" y2="1523.2" stroke="#222" stroke-width="1.5"/>
<line x1="1002" y1="1523.2" x2="1012" y2="1523.2" stroke="#222" stroke-width="1.5"/>
<text x="988.8" y="1530.2" font-size="20" text-anchor="end">0</text>
<line x1="1002" y1="1467.8" x2="1012" y2="1467.8" stroke="#222" stroke-width="1.5"/>
<text x="988.8" y="1474.8" font-size="20" text-anchor="end">0.3</text>
<line x1="1002" y1="1412.5" x2="1012" y2="1412.5" stroke="#222" stroke-width="1.5"/>
<text x="988.8" y="1419.5" font-size="20" text-anchor="end">0.6</text>
<line x1="1002" y1="1357" x2="1012" y2="1357" stroke="#222" stroke-width="1.5"/>
<text x="988.8" y="1364" font-size="20" text-anchor="end">0.9</text>
<line x1="1002" y1="1301.7" x2="1012" y2="1301.7" stroke="#222" stroke-width="1.5"/>
<text x="988.8" y="1308.7" font-size="20" text-anchor="end">1.2</text>
<line x1="1002" y1="1246.2" x2="1012" y2="1246.2" stroke="#222" stroke-width="1.5"/>
<text x="988.8" y="1253.2" font-size="20" text-anchor="end">1.5</text>
<line x1="1012" y1="1523.2" x2="1012" y2="1532.2" stroke="#222" stroke-width="1.5"/>
<text x="1012" y="1561" font-size="20" text-anchor="middle" textLength="52" lengthAdjust="spacingAndGlyphs">L420</text>
<line x1="1117" y1="1523.2" x2="1117" y2="1532.2" stroke="#222" stroke-width="1.5"/>
<text x="1117" y="1561" font-size="20" text-anchor="middle" textLength="52" lengthAdjust="spacingAndGlyphs">T430</text>
<line x1="1224.5" y1="1523.2" x2="1224.5" y2="1532.2" stroke="#222" stroke-width="1.5"/>
<text x="1224.5" y="1561" font-size="20" text-anchor="middle" textLength="52" lengthAdjust="spacingAndGlyphs">H440</text>
<text x="1102" y="1238.75" font-size="25" textLength="51.2" lengthAdjust="spacingAndGlyphs">GP2</text>
<text x="1153.8" y="1247.5" font-size="18">C</text>
<text x="1020.8" y="1417" font-size="22">N</text>
<text x="1233.2" y="1417" font-size="22">C</text>
<text transform="translate(933 1384.5) rotate(-90)" font-size="25" text-anchor="middle" textLength="110" lengthAdjust="spacingAndGlyphs">RMSF (Å)</text>
<text x="1132.5" y="1602.5" font-size="25" text-anchor="middle" textLength="207" lengthAdjust="spacingAndGlyphs">Residue position</text>
<polyline points="1016.2,1299.8 1026.9,1294.3 1037.5,1301.7 1048.2,1298 1058.8,1292.4 1069.5,1292.4 1080.1,1305.3 1090.8,1307.2 1101.4,1307.2 1112.1,1307.2 1122.7,1314.6 1133.4,1305.3 1144,1310.9 1154.7,1331.2 1165.3,1325.7 1176,1305.3 1186.6,1312.7 1197.3,1333 1207.9,1325.7 1218.6,1301.7 1229.2,1274 1239.9,1275.8 1250.5,1264.7" fill="none" stroke="#1a3a7a" stroke-width="1.1" stroke-linejoin="round"/>
<polyline points="1016.2,1377.4 1026.9,1375.5 1037.5,1377.4 1048.2,1382.9 1058.8,1386.6 1069.5,1381.1 1080.1,1373.7 1090.8,1382.9 1101.4,1386.6 1112.1,1388.4 1122.7,1368.1 1133.4,1379.2 1144,1366.3 1154.7,1366.3 1165.3,1368.1 1176,1364.4 1186.6,1351.5 1197.3,1357 1207.9,1366.3 1218.6,1360.7 1229.2,1357 1239.9,1351.5 1250.5,1305.3" fill="none" stroke="#1a3a7a" stroke-width="1.1" stroke-linejoin="round"/>
<polyline points="1016.2,1342.3 1026.9,1329.3 1037.5,1331.2 1048.2,1358.9 1058.8,1360.7 1069.5,1338.6 1080.1,1351.5 1090.8,1382.9 1101.4,1371.8 1112.1,1353.4 1122.7,1370 1133.4,1358.9 1144,1375.5 1154.7,1377.4 1165.3,1353.4 1176,1342.3 1186.6,1340.4 1197.3,1334.9 1207.9,1327.5 1218.6,1325.7 1229.2,1323.8 1239.9,1316.4 1250.5,1301.7" fill="none" stroke="#1a3a7a" stroke-width="1.1" stroke-linejoin="round"/>
<polyline points="1016.2,1351.5 1026.9,1338.6 1037.5,1325.7 1048.2,1346 1058.8,1357 1069.5,1333 1080.1,1325.7 1090.8,1346 1101.4,1346 1112.1,1336.7 1122.7,1338.6 1133.4,1336.7 1144,1338.6 1154.7,1357 1165.3,1358.9 1176,1347.8 1186.6,1353.4 1197.3,1358.9 1207.9,1360.7 1218.6,1346 1229.2,1346 1239.9,1351.5 1250.5,1336.7" fill="none" stroke="#ff55ff" stroke-width="1.1" stroke-linejoin="round"/>
<polyline points="1016.2,1394 1026.9,1392.1 1037.5,1397.7 1048.2,1401.4 1058.8,1399.5 1069.5,1397.7 1080.1,1401.4 1090.8,1399.5 1101.4,1390.3 1112.1,1394 1122.7,1395.8 1133.4,1381.1 1144,1384.8 1154.7,1394 1165.3,1386.6 1176,1381.1 1186.6,1375.5 1197.3,1375.5 1207.9,1375.5 1218.6,1375.5 1229.2,1375.5 1239.9,1382.9 1250.5,1358.9" fill="none" stroke="#ff55ff" stroke-width="1.1" stroke-linejoin="round"/>
<polyline points="1016.2,1362.6 1026.9,1364.4 1037.5,1364.4 1048.2,1370 1058.8,1371.8 1069.5,1366.3 1080.1,1371.8 1090.8,1377.4 1101.4,1370 1112.1,1368.1 1122.7,1370 1133.4,1362.6 1144,1364.4 1154.7,1371.8 1165.3,1370 1176,1360.7 1186.6,1368.1 1197.3,1366.3 1207.9,1379.2 1218.6,1368.1 1229.2,1364.4 1239.9,1362.6 1250.5,1347.8" fill="none" stroke="#ff55ff" stroke-width="1.1" stroke-linejoin="round"/>
<polyline points="1016.2,1368 1026.9,1363.8 1037.5,1361.3 1048.2,1371.3 1058.8,1375 1069.5,1365.5 1080.1,1368.8 1090.8,1372.5 1101.4,1368 1112.1,1366.3 1122.7,1368 1133.4,1361.3 1144,1361.3 1154.7,1372.5 1165.3,1372.5 1176,1366.3 1186.6,1358.8 1197.3,1365 1207.9,1372.5 1218.6,1362.5 1229.2,1360.5 1239.9,1363 1250.5,1346.3" fill="none" stroke="#ff2cff" stroke-width="3.2" stroke-linejoin="round"/>
<polyline points="1016.2,1340 1026.9,1332.5 1037.5,1338 1048.2,1346.3 1058.8,1346.3 1069.5,1337 1080.1,1342.5 1090.8,1356.3 1101.4,1356.3 1112.1,1348.8 1122.7,1348.8 1133.4,1346.3 1144,1350 1154.7,1358 1165.3,1347.5 1176,1337 1186.6,1335 1197.3,1342 1207.9,1339.5 1218.6,1327.5 1229.2,1315.5 1239.9,1310 1250.5,1285" fill="none" stroke="#0d2566" stroke-width="3.2" stroke-linejoin="round"/>
<line x1="1386.8" y1="1245.5" x2="1386.8" y2="1522" stroke="#222" stroke-width="1.5"/>
<line x1="1376.2" y1="1521.2" x2="1713.2" y2="1521.2" stroke="#222" stroke-width="1.5"/>
<line x1="1376.2" y1="1245.5" x2="1386.8" y2="1245.5" stroke="#222" stroke-width="1.5"/>
<text x="1363.5" y="1252.5" font-size="20" text-anchor="end">1.8</text>
<line x1="1376.2" y1="1315.5" x2="1386.8" y2="1315.5" stroke="#222" stroke-width="1.5"/>
<text x="1363.5" y="1322.5" font-size="20" text-anchor="end">1.6</text>
<line x1="1376.2" y1="1383.2" x2="1386.8" y2="1383.2" stroke="#222" stroke-width="1.5"/>
<text x="1363.5" y="1390.2" font-size="20" text-anchor="end">1.4</text>
<line x1="1376.2" y1="1453.2" x2="1386.8" y2="1453.2" stroke="#222" stroke-width="1.5"/>
<text x="1363.5" y="1460.2" font-size="20" text-anchor="end">1.2</text>
<line x1="1376.2" y1="1521.2" x2="1386.8" y2="1521.2" stroke="#222" stroke-width="1.5"/>
<text x="1363.5" y="1528.2" font-size="20" text-anchor="end">1.0</text>
<line x1="1386.8" y1="1521.2" x2="1386.8" y2="1531.2" stroke="#222" stroke-width="1.5"/>
<line x1="1495.5" y1="1521.2" x2="1495.5" y2="1531.2" stroke="#222" stroke-width="1.5"/>
<line x1="1604.5" y1="1521.2" x2="1604.5" y2="1531.2" stroke="#222" stroke-width="1.5"/>
<line x1="1713.2" y1="1521.2" x2="1713.2" y2="1531.2" stroke="#222" stroke-width="1.5"/>
<rect x="1405.5" y="1347" width="17" height="174.2" fill="#0a1f5e" stroke="#111" stroke-width="1.2"/>
<line x1="1414" y1="1323" x2="1414" y2="1371.2" stroke="#111" stroke-width="1.5"/>
<line x1="1407.5" y1="1323" x2="1420.5" y2="1323" stroke="#111" stroke-width="1.5"/>
<line x1="1407.5" y1="1371.2" x2="1420.5" y2="1371.2" stroke="#111" stroke-width="1.5"/>
<rect x="1461.8" y="1427" width="16.5" height="94.2" fill="#ff22ff" stroke="#111" stroke-width="1.2"/>
<line x1="1470" y1="1402.5" x2="1470" y2="1448.8" stroke="#111" stroke-width="1.5"/>
<line x1="1463.5" y1="1402.5" x2="1476.5" y2="1402.5" stroke="#111" stroke-width="1.5"/>
<line x1="1463.5" y1="1448.8" x2="1476.5" y2="1448.8" stroke="#111" stroke-width="1.5"/>
<rect x="1514.2" y="1385.8" width="17" height="135.5" fill="#0a1f5e" stroke="#111" stroke-width="1.2"/>
<line x1="1522.8" y1="1363.8" x2="1522.8" y2="1407" stroke="#111" stroke-width="1.5"/>
<line x1="1516.2" y1="1363.8" x2="1529.2" y2="1363.8" stroke="#111" stroke-width="1.5"/>
<line x1="1516.2" y1="1407" x2="1529.2" y2="1407" stroke="#111" stroke-width="1.5"/>
<rect x="1570.5" y="1427" width="16.5" height="94.2" fill="#ff22ff" stroke="#111" stroke-width="1.2"/>
<line x1="1578.8" y1="1402.5" x2="1578.8" y2="1451.2" stroke="#111" stroke-width="1.5"/>
<line x1="1572.2" y1="1402.5" x2="1585.2" y2="1402.5" stroke="#111" stroke-width="1.5"/>
<line x1="1572.2" y1="1451.2" x2="1585.2" y2="1451.2" stroke="#111" stroke-width="1.5"/>
<rect x="1623.2" y="1368.8" width="17.5" height="152.5" fill="#0a1f5e" stroke="#111" stroke-width="1.2"/>
<line x1="1632" y1="1347" x2="1632" y2="1393" stroke="#111" stroke-width="1.5"/>
<line x1="1625.5" y1="1347" x2="1638.5" y2="1347" stroke="#111" stroke-width="1.5"/>
<line x1="1625.5" y1="1393" x2="1638.5" y2="1393" stroke="#111" stroke-width="1.5"/>
<rect x="1679.5" y="1438.8" width="16.8" height="82.5" fill="#ff22ff" stroke="#111" stroke-width="1.2"/>
<line x1="1687.9" y1="1417.5" x2="1687.9" y2="1460.8" stroke="#111" stroke-width="1.5"/>
<line x1="1681.4" y1="1417.5" x2="1694.4" y2="1417.5" stroke="#111" stroke-width="1.5"/>
<line x1="1681.4" y1="1460.8" x2="1694.4" y2="1460.8" stroke="#111" stroke-width="1.5"/>
<text x="1443.1" y="1288" font-size="28" text-anchor="middle" textLength="56.2" lengthAdjust="spacingAndGlyphs" letter-spacing="1">****</text>
<line x1="1415" y1="1290" x2="1471.2" y2="1290" stroke="#333" stroke-width="1.5"/>
<text x="1550.9" y="1288" font-size="28" text-anchor="middle" textLength="55.8" lengthAdjust="spacingAndGlyphs" letter-spacing="1">****</text>
<line x1="1523" y1="1290" x2="1578.8" y2="1290" stroke="#333" stroke-width="1.5"/>
<text x="1661.1" y="1288" font-size="28" text-anchor="middle" textLength="56.2" lengthAdjust="spacingAndGlyphs" letter-spacing="1">****</text>
<line x1="1633" y1="1290" x2="1689.2" y2="1290" stroke="#333" stroke-width="1.5"/>
<text x="1418.2" y="1563" font-size="25" textLength="45.8" lengthAdjust="spacingAndGlyphs">SSP</text>
<text x="1464.5" y="1571.8" font-size="18">A</text>
<text x="1526.2" y="1563" font-size="25" textLength="44.8" lengthAdjust="spacingAndGlyphs">SSP</text>
<text x="1571.5" y="1571.8" font-size="18">B</text>
<text x="1638" y="1563" font-size="25" textLength="48" lengthAdjust="spacingAndGlyphs">SSP</text>
<text x="1686.5" y="1571.8" font-size="18">C</text>
<text transform="translate(1311 1383) rotate(-90)" font-size="25" text-anchor="middle" textLength="199" lengthAdjust="spacingAndGlyphs">Averaged RMSF</text>
<line x1="1838.8" y1="1245" x2="1838.8" y2="1523.2" stroke="#222" stroke-width="1.5"/>
<line x1="1831.5" y1="1522.5" x2="2166.5" y2="1522.5" stroke="#222" stroke-width="1.5"/>
<line x1="1831.5" y1="1245" x2="1838.8" y2="1245" stroke="#222" stroke-width="1.5"/>
<text x="1818.2" y="1252" font-size="20" text-anchor="end">1.5</text>
<line x1="1831.5" y1="1300.5" x2="1838.8" y2="1300.5" stroke="#222" stroke-width="1.5"/>
<text x="1818.2" y="1307.5" font-size="20" text-anchor="end">1.3</text>
<line x1="1831.5" y1="1355.8" x2="1838.8" y2="1355.8" stroke="#222" stroke-width="1.5"/>
<text x="1818.2" y="1362.8" font-size="20" text-anchor="end">1.1</text>
<line x1="1831.5" y1="1411.2" x2="1838.8" y2="1411.2" stroke="#222" stroke-width="1.5"/>
<text x="1818.2" y="1418.2" font-size="20" text-anchor="end">0.9</text>
<line x1="1831.5" y1="1466.8" x2="1838.8" y2="1466.8" stroke="#222" stroke-width="1.5"/>
<text x="1818.2" y="1473.8" font-size="20" text-anchor="end">0.7</text>
<line x1="1831.5" y1="1522.5" x2="1838.8" y2="1522.5" stroke="#222" stroke-width="1.5"/>
<text x="1818.2" y="1529.5" font-size="20" text-anchor="end">0.5</text>
<line x1="1838.8" y1="1522.5" x2="1838.8" y2="1532.5" stroke="#222" stroke-width="1.5"/>
<line x1="1947.5" y1="1522.5" x2="1947.5" y2="1532.5" stroke="#222" stroke-width="1.5"/>
<line x1="2055.8" y1="1522.5" x2="2055.8" y2="1532.5" stroke="#222" stroke-width="1.5"/>
<line x1="2166" y1="1522.5" x2="2166" y2="1532.5" stroke="#222" stroke-width="1.5"/>
<rect x="1857.5" y="1396.2" width="17.8" height="126.2" fill="#0a1f5e" stroke="#111" stroke-width="1.2"/>
<line x1="1866.4" y1="1392" x2="1866.4" y2="1400.8" stroke="#111" stroke-width="1.5"/>
<line x1="1859.9" y1="1392" x2="1872.9" y2="1392" stroke="#111" stroke-width="1.5"/>
<line x1="1859.9" y1="1400.8" x2="1872.9" y2="1400.8" stroke="#111" stroke-width="1.5"/>
<rect x="1913.8" y="1415.5" width="16.5" height="107" fill="#ff22ff" stroke="#111" stroke-width="1.2"/>
<line x1="1922" y1="1414" x2="1922" y2="1417" stroke="#111" stroke-width="1.5"/>
<line x1="1915.5" y1="1414" x2="1928.5" y2="1414" stroke="#111" stroke-width="1.5"/>
<line x1="1915.5" y1="1417" x2="1928.5" y2="1417" stroke="#111" stroke-width="1.5"/>
<rect x="1966.2" y="1377" width="17.5" height="145.5" fill="#0a1f5e" stroke="#111" stroke-width="1.2"/>
<line x1="1975" y1="1374.5" x2="1975" y2="1379.5" stroke="#111" stroke-width="1.5"/>
<line x1="1968.5" y1="1374.5" x2="1981.5" y2="1374.5" stroke="#111" stroke-width="1.5"/>
<line x1="1968.5" y1="1379.5" x2="1981.5" y2="1379.5" stroke="#111" stroke-width="1.5"/>
<rect x="2022" y="1403.8" width="16.8" height="118.8" fill="#ff22ff" stroke="#111" stroke-width="1.2"/>
<line x1="2030.4" y1="1402.5" x2="2030.4" y2="1405" stroke="#111" stroke-width="1.5"/>
<line x1="2023.9" y1="1402.5" x2="2036.9" y2="1402.5" stroke="#111" stroke-width="1.5"/>
<line x1="2023.9" y1="1405" x2="2036.9" y2="1405" stroke="#111" stroke-width="1.5"/>
<rect x="2075" y="1384.2" width="17.5" height="138.2" fill="#0a1f5e" stroke="#111" stroke-width="1.2"/>
<line x1="2083.8" y1="1380.5" x2="2083.8" y2="1388" stroke="#111" stroke-width="1.5"/>
<line x1="2077.2" y1="1380.5" x2="2090.2" y2="1380.5" stroke="#111" stroke-width="1.5"/>
<line x1="2077.2" y1="1388" x2="2090.2" y2="1388" stroke="#111" stroke-width="1.5"/>
<rect x="2130.8" y="1423" width="16.8" height="99.5" fill="#ff22ff" stroke="#111" stroke-width="1.2"/>
<line x1="2132.6" y1="1422" x2="2145.6" y2="1422" stroke="#111" stroke-width="1.5"/>
<line x1="2132.6" y1="1424" x2="2145.6" y2="1424" stroke="#111" stroke-width="1.5"/>
<text x="1868.2" y="1563" font-size="25" textLength="47.8" lengthAdjust="spacingAndGlyphs">GP2</text>
<text x="1916.5" y="1571.8" font-size="18">A</text>
<text x="1977" y="1563" font-size="25" textLength="48" lengthAdjust="spacingAndGlyphs">GP2</text>
<text x="2025.5" y="1571.8" font-size="18">B</text>
<text x="2085" y="1563" font-size="25" textLength="49.2" lengthAdjust="spacingAndGlyphs">GP2</text>
<text x="2134.8" y="1571.8" font-size="18">C</text>
<text transform="translate(1761 1388) rotate(-90)" font-size="25" text-anchor="middle" textLength="198" lengthAdjust="spacingAndGlyphs">Averaged RMSF</text>
<text x="1895.1" y="1338.5" font-size="28" text-anchor="middle" textLength="26.2" lengthAdjust="spacingAndGlyphs">**</text>
<line x1="1866.2" y1="1340" x2="1923.8" y2="1340" stroke="#222" stroke-width="1.5"/>
<text x="2002" y="1338.5" font-size="28" text-anchor="middle" textLength="56" lengthAdjust="spacingAndGlyphs">****</text>
<line x1="1973.8" y1="1340" x2="2030.8" y2="1340" stroke="#222" stroke-width="1.5"/>
<text x="2110.8" y="1338.5" font-size="28" text-anchor="middle" textLength="56.5" lengthAdjust="spacingAndGlyphs">****</text>
<line x1="2082.5" y1="1340" x2="2140" y2="1340" stroke="#222" stroke-width="1.5"/>
<rect x="2064.5" y="1226.2" width="24.5" height="24.2" fill="#0a1f5e" stroke="#111" stroke-width="1.2"/>
<text x="2104" y="1248.2" font-size="25" textLength="46.8" lengthAdjust="spacingAndGlyphs">K33</text>
<rect x="2064.5" y="1264.5" width="24.5" height="23.5" fill="#ff22ff" stroke="#111" stroke-width="1.2"/>
<text x="2104" y="1286.2" font-size="25" textLength="48" lengthAdjust="spacingAndGlyphs">A33</text>
</svg>
</body></html>
